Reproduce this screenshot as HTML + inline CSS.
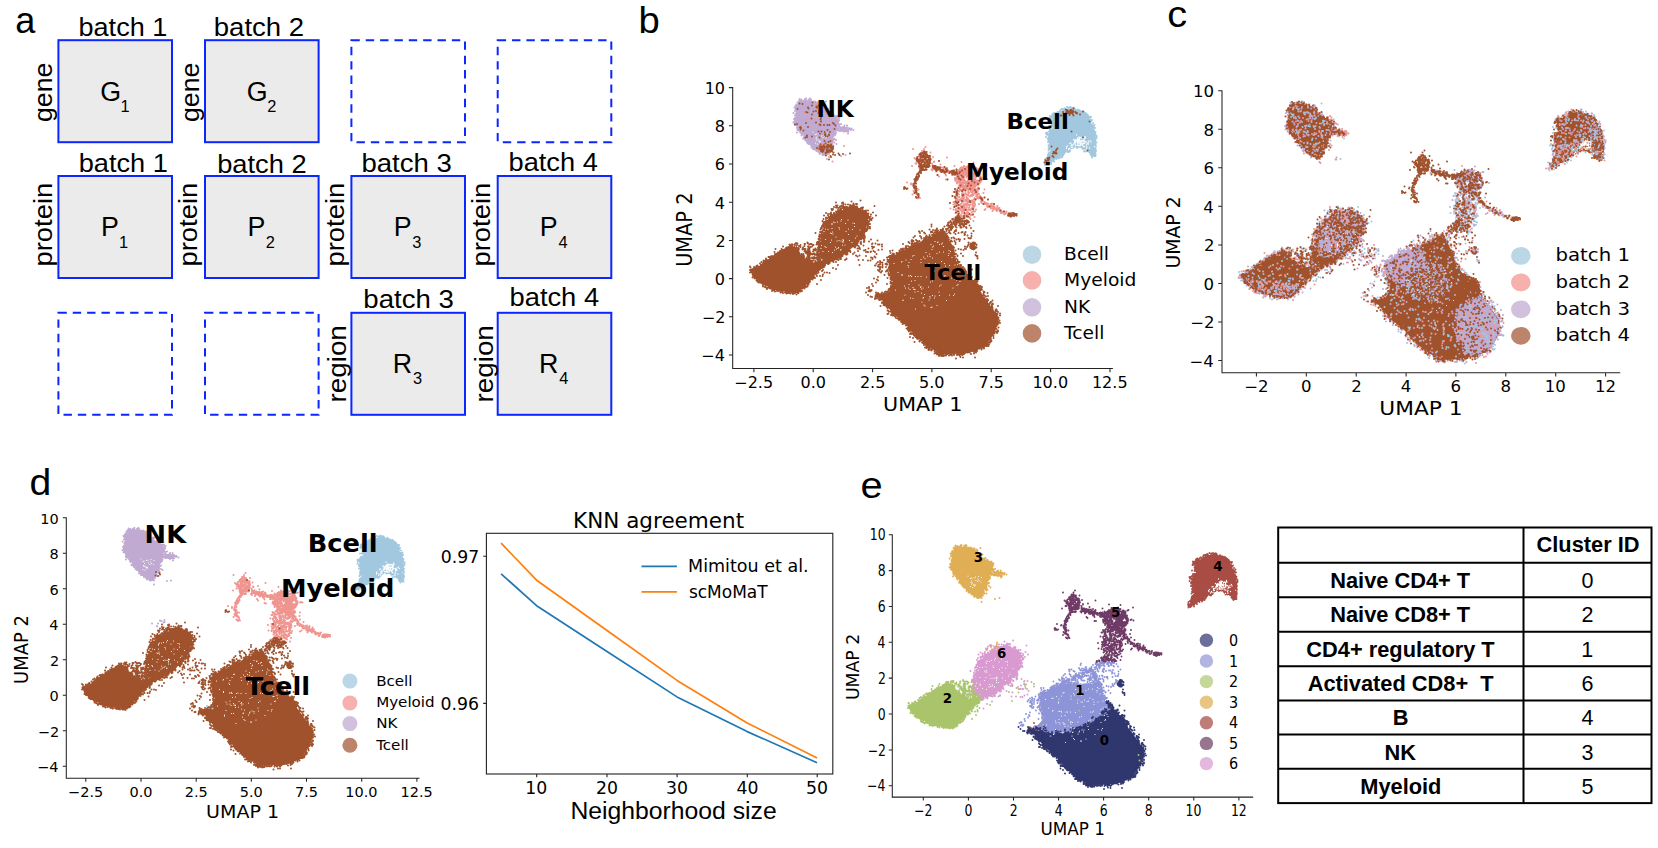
<!DOCTYPE html>
<html lang="en"><head><meta charset="utf-8"><title>scMoMaT figure</title>
<style>html,body{margin:0;padding:0;background:#fff}svg{display:block}text{white-space:pre}</style></head>
<body><svg width="1658" height="848" viewBox="0 0 1658 848">
<rect width="1658" height="848" fill="#fff"/>
<text transform="translate(15.27,33.00) scale(0.9631,1)" font-family='"Liberation Sans", Arial, sans-serif' font-weight="normal" font-size="37.50" fill="#000">a</text>
<text transform="translate(638.51,32.90) scale(1.0195,1)" font-family='"Liberation Sans", Arial, sans-serif' font-weight="normal" font-size="37.50" fill="#000">b</text>
<text transform="translate(1167.31,26.80) scale(1.0605,1)" font-family='"Liberation Sans", Arial, sans-serif' font-weight="normal" font-size="37.50" fill="#000">c</text>
<text transform="translate(29.54,494.70) scale(1.0431,1)" font-family='"Liberation Sans", Arial, sans-serif' font-weight="normal" font-size="37.50" fill="#000">d</text>
<text transform="translate(860.61,498.00) scale(1.0610,1)" font-family='"Liberation Sans", Arial, sans-serif' font-weight="normal" font-size="37.50" fill="#000">e</text>
<rect x="58.4" y="40.2" width="113.6" height="102.0" fill="#ebebeb" stroke="#0c26ff" stroke-width="2"/>
<text transform="translate(100.24,100.60)" font-family='"Liberation Sans", Arial, sans-serif' font-weight="normal" font-size="26.80" fill="#000">G</text>
<text transform="translate(120.50,111.80)" font-family='"Liberation Sans", Arial, sans-serif' font-weight="normal" font-size="16.40" fill="#000">1</text>
<rect x="205.0" y="40.2" width="113.6" height="102.0" fill="#ebebeb" stroke="#0c26ff" stroke-width="2"/>
<text transform="translate(246.63,100.60)" font-family='"Liberation Sans", Arial, sans-serif' font-weight="normal" font-size="26.80" fill="#000">G</text>
<text transform="translate(267.31,111.80)" font-family='"Liberation Sans", Arial, sans-serif' font-weight="normal" font-size="16.40" fill="#000">2</text>
<rect x="351.4" y="40.2" width="113.6" height="102.0" fill="none" stroke="#0c26ff" stroke-width="2" stroke-dasharray="8.4 5.95"/>
<rect x="497.7" y="40.2" width="113.6" height="102.0" fill="none" stroke="#0c26ff" stroke-width="2" stroke-dasharray="8.4 5.95"/>
<rect x="58.4" y="176.0" width="113.6" height="102.0" fill="#ebebeb" stroke="#0c26ff" stroke-width="2"/>
<text transform="translate(101.04,236.40)" font-family='"Liberation Sans", Arial, sans-serif' font-weight="normal" font-size="26.80" fill="#000">P</text>
<text transform="translate(118.89,247.60)" font-family='"Liberation Sans", Arial, sans-serif' font-weight="normal" font-size="16.40" fill="#000">1</text>
<rect x="205.0" y="176.0" width="113.6" height="102.0" fill="#ebebeb" stroke="#0c26ff" stroke-width="2"/>
<text transform="translate(247.44,236.40)" font-family='"Liberation Sans", Arial, sans-serif' font-weight="normal" font-size="26.80" fill="#000">P</text>
<text transform="translate(265.70,247.60)" font-family='"Liberation Sans", Arial, sans-serif' font-weight="normal" font-size="16.40" fill="#000">2</text>
<rect x="351.4" y="176.0" width="113.6" height="102.0" fill="#ebebeb" stroke="#0c26ff" stroke-width="2"/>
<text transform="translate(393.69,236.40)" font-family='"Liberation Sans", Arial, sans-serif' font-weight="normal" font-size="26.80" fill="#000">P</text>
<text transform="translate(412.16,247.60)" font-family='"Liberation Sans", Arial, sans-serif' font-weight="normal" font-size="16.40" fill="#000">3</text>
<rect x="497.7" y="176.0" width="113.6" height="102.0" fill="#ebebeb" stroke="#0c26ff" stroke-width="2"/>
<text transform="translate(539.75,236.40)" font-family='"Liberation Sans", Arial, sans-serif' font-weight="normal" font-size="26.80" fill="#000">P</text>
<text transform="translate(558.46,247.60)" font-family='"Liberation Sans", Arial, sans-serif' font-weight="normal" font-size="16.40" fill="#000">4</text>
<rect x="58.4" y="312.8" width="113.6" height="102.0" fill="none" stroke="#0c26ff" stroke-width="2" stroke-dasharray="8.4 5.95"/>
<rect x="205.0" y="312.8" width="113.6" height="102.0" fill="none" stroke="#0c26ff" stroke-width="2" stroke-dasharray="8.4 5.95"/>
<rect x="351.4" y="312.8" width="113.6" height="102.0" fill="#ebebeb" stroke="#0c26ff" stroke-width="2"/>
<text transform="translate(392.85,373.20)" font-family='"Liberation Sans", Arial, sans-serif' font-weight="normal" font-size="26.80" fill="#000">R</text>
<text transform="translate(413.00,384.40)" font-family='"Liberation Sans", Arial, sans-serif' font-weight="normal" font-size="16.40" fill="#000">3</text>
<rect x="497.7" y="312.8" width="113.6" height="102.0" fill="#ebebeb" stroke="#0c26ff" stroke-width="2"/>
<text transform="translate(538.91,373.20)" font-family='"Liberation Sans", Arial, sans-serif' font-weight="normal" font-size="26.80" fill="#000">R</text>
<text transform="translate(559.30,384.40)" font-family='"Liberation Sans", Arial, sans-serif' font-weight="normal" font-size="16.40" fill="#000">4</text>
<text transform="translate(78.51,35.50) scale(1.0175,1)" font-family='"Liberation Sans", Arial, sans-serif' font-weight="normal" font-size="26.60" fill="#000">batch 1</text>
<text transform="translate(213.78,35.50) scale(1.0365,1)" font-family='"Liberation Sans", Arial, sans-serif' font-weight="normal" font-size="26.60" fill="#000">batch 2</text>
<text transform="translate(78.70,171.80) scale(1.0223,1)" font-family='"Liberation Sans", Arial, sans-serif' font-weight="normal" font-size="26.60" fill="#000">batch 1</text>
<text transform="translate(217.19,172.50) scale(1.0258,1)" font-family='"Liberation Sans", Arial, sans-serif' font-weight="normal" font-size="26.60" fill="#000">batch 2</text>
<text transform="translate(361.38,172.40) scale(1.0361,1)" font-family='"Liberation Sans", Arial, sans-serif' font-weight="normal" font-size="26.60" fill="#000">batch 3</text>
<text transform="translate(508.50,171.40) scale(1.0241,1)" font-family='"Liberation Sans", Arial, sans-serif' font-weight="normal" font-size="26.60" fill="#000">batch 4</text>
<text transform="translate(363.37,307.80) scale(1.0384,1)" font-family='"Liberation Sans", Arial, sans-serif' font-weight="normal" font-size="26.60" fill="#000">batch 3</text>
<text transform="translate(509.49,305.80) scale(1.0276,1)" font-family='"Liberation Sans", Arial, sans-serif' font-weight="normal" font-size="26.60" fill="#000">batch 4</text>
<text transform="translate(51.80,122.07) rotate(-90) scale(1.0048,1)" font-family='"Liberation Sans", Arial, sans-serif' font-weight="normal" font-size="26.60" fill="#000">gene</text>
<text transform="translate(198.70,122.07) rotate(-90) scale(1.0048,1)" font-family='"Liberation Sans", Arial, sans-serif' font-weight="normal" font-size="26.60" fill="#000">gene</text>
<text transform="translate(52.40,266.51) rotate(-90) scale(1.0294,1)" font-family='"Liberation Sans", Arial, sans-serif' font-weight="normal" font-size="26.60" fill="#000">protein</text>
<text transform="translate(197.00,266.51) rotate(-90) scale(1.0294,1)" font-family='"Liberation Sans", Arial, sans-serif' font-weight="normal" font-size="26.60" fill="#000">protein</text>
<text transform="translate(344.40,266.51) rotate(-90) scale(1.0294,1)" font-family='"Liberation Sans", Arial, sans-serif' font-weight="normal" font-size="26.60" fill="#000">protein</text>
<text transform="translate(489.80,266.51) rotate(-90) scale(1.0294,1)" font-family='"Liberation Sans", Arial, sans-serif' font-weight="normal" font-size="26.60" fill="#000">protein</text>
<text transform="translate(346.30,402.41) rotate(-90) scale(1.0441,1)" font-family='"Liberation Sans", Arial, sans-serif' font-weight="normal" font-size="26.60" fill="#000">region</text>
<text transform="translate(493.40,402.41) rotate(-90) scale(1.0441,1)" font-family='"Liberation Sans", Arial, sans-serif' font-weight="normal" font-size="26.60" fill="#000">region</text>
<path d="M798.8 101.9L805.5 100.0L812.8 101.7L818.9 103.4L826.8 112.8L836.2 116.7L838.2 119.8L836.3 125.9L834.3 133.9L831.6 140.6L830.2 146.0L827.7 152.4L825.8 155.5L818.9 151.9L813.8 146.7L807.1 140.1L800.5 132.1L795.4 124.0L797.5 115.6L796.1 108.3Z" fill="#c0aad2"/>
<path transform="scale(.5)" d="M1598 202zm1 1zm0-5zm1 5zm0-2zm1 2zm0-1zm1 0zm1-3zm0 4zm0-3zm3 3zm1-1zm2 1zm1-4zm0-1zm1 5zm0-3zm1-3zm1 5zm3 1zm1-4zm2 3zm1-5zm2 6zm0-4zm1 4zm4 0zm4 0zm21 0zm-5 12zm0-1zm-1-1zm-1 2zm0-6zm-1 1zm0 4zm-1-7zm-1 8zm-1-2zm0-1zm0-2zm-1-1zm-1-1zm0-3zm-3 4zm0-5zm-1 2zm-1 2zm-1 0zm0-1zm-1-1zm-1-2zm-1 1zm-1 0zm-1 1zm-2-1zm0 2zm-1 1zm-2-4zm0 3zm-1-2zm-4 0zm-2-1zm-9 0zm-2 0zm-2 0zm-1 1zm-1 6zm-1-6zm-1 1zm0 6zm-2-1zm0-5zm0-1zm0 4zm0 4zm-1 0zm-1-1zm0 3zm0-10zm-1 7zm-1-2zm0 4zm0-5zm-1 2zm-1 1zm-2 3zm-2 11zm3-4zm1-4zm0-2zm1 0zm1 6zm0 4zm1-1zm0-6zm0 2zm2 1zm0-6zm3 9zm43-8zm1-1zm2 2zm0-2zm1 4zm1-3zm1 2zm0 2zm1-2zm1 4zm1 4zm1-6zm0 3zm0-5zm0-1zm0 9zm2-3zm1 2zm0 1zm1-9zm3 8zm1 1zm2-2zm17 11zm-3 3zm0-5zm-2 5zm0-5zm0-2zm-1 5zm-1 1zm-1-5zm-2-1zm-1 2zm-1-5zm0 3zm0-2zm-1 0zm0-1zm0 3zm-1 5zm0-6zm-1 1zm0-1zm-2-1zm-2-1zm-2 2zm0-3zm-1 0zm-58 5zm-2 6zm0-7zm0 4zm-1-3zm0-5zm0 4zm0 3zm0-5zm-1 5zm0-5zm0 9zm0-2zm-1 2zm0-10zm0 3zm-1 5zm0-2zm0 4zm0-5zm-1 5zm0-10zm0-1zm-1 1zm-1 7zm0-5zm-1 8zm0-2zm-1 1zm-1 7zm1-1zm1 4zm1-7zm0 9zm0-1zm0-5zm1 6zm1 0zm0-1zm0-1zm0-6zm1 1zm0 4zm1-3zm0 7zm0-1zm0-5zm0 4zm3-9zm0 9zm68-2zm5 4zm0-6zm1-3zm1 8zm0-1zm1-2zm0 3zm0-6zm1 6zm0-6zm0 4zm0-1zm0-5zm1 5zm0-7zm1 8zm0-5zm0 3zm0-5zm1 2zm0-1zm1 9zm0-10zm0-1zm0 9zm1 0zm3-1zm7 3zm5 0zm13 9zm-4-3zm0 1zm-1 2zm-2-2zm-2 0zm0-2zm-1 7zm-1-1zm0-2zm-1 1zm-1-4zm0-2zm-1 8zm0-1zm-2-6zm0 3zm0-2zm-1 4zm0-5zm0 4zm-1 1zm0-6zm0 8zm0-5zm-2-4zm0 9zm0-6zm0-2zm-1 7zm0-1zm0-5zm0-2zm-1 4zm0 3zm-1-4zm0 4zm0-2zm-1 2zm0-6zm0 3zm-1-1zm0 3zm-1 2zm0-5zm-1-3zm0 2zm-1 6zm-1-10zm0 6zm0-5zm-2 7zm-1-3zm0 4zm0-6zm-2-3zm0 3zm0 4zm0-5zm0 4zm-1-6zm-1 6zm0 3zm-1-4zm0 4zm-1-6zm0-2zm0 4zm-1 5zm0-5zm-1 5zm0-2zm-64 0zm-1-4zm-2-2zm0 4zm-1 5zm-1-7zm0 4zm-1 0zm0-1zm0-5zm-1 6zm0-6zm-1 6zm0-6zm0 4zm0-6zm0 4zm-1 0zm0-1zm0 10zm6-1zm1 1zm2 3zm0 3zm0-5zm1 4zm0-3zm1 2zm1-5zm0 3zm1 0zm1 7zm1-8zm0 9zm1-6zm1 3zm0 3zm0-1zm3 1zm46-8zm2 8zm1 0zm0-1zm2 1zm1-3zm0-5zm0 3zm1-4zm0 7zm1-8zm0-1zm0 4zm1-2zm1 4zm0-5zm0 3zm1 0zm1-3zm24 2zm-27 11zm0 7zm-1-6zm-2 1zm0-1zm-1 7zm0-5zm0 2zm0-6zm-1-1zm0 8zm-1-2zm0-1zm0 4zm0-1zm0-5zm-1 7zm0-1zm0-2zm-1-1zm0-2zm0-1zm-1 1zm-1-2zm-1 7zm-1 1zm-27-1zm-7 2zm-2 0zm0-1zm-1 1zm0-1zm0-1zm-1-2zm-1 1zm0-1zm-2-5zm-1 4zm0-5zm0 9zm0-5zm-1-4zm0 7zm-2-4zm-1 1zm0-2zm-2-1zm0-1zm-1-1zm-2 1zm11 11zm4 1zm1 2zm0-2zm1 6zm0-5zm1-1zm1 2zm0 3zm1-5zm0 9zm0-4zm1-3zm0 2zm0-5zm0 8zm1-5zm0 4zm0-1zm1 1zm0-5zm0 9zm0-1zm0-7zm1 8zm0-2zm0-6zm1 6zm0-5zm1 6zm0-5zm1 6zm0-1zm1 0zm1-1zm1 1zm22-1zm0-5zm0-1zm0 8zm1-11zm0 8zm1-5zm0 7zm1-8zm1-1zm0-1zm1 5zm2 1zm0-5zm2 3zm6-4zm18 22zm-27-10zm-4 0zm-3 5zm0-4zm-1 2zm-1-1zm-1-2zm0 6zm0 4zm-1-3zm0-2zm-2-2zm-1-2zm0 9zm-1-3zm-2 3zm-1-2zm0-1zm-1 3zm0-1zm-1-4zm0-1zm0-2zm-3 4zm0-5zm-1 3zm-1 4zm-1-4zm-1-2zm0 2zm-3-3zm-1-1zm0 2zm21 16zm28-6z" stroke="#c0aad2" stroke-width="4.0" stroke-linecap="round" fill="none"/>
<path transform="scale(.5)" d="M1626 264zm5 5zm2 5zm0-6zm5-1zm3-1zm2 6zm3 3zm1-11zm0 6zm2 3zm4 2zm1-8zm-13 16zm-2 1zm-1-2zm0-1zm-2-3zm-3 2zm-1-3zm-1 9zm4 2z" stroke="#fff" stroke-width="2.4" stroke-linecap="round" fill="none"/>
<path d="M1051.0 117.1L1058.2 113.8L1066.3 109.3L1073.9 108.7L1082.4 111.8L1088.4 116.7L1092.2 125.6L1094.7 136.0L1094.1 146.5L1094.8 154.0L1093.6 155.7L1090.0 154.0L1086.9 150.2L1081.5 146.4L1075.0 146.4L1069.1 149.3L1063.8 153.4L1056.0 158.6L1048.4 162.4L1044.9 163.8L1045.2 162.7L1049.7 154.9L1051.1 145.1L1048.5 134.7L1053.7 126.7Z" fill="#a2c8e0"/>
<path transform="scale(.5)" d="M2148 215zm-7-1zm-3 1zm-4-1zm-27 13zm2-1zm4 0zm2-2zm2 0zm1 3zm1-1zm1 1zm0-5zm1-1zm2 3zm0-6zm1 7zm1-1zm0-5zm0 6zm1-6zm1 3zm0-1zm1-1zm0-1zm0-1zm1-1zm0 4zm0-1zm1 7zm0-10zm0 3zm0-1zm1 0zm1 6zm1-5zm4-4zm0 3zm1 0zm3 1zm1-1zm0-1zm0-1zm1 0zm2 1zm0-2zm1 5zm0-5zm0 4zm1-4zm1 5zm0-1zm0-2zm1 4zm0-5zm0 8zm0-6zm1 0zm3 4zm2 1zm0-5zm1 1zm2 0zm0 3zm0-1zm1 1zm1-1zm1 0zm2 3zm1-2zm0 4zm1-2zm1 1zm0-1zm1-2zm2 2zm1 2zm0-1zm2 1zm10 7zm-1 1zm0-1zm-1 5zm-2 0zm0-5zm-1-1zm-1 4zm0-6zm-1-1zm0 9zm0-5zm0-3zm-1 5zm0-6zm0-1zm-1 4zm-2-3zm-3 1zm0-1zm0-1zm0-1zm-48 0zm-1 1zm-1 1zm-1-1zm-5 1zm0-2zm-1 1zm-1 1zm-1-2zm-1 3zm0 7zm0-5zm-1 1zm0-1zm0 3zm0-5zm-1 6zm0-7zm0 8zm-1-5zm0-5zm0 10zm-1-4zm0 3zm0-6zm-1 4zm0-2zm-1 3zm0-2zm-1 4zm-1-6zm0 4zm-2 3zm1 1zm4 5zm1 4zm0-2zm0-5zm0 4zm0-1zm1 3zm1 3zm0-5zm0 4zm1-7zm0 4zm0 4zm0-5zm70-4zm1-1zm1 2zm1 5zm0-2zm0-2zm1 4zm0-6zm0 8zm1-7zm1 7zm1-10zm1 11zm1 0zm0-5zm3 4zm1 6zm-2 6zm0-1zm0-1zm0-5zm-1-1zm0 8zm0-10zm0 9zm-1-8zm0 8zm0-5zm-1 4zm0-6zm0 3zm-1-3zm0 9zm-1-10zm0 7zm-1-5zm0 2zm0 4zm-1-4zm-1-3zm-70 2zm-1 1zm0-1zm-1 2zm-1-5zm-1 6zm-1-6zm-1 6zm-1 0zm-1-7zm0 8zm-2 0zm0-1zm-1 4zm-1 0zm0-11zm-6 22zm0-8zm1 3zm1-4zm1 2zm1 3zm1 1zm0 4zm2-8zm0 4zm0-7zm1 6zm0-3zm1 5zm0-7zm0-1zm2 0zm81 9zm2-2zm0-5zm0-1zm1-1zm0 4zm0 4zm0-6zm2 4zm0 3zm0-1zm1-7zm0 1zm1 3zm0-5zm2 10zm0-2zm0 4zm0 9zm-1-9zm0 9zm-1-5zm0 4zm0-5zm-1 0zm0 3zm0-5zm0 4zm-1-3zm0 4zm-1 2zm0-1zm0-2zm-1-5zm-1 3zm0-2zm-3 10zm-79-9zm-1 2zm0 3zm0-2zm0-5zm-1 4zm0 7zm-1-2zm0-1zm0-5zm0 8zm-1-10zm0-1zm0 9zm0-5zm-1 2zm0-1zm0 4zm0-6zm-1 0zm0 3zm0-6zm-2 1zm0 7zm0-5zm1 17zm0-5zm1 8zm1-9zm0 4zm0-5zm1 8zm0-1zm0-1zm0-5zm1 7zm0-5zm1 4zm0-1zm0-1zm0-1zm0-5zm0 9zm1-3zm0-2zm0-1zm1 8zm4-8zm26 6zm2 2zm1 0zm2-1zm1 0zm0-1zm0-1zm1-2zm0 2zm1 2zm1-2zm0-1zm0 2zm2-2zm1 0zm0-1zm1-3zm0 4zm2-4zm2 2zm1-2zm1-2zm1 7zm0-5zm1 3zm3-1zm0 1zm1-5zm2 5zm0-1zm1-3zm0 4zm0-1zm0-1zm1 2zm1-4zm1 3zm0 4zm2 2zm0-6zm1 2zm0 4zm2-1zm0-1zm2-3zm2 4zm0 1zm12-9zm1 7zm0-7zm1-1zm0 9zm0-1zm0 2zm1-9zm0-2zm0 9zm1-8zm1 10zm0-10zm0 7zm1-4zm0 9zm0 1zm-1 2zm0 4zm0 2zm-1-8zm0 2zm-1 1zm0 4zm0-7zm-1 3zm0-5zm-1 8zm-1 2zm0-2zm-1-7zm0 4zm-1 3zm-1 3zm-1-2zm-1 0zm0-1zm-2-4zm-2-1zm-1-1zm0-1zm-1-1zm-3 3zm-3-1zm-1 1zm-28-1zm-2-1zm0-1zm0 4zm-1-1zm-1-1zm-1 2zm-2-3zm0-1zm-1 1zm-2 3zm-1 2zm-1 1zm-1-2zm0 4zm0-5zm0-1zm-1 7zm0-5zm0 6zm-1-4zm-1-1zm-2 5zm0-5zm-2 3zm-1 2zm-4-1zm-12 1zm-1-6zm0-1zm0 2zm-1 1zm0-2zm0-1zm-1 7zm-1-1zm-1-2zm0-1zm0-1zm-1-5zm0 6zm-1 3zm-6 11zm0-2zm3-3zm1 0zm1 7zm0-5zm1-5zm0-1zm0 7zm1-5zm1 2zm0-2zm1 6zm0-5zm0-2zm0-1zm1 2zm1 7zm2 0zm1-3zm1 2zm0 1zm1 0zm2-2zm0 4zm0-10zm1 3zm1 1zm0-1zm1 1zm1 0zm0-2zm1 3zm1-2zm1-3zm1 2zm1 0zm1-2zm0 4zm0-5zm1 1zm1 2zm4 0zm0-2zm60 2zm0-2zm4-1zm1 0zm2 0zm-88 12zm-1 4zm-1-3zm-4 0zm0-1zm-1 3zm-2 2zm0-3zm-1-1zm0 3zm-1-3zm-1-1zm0 4zm0-1zm-1-1zm0 4zm0-2zm-1-4z" stroke="#a2c8e0" stroke-width="4.0" stroke-linecap="round" fill="none"/>
<path transform="scale(.5)" d="M2153 270zm5 4zm3 1zm1 0zm8-1zm0-1zm12 11zm-2-3zm-3 2zm-1 3zm-3-2zm-2 0zm0-8zm-2 11zm0-5zm0-6zm-1 6zm0-5zm0 2zm0 6zm0-5zm-1 1zm0 6zm0-5zm-2-6zm-1 1zm0 9zm0-5zm0 2zm-2 1zm0-3zm-1 2zm0 4zm-1-11zm-1 8zm0-7zm0 2zm0 2zm-1-1zm0 2zm0 4zm0-10zm0 9zm-1-6zm0 2zm-1-1zm0-1zm0 4zm0 2zm-1-1zm0-7zm0 4zm0-5zm0 2zm0 9zm-2-5zm-1-2zm0-1zm0 4zm-1 3zm0-5zm-1 4zm0-5zm0 2zm0 2zm-1 0zm0-3zm0 1zm-1 5zm0-1zm-1-7zm-5 7zm-2 1zm-7 7zm0 3zm2-5zm2 7zm1-2zm1 0zm3 2zm0-7zm1 3zm0-5zm1 0zm1 4zm1-4zm2-2zm3 3zm0-1zm3 1zm1 0zm1-2zm1 2zm1 0zm2-3zm0 4zm1-2zm1-1zm2-1zm1 3zm1-3zm1 5zm2 0zm4 3zm0-6zm1-2zm0 6zm3-6zm2 8zm-6 4zm-5 0z" stroke="#fff" stroke-width="2.6" stroke-linecap="round" fill="none"/>
<path transform="scale(.5)" d="M1826 298zm22 0zm3-4zm10 11zm-2 6zm-5-2zm0 2zm-1-7zm0 7zm-1-6zm0 4zm0-1zm-1-1zm-2-3zm0-1zm0 3zm-1 4zm0-7zm-1 0zm0 6zm-2-3zm-1-4zm-1 5zm0 4zm-1-3zm0-1zm-1 0zm0 1zm0 3zm0-1zm-1-1zm-1 0zm-10 7zm2 2zm2 4zm1-1zm0-5zm0 2zm0 2zm1-6zm0 9zm0-1zm1 0zm0 1zm1-4zm1 4zm0-11zm2 3zm0 6zm0-1zm0 3zm1-7zm0 5zm0-8zm0 9zm0-10zm1 6zm0 3zm0-9zm1 9zm0-8zm0-1zm1 8zm0 2zm0-10zm1 9zm0-1zm0-8zm0 1zm0 2zm0 3zm2 5zm0-1zm0-8zm0 6zm1-8zm1 2zm0-1zm0 5zm0 2zm0-8zm1 5zm1-2zm0 1zm0 2zm1-4zm0 2zm0 4zm1 2zm0 1zm1-9zm1-2zm0 11zm1-3zm0-8zm1 3zm0 4zm0 4zm0-7zm1 2zm0-6zm1 3zm0 2zm0 3zm0-8zm0 2zm1 8zm0-10zm0 3zm1 3zm0 1zm5-5zm2 9zm10-1zm16-7zm79 16zm-26 2zm0-8zm-3 9zm-2-3zm-1 3zm0 1zm-1-3zm-2 2zm-1 1zm-1-3zm-1 1zm0 2zm-2-1zm-4-1zm-1-1zm-1 1zm0 2zm-4 0zm0-11zm-1 11zm-13-3zm-20 2zm-4 1zm-3 0zm-1-6zm-1 6zm-2 0zm-1 0zm-2-1zm-2 1zm-2-3zm0 3zm-1-2zm0 1zm-1-2zm-1-8zm0 11zm-1-1zm-1 0zm0-2zm-1 2zm0-1zm0-3zm-1-3zm-4-1zm-1 6zm0-8zm-1 4zm0 1zm0 3zm0-1zm-1-4zm0 2zm0 3zm0 2zm-1-1zm0-9zm-1 1zm0 4zm0 5zm-1-4zm0 4zm-1-9zm0 2zm0 5zm-1 0zm-1 1zm0 2zm0-10zm0 4zm0 1zm-1-4zm0 2zm-1 6zm0-9zm0 3zm0 3zm0 1zm-1-2zm-1 0zm0-1zm-1 5zm0-4zm-1 2zm0-8zm-1 7zm0 2zm0 2zm0-10zm-1 6zm0 4zm0-11zm-1 8zm0-6zm0 2zm0 1zm-1 2zm0 3zm-2-7zm0 2zm0 2zm-1 2zm0-7zm-5 1zm-2 0zm-7 5zm12 15zm2-2zm1-8zm1 5zm0-1zm0 2zm1 1zm0-7zm0-1zm1 10zm0-9zm0 2zm1 1zm0 1zm1-2zm0 1zm1-3zm0 3zm1-2zm0 2zm3 0zm2-1zm1 1zm1-1zm10 0zm2-2zm0 4zm2-4zm1 0zm1 0zm1-1zm1 3zm1-3zm0 7zm1-1zm0-1zm0-5zm0 3zm1-3zm0 4zm2 0zm1-2zm1-2zm0 3zm1 2zm1-2zm0-1zm0 3zm0 1zm1 1zm0-4zm1 1zm0 1zm0 2zm1-3zm0 2zm0 2zm0-1zm1 0zm0-1zm2-2zm0 3zm1-5zm0 3zm1-3zm0 3zm0 3zm1 1zm0 2zm0-8zm0 4zm1 1zm0 1zm1-5zm0 4zm1-5zm0 5zm0-6zm1 2zm0-3zm1 6zm0-6zm0-1zm0 2zm1 4zm0-1zm0 2zm0-3zm2 5zm1-3zm0 1zm1 0zm0 3zm1-2zm3 1zm0-3zm1 4zm0-1zm0 2zm1-2zm0-4zm0 2zm0-1zm1 3zm1-3zm0 2zm0 2zm0-1zm1-3zm0-1zm0 3zm0 1zm2 1zm0 1zm1-1zm0-1zm0 2zm1-3zm0 1zm0 2zm1-8zm0 4zm1-1zm0 4zm0-1zm0-4zm1 2zm1-2zm0 2zm2 4zm0-7zm0 6zm1 0zm0-1zm0-2zm0-1zm0 2zm1-4zm0 1zm0 3zm0-7zm1 6zm0 2zm1-8zm1 3zm0 4zm0-1zm1-5zm0 3zm0 2zm1 0zm0 3zm0-6zm1 1zm0-1zm0 6zm0-1zm0 2zm0-10zm1 6zm0-2zm1 4zm0-6zm0 2zm1-1zm1 4zm0-6zm1-1zm0 4zm1 4zm0 2zm0-6zm0 3zm1-7zm0 2zm0 3zm0 2zm1 2zm0-1zm0-6zm1 7zm0-1zm0-1zm1 2zm0-5zm1 3zm0 2zm0 1zm1-11zm0 2zm1 3zm0 3zm1-6zm0 3zm0 2zm1 4zm0-9zm0 5zm0-1zm0 2zm1-8zm0 3zm1-2zm0 4zm0 1zm1 2zm1-6zm1 7zm1-6zm1 8zm0-8zm1 7zm0 1zm0-7zm0 4zm1 0zm0 2zm0-7zm0-1zm0 4zm1 5zm0-4zm0-1zm0 4zm1-9zm1-1zm0 5zm0 1zm0 4zm0 1zm1-8zm0-1zm0 2zm0 3zm1 2zm1-5zm0 3zm1-2zm0 5zm1-3zm0-5zm2 9zm2-10zm2-1zm10 22zm-4-2zm-2 1zm-5-1zm0-1zm0 3zm0 1zm-1-2zm0 1zm-1-5zm0 4zm0-8zm-1 1zm0 9zm-1-9zm0 5zm0-1zm0-6zm-1 1zm-1-1zm-1 4zm-1-3zm-1 1zm-1 3zm-1-4zm0 6zm-1-6zm0 3zm-1 2zm0 4zm0-10zm0 9zm0-4zm-2-3zm0 9zm0-8zm-1-1zm0 3zm-1 3zm0-1zm0-7zm-1 5zm0 1zm0 4zm0-7zm-1 4zm0-1zm-1-3zm0 1zm0 6zm0-10zm-2 11zm0-4zm0-1zm-1 5zm0-7zm0 3zm-1-3zm0 2zm0 4zm-1 1zm0-10zm0 2zm0-1zm0 6zm-1 1zm-1-9zm0 2zm0 2zm-1-1zm-1-1zm-1 2zm0 3zm0-1zm-1-6zm0 3zm-2-3zm-1 0zm0 11zm-1-7zm0 2zm0 4zm0 1zm0-10zm-1 6zm0 3zm0-9zm0 1zm-1 1zm0 3zm0 4zm-1-6zm0 6zm0-9zm-1 4zm-1-4zm0 2zm0-1zm0 6zm-1 2zm0-8zm-1 9zm0-8zm-1-3zm0 2zm0 6zm-1 0zm0-8zm0 11zm0-10zm0 2zm0 3zm-1 3zm0-6zm0 3zm-2 4zm0-5zm-1 2zm0-7zm0 2zm-1 8zm0-5zm-1 6zm0-10zm0 7zm-1-6zm0 6zm-1-8zm0 2zm-1 9zm0-3zm-1-7zm-2-1zm-1 1zm-1 1zm-1 0zm-9 9zm-3 0zm0-8zm-1-3zm-13 5zm-3-3zm-37 1zm0 2zm-1-5zm-1 6zm0 2zm-1 3zm0-4zm-1-6zm-1 4zm0 3zm0-1zm-1-1zm0 1zm0 2zm-1 1zm0 1zm-1 0zm0-1zm-1 1zm-15 6zm8 2zm0 2zm5-1zm0 2zm2-5zm0 2zm1-4zm0-1zm1 4zm0-4zm1 5zm1-6zm78 1zm3 3zm0 2zm1-4zm0 1zm0 2zm2-5zm0 3zm2 5zm0-4zm1-2zm0 5zm0 2zm0-1zm1 0zm0 2zm0-6zm0-5zm1 6zm0 4zm0-10zm0 11zm0-4zm1-4zm0 3zm1 5zm0-4zm0-1zm0 4zm1-4zm0-6zm1 6zm0 3zm0-1zm1-6zm1 2zm1 1zm0-1zm0 2zm0-6zm0 11zm1-9zm0 1zm1 2zm0 1zm1 3zm0-3zm1 0zm0 4zm1-3zm0-1zm0-3zm1 8zm0-7zm1 4zm0-6zm0-1zm1 8zm0-8zm0 2zm0 4zm0 1zm0-8zm1 1zm0 5zm1 5zm0-7zm0 2zm0-6zm1 8zm1 3zm0-8zm0 2zm0 2zm1-5zm0 6zm0 2zm0-10zm0 11zm1-8zm0 2zm0 2zm1 3zm0-8zm0-1zm1 5zm0-4zm1 6zm0-8zm0 3zm0-1zm0 3zm1 0zm0 1zm0 5zm0-7zm1 5zm0 1zm0-8zm0-1zm0 3zm1 1zm0-1zm1 3zm0 4zm1-10zm0 2zm1 5zm0-6zm0 9zm0-10zm1 4zm0-1zm0 2zm1-4zm0 3zm0 1zm0 4zm1 0zm0-9zm1 1zm0 6zm0 2zm1-8zm0 5zm0-1zm0 3zm1-7zm1 5zm0-6zm1 0zm0 3zm1 0zm1-2zm0-1zm7 18zm-11-2zm-1 2zm0-1zm-1-3zm-1 7zm0-3zm0-1zm-1 5zm0-5zm-1 3zm0 2zm-2-1zm0-9zm-1 5zm0 3zm0-1zm0 3zm-1-11zm0 3zm0 2zm-1 4zm0 1zm-1-5zm-1 3zm0-5zm-1 2zm0 4zm-1-8zm-1 3zm0 4zm-1-2zm0 2zm0 3zm-1-3zm0-8zm0 5zm0 1zm-1-3zm0 3zm-1-4zm0 4zm0-6zm-1 6zm-1-6zm0 9zm0-3zm-1-4zm0-1zm-1 5zm0-6zm0 3zm0 2zm0-1zm-1-4zm0 2zm0 1zm-2 2zm-1-2zm0 4zm0 2zm0-8zm-1 4zm-1-5zm0 2zm-1 3zm0 4zm0-8zm-1 3zm0 3zm0-1zm0-6zm0 9zm-1-1zm-1-6zm0 8zm0-9zm-1 9zm0-8zm0-1zm0 6zm-1-6zm0 7zm-1-8zm0 2zm-1 6zm-1-3zm0 3zm0-8zm-1 11zm0-6zm-1-5zm-1 4zm-1 7zm-1-2zm-1-2zm-3 1zm-1-2zm-73 1zm-4-2zm0 4zm-1 0zm0-8zm-1 5zm0 4zm0 1zm-1-6zm0-4zm0-1zm0 3zm-1 3zm-1-5zm0-1zm0 3zm-1 7zm-1-10zm-1 17zm4-3zm2-2zm1 1zm0 2zm0 7zm0-10zm1 11zm0-10zm1 3zm1 1zm1 1zm1-2zm0 3zm0 3zm68-2zm2-8zm2 0zm1 10zm1-2zm2-4zm0-4zm1 7zm1-4zm2 7zm1 1zm0-6zm1 5zm5 1zm0-8zm0 3zm1-4zm0 5zm1-1zm1-3zm0 4zm0 4zm1-5zm0 3zm0 1zm1-4zm2-4zm1 2zm1 6zm0 1zm1-5zm0 5zm1-5zm1-6zm1 3zm0 4zm2-6zm1 8zm2-3zm2-5zm0 6zm0-1zm0 2zm1-4zm0 1zm0 2zm0-1zm0-6zm1 6zm0-3zm1 3zm2-3zm1-2zm2 7zm0-8zm0 2zm1 2zm0 2zm0 2zm1 0zm0-2zm1 2zm0-8zm0 11zm0-10zm1 3zm0 1zm2-1zm0 6zm2-2zm1 3zm1-1zm5-8zm2 9zm15 12zm-8 0zm0-8zm-2 8zm-2 0zm0-1zm-1 1zm-1-2zm-1 0zm0-1zm0 2zm-4-3zm0-3zm0-1zm-1-2zm-1 2zm0 1zm0 6zm0-8zm-1 5zm-1-7zm-1 0zm-3 1zm-3-1zm-1 1zm-2 2zm-2 4zm0 2zm0 2zm0-11zm-1 3zm0 8zm-1-3zm0 3zm-2-6zm0 4zm-1 0zm0-1zm-1-3zm-3 1zm0 2zm-2-4zm-1 4zm-1 1zm0-8zm-1 6zm0-4zm-1 7zm-1-8zm-1 3zm0 6zm-1-7zm0 2zm-3-5zm0 6zm-1-4zm0 4zm-2-6zm0 3zm-1 2zm0 4zm0-8zm0-1zm-1 4zm-1-2zm-1-1zm0 1zm0 2zm-3-1zm-1 4zm-1-4zm0 5zm-1-4zm0 2zm0 2zm0 1zm-1-9zm0 3zm-1 5zm-1-6zm-1 4zm0-7zm-1 10zm-3-2zm-7 2zm-60-10zm-4 1zm-3-1zm68 21zm6 2zm0-10zm1 5zm1 0zm1-3zm1-1zm0 1zm1 7zm0 1zm1-8zm0 1zm0-3zm1-1zm1 0zm1 9zm1-2zm0 1zm0-6zm1 9zm1-2zm0-7zm2 2zm0 5zm0-9zm0 2zm2 5zm1-1zm0 2zm0-4zm1 6zm0-5zm0 4zm0-1zm1-5zm0 3zm1-4zm0 1zm0 5zm1 2zm0-10zm0 1zm0 3zm0 2zm1-5zm0 4zm1-3zm0 4zm0 4zm1 0zm0-9zm1-1zm1 9zm0-7zm1 4zm2-5zm0 1zm2 5zm0 3zm1-4zm0-3zm1-2zm1 0zm1 9zm1 1zm1-3zm1-7zm0 3zm1 1zm0 5zm1-6zm0 4zm1-2zm2-3zm0-3zm2 11zm6-11zm9 0zm4 10zm0-10zm2 0zm1 5zm1-2zm1-1zm0 4zm3-1zm2-5zm0 2zm0 4zm1-1zm0 4zm1-7zm0 3zm1-1zm1 4zm0 1zm1-2zm0 2zm1 0zm0 2zm0-7zm1 5zm0-9zm1 5zm0 3zm1 0zm1 2zm1 0zm2-4zm0 3zm1-5zm1 7zm0-1zm2-2zm1 0zm34 12zm0 3zm-2-3zm-2 1zm0 2zm-1-4zm-1 4zm0-1zm-1-4zm0 2zm-1 1zm0 2zm-1-2zm0 2zm-1-5zm0 5zm-1-1zm-1-3zm-1 0zm0 3zm-1-2zm0 2zm-2-3zm0 4zm-1 0zm-3-8zm-1 1zm0 2zm-1 2zm-2 1zm-1-5zm0-1zm0 5zm-1-5zm-2 1zm-1 2zm-1-3zm-1 3zm0-5zm-1 0zm-1 2zm-1-2zm0-1zm-5 2zm-2-2zm-7 2zm-16-2zm-19 3zm-3-2zm0 1zm0 1zm-1 6zm-2 1zm0-6zm-1 1zm0 5zm-2 1zm0-11zm-2 8zm-1-8zm-1 6zm-1 3zm-1-6zm0 3zm-1-1zm0-5zm-1 8zm-2-8zm-1 0zm0 8zm-1 0zm0-8zm0 2zm0 4zm-1 5zm0-7zm-2-4zm-2 3zm0 3zm-1 5zm0-9zm-1 8zm-1-10zm-1 11zm-1-5zm-1-2zm-1 5zm0-1zm0 3zm-1-8zm0 5zm-1-6zm-1 9zm-1-9zm-1 3zm-1-5zm0 6zm-6 12zm2-1zm0 2zm3 1zm2 1zm0 2zm0-7zm0-1zm0 3zm1-5zm0 4zm2-3zm0 2zm0-1zm1 4zm0 2zm0 2zm0-11zm1 4zm0-1zm0 5zm1 1zm0-7zm1 0zm1 4zm1-2zm1 7zm1-10zm1 7zm3-8zm0 6zm0-1zm1 5zm0-10zm0 3zm0 3zm1-6zm0 4zm1 6zm3-2zm0 3zm0-11zm1 2zm2-1zm2 2zm0-1zm2 2zm1 2zm6 4zm2-8zm68-2zm1 0zm3 1zm1 0zm6-1zm-104 12zm-12 1z" stroke="#f09490" stroke-width="4.0" stroke-linecap="round" fill="none"/>
<path d="M889.1 257.5L899.2 252.7L915.3 244.6L931.5 236.5L941.0 231.4L947.6 237.3L952.8 251.8L957.0 262.8L966.6 273.8L977.2 284.4L982.5 295.1L990.7 306.0L997.2 314.9L996.3 326.4L993.2 335.2L985.1 346.3L973.7 350.8L954.4 354.0L941.0 354.6L929.0 347.1L915.8 336.5L905.0 323.0L894.3 315.0L882.1 300.2L875.3 296.1L888.7 292.8L893.4 283.7L888.8 270.0ZM751.6 271.1L759.4 265.8L771.5 257.8L783.5 249.8L791.5 245.9L794.7 250.8L804.4 259.2L816.9 264.7L822.7 265.4L818.8 270.2L810.8 278.9L804.1 286.8L795.5 293.1L786.9 291.8L773.8 289.2L763.4 284.0L755.7 277.5ZM820.8 247.2L823.0 229.5L829.5 216.5L842.7 209.9L852.2 205.2L861.5 209.4L868.9 216.1L867.1 224.6L863.4 235.6L854.6 244.3L845.8 251.0L837.1 256.4L828.9 258.0L822.9 253.9Z" fill="#a0522d"/>
<path transform="scale(.5)" d="M1815 377zm-2 1zm-2-2zm-2-2zm0 2zm-1-1zm0 3zm-87 23zm-14 6zm-4-4zm-40 15zm3 0zm14 1zm1-2zm1 1zm2-5zm3 1zm1 2zm0 2zm1-4zm0 1zm1 4zm1-2zm0-1zm1-2zm1 3zm0-1zm0 3zm0-1zm1 1zm0-1zm0-4zm0 2zm1-1zm1-6zm2 6zm2-2zm0 2zm0-5zm1 1zm1 5zm0-5zm3 7zm1-7zm0-1zm2 0zm0 1zm1 2zm0 3zm0 1zm1 1zm0-5zm1 4zm1-9zm1 11zm0-6zm0 2zm1-1zm0-1zm0-5zm1 10zm0-2zm3 2zm0 1zm3-1zm1-2zm2-1zm1 2zm0 1zm1-3zm23-3zm3 19zm-6-6zm-4 4zm-5-2zm-1-6zm0 9zm-2 1zm0-3zm-1-2zm0 3zm0 2zm-1-10zm0 3zm0 2zm0 3zm-1-3zm-1 1zm0 3zm0-8zm0 4zm-1 2zm-1-6zm0 2zm-1 1zm-2-4zm0 1zm-1 6zm0 1zm0-7zm-1 0zm-1 3zm0-3zm-3-2zm-1 0zm-1 3zm0 2zm-2-3zm-23-1zm-2 4zm0-4zm-1 7zm-1-8zm-2 3zm-3-1zm0-1zm-1 1zm0 2zm0 4zm-1-8zm0 8zm-1-7zm0 3zm-1-1zm0 3zm0 1zm-1 0zm0 2zm-1-3zm-1-4zm-1 2zm0 2zm-1 0zm-1-1zm-1-2zm-3 4zm0 2zm0 2zm0-1zm-1-4zm0 2zm0 1zm-1 2zm0-1zm-2 1zm-1 0zm0-11zm-1 10zm-1 0zm0-5zm-1 4zm-1-1zm-4 0zm0 3zm-4-5zm-4 5zm-3 11zm2-4zm5 4zm0-7zm0 3zm2 4zm1-6zm0 5zm3-7zm3 6zm0-1zm0-6zm0-1zm0 4zm0-1zm1-3zm0 4zm1 5zm0-9zm0 3zm0 2zm1-5zm4 4zm8-2zm9-2zm31 0zm8 1zm1 9zm1-1zm6-1zm0 2zm1-8zm0 3zm0-4zm1 0zm0 1zm0 8zm1 1zm0-9zm0 6zm1-8zm2 2zm0 2zm0 7zm1-8zm0 7zm1-3zm1-6zm1 5zm1 2zm2-4zm156 6zm4-3zm2 4zm3-4zm0 4zm1-7zm0-1zm1 6zm1-6zm0 6zm1-7zm1 4zm1 2zm1 1zm1-5zm0 2zm1-4zm0 3zm1 3zm0 2zm2-5zm1 6zm1-5zm1 4zm2-6zm0-1zm1 8zm1-7zm2 6zm2 1zm1-2zm2 1zm3 9zm-1-7zm-1 1zm-2 0zm-1 0zm-1 3zm-1 0zm0 6zm-1-6zm-2-3zm0-1zm0 2zm-1 5zm0 2zm0-4zm-1 4zm-1-3zm-1-3zm-1 1zm0-1zm-1 8zm-2-6zm0 3zm0 3zm-1-8zm0 2zm0-3zm-1 5zm-1 0zm-1-6zm-2 0zm-2 0zm0 3zm0 1zm0 6zm-1-7zm0 2zm-1 3zm0-1zm-1-2zm-1-3zm0 2zm-1-5zm0 4zm-1-1zm0-1zm-1 8zm-2-4zm0 3zm-1-8zm0 2zm-1-2zm-1 5zm0 4zm-3-2zm0-7zm0 9zm-1-9zm0 2zm-1 4zm0-5zm0 3zm-2 2zm-5 2zm-26-4zm0 4zm-123 1zm0-6zm-1 6zm-2-8zm0 3zm-1 3zm-1 1zm0-7zm0 2zm0 2zm-3-4zm0 3zm-1-5zm0 2zm-1 8zm0 1zm-2 0zm-67-3zm-3-5zm0 2zm0-4zm-1 6zm0-5zm0 1zm-2 3zm0-5zm-1 3zm0 2zm-1-1zm0-5zm-1 9zm0-8zm0 2zm0 3zm-1 5zm0-1zm0-7zm-1 2zm-1-5zm-1 11zm0-9zm0 5zm-1 0zm0 2zm0-8zm0 1zm-1 6zm0 2zm0-5zm-1 3zm0 3zm0-1zm-1-2zm0 2zm-13 12zm9-2zm1-5zm1-3zm0 8zm1-7zm0 9zm1-3zm0-7zm2 7zm0-2zm1-1zm0 1zm0 4zm0-8zm0 1zm1 7zm0-8zm0 4zm0 3zm3-4zm64 2zm6 2zm0-6zm2 6zm1-3zm0 4zm1-3zm0 1zm1-1zm1 2zm0 2zm0-7zm1 7zm0-9zm1 8zm0-3zm1-5zm1-1zm0 3zm0-1zm1 0zm0 4zm1 0zm0-1zm1-1zm1-4zm0 2zm1-1zm4 0zm98 6zm1 0zm1 3zm4-4zm4 3zm2 2zm9-8zm3 4zm0 2zm3-1zm1-4zm3 5zm1-4zm2 4zm1-6zm0 4zm0 4zm1-10zm0 8zm0 2zm0-1zm1-4zm1-1zm0 4zm2 2zm1-2zm0-1zm0 2zm1 1zm1-1zm0-6zm1 1zm1 5zm0-6zm0 3zm1-3zm0 2zm0-1zm1 5zm0-1zm1-8zm0 2zm1 4zm0 4zm0-1zm1-3zm1 1zm1 2zm2-8zm1 4zm1 5zm0-8zm2-2zm2 8zm0-4zm1 3zm2-8zm0 2zm0 9zm1-7zm1-4zm1 1zm4 8zm2-3zm2-2zm0 2zm5 4zm6-1zm2-1zm4 3zm2-3zm2-8zm9 0zm1 11zm4-5zm-4 10zm-1 4zm-2 1zm-3-1zm-2-5zm-5-2zm-1 9zm0-8zm-9 9zm-3-1zm-4 1zm-2-11zm-2 9zm-2-2zm-4 1zm-5 3zm-1-4zm-2 0zm0 1zm0-4zm0 2zm-1 5zm-1-7zm0 1zm-1 5zm0-8zm-1-1zm-1 3zm0 1zm-2-1zm-1-3zm-5-1zm-2 1zm-2-1zm-2 7zm0-6zm0-1zm-1 0zm-2 0zm-1 1zm0-1zm-2 2zm0 1zm-2-2zm0 3zm-1-4zm0 3zm0 4zm-3-5zm-2 6zm-2-2zm0-1zm0 2zm-1 2zm0-1zm0-6zm-1 5zm-1-1zm-2 1zm-2-4zm0 3zm0 3zm-1-4zm-1 3zm-1 2zm-2-2zm0 3zm-5-2zm-1-3zm-2-2zm-10 0zm-3 3zm-85 4zm-12-5zm-1 3zm0-6zm-1 8zm0-11zm0 4zm-1-2zm0-1zm-1 6zm0 1zm-2-3zm0 2zm-1 3zm0-9zm0 3zm-1 7zm0-10zm0 2zm0-1zm0 5zm0 3zm-1-2zm0 1zm0-6zm-1 6zm0 1zm-1-7zm0 7zm0-1zm-1 1zm-1-5zm-1 3zm0 1zm0-7zm-1 7zm0-4zm-3 1zm-9 1zm-51 1zm0-7zm-1 10zm-2-4zm-1 0zm0-4zm0 2zm-1 0zm0 1zm0 2zm0 1zm-1 0zm-1-5zm0 1zm0 2zm-1-6zm0 9zm-1-7zm0 3zm0 1zm0 4zm0-9zm0 2zm-1-2zm0 4zm-1 0zm-1-1zm-1-4zm0 4zm0 4zm-1-4zm0 6zm-1-1zm-58 11zm1 2zm3-2zm0 2zm0-1zm1-1zm1 0zm4 1zm1-2zm2-2zm1 5zm1-1zm1-3zm6 3zm8-2zm1 0zm5-3zm0 1zm1 1zm3 2zm2-1zm2 0zm3 2zm1 0zm6-1zm1-4zm0 1zm1-2zm1 0zm0 4zm0 1zm1-5zm1 7zm0-8zm1 1zm0 2zm0-1zm0 3zm0-1zm0 2zm1-2zm0 3zm1-4zm0 3zm0-9zm1 7zm0 3zm1-6zm0 1zm0 3zm0 2zm0-10zm1 8zm0 1zm0-9zm1 4zm0 3zm1-6zm1 8zm0-9zm1 2zm1 0zm1-2zm45 8zm1 2zm1-2zm1-5zm1 8zm5-1zm0-2zm1-2zm1 4zm0 1zm0-6zm2-2zm0 2zm0 4zm1 1zm1-3zm0-7zm0 11zm1-3zm0 3zm1-5zm0-1zm1 0zm0 5zm0-10zm1 10zm0-1zm1-2zm0-6zm0 1zm1 2zm1-1zm1-3zm3 6zm1-2zm0 3zm0 1zm5 3zm1-8zm0-1zm0 2zm1-2zm9 1zm6 5zm1-1zm6 0zm4-6zm1 8zm3 0zm5 0zm42-1zm11-4zm2 2zm4 2zm0-6zm1 2zm0 7zm0-11zm1 1zm0 6zm2-5zm0 5zm0 1zm0 2zm3-3zm0-1zm1 3zm1-2zm0-7zm2 8zm0-4zm1 4zm0-6zm0 7zm1 2zm0-1zm0-6zm2-1zm1-1zm0 1zm5 2zm1 1zm0-3zm1-1zm1-1zm0 2zm1-2zm0 1zm2-1zm0 2zm2-2zm1 8zm5-8zm35 5zm1-1zm1-2zm0-2zm1 3zm0-1zm0-1zm1 5zm0 2zm1 1zm2 0zm0-6zm0-1zm0 3zm0 2zm2 1zm0-8zm0 1zm2 1zm5-1zm2 3zm0 3zm8-6zm17 9zm1-6zm0 4zm4-1zm0-1zm2 4zm1-4zm0 3zm0-1zm2-4zm1 2zm1 0zm0 3zm0-5zm1 4zm1-2zm0-1zm3 4zm0-1zm0 6zm-2 0zm0-1zm0 2zm-2-2zm0 4zm-1-2zm0 2zm0-6zm0 1zm-1 6zm0-1zm-1-5zm0 2zm0-1zm-1 3zm0-1zm0 2zm-1 0zm0-4zm0 3zm-1-2zm-2-2zm0-1zm0 4zm-1-3zm-6 1zm-2 4zm-2-5zm0 4zm-3 3zm-5-1zm-5-1zm-6 3zm-3-6zm-1 3zm0 4zm-1-8zm0 8zm0 1zm-1-11zm-1 6zm0-1zm0 2zm-1-2zm0 5zm0-10zm0 3zm-1 4zm-1-4zm0-1zm0 3zm-1 6zm0-11zm-1 4zm-2-3zm0 3zm-1-4zm-61 4zm-5-4zm-1 1zm-2 0zm-2 1zm0 1zm-1-2zm-1 1zm-1-1zm-1 1zm-2 2zm-1 4zm0-6zm-2 4zm0-6zm0 7zm-2 0zm0 3zm-1-6zm-1 4zm0-8zm0 2zm-1 9zm-1-6zm-1 6zm-2-3zm-1 3zm0-6zm-1 4zm0-1zm0 3zm0-5zm-1 4zm-2 1zm0-5zm-2 4zm-1-1zm-14 0zm-5 1zm-16-3zm0-6zm-7 7zm-9-6zm-1 8zm-2-5zm0-3zm-1-1zm-2 10zm-5-6zm-6 3zm-3 1zm-8-3zm-1-3zm-1 2zm-1-5zm-1 10zm-1-5zm-4-4zm-1 2zm-2-3zm-1 1zm-1-1zm-1 0zm0 1zm-1-1zm-1 2zm-1 1zm-1 1zm-1 5zm0 2zm-1-3zm0-8zm0 1zm-1 3zm0 3zm0 3zm0-7zm-1 4zm-1 2zm-1-2zm0-4zm-2 6zm0 2zm-1-1zm0-10zm0 1zm0 8zm-1-3zm0 2zm0-1zm0 3zm-1 0zm0-10zm0 7zm-2 2zm0 2zm0-9zm0 6zm0 2zm-1 1zm-1-7zm-1 4zm-4 3zm-1 0zm-1-1zm-2-1zm-1 0zm-22-4zm-4 2zm-2 3zm0 1zm-1-5zm0 4zm-1 0zm-1 1zm0-10zm0 2zm0 2zm0 1zm0 4zm-1-10zm0 4zm0 2zm0 3zm0-8zm-1 7zm0 1zm0-9zm0 3zm-1 8zm0-9zm0 2zm0 2zm0 1zm-1-4zm0-1zm0 3zm0 4zm0 2zm-1-1zm0-10zm0 3zm0 5zm-1 1zm0-8zm0-1zm0 4zm-1-3zm0 3zm0 2zm0 4zm0-1zm-1-4zm-1 6zm0-8zm0 3zm-1 1zm-3 1zm-1-3zm0 4zm-2-2zm-1 2zm-1-2zm-1 4zm-2-10zm-3 1zm-2 9zm0-7zm0 1zm0 3zm-1 0zm0-1zm-1-6zm0 1zm-1 4zm0 2zm0-7zm0 9zm-4 0zm-1-4zm-1 4zm-1 1zm0-11zm0 6zm0 1zm-3-4zm0 3zm0-1zm-1 1zm0 1zm-4-5zm-3-2zm0 6zm-1-2zm0 6zm-1 1zm-1-4zm-1-3zm0 1zm0 5zm-1-7zm0 5zm0 1zm-1-1zm-1 3zm-1-2zm0 2zm0-7zm0 1zm-1-3zm0 3zm-1 0zm0 5zm0-1zm-1-5zm0 3zm-1-3zm-1-3zm0 9zm-1-5zm0-2zm0 3zm-1-1zm0-5zm-1 7zm0-7zm-1 1zm-1 0zm-1 1zm-2 0zm0 3zm-1-2zm0 1zm-2 2zm-1-2zm0-1zm0 3zm0 1zm-1-3zm0 1zm-1 2zm-2 0zm-2 2zm-1-1zm0-7zm-2 8zm0 1zm-1-4zm-1 5zm-2 0zm0-1zm-9-4zm-14 16zm1 0zm2 0zm1-1zm0 2zm2-1zm1-2zm1 1zm3-1zm1-8zm1 4zm0 2zm0 1zm1-2zm2-1zm1 4zm0-4zm0 1zm1 1zm0 1zm0-4zm0-1zm0 2zm1-3zm0 1zm0 2zm1-3zm0 5zm2-3zm0 3zm2-2zm0-3zm1-1zm1 2zm1 0zm1-2zm3 0zm9 1zm10 1zm0 3zm2-5zm2 0zm1 1zm0 1zm0 4zm1-1zm1-1zm0 5zm0-8zm1 5zm0-1zm1 1zm0-1zm1-2zm0 1zm1 2zm0-1zm0-4zm1 3zm0 2zm0 2zm0 2zm2 0zm1-3zm0 3zm0 1zm1-7zm0 4zm1 2zm1-1zm0 1zm1-5zm0 3zm1-4zm1 4zm0 1zm4-8zm0-1zm0 2zm1-1zm1 0zm0 2zm1 2zm0 4zm2-3zm0-4zm1 2zm0 4zm0 1zm0 2zm1 0zm0-9zm0 2zm0 4zm1-8zm1 5zm1-2zm2 8zm1-7zm0 1zm2-1zm1-1zm0 7zm1-7zm1 3zm2 5zm1-7zm1 3zm0-7zm1 4zm0 2zm0 1zm0 4zm1-9zm1 3zm1 3zm1-5zm0 1zm0 2zm1 3zm1-8zm0-1zm0 2zm0 7zm1 2zm0-8zm0-1zm0 2zm1-4zm0 6zm0 1zm1-6zm0-1zm0 3zm0-1zm0 2zm0 2zm0 2zm0 1zm1 0zm0 2zm0-9zm0 4zm0 2zm1-4zm0 1zm0 2zm0-7zm0 2zm1-1zm0 4zm0-1zm0 3zm0 1zm1-2zm0 3zm0-9zm0 3zm0-1zm0 3zm1 0zm0-1zm1 6zm0-2zm1-1zm0 3zm0-8zm0 3zm1 0zm0-1zm0 2zm0-3zm1 4zm0 3zm0-1zm0 2zm0-6zm1 2zm0 4zm0-11zm0 2zm0 3zm0-1zm1-1zm0 2zm0-1zm0 4zm1 0zm1-7zm0 2zm0 3zm0 1zm0 2zm0 2zm1-1zm0-1zm1-1zm0 1zm0 2zm0-8zm0 2zm0-1zm0 3zm0-1zm1 5zm0-7zm0 4zm0 2zm0-1zm1-1zm2 3zm0-7zm0 2zm0 2zm1-4zm0 2zm0 5zm1-5zm0 2zm0-1zm0 3zm0 1zm0-8zm1 5zm1-1zm0-1zm0-3zm0 2zm1 0zm0 2zm0 4zm1-1zm0 1zm0-6zm0-1zm0 4zm1-1zm0 3zm0-4zm1 0zm0 1zm0-2zm1 5zm0-7zm0 2zm0-1zm0 3zm1 1zm0 2zm0-1zm0-2zm1-6zm0 2zm0 5zm0 2zm1 1zm0-9zm0 3zm0-1zm1-1zm0 5zm0 1zm1 2zm0-7zm0 3zm0-1zm0 2zm0 2zm0-1zm1 0zm0-7zm0 3zm0-1zm0 2zm1-1zm0 4zm0 2zm0-10zm1 0zm0 2zm0 2zm0-1zm0 3zm0-1zm0 2zm1-2zm1-4zm0 3zm0 2zm0-1zm0 2zm0 2zm0-9zm0 2zm1 5zm0 1zm0-3zm0-1zm1-1zm0-4zm0 3zm1 1zm0 4zm0-8zm0 1zm0 2zm1-3zm0 2zm0 3zm0-1zm1-1zm0-1zm1-2zm0 1zm0 2zm0-1zm2-1zm1 2zm0 1zm1 1zm1-1zm0-4zm1 5zm1-1zm0-4zm6 0zm5 4zm3-3zm3 6zm3 2zm4-2zm13 1zm0-8zm3 0zm1 0zm5 0zm1 11zm7-2zm1-9zm1 11zm2-7zm21 7zm3-1zm2-1zm0-1zm2 0zm0 3zm0-9zm1 6zm1 2zm1-4zm1 0zm0 3zm1-6zm1 4zm0-1zm1 2zm0-4zm0 3zm5-5zm1 0zm0 1zm3 2zm0 3zm0-4zm1-3zm1 2zm0 2zm1-4zm2 1zm0-1zm1-1zm1 3zm3-3zm0 5zm4 5zm87-5zm5 1zm1-1zm1-2zm0 2zm1-2zm1 6zm0-9zm0 3zm0-1zm0 3zm0 1zm1-5zm0 9zm1-7zm1 6zm0-5zm2 0zm3 4zm0-1zm7-4zm4 5zm25-2zm1-5zm1 7zm2 0zm0 4zm0 1zm-36 7zm-3-1zm0 2zm-1-5zm0 2zm0 2zm-2-7zm-1 8zm-2-6zm-1-3zm-1 7zm-2-4zm-3-3zm-120 9zm0-6zm-1 0zm-2 8zm0-9zm0 4zm-2-2zm0 3zm0 2zm-1-2zm-2-4zm0 4zm-2 4zm-5-7zm-3 5zm-3 0zm-2 1zm0-4zm-4 2zm-3 3zm-8-11zm0 2zm-4 3zm-5 0zm-10-1zm-9 0zm-24-2zm0-1zm-3 3zm-8-2zm-1 0zm-1-2zm0 1zm-3 3zm-2-4zm0 1zm0 2zm-1-1zm-1-2zm0 2zm-1 6zm0-5zm-1-3zm0 2zm-1-2zm0 2zm-2 1zm0 1zm-1 1zm0-1zm0 4zm0-6zm0-1zm0 2zm-1 2zm0 2zm0-7zm0 1zm-1-1zm-1 5zm0-4zm-1 1zm0-1zm0 2zm0 1zm-1-2zm0 4zm0-5zm0 2zm-1-3zm0 6zm-1 2zm0-8zm-1 10zm0-10zm0 2zm0 1zm-1-2zm0-1zm0 6zm-1-6zm0 3zm0-1zm0 2zm0 5zm-1-3zm0 2zm0-5zm0 2zm0-1zm0 3zm-1 3zm0-10zm0 11zm0-10zm0 2zm0 4zm-1 1zm0 1zm0-8zm0 1zm-1 8zm0-9zm0-1zm0 2zm0 2zm-1 2zm0 2zm0-7zm-1 1zm0 3zm0 2zm0-1zm0 3zm-1-1zm0 3zm-1-9zm-1 0zm0 4zm0-3zm-1-2zm0 3zm0 4zm0 2zm0-10zm-1 5zm0 5zm0-1zm0-8zm-1 8zm0-2zm-1 3zm0-10zm-1 7zm-1 4zm-1-8zm0 4zm-1 1zm0 2zm0-7zm-1 6zm0-6zm0 3zm-1 5zm0-11zm0 6zm-1-2zm-1 1zm0 4zm-1-1zm0 3zm0-8zm-1 8zm0-9zm-1 9zm-1-2zm-1-3zm0 2zm-1-7zm0 9zm-2 1zm0-10zm-1-1zm0 5zm-2 1zm0 4zm-1-9zm-1 6zm0 3zm0-4zm-1 1zm0 3zm0-1zm0-3zm-1 4zm-1-1zm0 2zm0-11zm0 4zm0 2zm-1 1zm0-4zm0 3zm-2 3zm0-8zm0 2zm-1 5zm0-1zm-1 0zm0-5zm-1 3zm-1-5zm-1 2zm-1 3zm-1-1zm0 1zm-1 2zm-1-7zm0 3zm-1-2zm0 1zm-2-2zm0 2zm-3 1zm-15-1zm-37-2zm-4 0zm-2 1zm-2 0zm0 2zm0 2zm-1-4zm0 2zm-1-2zm0 5zm-1-2zm0 1zm0 2zm-2-1zm-1-2zm0 6zm-2-5zm-1 1zm0 3zm-1-6zm0 4zm0 1zm0-7zm-1 10zm0-5zm0-1zm0 2zm-1 0zm0 2zm-1-1zm-1 2zm-1-5zm0 4zm-4-1zm-3 3zm-20 6zm1 2zm2 4zm3-1zm1 0zm1-4zm1 3zm1-2zm1 4zm1-3zm0 3zm1-7zm0 1zm2-1zm0-1zm2 3zm0 3zm5-7zm1 3zm2-5zm1 1zm0 1zm1-2zm1 4zm1-4zm1 0zm3 3zm82-1zm1-2zm6 0zm1 7zm2-7zm2 3zm1-3zm0 1zm1-1zm0 1zm2 1zm0 1zm2 1zm1-2zm0 3zm0-5zm2 10zm0 1zm1-1zm0-9zm1 9zm0-5zm0-1zm0 3zm1 4zm0-8zm1 4zm0-1zm0 2zm0 2zm0 1zm1-11zm0 2zm0 5zm1-1zm0-6zm0 1zm1 4zm0 1zm0 2zm1-7zm0 5zm0 2zm1-6zm0 3zm0-1zm1 1zm0 2zm1-7zm0 2zm0 3zm1 1zm0-6zm1 1zm1 0zm0 2zm6-3zm1 0zm9 8zm6 2zm4-8zm43 0zm31 1zm1 0zm5 2zm1-3zm2 4zm1 5zm0-10zm0 8zm1-3zm4-5zm0 3zm0 3zm6-7zm1 6zm1-5zm2 0zm2 8zm1-3zm0 3zm0-1zm2-4zm0 6zm134-9zm0 2zm1-1zm0 1zm2-1zm0 2zm0 2zm0-5zm0 2zm1 3zm1 0zm1-1zm0 1zm1-4zm1 5zm0 2zm0-7zm0 9zm0-8zm1 6zm1 1zm0-3zm1 4zm1-1zm0-4zm2 4zm1-1zm15 2zm11 11zm-14-3zm0 2zm-3 1zm-2 0zm-2-1zm-2-4zm0-1zm0-1zm-1-1zm0 3zm0 2zm-1 2zm0-9zm-1 0zm0 2zm0 3zm-4-4zm0-1zm-2 11zm-2-11zm0 3zm-11 7zm-122 0zm-1-8zm-4 6zm0 2zm-1-9zm0 7zm-1-5zm0 5zm-1 1zm-2 0zm0 2zm-1-4zm0-1zm0 2zm-1-6zm-1-2zm-1 1zm-1 1zm-1 1zm-3 7zm-5-8zm-2 3zm-3-2zm-2-2zm-1-1zm-97 6zm-5-1zm-5 0zm-3-5zm0 9zm-2-7zm-6-2zm-1 5zm-1-2zm-2 4zm-1 4zm0-8zm-1 2zm0 1zm-1-2zm0 2zm0 1zm-1-5zm0 2zm0 2zm0 2zm-1-8zm0 4zm-1 5zm-2 0zm-100 1zm-10-10zm-4 10zm0-3zm-1 3zm-1 0zm-1-2zm0-8zm0 2zm0 2zm-1 4zm0 3zm0-4zm0 2zm-1-1zm0-1zm-1 4zm0-1zm0-7zm-1-1zm0 2zm0 4zm-1-3zm0-5zm0 2zm0 2zm-1-4zm0 2zm-1 2zm0-1zm-1-3zm-1 0zm0 5zm5 10zm3-2zm1 3zm1 0zm0 1zm0-4zm1-1zm1 1zm0 3zm1 5zm0-5zm0 1zm1-3zm0 2zm0 1zm0 3zm1-5zm0 3zm0 1zm0 4zm1-3zm2-4zm0 2zm1 1zm0 2zm1 1zm1-1zm2-1zm0-1zm1 3zm0 1zm1-6zm0 3zm84-1zm5 1zm2 1zm0-1zm1-2zm1 3zm1-2zm0 3zm1-6zm0 7zm1-10zm0 6zm1-5zm2 3zm1 1zm0 1zm0-6zm0 2zm2 1zm1-3zm2 3zm4-4zm6 0zm2 8zm3-8zm103 5zm6 2zm2 2zm0-7zm19 2zm6-1zm0 3zm1-6zm0 6zm1-2zm0-1zm0 6zm1-5zm0 2zm3 2zm1-4zm0 2zm0 5zm10-4zm138-2zm0 4zm2-9zm1 5zm1-1zm0-3zm1 6zm0-1zm0 3zm0 2zm1 0zm1-7zm1-2zm0 7zm3 1zm3-3zm0 2zm0 1zm1-3zm1 2zm0-1zm3 0zm0 3zm9 11zm-3-2zm-2 3zm-1-3zm-1-1zm-2-2zm0 1zm0 4zm-1-3zm0 3zm0 1zm-1-9zm0-1zm0 4zm-1 2zm-1-2zm0-3zm-1-2zm-1 3zm0-1zm-1-1zm-1-1zm0 2zm-156 3zm-2-5zm0 3zm-1 1zm0 4zm0 1zm0-8zm0 2zm-1 0zm0 6zm-1-2zm0-6zm-1 7zm0 1zm-1 0zm0-7zm0 2zm-1 6zm-1-1zm0-1zm0 2zm-1-10zm0 3zm-7 1zm-22-3zm-6 7zm-2-4zm-6 6zm-104-6zm-15-3zm-1 0zm-1 4zm-1-4zm-1 8zm0-7zm0 4zm-1-6zm-1 2zm-1 1zm0 7zm-1-2zm0-6zm0 3zm0-1zm-1 4zm0-1zm-1-2zm0 2zm0 2zm-1-1zm-1-1zm0 2zm0 1zm-1-1zm-1 2zm-1-7zm-6 7zm-51 0zm-2-2zm0 2zm-1-1zm0 1zm-3 0zm-1 0zm0-10zm-2 7zm0 2zm-1-2zm0-1zm-1 4zm0-4zm-4 4zm0-9zm0 3zm0 2zm-1-1zm-1 4zm0-1zm-1-5zm-1 0zm-1 0zm-1 1zm0 2zm0 2zm0-6zm-1 0zm-1-1zm-1-2zm0 2zm-3-1zm-2-1zm-1 1zm17 12zm0 1zm5-2zm1 1zm3-1zm0 1zm1 5zm0-5zm0 1zm2 1zm1 0zm1-1zm0 3zm0-1zm1-4zm0 4zm1-4zm0 2zm0 1zm0 4zm3-5zm0 1zm1 3zm1-5zm1 2zm0 2zm2 1zm0-3zm0 1zm1 1zm1-1zm1 5zm1-4zm1 0zm0 2zm1 0zm1 2zm0-4zm0 1zm1 4zm0-5zm2 0zm2 4zm1-1zm1-4zm0 3zm0-1zm1 0zm0 5zm1-3zm0-1zm1 0zm0 3zm0-8zm3 5zm0 3zm1-1zm0-3zm1 4zm0-7zm0 4zm1 4zm2-5zm1 0zm0 2zm1 2zm0-3zm0 2zm2 1zm1 1zm0-2zm2 1zm1-4zm2 2zm1-2zm0-6zm1 6zm0 2zm0-6zm1 8zm0-7zm0 4zm1 2zm0-1zm0 2zm2-5zm0 1zm1-2zm1 0zm0 3zm0-1zm2-5zm1 0zm0 5zm1-6zm0 1zm4 0zm123 8zm2-9zm3 6zm1-6zm1 4zm1 3zm1-1zm0-1zm2 0zm0-1zm9 5zm4 1zm1 1zm7-2zm5 0zm0 2zm0-1zm1-2zm2-1zm1 1zm3-1zm0 2zm1 0zm0-5zm1-2zm1 9zm1-7zm1 5zm0-9zm0 8zm0-1zm2-5zm1 1zm172-2zm2 1zm1 4zm0-4zm0 3zm1-2zm0 1zm2-4zm0 4zm2-1zm3 8zm0-4zm2 1zm6 2zm1 6zm-1 7zm-1-1zm-2-5zm-1 0zm-2-2zm0 6zm-1-1zm-1 0zm0-8zm-1 3zm-5-2zm-166 2zm-19-3zm-4 1zm0-1zm-4 0zm-1 10zm0-10zm-3 1zm0 3zm-1 3zm0-7zm0 11zm-1-1zm0-10zm0 2zm-1 2zm-2-3zm-1 3zm0 6zm0 1zm0-11zm-2 0zm-1 2zm0 4zm0 1zm-1-4zm0 6zm-1-9zm0 4zm-1-2zm0 2zm-1 3zm0-3zm0 2zm-1 4zm0-1zm-6-3zm-3-1zm-5-3zm-143-1zm-7-1zm173 12zm1 0zm4 5zm0 1zm3-3zm0 3zm0 4zm1 0zm0-8zm1 5zm0 2zm1 2zm0-8zm1 0zm1 6zm1-1zm0-6zm1 8zm1-1zm1 2zm5 0zm1-8zm187-2zm2 2zm0 2zm0-5zm1 2zm1 2zm1-1zm0 2zm0-4zm0-1zm1 8zm0-8zm0 1zm1 9zm0-9zm0-1zm2 9zm0 1zm2-4zm1-2zm1 0zm1 5zm1 2zm1-10zm0 6zm1 1zm10 4zm-2 10zm-1-3zm-1 1zm0-1zm-1 1zm-6 3zm0-8zm0 1zm0 2zm-1-6zm-1 3zm0 2zm0 3zm-1 2zm0-7zm0 3zm-2 1zm-1-3zm-1-4zm0 3zm-2 3zm-1-1zm-190 0zm-1-4zm0 6zm-1 4zm0-3zm-1 3zm-1 0zm0-6zm-1-3zm-2 9zm0-8zm0-1zm-1 0zm-1 0zm0 7zm0-6zm-1-2zm0 3zm0 5zm-1-7zm-1-2zm-12 0zm14 16zm2-1zm5 3zm1-6zm1 0zm0 3zm1 2zm0 2zm1-4zm1 2zm1 0zm0 2zm2 2zm3-2zm4 0zm1 2zm12-2zm178 2zm0 2zm1-7zm0 3zm2-7zm1 3zm1 1zm0 6zm1-2zm0 2zm1-6zm0 5zm1-9zm4 7zm0-4zm0 19zm-1-5zm-2 3zm0-8zm-1 9zm0-6zm-1 0zm0 6zm-1-3zm-1-5zm0 2zm0 1zm0 2zm-1-3zm0 3zm0 4zm-1-2zm0 3zm-176-3zm-1 1zm-1 1zm-1-1zm0 1zm-1-6zm0 6zm0-1zm-1-7zm0 7zm0-9zm-1 11zm0-1zm-1 0zm0 1zm-1-5zm0 4zm-1-4zm0 3zm0-1zm0-4zm-1 4zm0-2zm-1-1zm0 1zm-1 2zm0-6zm0 2zm-1 3zm0-1zm-1-4zm-1-2zm-2 4zm0-3zm0 2zm-3-2zm-3-1zm13 12zm7 3zm0-3zm1 2zm0 7zm2-7zm1 5zm0 3zm1-1zm0-4zm1 4zm0-1zm1 2zm1 1zm0-1zm1-4zm164 3zm1 0zm1-9zm1 11zm1 0zm0-11zm0 7zm1-4zm0-1zm1 0zm0 4zm1-6zm0 5zm0 4zm1 1zm0-7zm0 1zm2-3zm1-1zm1 7zm-1 6zm0 2zm-2 3zm-1-3zm-2 0zm-2-2zm0 2zm0 4zm-1-6zm-1-1zm0 6zm-1-4zm0 2zm0 7zm-1-4zm0-7zm-3 10zm0-1zm-1 1zm-3-9zm-146 7zm-1 1zm0 1zm-1 1zm0-1zm-1-8zm-1 4zm0 5zm-1-7zm-1 4zm0-2zm-1 1zm-2 1zm-1-6zm0 4zm-2 2zm0-8zm-2 3zm-2-3zm4 14zm6 2zm5-2zm1-1zm2 2zm0 2zm1-5zm1 6zm0-2zm2 1zm1 6zm0-1zm1 0zm1-1zm0-4zm1 0zm2 2zm0 1zm5-3zm3 2zm123-2zm4 6zm0-5zm1 5zm0-8zm1 6zm1-3zm0 4zm0-10zm0 11zm1-1zm4-10zm0 4zm-7 9zm-2 0zm0 4zm-1 0zm0 3zm-2-7zm0 5zm-1 2zm0-5zm0 2zm-2 3zm-1-1zm0-4zm-1 4zm0-2zm-1 1zm0 2zm-1 2zm-1 0zm-1-1zm-1 1zm-3 1zm0-5zm-10 4zm-89 0zm-1 0zm-2-7zm-1 6zm0 2zm0-5zm-2 3zm0 2zm-1-1zm0-7zm0 3zm-2 2zm0 3zm0-1zm0-6zm-1 5zm-1-3zm-2 5zm-1-6zm0-3zm-1 1zm0-1zm0 2zm0 2zm-1-6zm-1 2zm-1-1zm-1 0zm-15-1zm24 12zm4 2zm0 2zm2-4zm1 3zm1 0zm2 2zm1-2zm0-1zm5 4zm0 5zm1-5zm0 4zm2-8zm0 8zm1-5zm1 5zm1-2zm1 2zm0 1zm0-7zm2-1zm1 4zm0 4zm0-8zm1 3zm1 1zm1 4zm1-2zm3-5zm2 6zm6 1zm1-1zm0-1zm6 0zm0 2zm5 0zm2 0zm0-1zm1-3zm7 4zm3-8zm1 5zm3-1zm0 2zm1-4zm1 3zm1 1zm1-1zm0 2zm2-1zm1 1zm1-3zm0-1zm2-1zm1 4zm1-4zm0 4zm1-6zm0 3zm1 2zm2 1zm2-2zm3-2zm0 1zm1-1zm1-2zm1 1zm0 2zm1 5zm0-7zm0 3zm0-1zm0 2zm2-6zm0 5zm1-3zm1 5zm1-3zm0-3zm0-1zm1 4zm0-3zm1-1zm1-1zm2 0zm1 0zm1-1zm3 3zm1-3zm4 1zm-18 18zm-8-7zm-14 0zm-2 7zm-1-5zm-1-2zm-2 1zm-1 5zm-1-6zm-1 3zm-1-3zm-2 1zm0-1zm-2 0zm0 2zm-2 7zm-3-9zm-1 2zm-4 1zm-2-3zm-2 2zm-2 1zm-3-3zm-3 1zm0 2zm-3 0zm-1 0zm-1 1zm-1-3zm0 1zm0 2zm-1-4zm0 2zm-1 0zm-1 2zm-1-1zm-1-3zm0 2zm-1-2zm-1 2zm-1 0zm0 2zm-2-4zm-2 1z" stroke="#a0522d" stroke-width="4.0" stroke-linecap="round" fill="none"/>
<path transform="scale(.5)" d="M1686 405zm-2 1zm-12-1zm-4 9zm4 1zm0-4zm1 2zm1 2zm1-4zm2 5zm3-3zm0 1zm3-3zm0 6zm2-1zm1-5zm1-3zm1 7zm1-1zm2-5zm-1 14zm0-2zm-10 2zm-3-1zm-1-2zm-7 7zm-4-7zm-2 8z" stroke="#a0522d" stroke-width="4.0" stroke-linecap="round" fill="none"/>
<path transform="scale(.5)" d="M1682 442zm1-3zm13 1zm13 13zm0-6zm-3-1zm-15 1zm-13 8zm-3-11zm-5 1zm-3-1zm-3 3zm0 2zm-18 7zm2 7zm3-5zm5 1zm5 7zm2 1zm1-10zm1 7zm14-6zm13 5zm5-5zm8 1zm15 1zm-6 12zm-3 4zm-14-7zm-11 10zm-14-5zm-6-6zm-15 11zm-8 12zm18-6zm2-5zm11 2zm4-1zm4 1zm3 8zm1-7zm0 2zm0-5zm1 1zm3 9zm9-9zm5 4zm158 4zm8-6zm5 2zm1-1zm3 5zm4-1zm2-2zm16 17zm-3-2zm-11-8zm-20-1zm-2 2zm-1 5zm-182 0zm-1 1zm-4-5zm-1 2zm-3 1zm-2-4zm-2 6zm-12 3zm-5-8zm-2-2zm-4 10zm-4-6zm23 8zm160 7zm3-1zm19 3zm5-9zm3 7zm4-4zm1 5zm14-6zm5-3zm8 0zm10 7zm1-4zm6 8zm-15 12zm-6-4zm-12 4zm-6-11zm-7 11zm-8-10zm-8 2zm0 6zm-20-6zm-4 6zm-6-5zm-8 3zm-1 1zm-15 3zm28 4zm1 3zm39-1zm8-2zm3 1zm9-1zm3-2zm12 8zm0-5zm8-1zm11-1zm5-1zm2 13zm-7 2zm-4 3zm-16 4zm-21-9zm-48 9zm-17-2zm0 2zm-8-6zm21 7zm1 0zm5 1zm0 9zm7-1zm1-8zm5 0zm6 0zm11 1zm12 8zm19-9zm4 0zm15 3zm7 3zm3 1zm6-2zm1 5zm-4 6zm-2 2zm-32-1zm-3 2zm-18-8zm-4 10zm-15-1zm-1 2zm-3-5zm-12 5zm-8-6zm-9 3zm-18 8zm20-4zm6 0zm3 3zm7-1zm2 1zm1 5zm0-5zm6 4zm7 3zm0-8zm3-2zm32 8zm28-8zm3 12zm-2 3zm-8-1zm-20 1zm-9 1zm-1 4zm-4-5zm-5 2zm0 3zm-11-7zm-2 6zm-1 1zm-20 1zm-5-1zm-11-6zm-4 11zm0-1zm38 4zm4 6zm10-10zm16 11zm19-10zm-29 13zm-2 1zm-12-3zm-19 6z" stroke="#fff" stroke-width="2.4" stroke-linecap="round" fill="none"/>
<path transform="scale(.5)" d="M1641 211zm-4 0zm-2 4zm-2 0zm0-2zm-8-8zm-1 6zm-8 4zm-11-7zm-6-1zm-4 11zm17 6zm3 1zm2-8zm10 6zm5-1zm5 4zm1-6zm0 4zm0-1zm3-5zm485 6zm1 3zm5-1zm0-1zm0-6zm1 3zm0-1zm0 3zm1-4zm1 6zm0-5zm0 3zm1-1zm0-1zm0 4zm1-1zm0-2zm2 1zm1-2zm0 2zm1 3zm0-7zm1 3zm0-2zm1-1zm0 4zm1-1zm0 3zm2-4zm1 2zm0-1zm0-6zm4 7zm1 2zm2 1zm0-1zm12-3zm-6 6zm-13 2zm-1-2zm-7-1zm0 2zm-16 1zm-2 0zm-479 5zm-1 3zm-17-10zm-1 8zm-33 12zm4-1zm18-2zm20-1zm7 4zm2 1zm1-7zm6 7zm7 0zm4 0zm7-4zm2 2zm3 3zm461-6zm47-2zm-36 20zm-474-5zm-14 2zm-12 3zm-6 0zm-21-9zm-9 7zm-5-5zm-1-1zm0 4zm0-5zm-1 1zm11 20zm3-1zm0-3zm10 2zm15 2zm1-8zm9-3zm0 5zm2-1zm0 4zm4 1zm3-4zm0 1zm2-6zm506 11zm-505 7zm-4 2zm-6 3zm-2-5zm-15 14zm4 2zm1-5zm1 4zm1-8zm1 8zm0-1zm0 3zm0-1zm1-5zm1 2zm1-4zm0 4zm1 4zm0-5zm0-2zm1-1zm0-1zm0 9zm1-9zm1 4zm0 3zm1-5zm0 2zm4-4zm0 3zm0-1zm0 4zm1 0zm2-1zm0-5zm1 3zm3-2zm0 3zm1-3zm0-2zm0 8zm2-4zm0 3zm0-2zm1 4zm1-5zm0 3zm0-1zm0 3zm437-5zm10 6zm2-2zm60 4zm-62 6zm-1-6zm0 4zm-2 0zm0 2zm-1-2zm-1-1zm-1 0zm-1 3zm-252 2zm0 2zm-1-7zm0 7zm-1-6zm0 4zm-1-2zm-2-1zm0-2zm0-1zm-1 7zm0-7zm-1 6zm-2-3zm-2 1zm0 4zm-1-3zm0-1zm-1 0zm0 4zm0-1zm-1-1zm-1 0zm-139-2zm-14 1zm-7 2zm-2-3zm-7 3zm-3-5zm-1 4zm-2-9zm0 3zm-3-1zm-1 2zm-1-4zm-1 1zm-1 0zm-1 4zm0-2zm-1-3zm0 2zm-1-1zm-1-1zm0 4zm-1 7zm0-5zm-1 0zm-4-4zm-2-2zm0 4zm-1-4zm-2 2zm0-1zm0-1zm16 19zm3-7zm1 2zm172 4zm0 3zm0-5zm0 4zm1-6zm0 9zm1-1zm0 1zm1-4zm1 4zm2-3zm0 3zm1-11zm0 9zm0-5zm0-3zm0 9zm1-10zm0 9zm1-8zm0-1zm0 9zm1 1zm0-10zm0 8zm1-8zm0 8zm0-5zm2 7zm0-2zm0-6zm0 9zm1-11zm1 2zm0 4zm0-6zm1 5zm1 1zm0-3zm1 1zm0 4zm0-6zm1 8zm0 1zm1-9zm1-2zm0 11zm1-11zm0 8zm1-5zm0 4zm0-3zm1-4zm0 6zm1-4zm0 6zm1-8zm0 10zm1-3zm0-1zm17 4zm213-2zm1 2zm1 0zm2-5zm1-1zm0 4zm1-2zm0 3zm1-3zm1-3zm6-3zm2 2zm-12 13zm-1-2zm-5 0zm-200 9zm-9 1zm-2 0zm-3-1zm-4 1zm0-3zm-1 1zm0 1zm-1-2zm-1 3zm-1-1zm-1 0zm0-2zm-6-6zm-1-2zm0 8zm-1-1zm0-2zm0 3zm-1 2zm0-5zm0-2zm-1 6zm-1-8zm0 9zm0-5zm-1 5zm0-4zm-1-5zm-1 7zm-1 1zm0 2zm0-10zm-1 1zm0 2zm-1-3zm0 3zm0 4zm0-1zm-1-1zm-1 0zm-1 4zm-1-2zm-1-1zm0 4zm0-10zm0 8zm-1-2zm0 4zm-1-3zm0-4zm-1 6zm0-3zm-2-2zm0-2zm-1 6zm0-7zm-2 21zm2-2zm2-2zm0-1zm0-1zm1 3zm0-7zm0-1zm1 1zm0 9zm1-5zm1-1zm0-1zm1 1zm1-2zm0 2zm3 0zm2-1zm2 0zm15-2zm2-1zm1 3zm2 3zm0-1zm0-5zm0 3zm1-3zm0 4zm3-2zm3 1zm0-1zm2 5zm0-2zm1-1zm0 4zm1-1zm2-3zm0 3zm3 2zm0-2zm1 1zm0 1zm1-1zm1-5zm0-1zm1 2zm0-3zm1 6zm1-2zm4 5zm1-2zm3-2zm1 5zm0-1zm1-4zm1 3zm1 0zm0-3zm1-1zm0 3zm2 3zm0-1zm1 0zm0-1zm1 0zm0-1zm1-5zm0 4zm1 3zm5 0zm1-2zm4-3zm6-3zm11 0zm8 2zm2 7zm12 12zm-1-1zm-1-1zm-3-8zm-32 5zm-3-3zm-2 8zm-3-2zm-2-4zm-1-5zm-4 0zm-2 1zm-3 0zm-11 10zm-20-9zm-37 3zm0-2zm-1-3zm-1 6zm0 2zm-1-1zm0 4zm-1-10zm-1 4zm0 3zm0-1zm-1 2zm0-2zm-1 4zm0-1zm-1 0zm-1 1zm-2 11zm0-2zm2-1zm1-4zm1-1zm0 4zm1 1zm1-6zm88 10zm16-4zm5 4zm2-9zm5 3zm7 3zm3-7zm-1 16zm-8 3zm-10-2zm-5-6zm-4 9zm-4-2zm-3 3zm-7-6zm-2 5zm-5-3zm-77-1zm0 4zm-1-8zm0 8zm-1 1zm-1-5zm0-2zm0-2zm-2-1zm0 3zm1 11zm3 8zm0-10zm1 11zm0-10zm2 4zm1 1zm1-2zm0 3zm0 3zm68-2zm4-8zm1 10zm3-6zm0-4zm1 7zm1-4zm10 4zm1-1zm26-6zm9 11zm8 0zm7 4zm-11 1zm-1-3zm-1 2zm-2-3zm-10 3zm-11 3zm0 2zm-16-2zm-7 2zm-2 2zm-2-1zm-2-2zm0-7zm-11 10zm9 8zm4-2zm4 4zm0-6zm7 4zm22 4zm21-10zm12 5zm9-5zm45 20zm0 3zm-2-3zm-2 3zm0-2zm-1-2zm-1 3zm-1-4zm-1 5zm-1-2zm0 2zm-1 0zm-1-1zm-1-3zm-1 0zm0 3zm-1-2zm0 2zm-2-3zm0 4zm-1 0zm-8-8zm-7-2zm-55 8zm-7-1zm-8-8zm-2 6zm-12 2zm0 3zm-1-8zm-4 2zm-7 13zm7 3zm0 2zm0-5zm3-2zm0-1zm1 4zm0 4zm0-11zm1 4zm0 4zm11-8zm2 10zm3 1zm0-11zm3 1zm85 0zm1 0zm6-1z" stroke="#a0522d" stroke-width="4.0" stroke-linecap="round" fill="none"/>
<path transform="scale(.5)" d="M1632 208zm-23 16zm20 15zm-17 0zm60 3zm0 38zm-7 2zm-20 7zm6 1zm37 2zm-30 16zm-22-8zm22 14zm7 9z" stroke="#f09490" stroke-width="4.0" stroke-linecap="round" fill="none"/>
<path transform="scale(.5)" d="M2604 203zm39 4zm-12 6zm-2-3zm-2 2zm-11 1zm-2 1zm-2-3zm-2 3zm-1 0zm-1-3zm-10-2zm-3-3zm-1 6zm-2-6zm-5 2zm-2-3zm-1 5zm-3-5zm-4 14zm3 6zm0-9zm1 7zm7-5zm17-2zm16 0zm3 0zm4 4zm1 0zm2 0zm0 2zm2-1zm10 4zm488 1zm14-3zm2-3zm12 7zm2-6zm1-2zm0 2zm5 6zm5-4zm2 4zm9 0zm6 5zm-1-2zm-9 5zm-39-3zm-1-3zm-3 4zm-1-3zm-6 1zm-5 2zm-2 4zm-4-2zm-4 1zm-1 3zm-2-1zm-456-2zm-8-4zm-11-2zm0 7zm-3-6zm-51 4zm-5 0zm-4 8zm3 1zm1 6zm2-5zm82 5zm1-2zm1-4zm4 5zm9 0zm433-4zm3-5zm3 10zm4-2zm67-2zm0 4zm4-8zm7 7zm11 12zm-4 1zm-5-3zm0 3zm-75-9zm-4 7zm-2 2zm-1-9zm-5 3zm-6-2zm-423 9zm-2 0zm-3-2zm-1 0zm-2 2zm-3-1zm-6-4zm-3 1zm0-6zm-3 6zm-5-2zm-66 2zm-8-7zm-4 7zm-2-1zm-4 1zm13 12zm0-6zm3 2zm5 7zm59-6zm4 4zm4 0zm2-5zm2-2zm1 1zm2-1zm1 1zm3 3zm2-4zm0 3zm1-2zm0-2zm2 3zm2 3zm1 3zm3-9zm3 0zm1 4zm1-1zm420-1zm6 5zm1 4zm82 0zm3-7zm1 3zm1 2zm0-4zm1 2zm1-4zm4 6zm5 11zm-2-2zm-6 4zm-3-8zm-84 3zm-11-5zm-417 1zm-27 4zm-6 0zm-5 4zm-56-4zm-7-5zm20 16zm0 2zm0 2zm2-6zm3 6zm0 2zm3-4zm1 5zm3 0zm27-4zm3-7zm4 8zm1-3zm446-2zm2-3zm2 10zm0 1zm0-9zm5-2zm1 10zm2 1zm1-4zm8 0zm51 4zm0-3zm3 1zm2 0zm2 1zm23-8zm2 4zm1 2zm4-8zm-1 20zm0-2zm-5 3zm-6-5zm-4 6zm-3-2zm-5 2zm-1-3zm-4-5zm-9 3zm-5-4zm-3 1zm-7 6zm-1-5zm-1 1zm-5-2zm-1 4zm-1 5zm-5 0zm-23-4zm-2-7zm-6 5zm0-1zm0 7zm-463-7zm-6 7zm-1-6zm-11 4zm-4 0zm-1-2zm-4-5zm-3 1zm-6-1zm10 10zm51 7zm8-1zm426 2zm1 3zm1-1zm5-3zm0-4zm11 0zm3 8zm2-1zm6-1zm6 0zm1-6zm0-1zm49 1zm9-2zm3 0zm4 3zm-74 9zm-15 2zm-7-3zm-10 3zm-6-2zm-246 7zm-9 0zm0 9zm2 5zm20-1zm5-3zm11 4zm13-1zm43 2zm5-4zm3 3zm4 0zm2 1zm8 0zm140-11zm2 5zm5-5zm4 3zm-146 19zm-4-1zm-2-4zm0-4zm-1 1zm-2 3zm-10-3zm-1 0zm-4 8zm-4-6zm-1-3zm0 7zm-2 0zm-3-6zm-1-1zm0 4zm0 1zm-6 3zm-2 2zm-3-3zm-3 0zm-1-1zm-4-3zm-25-1zm-1 1zm30 18zm2-4zm2 5zm3-9zm2 1zm0 8zm1-4zm3-6zm4 9zm3 0zm3-7zm7-3zm5 10zm0-10zm1 3zm1 7zm4-5zm10 4zm1-5zm2 0zm0 2zm-6 11zm-8 6zm0-4zm-3-5zm-5 5zm0-1zm-1 1zm-2 1zm0 2zm-2-7zm-3 8zm-1-9zm-1 0zm-1 7zm-4-2zm-3-4zm-3 4zm-2-3zm0 4zm-2 0zm-3-8zm-89 14zm83 6zm0-6zm1 2zm5 7zm5-7zm1 0zm3 2zm3-4zm0 2zm0-1zm1 8zm0-11zm4 5zm7 4zm2-7zm1 0zm1 5zm0-3zm1 0zm2 1zm1 6zm0-3zm3-7zm0 5zm1 5zm0-6zm1 4zm2-4zm0 3zm0-1zm1-5zm1 6zm1-2zm-2 8zm0 8zm-2-6zm-3 5zm0 2zm-2-8zm-1 0zm-1-3zm0 3zm-1-1zm0 2zm-3 5zm-3 2zm-1-3zm0-5zm-1 2zm-1-3zm-1-1zm-1 6zm-1-1zm-2 2zm-3 1zm0-7zm-3 1zm0-1zm0 8zm-4 1zm-2-5zm-1 1zm-2-1zm-2-3zm-1 0zm-1-3zm-2 4zm0 2zm-235 11zm25 5zm7 0zm8-4zm184 0zm8-2zm3 3zm0 4zm4-11zm1 5zm0-1zm1 6zm1-8zm0 2zm0 4zm0 2zm2 0zm1-1zm1-1zm0 1zm1-7zm2 5zm1-7zm0 6zm2 4zm0 1zm2-3zm0-4zm1 7zm1-1zm0-8zm1 7zm1-8zm0 3zm1-1zm1 1zm1 0zm0 6zm1-1zm0 2zm0-9zm1 2zm4 2zm0 4zm0-7zm4 3zm1 4zm0-8zm3 5zm1-3zm2-4zm6 8zm8-8zm3 8zm1-4zm8 6zm5 0zm23 13zm-1-2zm-1 0zm-2-5zm-1 0zm-9 0zm0-3zm-7 0zm-1 1zm-3-1zm-29 7zm-5 2zm-2-6zm0-4zm-2 7zm-4-5zm-1 4zm0 2zm-4-5zm-1 6zm0-4zm-1 0zm-1 2zm0 1zm0 1zm-1-2zm0 2zm-1-7zm0 6zm-1-7zm-1 0zm0 4zm-1-4zm0 2zm-1 3zm0-4zm-2 4zm-1-6zm0 11zm-1-7zm0 5zm-1-5zm0 2zm0 3zm-1-9zm-1 5zm-2-2zm0 2zm0-1zm-3 5zm-2-2zm0 2zm0-9zm-1 8zm0 1zm-1-9zm-1 2zm-2 5zm-7-1zm-173 4zm-9 0zm-1 1zm-3-6zm0 1zm-2 4zm0-8zm-1 4zm-10-5zm-3 2zm-8-1zm-4 2zm0 3zm-2 1zm-1-3zm-1 4zm-4-9zm-4 0zm0 6zm-3-2zm-1 4zm-3 1zm-12-7zm-2 7zm-15 14zm1-7zm11 2zm1-5zm1 9zm9-8zm0 4zm3-6zm3 0zm39 10zm7-7zm1 0zm1 3zm1-5zm2 1zm2 3zm3-5zm2 9zm3 2zm2-3zm2 2zm10 1zm172-3zm0-6zm1 6zm1-3zm0 3zm2 2zm0-9zm1 9zm0-10zm1 11zm4-9zm2 0zm1 6zm1 1zm1-1zm0-8zm1 6zm0-5zm2 3zm0 7zm1 0zm0-9zm2-1zm0 4zm0 5zm2-6zm2 6zm3-3zm2-5zm2 8zm0-10zm1 10zm2-10zm1 11zm1-8zm1-3zm3 0zm59 6zm-61 7zm-2 5zm-4 2zm0-3zm-1 0zm-4-3zm-5 8zm0-7zm-3 4zm-1 0zm-1-1zm-3-5zm-1-1zm0 11zm0-10zm0 2zm-1-1zm0 3zm-3 3zm0 2zm-2-3zm-1 2zm0-8zm0 4zm-1 1zm0 5zm0-8zm0 1zm-1-3zm-1 0zm0 2zm-2-2zm0 1zm0 2zm0 2zm-1 1zm-1-7zm-2 2zm0-2zm0 1zm-2-1zm0 3zm-3-1zm-1 9zm-170-9zm-3 2zm-6 0zm0-4zm-4 3zm-1 8zm-7-3zm-67-4zm-2-1zm-3-2zm-8 3zm-1 1zm-2 8zm2 3zm2-1zm0 1zm0 2zm2-2zm1 0zm1 7zm2-11zm0 7zm79 4zm1 0zm5-9zm2 6zm158-2zm8-2zm0-3zm5 6zm0 2zm3-3zm5-5zm7 5zm1 3zm2-8zm2 0zm5 2zm2 3zm2-5zm0 4zm1-3zm2-1zm1 5zm0-6zm1 7zm1-2zm2 3zm1-1zm-3 5zm-38 6zm-3 2zm-7 2zm-4-1zm-2-6zm-1 7zm-2-1zm-15-8zm0 4zm-6 6zm-137 0zm-4-1zm-7-6zm-71 3zm-1 3zm0-7zm-3-2zm-2 3zm-3-2zm0 3zm-1 6zm0-8zm-7 20zm1 0zm5-7zm1 6zm0-8zm0 4zm2-3zm4 2zm2 3zm3-3zm66 0zm3-3zm1-2zm1 1zm2 9zm1-1zm5 1zm5 0zm96-1zm7-8zm17 7zm0 2zm5-7zm6 4zm0-1zm3 1zm4-4zm1 0zm3 1zm20 4zm5-3zm0-1zm6 0zm23 6zm11-3zm12-2zm9 11zm-2 4zm-2-6zm-3 6zm-42-5zm-6 1zm-2-2zm-1 0zm-6 5zm-42-6zm-7-1zm-7 4zm-1-4zm-2 6zm0-2zm-5-4zm-1 8zm-15 1zm-9 1zm-42-4zm-20-2zm-1 7zm-7-5zm-21 3zm-5-7zm-1 1zm-1-3zm0 5zm0 3zm-2-2zm-2-3zm0 2zm-4-5zm-1 8zm-6 3zm-3 0zm-3-3zm-51 3zm-1-7zm0 3zm-1 2zm-5-3zm-13-1zm-5 1zm-2 4zm-24-3zm-14-2zm-4 6zm-2 0zm-9-1zm-16 10zm13 3zm5-10zm6 4zm6-4zm5 3zm4 4zm3 0zm1-4zm2-1zm19 1zm4 1zm3-1zm0 1zm0 6zm15-6zm3-4zm2 0zm1 6zm0-1zm2 1zm1 3zm1-2zm2 2zm1-10zm0 5zm1-3zm1 9zm0-1zm0-7zm1-3zm2 8zm3-1zm14 2zm11-3zm2 5zm10-3zm2-3zm2 2zm1-2zm1 3zm3-5zm0 3zm3-6zm1 6zm2 5zm3-6zm5-5zm3 2zm1 3zm6-4zm16 4zm3-3zm23-1zm5 3zm36 7zm1-4zm7 0zm6-5zm4-2zm1 8zm2-5zm6-2zm73 2zm5 3zm5 3zm3-8zm2 5zm6-3zm18-1zm16-2zm2 3zm3-2zm5 16zm0 5zm-4-7zm-32 4zm-8-7zm-3 7zm-1 1zm-9-1zm-124-1zm-1-2zm-2 1zm-33 1zm-4 4zm-46-9zm-5 0zm-7-1zm-5 5zm-1 3zm-1-6zm0 4zm-2-6zm-1 1zm0-1zm-1 1zm0 2zm-3-3zm-2 6zm0 3zm0-7zm-1 9zm0-10zm-2 2zm-2 2zm0-4zm-2 10zm-1-8zm0-3zm-1 6zm-1 2zm-1 0zm-2 2zm-3-9zm-1 10zm0-1zm-1-1zm-1-9zm-1 0zm-3 3zm0 7zm-4-9zm-1 3zm-3 1zm-5 0zm-1-4zm-7 0zm-3 10zm-2-4zm-4 1zm-5-3zm0 3zm-1-7zm-5 8zm-1 1zm-7-8zm-1 6zm-2 0zm0 2zm0-8zm-5 1zm-1-3zm-7 4zm-32-1zm-7 3zm-1-3zm-2-2zm-6 5zm0-3zm-26 19zm4-3zm3-4zm0 4zm1-3zm1 7zm3-11zm4 0zm0 9zm4-3zm4-1zm2-4zm68-1zm1 0zm10 8zm2 2zm2-1zm1-8zm1 7zm2 2zm6-1zm2-1zm5-2zm5-2zm1 2zm1 3zm5-4zm2 1zm4 3zm0-8zm3-1zm1 3zm31-3zm91 8zm12-7zm134 10zm2 0zm14 7zm0 4zm-3-1zm-1 1zm-1-9zm-5-1zm-2 0zm0 7zm-1-6zm-4 3zm-8-3zm-124 8zm-10-5zm-1-1zm-2 1zm-2 7zm-2-4zm-2 4zm-111-11zm-12 0zm-7 7zm-3-6zm0-1zm-1 6zm-6-2zm-1-1zm-4 1zm-3-2zm-122 0zm-2 5zm-3 0zm-3 3zm-9-6zm0 11zm4 6zm7 1zm2 1zm0-1zm1 1zm1-6zm4 1zm113 4zm1-5zm2-5zm3 4zm1-4zm1 11zm7-9zm2 8zm5 0zm1-4zm4-4zm4 1zm108 8zm3-10zm3 1zm15 3zm1 3zm2 1zm3-4zm148 6zm8-11zm4 1zm0 10zm2-11zm10 8zm7 6zm-13 2zm0 5zm-1-4zm-148 1zm-13 4zm-2-10zm-3 4zm-3-1zm-28 8zm-133-5zm-8 1zm-91-7zm-1 11zm-1-5zm-3 5zm-4-2zm0-2zm-7-3zm-1 3zm-2-3zm-1-1zm7 11zm12 7zm3-3zm3 1zm2 4zm2-11zm7 8zm2 0zm0 2zm31 1zm33-7zm0 6zm2 0zm1-1zm2-7zm3 1zm170 7zm3-1zm6-8zm167 8zm2-8zm6 4zm4 1zm10 11zm-2-4zm-5 1zm-1 3zm-191 2zm0-3zm-16 3zm-2 4zm-1 0zm-21-9zm-134-1zm-8 5zm-3-3zm-5 3zm-1-4zm-1-2zm0 7zm-3 4zm-1-5zm-3-3zm-3 5zm-6-2zm-6 3zm0-7zm-4 2zm-2-2zm-1 5zm-2 0zm-4 4zm-4-2zm0-6zm-7 0zm-1 0zm-3-2zm0-1zm-10 0zm225 12zm2 2zm3 2zm9 1zm4 2zm8 2zm211-8zm3 9zm3-6zm2 8zm-4 1zm-1 4zm-5 2zm-203-3zm-7 6zm-5-4zm2 14zm1-7zm2 8zm1-5zm208-2zm3 4zm5 0zm1 3zm0-7zm2 2zm5-2zm2 3zm8 12zm-5-5zm-2 10zm-199-1zm-16-7zm-10 5zm24 8zm7 0zm1 4zm0 4zm2-6zm6 5zm179-3zm7-7zm1 11zm3-2zm3-5zm2 19zm-11-4zm0 1zm0 3zm0-9zm-1-1zm-1 1zm-2 8zm-1-4zm-3 3zm-164 1zm-9-1zm-1 2zm-1-10zm-9-1zm-7 3zm24 9zm1 6zm167-4zm0-1zm4 3zm-3 14zm-4 3zm-3-7zm-6 8zm-115 0zm-19-2zm-5-5zm-1 4zm-3 4zm-1-7zm0 3zm-1-7zm-4 5zm-14-3zm31 13zm1 1zm1 0zm4 2zm1-6zm1 6zm8 4zm95 1zm6-4zm6-1zm5-5zm7 5zm5-4zm1 1zm3-1zm0 1zm-29 11zm-2 3zm-2 2zm-8-1zm-3-3zm-13 0zm-2 0zm-7 8zm-11-3zm-10 2zm-2-2zm-26-1zm-6-1zm-2-2zm-6-2zm-1-1zm-3 2zm16 11zm3 0zm8-2zm4 2zm3 2zm30-4zm1 1zm3 1zm6 5z" stroke="#a2c8e0" stroke-width="4.0" stroke-linecap="round" fill="none"/>
<path transform="scale(.5)" d="M2627 211zm-1 3zm0 1zm-2-2zm-5 0zm-1 2zm-3-1zm-2-2zm-11-2zm-6-2zm-3 3zm0-6zm-1 4zm-7 1zm-3-2zm-10 18zm2-4zm2-1zm3 2zm44-1zm2-5zm1 10zm0-6zm0 3zm2 3zm1-2zm1-2zm1 3zm2-4zm1-1zm2 6zm4 0zm493-3zm5 2zm1 0zm1-1zm1-2zm2-4zm6 4zm12 3zm5-2zm18 3zm3 11zm-3-1zm-4-5zm-11-4zm-5 0zm-4 0zm-4 0zm-6 1zm-16-1zm-8 4zm-8 3zm-1 2zm-1-5zm-1 6zm0-1zm-452-2zm-2 4zm-1-7zm-4 2zm0 4zm-3 1zm0-1zm-8-9zm-2 4zm-4-3zm0 9zm0-1zm-1-1zm-3-8zm-1 2zm0-1zm-1 0zm0 1zm-3-2zm-3 0zm-43 2zm0 2zm-2 1zm0-2zm-3 4zm-1-2zm-2 2zm0-6zm-3 19zm1-4zm2-4zm3 1zm1-2zm0 4zm1-1zm2 5zm6-3zm46-5zm2 4zm2-4zm0 5zm2 0zm12 0zm1-5zm2 2zm0 3zm1-5zm3 5zm0-5zm3 3zm1-2zm0 4zm2 1zm1 4zm0-5zm0 2zm1 4zm3-5zm2 2zm441 3zm4-9zm2 1zm4-2zm5 3zm4-4zm57 6zm10 12zm-2-1zm-3 6zm-1-8zm-77 4zm-1-2zm-424 5zm-2 0zm-3 1zm-2 0zm-1-5zm0 4zm-4 1zm-1-5zm-1 0zm-1 5zm-1-1zm-4-3zm-1 0zm-1 2zm-1 2zm0-2zm-1-6zm0 8zm-1-7zm0 4zm-1 0zm-1-2zm0 4zm0-5zm-2-2zm0 4zm-2 4zm0-11zm-1 3zm0-1zm0 9zm-1-3zm0 3zm-1-3zm0-6zm-3 9zm-3-3zm0 3zm-3-4zm0-2zm-1-3zm-67 8zm0-4zm-2 4zm-2-4zm-2 5zm-2-9zm-1 2zm7 12zm2-2zm4 7zm4-5zm2 2zm2 5zm55-11zm1 10zm7-2zm0-1zm1 2zm0-2zm2 2zm0-1zm1-4zm1-3zm0 4zm1 2zm1-3zm1 0zm1 2zm0-3zm0 4zm2-3zm0-2zm1 1zm2-2zm0-1zm2 4zm0-1zm0-2zm2 1zm0-1zm0 3zm1 1zm0-1zm0 4zm0-6zm1-2zm1 3zm1 3zm1-5zm0 4zm0-1zm0-1zm1-3zm2 6zm0-1zm3 5zm0-5zm1 0zm0-2zm1-2zm2 0zm0 7zm1-2zm2-3zm1 3zm0-6zm4 3zm412 5zm0-1zm2-4zm3 1zm6-2zm79-2zm1 5zm3-3zm0 2zm2-2zm1 5zm3 10zm-1-2zm-3 5zm-1 1zm-2 0zm-1 0zm-3 1zm-84-1zm-3-9zm-2 9zm-1-4zm-453 2zm-2-1zm-1 5zm-3-10zm0 8zm-5 0zm-45 2zm-1-6zm-1 4zm-1-6zm-3 6zm-2-1zm-1 0zm14 8zm3 7zm6-1zm2-1zm9-3zm23-2zm2 2zm1-1zm0 4zm4-6zm6-3zm3 3zm448-1zm0 3zm1 4zm0-5zm1 0zm3 4zm47 3zm37-5zm5-6zm0 15zm0 1zm-3 6zm-2-2zm0 3zm0-1zm-2-3zm-7-2zm-6-4zm-3 6zm-17-7zm-8 3zm-2 1zm-10 6zm-3-1zm-30-6zm-271 7zm-183-10zm-10 0zm-21 6zm-8-1zm-3-1zm-1-2zm-7 5zm0-7zm30 18zm2 0zm2-6zm29 7zm2-4zm174 7zm3-10zm8 8zm252 2zm1-10zm1 6zm1-4zm1 2zm7 7zm9-10zm1 9zm1-9zm0 2zm9-3zm12 1zm46 7zm2-3zm3 0zm1-5zm4 9zm-79 7zm-4-3zm-5-1zm-3 2zm-1 0zm-5 3zm-1-5zm-1 6zm-3-2zm-3 6zm-248-6zm-7-4zm-5 6zm-1-3zm-6 1zm-5 2zm-191-4zm-2-2zm210 16zm3-4zm3 6zm2-3zm13 5zm4 3zm14-1zm6-2zm49-2zm12 3zm137-8zm11 0zm1 2zm-140 17zm-1-1zm-5-3zm-1-4zm-4 7zm-7-4zm-4-2zm-2 8zm-1-2zm-1-7zm-1 6zm-6-3zm-2 6zm-1-9zm-1 11zm-3-1zm-3-2zm-1-3zm-5-4zm-3 6zm-1-3zm-1 3zm-1 2zm-15-8zm0 2zm-5 1zm-8-1zm-9-2zm0-1zm-45 18zm3-2zm2 0zm3-3zm82 8zm3-2zm6-1zm3-3zm14 0zm0-2zm1 7zm14 1zm7-4zm0 4zm-9 9zm-2 3zm-6-8zm-5 7zm-7 2zm-1-2zm-7-6zm-2 7zm-6-8zm0 3zm-4-4zm-1 3zm-86 6zm-1-7zm0 15zm0 3zm1 0zm89-8zm8 3zm2 2zm0-2zm5-2zm4 0zm0 1zm2 3zm2-3zm6-1zm6 8zm0-3zm2 4zm18 9zm-7 4zm-9-7zm0 4zm-1-4zm-19 6zm-2-8zm0 4zm-1 4zm-1-10zm-3 2zm-1 1zm-7 7zm-4-8zm-86-1zm-172 17zm23 5zm2-2zm12-2zm3 1zm4 1zm209 0zm4-7zm0-2zm5 11zm3-8zm4 4zm1 2zm4 1zm4-5zm2-5zm1 2zm1 8zm5-1zm1-7zm1 2zm3 4zm13-5zm10 3zm10 3zm8-1zm20 15zm-9-1zm-3-3zm-1-7zm-1 2zm0 9zm-4-4zm-5-1zm-1 4zm-1-10zm-8 2zm-2-1zm-3 5zm-25-1zm0-3zm-1 9zm0-1zm-17-4zm-4 3zm-1-5zm-10 7zm-9-8zm-192 1zm-9 2zm0-6zm-1 3zm-3 4zm-3-1zm-6 0zm-6-3zm-3 2zm-2-4zm-2 0zm-1 4zm0-2zm-3 1zm-1 1zm-5 0zm-1-1zm-1 7zm0-2zm-1 2zm-9-2zm-17 8zm6 4zm0 1zm1-5zm1 0zm3 2zm2 0zm2-1zm1 1zm4-3zm1-2zm2 0zm1-1zm0 4zm2-2zm1-3zm7 4zm35-4zm8 4zm1-3zm5 9zm0-8zm2 2zm0 2zm1 1zm185 4zm7-8zm0-2zm0 9zm5-8zm5 2zm4 2zm4-5zm0 4zm1-2zm0 8zm70-9zm1-1zm8 1zm5 1zm5 4zm2-2zm0 1zm1 2zm1-3zm-98 14zm-3 2zm-1-1zm-1-8zm-4 5zm-4-2zm-3 2zm-5 0zm-4 4zm-1 0zm-3-6zm-8 6zm-170-5zm-8 4zm-2-7zm-75 7zm-5 1zm-9 5zm6 0zm5-2zm9 0zm68 2zm8 7zm2-8zm1 8zm1-5zm166 0zm1 5zm6 1zm2-2zm10-5zm11 4zm2-7zm1 6zm8-2zm6-1zm-10 19zm-1-2zm-42 2zm-1-6zm-4 0zm-6 3zm0-5zm-2 2zm-1 1zm-1 3zm-8-1zm-5-3zm-9 6zm-128-9zm0 8zm-2-5zm-5-4zm0 7zm-2-5zm-9-2zm-61 11zm-4-8zm-5-1zm-3 7zm-2 2zm0-11zm-3 3zm-1 2zm-3 7zm1 5zm4 6zm0-10zm0 3zm4 4zm0 1zm2-7zm0 3zm1 5zm3-5zm1-1zm57-2zm2 1zm8-1zm2 0zm0 6zm5-4zm2-3zm0 3zm0 3zm1-3zm1 3zm1-5zm8-1zm2 1zm20 8zm76 1zm7 0zm3-3zm5-5zm6 5zm3-5zm1 2zm0 3zm7-1zm4-7zm1 6zm31 4zm3-9zm5-1zm3 10zm5 1zm43 10zm0-7zm-5 4zm0 5zm-2-1zm-1 0zm0-5zm0 4zm-1 1zm-3-8zm0 4zm-21 4zm-7-8zm-13 5zm-4-7zm-2 2zm-1 3zm-60-4zm-5 6zm-1 0zm-3 2zm-2-8zm-2 5zm-2 3zm-1-4zm-66-1zm-12 7zm-1-1zm0-5zm-21-5zm-2 4zm-3-4zm0 1zm-8 9zm-3-8zm-4 5zm-3 2zm-1-1zm-10-4zm-9 5zm-38-5zm-3 5zm0-8zm-1 5zm-2 1zm-2 0zm-3-7zm0 6zm-11 1zm-5 4zm-13-6zm-8 6zm-7-3zm-6 3zm-1-6zm-5 4zm-3-1zm0-5zm-4 7zm-31 4zm12 8zm1-3zm0 2zm1 1zm1-6zm1 1zm1 4zm2-7zm10 6zm1-5zm4 2zm4-5zm4 9zm6-3zm13 5zm4-3zm8-1zm4 2zm9-5zm7 0zm1 4zm1-1zm0-5zm1 8zm0-8zm2-2zm1 11zm3-6zm0-5zm0 3zm2 0zm0-1zm2 5zm0 4zm0-6zm2 6zm0-3zm3 1zm3 2zm15 0zm5 0zm10-3zm1 1zm2-1zm0 1zm1 2zm1-6zm1 4zm0-3zm0 4zm3-5zm1 1zm5 1zm1 0zm1-4zm1-3zm7 0zm2 10zm8-9zm4 1zm31 2zm51 6zm5-1zm4-4zm8-2zm3-1zm22-2zm58 3zm11 3zm4-6zm3 11zm37-8zm-18 11zm-15 2zm-7-3zm-1 4zm-3-4zm-98 6zm-14-7zm-2 2zm-2-2zm-5 0zm-1 5zm-17 0zm-23 4zm-13-8zm-27 3zm-7-3zm-2 8zm-10-7zm-1 0zm-2 0zm-3 0zm-3-1zm-3 3zm-1-2zm0 2zm0 4zm-1-5zm-2 4zm-1-5zm-1 1zm0 4zm-4-2zm0-3zm0 4zm0-5zm-2 0zm-1 8zm0-6zm0 3zm-1 2zm-1 2zm-3 0zm-1-8zm-2 8zm0-2zm-2-2zm-2 2zm0-8zm-1 6zm-1-1zm-2-3zm-1 6zm0-6zm-4 5zm-3 4zm0-5zm-1 5zm-1-7zm-2 5zm0-5zm-1 2zm-1-5zm-4 4zm-5 6zm-5-11zm-1 10zm0-10zm-2 1zm-8 4zm-8 3zm0-5zm-3 8zm-1-10zm-1 1zm-5-1zm0 4zm0-1zm-3-1zm-2-2zm-1 0zm0 1zm-4-2zm-38 4zm-5-1zm-4-3zm-8 5zm0 4zm-5 2zm-12 7zm11-2zm5 2zm2-5zm0 8zm2-6zm66-2zm3 2zm1 0zm2-3zm6 0zm2 3zm6 4zm0-2zm3-4zm11 7zm2-5zm12 3zm5-3zm0-2zm0 3zm2 3zm2-2zm7-3zm3 0zm3 3zm71-4zm6-1zm24 3zm0-2zm4 9zm9-7zm2 2zm4 2zm133-1zm0-1zm5 1zm2 2zm4 2zm6 7zm-12 0zm-142 5zm-6-6zm-1 0zm-1 4zm-18 2zm-1-8zm-6-2zm-91 6zm-22 5zm-2-1zm-1 1zm0-5zm-2-2zm-1-2zm-1 1zm-1 3zm-2-5zm-2 9zm-104-8zm-22 0zm0 4zm-2-3zm-3-1zm-8 9zm-1 5zm3-4zm2 4zm5-2zm0 6zm1-1zm1-3zm0 3zm16-2zm103 5zm4 1zm0-8zm1 0zm8-3zm0 4zm135-4zm10 0zm19 11zm2-2zm139-7zm2 0zm4 1zm5 8zm1-8zm2 7zm14 5zm-1 6zm-4 1zm0-2zm-7 3zm-162-1zm-5-7zm0 2zm-1-5zm-146 5zm-18-2zm-3 7zm-5-1zm-6-3zm-5-5zm-82 7zm-12 0zm0-3zm-3-5zm-5 1zm9 13zm7 4zm1-1zm0-2zm2 6zm0-5zm1-1zm1 0zm1 6zm2 1zm4 0zm1-5zm1-2zm8 8zm6 0zm1 0zm0-1zm40-6zm9 5zm1-1zm5 0zm3 0zm0-1zm2-1zm0-1zm2-4zm175 1zm4 7zm2-3zm6-3zm169 1zm3-4zm0 8zm1 1zm8 2zm2-3zm11 10zm-20-4zm-184-1zm-7 5zm-3 4zm0-2zm-19-4zm-12-1zm-1 2zm-4-1zm-139-4zm-4 4zm-2-1zm-9 0zm-2 4zm0-6zm-5 5zm-8 3zm-5 2zm-4-4zm-1-2zm-3 0zm-1-3zm-5 1zm-7-1zm-2 3zm-1-5zm-2 4zm58 8zm156 9zm1-8zm0-1zm2 4zm2 6zm1-4zm5 0zm3-3zm5 0zm217 4zm5-6zm8 19zm-2 2zm-6-7zm-4-3zm-2 2zm-5-1zm-206 10zm-4-2zm0-6zm-2-3zm-1 2zm-8-2zm16 12zm2 5zm4 4zm1-8zm1 7zm2-2zm4-4zm202 7zm5-3zm8-5zm11 21zm-11-1zm-2 2zm-192-4zm-3 2zm-4 2zm-7-3zm-5-8zm-3 0zm-3 0zm22 15zm7 6zm2-2zm0 4zm181 0zm4-10zm3 0zm4 6zm1 7zm-4 8zm-2-8zm-3 7zm-177-7zm-3 11zm7 7zm1 2zm0-7zm3 0zm4 6zm4-3zm1-1zm3 2zm156-4zm-144 14zm-7 6zm-6-6zm0-2zm-5 5zm12 8zm2-1zm6 7zm2-1zm0-5zm99 4zm13 2zm3-4zm11-5zm2 8zm2-9zm0 8zm-9 9zm-4 1zm-7-3zm-11 0zm-1 1zm-1 0zm-7 2zm-1-5zm-8 8zm-1 2zm-1-6zm-13 4zm0-2zm-4 4zm-2-3zm-5 3zm-2-5zm-2 3zm-14 2zm-6-7zm-1-1zm-2 8zm-4-3zm-1-1zm-4-1zm-1-1zm-1 0zm-9-1zm14 12zm10-3zm5 0zm1 4zm7-4zm56 5z" stroke="#f09490" stroke-width="4.0" stroke-linecap="round" fill="none"/>
<path transform="scale(.5)" d="M2604 203zm25 10zm-13 0zm0 2zm-1-4zm-1 1zm-2-3zm-3-1zm-1 1zm0 3zm0-1zm0-7zm-2 9zm0 1zm-1 1zm-2-10zm-1 8zm0-1zm-3-8zm0 7zm-1-6zm-5 2zm-1 7zm-2-5zm0 3zm0-1zm-1 2zm0-5zm-3 7zm-1-9zm0 1zm-1 5zm-1-2zm0 2zm-1 2zm0-3zm-1 1zm-1 1zm0 1zm0-4zm-1 1zm-5 14zm2-8zm1 2zm1 3zm0-1zm1-4zm0 4zm1-5zm1 8zm1 0zm2-4zm1-4zm2 3zm0 1zm0-3zm2 0zm1-1zm6 2zm2-2zm5 2zm1-2zm24 2zm3 0zm1 4zm3 2zm502-1zm2 3zm14-2zm5-1zm1 3zm3-2zm0-1zm1-4zm4 8zm23 9zm-3-1zm0 2zm-3-3zm-2 2zm-5-8zm-2 8zm-19-5zm-10-2zm-2 1zm-3 6zm0-2zm-2-2zm-2-3zm-7 1zm-1-1zm0 5zm-9 4zm-4 0zm-449 1zm-23-10zm-5-1zm0 3zm-1 5zm-1 1zm0-2zm-56-2zm-2-5zm-4 3zm-1 18zm3-8zm5-1zm2 1zm61 3zm5 0zm7-1zm3-2zm1 7zm2-3zm447-1zm9-4zm73 0zm2 2zm4 4zm1-3zm2 5zm-2 6zm-1 8zm0-4zm-2 2zm-1-2zm-1 4zm-3-10zm-72 1zm-1 1zm0 6zm-2-5zm-2-3zm-434 10zm-10-8zm-2 1zm0 4zm-1 3zm-2-5zm-1 0zm-2 3zm0-7zm-2 2zm-1 0zm-4 8zm-1-4zm-11-5zm-67 6zm-1-5zm-3-3zm-2 0zm18 12zm64 4zm3-1zm0 7zm2-1zm0-1zm6-2zm5-2zm5 0zm20-3zm1 1zm411 7zm5-5zm7-2zm2 0zm89 7zm3 12zm0-4zm-7 4zm-89-5zm-1 5zm-4-6zm-1 8zm0-7zm-461 4zm-3-6zm-43 9zm-1-5zm-6-2zm-5-3zm5 14zm3 0zm4 0zm1 5zm1-4zm2-3zm1 6zm1-4zm2 1zm3 6zm28-6zm6 6zm1-3zm2-2zm455 2zm5 4zm1 0zm2-4zm1-4zm39 8zm40-10zm5 3zm2 5zm8-6zm1 5zm0 13zm-5 2zm-2-4zm-1-7zm-13 10zm0-9zm-2 0zm-3 4zm-9-3zm-20 2zm-1-2zm0 4zm-6 1zm-4 0zm-29 0zm-2-2zm-1-5zm0 3zm-3-2zm-1 8zm-1-2zm0-5zm-1 8zm-458-6zm-12 3zm-1 1zm-12 3zm-3-6zm-2 2zm0-1zm-2 1zm-1-4zm-1 0zm-6 0zm-2-2zm17 14zm11-1zm2 0zm203 9zm6-7zm4-2zm1 2zm3 5zm5 2zm248-6zm5 2zm1-2zm1 0zm10 4zm2-4zm2 1zm7-6zm2 6zm2-4zm58 2zm5 4zm5-3zm-91 16zm-4 2zm-11-9zm0 5zm-149 2zm-26-1zm-57 0zm-16 3zm-15-1zm4 13zm7-9zm9-2zm0 3zm5 7zm4-4zm3 3zm4-2zm2-2zm2 5zm8-3zm9 1zm16-4zm5 6zm9-1zm1-2zm0 4zm1-1zm4-4zm2 4zm0-5zm1 4zm2-1zm1-3zm1 5zm1-5zm1-2zm1 2zm0 2zm1 3zm2-1zm0-5zm1 3zm1 0zm2-1zm0-1zm3 0zm12 5zm4-2zm2 0zm130-6zm3-2zm-139 21zm-3-9zm0 2zm-1 1zm0 7zm-2-3zm-1 0zm0 2zm0-6zm-1-2zm-1 3zm0-4zm-1 6zm0 1zm0 2zm0 2zm-3-4zm-3 1zm0 2zm0-9zm-2 3zm-2 7zm0-8zm-2 4zm0-3zm-1 2zm0 2zm-1-4zm0 7zm-1-2zm-1-7zm-2-1zm0 3zm0 1zm0 2zm-3-7zm-1 5zm-2-5zm0 3zm0 4zm-2 2zm-1 1zm0-1zm0 2zm-1-1zm-1 1zm-1-7zm0-3zm-1 8zm0-1zm0-6zm-1 9zm-4-1zm-2 0zm-1-2zm0 2zm-7-4zm-16-4zm22 14zm2 0zm0-1zm2-2zm0 5zm1-3zm1-2zm2 4zm0-4zm1 0zm4 3zm2 4zm1-2zm1 0zm2-6zm0 7zm1 3zm0-3zm4-5zm0-1zm0-1zm1 11zm2-11zm1 5zm0 4zm1 0zm1-7zm0 4zm1-4zm1 1zm1 7zm1-4zm0 5zm1-1zm0-7zm1-3zm0 6zm1-4zm0 6zm2 1zm0-2zm3-1zm0-1zm0 6zm0-9zm2 9zm0-1zm1-10zm4 10zm1 0zm1-8zm1 7zm0-1zm0-1zm1-6zm1 5zm1-3zm0 1zm0 2zm12 0zm-14 6zm-1 0zm-1 3zm-2-1zm-1 9zm-1-7zm-1 2zm0-5zm0 1zm-1-1zm-1 5zm-2 3zm-1 2zm0-10zm0-1zm0 3zm-1-3zm0 8zm0-7zm-1 6zm-1-6zm0-1zm-1 4zm0 7zm0-10zm-1 0zm-1 8zm0-8zm-1 2zm-1 4zm-1-6zm-1 10zm-1-11zm0 2zm-2 3zm-1 5zm0-1zm-1-2zm-1-4zm-1-1zm0 4zm0 2zm-2-7zm0 1zm0 3zm-1-4zm-1 6zm-1 2zm0-8zm0-1zm-3 2zm0 2zm-1 6zm0-1zm-1-3zm0 1zm-1-5zm0 7zm-1-4zm0 3zm0 2zm0-8zm-1 5zm0-6zm-1 4zm-3-5zm-11 20zm7-5zm2 4zm4 0zm4-3zm4-4zm4 3zm1 7zm3-10zm4 2zm1 7zm17 0zm12 2zm-6 9zm-6-4zm-2 0zm0-4zm-7 2zm-7 3zm-6 3zm-4 2zm-2-4zm-1-4zm-3 5zm-1 3zm-1-1zm-1 2zm-4-4zm-7 1zm-7-4zm-225 17zm6 2zm15-4zm214 1zm1-2zm0 5zm7-10zm1 1zm8-2zm0 2zm1-1zm0 4zm6 3zm3-4zm4 1zm4 2zm1-1zm15 0zm3-6zm4 7zm2 0zm1 0zm0 1zm11 3zm18 12zm-1-2zm-5-4zm-2 1zm-7-3zm0 2zm-1-1zm-3 2zm-3-5zm-4-1zm-7 8zm-20-8zm-3 0zm0 2zm-1 6zm-8-5zm-2 7zm-7-2zm-1 2zm0-7zm0-1zm-3 5zm-1-1zm-1-4zm-3 9zm-3-4zm-2-1zm-4-5zm-192 5zm-8 2zm-3-4zm-5 7zm-7-2zm-3-5zm-3-1zm-2 2zm-4 4zm-3-1zm-2 2zm-1-6zm-1 3zm-2-4zm-1 8zm-1-11zm-3 2zm-3 9zm-3-6zm-2-5zm-8 8zm-7-7zm-6 22zm2-3zm6-3zm1-4zm2 6zm1 3zm0-2zm2-5zm22-1zm2 5zm40-3zm1-2zm0 2zm2-1zm2 8zm4 0zm182-8zm0 5zm1-6zm2 6zm1 1zm5 1zm3-3zm5 2zm2-4zm3-1zm1 5zm8-1zm6-3zm58-3zm6-1zm-64 17zm-6-3zm-4 7zm-1-3zm-2 3zm-1-5zm-3 2zm-4-6zm-1 10zm-4-11zm-5 10zm-2 0zm-1-3zm-3 0zm-181-4zm-1 8zm-5-7zm-12 4zm-60-7zm-8 2zm-2 4zm-2 1zm-7 3zm-6 9zm4-1zm8-1zm81 2zm1 1zm0-3zm9-5zm130 5zm10 5zm58-9zm1 2zm12 4zm2-7zm-20 17zm-6 1zm-15-7zm-5 4zm0-3zm-10 6zm-1 3zm0-10zm-6 1zm0 7zm-4 0zm-5 3zm-3-7zm-1 2zm-6 5zm-2-5zm-15 0zm-4-3zm-6 1zm-114 7zm0-9zm-1 3zm-1 3zm-1 2zm-3-8zm0 7zm-1 0zm-2-9zm-74 0zm-3 11zm-1-10zm-3 10zm-1-2zm-6-8zm-2 22zm4-1zm7-6zm74 7zm1-6zm5-5zm9 2zm3 6zm1-8zm102 9zm12-3zm20-3zm2 1zm6-4zm1 0zm2 0zm16 0zm5 1zm8 10zm1-3zm0 3zm1-3zm16-1zm27-6zm11 18zm0-1zm-2 5zm-3-1zm-1-6zm-2 7zm0-1zm-1-6zm0 3zm-11 4zm-4-1zm-39-6zm-50-2zm-3 4zm-2-4zm-2 4zm-5 0zm-1 0zm-3 3zm-4-1zm-5 2zm-11 1zm-6-6zm-3 5zm-41 0zm-2-1zm-3-3zm-4 3zm-8-1zm-3-1zm0 4zm-12-9zm-1 8zm-4-10zm0 7zm-1 4zm-10-10zm-1-1zm-4 6zm0 1zm0 1zm-16-1zm-5-2zm-3 6zm-51-10zm-1 9zm-1-6zm-1 5zm0 1zm-1 0zm-2-3zm-4-4zm-6 4zm-11-3zm-1-1zm-15 4zm-13 0zm-5 2zm-1-2zm-4 3zm-5 1zm-3 0zm-20 8zm4 0zm0 2zm8-8zm10-1zm1 2zm1-1zm12-1zm0 2zm3 5zm0 1zm2-3zm1-1zm4 1zm0 3zm10-8zm3 4zm3 5zm0 2zm2 0zm5-8zm20 3zm0-5zm1 2zm1 7zm1-5zm1 1zm0 3zm1 2zm0-10zm1 4zm1 5zm4 0zm4-2zm28 3zm1-1zm6-1zm0 1zm1-5zm1 4zm0 2zm1 0zm2-6zm1-1zm2 4zm3-2zm3 3zm5-6zm2 3zm6-6zm10 0zm0 3zm8 3zm4-1zm0 4zm1-5zm3 5zm7 2zm0-3zm3 3zm8-4zm4 1zm17 0zm12 3zm6-4zm10-2zm1 6zm1-11zm16 9zm4-9zm2 3zm81 8zm0-10zm0 5zm3-4zm4-2zm1 8zm36-7zm3 2zm1-2zm2 3zm1-3zm6-1zm-1 18zm-46 4zm0-10zm0 4zm-4 3zm-1-2zm-1-4zm-2-1zm-102 1zm-11-1zm-3 0zm-1 2zm-11 4zm0-1zm-9 1zm-14-5zm-11 4zm-8-5zm-8 5zm-1 0zm-2-1zm-2-2zm-18-1zm-4 8zm-13-8zm-1 10zm-2-9zm-1 0zm-4-1zm-1 5zm-2 0zm-1-6zm-1 7zm-2-6zm0 1zm-2-1zm-2 10zm0-8zm-1 2zm-1 0zm0-3zm-1 3zm0 6zm-1-11zm-1 10zm-1 0zm-1-3zm-3-4zm0 4zm-2-5zm0 1zm0 5zm-1-3zm-1 6zm-1-2zm0-9zm-2 8zm-2 1zm0 2zm0-1zm-1-5zm-2 0zm0 6zm0-1zm-1-3zm-1-4zm-1 4zm-1-3zm-1 1zm-1 6zm0-8zm-3-1zm-1 1zm-1-2zm0 3zm0 1zm-1 2zm0-3zm-5 5zm-10-9zm-8 2zm-7 1zm-6 0zm-10 2zm-2 1zm-1-1zm-5 2zm0-7zm-18 1zm-17-1zm-5 5zm-3-3zm0 3zm-3-1zm-7 2zm-27 11zm14 6zm1-3zm3 0zm0 3zm2-10zm3 1zm75 7zm2-1zm2-4zm5 2zm0 1zm2-6zm4 3zm5 6zm3-7zm0 2zm1 0zm2 4zm0-1zm2 2zm0-10zm3 4zm0 7zm1-5zm0-6zm1 6zm1-2zm2 3zm1 0zm2-5zm0 5zm2-5zm2 8zm1-8zm0 6zm6-7zm1 2zm2 4zm3-7zm0 3zm4 0zm1-2zm1 2zm1-3zm3 6zm1 2zm1 3zm25-11zm28 9zm18-7zm20 6zm0 3zm0-8zm2 3zm15 3zm2-7zm146-1zm0 3zm7 7zm10 11zm-7-2zm-7-2zm-4-6zm-150 8zm-9-3zm-15-5zm-86 4zm-7-4zm-12 3zm-5-3zm-1 2zm-1 1zm-5 3zm-5 3zm-17-9zm-98 0zm-8 0zm-1 8zm-4 0zm0-3zm-6 3zm-1-1zm-1 2zm-2-6zm-3 6zm-3 6zm5 1zm3 5zm1-1zm1-4zm3 1zm3 2zm3 4zm112 0zm8-2zm5-2zm152-1zm2-3zm0 2zm2 4zm1-8zm1 9zm144-10zm12 10zm17-2zm9 14zm-1-10zm-2 10zm-3-9zm-1 7zm-5 3zm0-6zm-8 4zm-1-4zm-2-4zm-152 9zm-3-7zm-2 6zm-3 2zm-32-7zm-5-1zm-135 8zm-2-9zm-2 6zm-2 0zm-9 3zm-77 0zm-7-4zm-2-4zm-2 0zm-5 2zm-1 1zm-2-3zm-2 4zm17 11zm1-1zm7 3zm3 1zm4-4zm1 6zm3-3zm2 2zm35-2zm25 2zm4-5zm1-4zm1 4zm8 4zm5-9zm11 1zm105 9zm12-5zm28-3zm9 9zm1-3zm0 2zm4-7zm4 5zm0-6zm1 2zm1-4zm177 6zm2 9zm-3-1zm-188 3zm-3 5zm-12-3zm-10 2zm-16-6zm-10 4zm-134-3zm-7 3zm-3-6zm-2 7zm-5-5zm-1 3zm-5 3zm-4-9zm0 1zm-5 4zm-3 1zm0 1zm-7 2zm-7-3zm-1-5zm-9 4zm-4 2zm207 8zm14-3zm3 5zm1 3zm4-1zm1 1zm1-8zm3 8zm6-7zm6 9zm195-3zm4-5zm2 5zm2 2zm1-1zm0 2zm2-6zm6 1zm11 4zm7 11zm-12 1zm-8 0zm-1-6zm-1-1zm-4-1zm-202 9zm-2 1zm-1-5zm-3 2zm0 3zm-1-11zm-3 1zm0 2zm5 17zm1 1zm4-7zm6 9zm4 0zm200-11zm1 11zm6-5zm0 3zm5 0zm5 2zm5-5zm-1 12zm-6-6zm-2 5zm-8 5zm-191 0zm-1 0zm-1-2zm0 3zm-10-4zm-2-1zm-4-3zm0 4zm-8-6zm14 13zm11 9zm3-5zm0-1zm3 3zm1-5zm4-2zm1 5zm1 0zm3 2zm177 3zm1-6zm1 1zm14 17zm-3-2zm-5 1zm-179-1zm-1-4zm-6 0zm-9-5zm-1 5zm14 10zm3 4zm2-6zm4 4zm1-1zm160 1zm3-2zm1 5zm4-6zm2 5zm-11 5zm-2 8zm-138-3zm-13-2zm13 13zm1-3zm0 4zm6 0zm118-1zm5 8zm-21 9zm-8-2zm-3-2zm-8 1zm-5 0zm-3-4zm-2 3zm-6 4zm-14-1zm-20-2zm-2 0zm-3 5zm-3-5zm-7 3zm-12-8zm0 7zm15 6zm7-2zm0 2zm8-1zm3 2zm8-3zm11 4zm3-1zm1 1zm11-4zm1 3zm7 1z" stroke="#c0aad2" stroke-width="4.0" stroke-linecap="round" fill="none"/>
<path d="M1291.2 105.2L1298.2 103.2L1305.9 104.9L1312.3 106.7L1320.6 116.1L1330.4 120.1L1332.6 123.2L1330.5 129.4L1328.4 137.4L1325.6 144.2L1324.2 149.6L1321.5 156.1L1319.5 159.3L1312.3 155.6L1306.9 150.4L1299.9 143.6L1293.0 135.6L1287.6 127.5L1289.8 118.9L1288.3 111.6ZM1556.1 120.5L1563.7 117.2L1572.2 112.6L1580.2 112.0L1589.1 115.1L1595.4 120.0L1599.4 129.0L1602.1 139.5L1601.4 150.1L1602.1 157.7L1600.8 159.4L1597.1 157.7L1593.8 153.8L1588.2 150.0L1581.4 150.0L1575.2 152.9L1569.5 157.0L1561.4 162.3L1553.4 166.2L1549.7 167.6L1550.0 166.4L1554.8 158.6L1556.3 148.7L1553.5 138.3L1559.0 130.2ZM1241.6 275.9L1249.8 270.5L1262.5 262.4L1275.1 254.3L1283.5 250.4L1286.8 255.4L1297.0 263.8L1310.2 269.4L1316.3 270.1L1312.2 274.9L1303.7 283.7L1296.8 291.7L1287.7 298.1L1278.7 296.7L1264.9 294.0L1254.0 288.8L1245.9 282.3ZM1386.0 262.1L1396.6 257.2L1413.6 249.1L1430.5 241.0L1440.5 235.8L1447.5 241.8L1453.0 256.4L1457.3 267.5L1467.4 278.6L1478.6 289.3L1484.2 300.0L1492.7 311.0L1499.6 320.1L1498.7 331.7L1495.4 340.5L1486.9 351.7L1474.9 356.3L1454.7 359.4L1440.5 360.0L1428.0 352.5L1414.1 341.8L1402.8 328.2L1391.4 320.1L1378.7 305.1L1371.5 301.0L1385.7 297.8L1390.5 288.6L1385.7 274.8Z" fill="#a0522d"/>
<path d="M1482.5 298.8L1490.0 310.0L1498.0 320.0L1497.0 335.0L1490.0 346.2L1477.5 353.8L1466.2 352.5L1460.0 340.0L1456.2 322.5L1460.0 310.0L1470.0 301.2ZM1385.0 262.5L1400.0 253.8L1416.2 248.0L1425.5 260.0L1423.8 276.2L1411.2 285.0L1395.0 281.2L1384.5 272.5ZM1314.3 251.7L1316.6 233.9L1323.4 220.7L1337.3 214.1L1347.2 209.3L1357.0 213.6L1364.8 220.4L1362.9 228.9L1359.0 240.0L1349.8 248.8L1340.5 255.5L1331.4 261.0L1322.8 262.6L1316.5 258.5Z" fill="#c0aad2"/>
<path d="M1350.4 216.6L1363.1 219.3L1364.5 224.7L1360.3 232.9L1350.4 228.8Z" fill="#c0aad2"/>
<path d="M1591.6 130.0L1601.3 130.0L1603.4 148.8L1595.8 152.8L1591.6 144.8Z" fill="#a2c8e0"/>
<path transform="scale(.5)" d="M2699 434zm1 0zm1 0zm0 6zm1-4zm0-1zm3-2zm0 9zm3-8zm0 8zm1-6zm8 6zm2-2zm2 1zm2 1zm1-3zm1 2zm0-5zm1 6zm7 3zm-1 3zm-3 5zm-1-6zm0-1zm0 9zm0-1zm0-1zm0-5zm-1 7zm-1-6zm-1 4zm-19-9zm-3 10zm0-10zm-2 0zm-1 11zm-2-2zm-1-1zm-1 0zm1 7zm1 2zm1-5zm1 2zm0-1zm5 1zm1 5zm4-3zm4 2zm0 2zm0 3zm5-5zm3-6zm1 10zm0-5zm1-2zm0-1zm0 8zm0-1zm3-3zm1-4zm102 33zm10 0zm4 1zm-3 9zm-3-3zm0-5zm-1 9zm0-1zm-1-4zm-1 4zm-1-4zm-5 0zm0 3zm-2 0zm-2 0zm0-2zm-4 5zm-3-3zm-2 0zm0-4zm-1-2zm-1 9zm-1-6zm-1 5zm-4-3zm-1 3zm-2 0zm-2-1zm-6-2zm-17 14zm2-2zm2 2zm5 1zm1-4zm0 2zm3 1zm1-3zm3-3zm4 4zm0-7zm1 3zm0 3zm1-1zm0 3zm0-5zm0-1zm9 0zm20 1zm0-2zm3-1zm1 5zm0-2zm4 2zm1 1zm0-3zm3 3zm2-3zm0 8zm2 0zm3-9zm10 14zm-8 5zm-1 1zm-1-4zm-1-1zm0 6zm-1-5zm0-5zm-1 10zm0-10zm-5 2zm0 4zm-1-6zm-55 2zm-2-2zm-1 5zm0-1zm-2 4zm-1-6zm-2 2zm-1 6zm-4-5zm-1 5zm0-5zm0 4zm-1-3zm-1 2zm-2-3zm-5 17zm4-2zm0-1zm1-3zm1-5zm0 11zm2-9zm1 0zm0 7zm1-8zm1 6zm1 1zm1-5zm0-2zm65 1zm3-1zm2 10zm0-6zm1-3zm0 8zm1-6zm0-3zm1 4zm0-5zm0 3zm1 0zm3 7zm0-6zm1 9zm-1 0zm0 6zm-2-2zm-2 6zm-2-6zm-2-5zm-1 8zm0-6zm0 9zm-1-8zm-3 3zm-2 4zm-62-5zm-5 1zm0-2zm-5 0zm-3-3zm-1 2zm11 9zm4 4zm1 0zm2 2zm4-5zm3 9zm1-9zm1 4zm0-2zm2 2zm1 2zm3-2zm2 6zm13 0zm16-6zm6 4zm3-5zm0-2zm1 7zm1-6zm2 2zm1 3zm1-1zm1-4zm2-1zm1 0zm1-2zm1 1zm1 1zm2 0zm7-1zm-25 11zm-3 1zm-1-1zm-2 9zm-1-1zm0-3zm-1-3zm-1 0zm-2-1zm0 2zm-1 2zm-2-5zm0 8zm-1 1zm-1-3zm0 4zm-3-7zm-2 3zm-3 1zm-1-7zm-1 6zm-3 0zm-1 3zm-2-8zm-3 0zm-1-1zm0 9zm-5-7zm174 30zm-1 0zm-5 1zm-3-3zm0 4zm-5-1zm-1 2zm-13 0zm-15 10zm7 1zm1-2zm0 1zm1-7zm2 1zm2 3zm3 3zm1-5zm0-1zm4-2zm3 1zm0-1zm1 3zm1-4zm0 3zm3 2zm2 1zm1-5zm2 5zm1-2zm4-4zm2 4zm2 2zm1-4zm2 1zm0-1zm1 3zm1-4zm0-1zm0 9zm4 0zm1 0zm1 1zm2-4zm0-3zm7 15zm-3 0zm-1-2zm0 6zm-2-7zm-1 7zm0-10zm-1 10zm0-5zm0 3zm0-6zm-1 0zm0-2zm-3 3zm-2 3zm-4-3zm0-2zm-37 0zm-1 1zm-3 7zm-2-3zm-1-1zm-1 2zm-3 2zm0-8zm0 4zm-3 6zm-1-1zm0-3zm-3 3zm-2 12zm2-5zm3 4zm1-6zm1-1zm0-1zm1 4zm3-4zm0 9zm8-10zm51 11zm1-10zm1-1zm1 7zm0-1zm1-4zm1 1zm1 2zm0-1zm2 6zm2-6zm0-1zm1 4zm2 1zm1 0zm0 2zm7 9zm-1-6zm-3 0zm-3 2zm-1 2zm-1 6zm0-5zm-2-1zm-1-5zm-1 8zm-1-4zm0 4zm-1 0zm-3-2zm-65 5zm-1-10zm0 10zm-1-2zm-3-8zm-4 4zm-5 6zm1 2zm3 10zm2-1zm4-1zm2-2zm2 4zm3-2zm1-4zm67 2zm3-3zm1-1zm0-2zm3 1zm0 4zm1-5zm1 4zm0-3zm1 5zm2 1zm3-2zm-3 16zm-2 0zm0-8zm-1 5zm0 3zm0-1zm0-5zm-2-2zm-1 0zm-1 5zm0-5zm-1 7zm0-4zm-1 6zm0-1zm0-1zm-3-3zm0-1zm-3 4zm-63 1zm0-2zm-3-2zm-2 3zm0-5zm-2-1zm0 8zm-1-7zm-3 7zm0-5zm-3-3zm4 20zm0-10zm0 4zm2-3zm0-1zm2 5zm0 4zm2-6zm1-1zm0 3zm1-2zm0 4zm11-5zm49 5zm2-1zm2 1zm2-2zm1-1zm0-1zm0 4zm1-4zm1 3zm-3 6zm-1-1zm0 4zm-1-3zm-3 6zm0 4zm0-5zm0 2zm-1-8zm0 8zm-1-2zm-1 3zm-4 2zm-1-3zm-5-2zm-1 5zm-35-5zm-1 0zm-7 5zm-1-6zm0 6zm-7-7zm-7 5zm15 8zm2 5zm2-1zm1-2zm5 1zm0-2zm1-4zm1 1zm0 4zm2-1zm0 3zm9 2zm1-1zm2-2zm4 3zm2-3zm2-5zm2 6zm1-9zm5 4zm6 5zm1-2zm1-3zm1 0zm1-3zm-13 13zm-8-2zm-9 0zm-3 2zm-3 1zm-1-3zm-11 0zm0 1z" stroke="#c0aad2" stroke-width="4.0" stroke-linecap="round" fill="none"/>
<path transform="scale(.5)" d="M2616 213zm0 2zm-30-3zm-9 12zm4 2zm6-10zm6 0zm3 3zm1 4zm11 2zm2 0zm7 1zm12 0zm559 13zm-8-4zm-3-4zm-5 0zm-12-3zm-2 9zm-8 1zm-12 0zm-6-4zm-495-2zm-6 5zm-2-6zm0 7zm-6-6zm-2-3zm-1 5zm-10-5zm-13 4zm-5 4zm-5-8zm-1 3zm-2-3zm-2 5zm3 9zm28 8zm10-7zm17 3zm6-6zm0 4zm2 5zm1-8zm0 6zm6-1zm5-7zm0 9zm466-1zm6-6zm2 4zm3-5zm5 5zm11 5zm9-1zm3 1zm2-10zm10 5zm17 2zm3 6zm-1 6zm-4-8zm-1 9zm0 2zm-11-5zm0 4zm-18-2zm-30-4zm-1 5zm-7-6zm-2 7zm-463-1zm-13 1zm-2 0zm-5-8zm-8-2zm-1 6zm-2-4zm-8-1zm-3-1zm-2 10zm-10-8zm-5 6zm-18 3zm-4-7zm16 9zm0-1zm2 11zm1-9zm16 0zm4 4zm10 0zm16 0zm2 2zm6-2zm471 3zm10-5zm27 2zm1 3zm7 0zm0-5zm3 7zm2-7zm7 4zm3 3zm0-11zm20 12zm-1 3zm-2 4zm-18 2zm-4 0zm-2-7zm-9 5zm0-3zm-3 1zm-8 2zm-4-2zm-3-1zm0 3zm-5 4zm-15-8zm-489 6zm-7 2zm-7-10zm-1 3zm-9 7zm0-2zm-15-9zm9 20zm3-3zm16-4zm5 10zm0-11zm489 4zm0 4zm3-1zm3 2zm7-7zm1 5zm0 3zm2-2zm4 1zm0 1zm6-8zm2 9zm1-1zm6-6zm3 4zm34 1zm3 1zm1 1zm1-8zm3 6zm-5 14zm-15-10zm-28 0zm-5 0zm-4-1zm-11 7zm-9-6zm0-1zm-483 6zm-7-6zm-6 10zm-1 1zm-3-6zm-5 1zm500 8zm7-2zm-432 109zm-13 4zm-5 5zm-6 0zm-14 11zm33-7zm7 9zm29 7zm-8 4zm-17-8zm-1 9zm0-10zm-10 1zm-14 2zm-28 2zm-1 5zm-9 9zm8-8zm20 3zm7 1zm10 3zm15-6zm5 9zm4-3zm0-2zm2 6zm3-3zm-24 14zm-16 1zm-8-11zm-15 11zm-8-11zm-3 3zm0 16zm5-7zm10 3zm32-2zm16 3zm170-2zm17 6zm-3 7zm-2 4zm-41 4zm-142-8zm-25 0zm-33-1zm-11 5zm-61 16zm64-9zm10 2zm27 1zm159-4zm19 0zm20 8zm8 2zm22-1zm4 10zm-21-8zm-25 11zm-16-9zm-4-2zm-7 10zm-26-8zm-223 1zm-8-2zm-9 5zm-56 16zm6-5zm7-3zm25 0zm13 7zm1 0zm25-7zm10 9zm226-7zm4 1zm62 3zm8-1zm1-4zm17 5zm5 13zm-15-7zm-26 4zm-16-6zm-7 10zm-13-9zm-3 10zm-1-11zm-42 10zm-15-9zm-160 0zm-18 9zm-27-2zm-29 0zm-2-5zm-17 5zm-8-6zm-22 10zm8 3zm12-3zm2 4zm12 1zm16 0zm14 4zm10-8zm6 9zm2 0zm2-5zm18 5zm1-10zm7 11zm4-4zm216-7zm18 2zm11 8zm47-8zm13 5zm23 3zm2 6zm-28-1zm-10 4zm-2 3zm-25-7zm-32 5zm-11 1zm-39-1zm-199 2zm-24-1zm-6-5zm-3 7zm-45-7zm-18-2zm-1 0zm19 13zm19 7zm31 1zm18-11zm4 7zm1-1zm196-3zm6 6zm1 0zm1-5zm35 2zm23 2zm26 0zm3-1zm5 3zm9-10zm66 17zm-1-3zm-14 6zm-10-4zm-44 6zm-15-3zm-10 1zm-10-5zm-27 3zm-25 0zm-2 2zm-14 0zm-2-6zm-4-1zm-237 2zm236 10zm11 5zm8-4zm6 6zm53-6zm61 8zm36-2zm-78 8zm-42-3zm-11 7zm-6 0zm-11 2zm-14-1zm-26-7zm14 14zm10 0zm21-1zm22 2zm21-1zm55 7zm0-7zm42-2zm15 5zm7-3zm1 9zm-10 6zm-1-1zm-37 0zm-61-1zm-30-2zm0-2zm-5 1zm-16 17zm2 3zm1-3zm15-1zm9 2zm3-5zm20 5zm2 2zm1-10zm2 3zm15 6zm0-2zm1 4zm11-9zm30-2zm4 8zm8 0zm22-8zm18 23zm-59-1zm-4-4zm-22 4zm-9-1zm-12-9zm-12 7zm-19 3zm-29-5zm10 14zm2-2zm12-3zm8 7zm14-6zm35-3zm2 0zm5 2zm70-2zm14 11zm-33 3zm-22 4zm-22 0zm-1 1zm-12 4zm-4-1zm-21 11zm13-9zm47 4zm0-1zm1 8zm8-1zm14-5zm8-1zm-51 13z" stroke="#a2c8e0" stroke-width="4.0" stroke-linecap="round" fill="none"/>
<path transform="scale(.5)" d="M2604 214zm-9-1zm-3-2zm-2 1zm-9 2zm-3 7zm1 6zm7-9zm15 5zm14 1zm14-1zm530 3zm20 7zm-1 1zm-11-6zm-11 6zm-21 1zm0-5zm-16 9zm-467 0zm-23-8zm-9 2zm-1-1zm-6 7zm-7-3zm-7 0zm-8-2zm-3 12zm4-3zm10-1zm15 0zm6-1zm20 6zm11-3zm9 1zm1 4zm458 0zm1-7zm21-1zm18 0zm4 3zm10 2zm9-4zm1 6zm6 1zm1-4zm0 7zm-8 7zm-6 1zm-11-3zm-4-3zm-14 4zm-11-1zm-7 4zm-492-5zm-13-4zm-20 11zm-5-4zm-7-7zm-2 7zm-5 4zm-2-4zm-9-3zm19 14zm1 3zm2-9zm8 5zm7 0zm14 1zm1-4zm1 2zm2 0zm1-1zm9-1zm1 3zm4 6zm468-1zm9-8zm4 0zm3 9zm8 0zm2-9zm2 3zm7 2zm9-2zm11-4zm17 5zm11 17zm-4-11zm-14 8zm-17-6zm-10 2zm-13 7zm-18-4zm0 1zm-477-8zm-42 8zm-2-2zm0 4zm-4-8zm-5 0zm18 16zm3 1zm13-2zm3 1zm7 5zm2-4zm9 0zm1-5zm467 3zm13 5zm2 0zm19-7zm0 7zm5-7zm3-3zm23 6zm2 3zm3-3zm10 5zm3-10zm-1 14zm0-2zm-52 7zm-4 0zm-4-7zm-1 1zm-7 6zm-8-2zm-2 1zm-2-5zm-5 8zm-465-10zm-14 11zm-3-2zm-12-5zm491 19zm10-11zm5 5zm3 1zm2-2zm-22 12zm-2 2zm-415 99zm-7-3zm-3 0zm-9 11zm9 6zm18-5zm4 3zm13-6zm3 4zm1 6zm-22 0zm-17-1zm-4 4zm-3-4zm-4 3zm-10 0zm6 17zm39 3zm0-8zm13 14zm-18-3zm-7 8zm-22-9zm-9 4zm-18-5zm-10 11zm43 2zm2 7zm30-4zm154-1zm14 2zm-1 11zm-28 7zm-158 0zm-21-9zm-28 7zm-86 9zm99-6zm153 9zm2 1zm4-2zm33-2zm15 2zm-10 15zm-8-9zm-18-1zm-25-1zm-152 3zm-131 20zm25-7zm12 4zm9-4zm5 1zm12 4zm14-9zm11 6zm194-4zm0 3zm6-5zm65 2zm8 7zm1-1zm22 9zm-73 0zm-1-3zm-1-1zm-17 4zm-6-2zm-18 2zm-163 2zm-51 3zm-8 0zm-3 1zm-55-9zm25 19zm8-9zm16 10zm47-8zm6 2zm173-3zm7 7zm8-1zm7-2zm17 5zm6-1zm4 1zm1-1zm13 1zm9-8zm1 0zm6 1zm8 7zm19 1zm50-1zm-53 11zm-1-9zm-10 11zm-15-3zm-22-3zm-18-2zm-231 3zm-17 2zm-17-8zm-28 2zm-19-1zm26 13zm6 5zm257 1zm5-7zm19-1zm14 4zm23-4zm18 10zm3 0zm18-8zm37 0zm11 6zm-66 14zm-18-1zm-19-7zm-40 4zm-4-3zm-3-3zm3 23zm10-2zm4-8zm69 4zm4-1zm89-2zm3 20zm-9 1zm-29-1zm-52 1zm-18-6zm-2 6zm-17 0zm-15-4zm-10-2zm-2 2zm-21 5zm4 2zm49-2zm24 1zm23 3zm50 0zm22-3zm2 20zm-21-8zm-14 5zm-10 0zm-8-2zm-44 3zm-5 2zm-7 1zm-18-3zm-39 8zm22 5zm11 0zm10-5zm10 0zm12 5zm15-6zm2 7zm101-4zm-1 18zm-117-3zm-36 2zm-18-8zm8 15zm21-3zm14 6zm28 2zm13-1zm1-1zm0-4zm18 2zm5-4zm29 3zm-69 9zm-1 5zm-31-3zm-24-4zm32 19zm3-6zm100-1zm-21 14zm-59 3zm-4 3z" stroke="#f09490" stroke-width="4.0" stroke-linecap="round" fill="none"/>
<path transform="scale(.5)" d="M2617 214zm-30 1zm-4-4zm3 8zm12-1zm4 4zm1-5zm5 10zm5-2zm7 2zm2-10zm6 8zm6 1zm521-1zm8 0zm13 14zm-3-3zm-1-3zm-1 0zm-6-3zm-8 0zm-24 9zm-3-1zm-498-3zm-7-2zm0 4zm-5 0zm-4 1zm-28-2zm0-1zm-6 3zm-1-1zm8 12zm6-8zm1 7zm1-6zm3 3zm4-1zm15 5zm14-3zm21 1zm6-7zm459 10zm0-2zm1-7zm6 8zm3 1zm2-3zm18-7zm3 1zm4 0zm15 9zm2-6zm3 0zm3 4zm13 8zm-2 1zm-7 6zm-3-6zm-4-1zm-5 0zm-8 6zm-2-9zm-6 10zm-7-2zm-8 0zm-4-5zm-2 0zm-8 2zm-7 3zm-461-6zm-2 5zm-3 0zm-15 2zm-27-5zm0-4zm-1-1zm-2 11zm-12-1zm-1-10zm-2 2zm-1 6zm-8 1zm0 4zm7 2zm16 6zm3-9zm0 8zm6-8zm1 7zm0-1zm7-2zm13 4zm2-8zm4 10zm10-8zm463-2zm1 8zm4 1zm17-7zm7-1zm7 9zm2-4zm5-5zm2 5zm16-6zm7 0zm4 7zm1 0zm3 4zm8 11zm-6-3zm-7-3zm-2 5zm-13-2zm-4 4zm-2-4zm-8 3zm0-1zm-5-2zm-2 2zm-20-4zm-5-3zm-9 7zm-6-4zm-457-4zm-7 5zm-11 5zm-4-10zm-24 9zm-13-9zm20 17zm6-6zm6 11zm4-8zm13 1zm1 1zm472-2zm8-1zm4-1zm0 3zm5 6zm3-4zm1-2zm7 4zm2-8zm7 11zm8-10zm15-1zm21 10zm-2 9zm-49-4zm-15 6zm-1-1zm-4-4zm-4-2zm-3 0zm-4 5zm-471-5zm-5 9zm-5-9zm-5 0zm-5 4zm-4 1zm-6-6zm15 12zm10 0zm474 6zm13-4zm4 2zm73-4zm-86 12zm-10 5zm-412 94zm-35 13zm2 5zm12-4zm1-4zm17 9zm1-11zm22 3zm1 5zm6-2zm1 11zm-8-2zm-3 5zm-20-4zm-12-2zm-13 5zm-30 8zm1 8zm12-7zm14 1zm4 3zm2 1zm7-4zm1 3zm2-4zm20 4zm18-6zm-23 14zm-11-1zm-7-1zm-12 6zm0-1zm-8-2zm-2 2zm-10-3zm-2 6zm-6 13zm27-8zm9 4zm29 3zm11-9zm141 4zm39 0zm-6 16zm-19-4zm-23-2zm-7-1zm-158 0zm-5-2zm-18 11zm-2-4zm-2-1zm-18-5zm-77 17zm9-5zm62-1zm2 4zm56-3zm117 7zm6 0zm34-5zm23-3zm32 22zm-3-1zm-1-7zm-22 1zm-3 5zm-34-5zm-3-2zm-8 9zm-11-10zm-6 1zm-144-1zm-90 2zm-20 9zm-16-9zm-18 12zm17 5zm18 4zm38 0zm182-3zm11-4zm32 7zm11-3zm14-7zm41 12zm-3 1zm-22 0zm-3 2zm-2 1zm-53-5zm-5 8zm-11-5zm-13-2zm-179 8zm-54 2zm-14-8zm-18 5zm-3-2zm-10-1zm-6 15zm1 1zm2-4zm32 2zm4 1zm50-3zm8 2zm0-2zm17-1zm215 6zm2-3zm35-1zm43 2zm19 1zm-14 6zm-8 5zm-21 3zm-95-7zm-199 5zm-4 0zm-8 2zm-2-8zm-8-1zm-6 9zm-19-8zm5 13zm19-2zm20 4zm1-1zm215-5zm1 1zm8 6zm10 4zm12-8zm32 4zm30 2zm53 1zm1-1zm5 2zm7-3zm1 2zm8 12zm-51-8zm-14 7zm-26 1zm-13 0zm-31 0zm-21-5zm-21 6zm-3-9zm-211-2zm211 20zm16 1zm16-5zm55-3zm17 6zm74-7zm14 19zm-10-1zm-1 0zm-49 1zm-9 4zm-19-3zm-60-2zm-36-2zm-7 19zm0-5zm35 5zm34-11zm33 2zm13 6zm8-5zm18 7zm48-7zm-13 15zm-3-1zm-16 5zm-16-1zm0-4zm-31 2zm-35-1zm-9-6zm-7 4zm-9 3zm4 8zm27 2zm24-5zm19 7zm8 0zm35 0zm5-7zm42 4zm-18 10zm-24-1zm-7 3zm-18-2zm-17 4zm-24 1zm-1-4zm-42 4zm-15 8zm10 7zm2-1zm9-3zm35 4zm29-2zm15 0zm0-5zm7 8zm27-9zm18 3zm-2 13zm-119-3zm-10 13zm14 5zm9-2zm18-5zm24 1zm3 9zm-45 5zm-3-4z" stroke="#c0aad2" stroke-width="4.0" stroke-linecap="round" fill="none"/>
<path transform="scale(.5)" d="M2934 610zm4 0zm2-4zm27 4zm5 12zm-3-8zm-19 2zm-9-3zm-1 5zm-18 12zm8 3zm2 0zm11-8zm2 2zm14 2zm30 5zm4 8zm-3 4zm-1-5zm-8 2zm-7-7zm-3 2zm-10-2zm-1 7zm-19-1zm-1-6zm-11 3zm-4-3zm-7 8zm14 13zm9-6zm3 2zm9-2zm1-1zm4 7zm6 1zm2-8zm7 7zm15 10zm-1 4zm-2-8zm-5-3zm-10 7zm-2 1zm-4-2zm-7-3zm-3 3zm-22-6zm-6 11zm-10-10zm10 14zm16 6zm0-6zm3-2zm2 10zm16-4zm1-1zm1-1zm1-4zm7 5zm1-3zm4 8zm1-2zm-4 4zm-2 6zm-20-5zm-7-2zm-2 10zm13 5z" stroke="#a2c8e0" stroke-width="4.0" stroke-linecap="round" fill="none"/>
<path transform="scale(.5)" d="M2939 605zm4-1zm3 5zm17 1zm-26 12zm-15 7zm7 2zm8 1zm8 3zm37-10zm3 17zm-24 3zm-5-9zm-17 9zm-22 10zm3 4zm3-11zm23 2zm22 9zm2-7zm1 1zm1 6zm3-10zm5 3zm8 6zm-5 7zm-4-3zm0 6zm-16-6zm-1 7zm-5-6zm-4-2zm-30 0zm-7 0zm6 12zm5 3zm2-1zm2 0zm12 5zm1-8zm18 2zm4 0zm17 1zm0 1zm-2 10zm-16 3zm-9 6zm-5-8zm-14-1zm10 21z" stroke="#f09490" stroke-width="4.0" stroke-linecap="round" fill="none"/>
<path transform="scale(.5)" d="M2822 535zm8 4zm3-7zm1 1zm4 2zm4 1zm8 2zm0-3zm3-1zm1 4zm1 1zm4 0zm5-2zm1-5zm2 2zm0-1zm1 0zm2 0zm0-3zm0 6zm7-6zm1 8zm0-3zm1-1zm2 4zm0-8zm2 7zm9 10zm-2-6zm-1 7zm0-7zm0 9zm-2-3zm-2-4zm0 3zm-3-3zm-3 7zm0-5zm-3 0zm-3 0zm-1-5zm-1 8zm0-5zm-1-3zm-1 10zm-1-8zm0 4zm-2-6zm0 8zm-2 0zm-3 2zm-1-2zm-2-6zm-3 6zm-1 3zm-1-2zm-2-9zm-1 0zm-1 6zm-1-6zm-9 0zm-2 4zm-3 2zm0-5zm-2 9zm-1-6zm0 2zm0-6zm-2 5zm-2-4zm-2-1zm-1 9zm-1-1zm-1 1zm-14 13zm1 1zm4-6zm0 4zm2 2zm1-5zm1 2zm2-3zm1 0zm2 4zm4 1zm8 0zm1-10zm3 9zm1-7zm2 0zm0 8zm2 1zm8 0zm0-5zm1 3zm0-7zm1-2zm0 9zm1 1zm2-9zm1 9zm1-6zm1 6zm3-5zm1 3zm2 1zm1-1zm0-1zm1-4zm1-3zm2 10zm6-3zm2-5zm1 1zm1 6zm3 1zm2-2zm1-2zm2 1zm0-5zm0 2zm0 2zm4 0zm1 0zm0 2zm0 3zm2 11zm-1-4zm0 1zm-2 4zm-5-11zm-4 0zm-2 11zm-8-3zm-1 3zm-1-8zm-1 3zm-2-3zm0-1zm-2 3zm-1 2zm-4-2zm-3 1zm0-1zm-4-1zm-3 0zm-1 5zm-2-2zm-1-3zm-1 6zm-1-7zm0 1zm-1 1zm0 1zm-3 5zm-3-9zm0 2zm-1 0zm0 4zm-4 0zm-2-7zm-3 7zm-2 1zm-2-4zm-1-4zm-1 5zm-3 4zm-2-1zm-2-6zm0 4zm-1 2zm-2-9zm0 2zm-2 4zm3 9zm1 0zm2 0zm0-1zm1 7zm6-1zm1-2zm3-4zm0 9zm7-9zm0 9zm1-5zm3-2zm2 5zm2-4zm4 4zm1 1zm0-5zm1-3zm9 0zm2 5zm0 3zm2-9zm0 9zm2-8zm1 5zm1 0zm3-7zm1 3zm2-1zm4 6zm0 3zm8-4zm0 2zm0-7zm0-1zm1 2zm5-2zm3 5zm2-3zm1 2zm1-1zm2 2zm-10 8zm-4-2zm-8 6zm0-5zm-2-1zm0 4zm-6-4zm-6 7zm0-7zm-5 6zm-1 4zm-3-5zm-5-5zm0 9zm0-6zm-1-2zm-7 3zm0 4zm-3-6zm-1 8zm-2-4zm-4 3zm-1-3zm-1-6zm-1 2zm-3-2zm0 4zm-1-4zm27 18zm8-4zm2 2zm0-1zm1 3zm1-4zm0 4zm1-2zm11-4zm1 5zm1-2z" stroke="#c0aad2" stroke-width="4.0" stroke-linecap="round" fill="none"/>
<path transform="scale(.5)" d="M2820 537zm11-1zm2 2zm14 0zm9 0zm1-3zm8 2zm1-9zm1 11zm0-4zm16-4zm7 19zm-11 0zm-3-5zm-6 4zm-3-3zm-2 4zm-1-2zm-6-4zm-9 3zm-7 1zm-2-1zm-7-2zm-5 1zm-9 17zm2-8zm3 4zm2-7zm2 2zm1 4zm5-3zm8 0zm11 6zm6-7zm3 1zm6 1zm7 5zm12 0zm5 2zm3 2zm-1-1zm-9 11zm-2-7zm-5 2zm-2 0zm-3-6zm-1 11zm-12-4zm-1 1zm0-7zm-7 5zm-1 4zm-30-10zm-4 0zm-3 8zm-1-3zm-3-4zm5 19zm0-6zm1-1zm1 2zm9-2zm5-1zm2 11zm9-1zm1-1zm2-9zm8 0zm4 3zm3 0zm4 4zm0 2zm3-2zm13-7zm10 8zm4-7zm-9 14zm-11 3zm-6 0zm-4-5zm-1-1zm-2 11zm-22-1zm-3-1zm-2 0zm-6-7zm10 10zm31 1zm3-1z" stroke="#a2c8e0" stroke-width="4.0" stroke-linecap="round" fill="none"/>
<path transform="scale(.5)" d="M2703 423zm-18 3zm-28 15zm8 0zm1 2zm6-7zm15-3zm1 8zm12-4zm0 6zm1-3zm0 2zm8-9zm0 4zm4 2zm2 2zm2-9zm1 7zm7-1zm1 11zm-2-3zm-3 7zm-29-8zm-8-1zm-9 9zm-15-9zm-12 1zm-2 2zm-6 11zm1 2zm13 2zm9-2zm3 0zm7-3zm7 6zm0-7zm0 2zm12-1zm2 0zm2 4zm12 4zm5-1zm4-5zm3-3zm-16 17zm-6 1zm-7 4zm-5-4zm-14 4zm-1-7zm0 6zm-5-1zm-2-8zm-3 4zm-8-2zm-3-2zm-6 11zm-6 7zm9 5zm4-7zm9 4zm21-6zm8 6zm0-7zm2 1zm0 8zm12-10zm-6 16zm-2-3zm-10 6zm0-3zm-1 2zm-1 3zm-8-9zm-4 5zm-23 2zm-10 0zm13 10zm1-3zm2 7zm6-8zm4 0zm16 1zm-16 10z" stroke="#a2c8e0" stroke-width="4.0" stroke-linecap="round" fill="none"/>
<path transform="scale(.5)" d="M2711 431zm-2-2zm-13-3zm-40 14zm4-3zm3 5zm4-9zm0-1zm6 7zm14 0zm2-4zm5-1zm25 18zm-3 1zm-3-1zm-12-6zm-2 8zm-4-7zm-1-3zm-2 3zm-8 3zm-6 4zm0-5zm-32-3zm-8 18zm5-1zm13 1zm26-6zm0 2zm3 4zm5 0zm6-6zm14 9zm10-2zm4-3zm0-3zm-6 19zm-8-7zm-25 0zm-16-1zm-3-2zm-3 9zm-11 2zm-1-5zm0-6zm-4 8zm-7 1zm-2-2zm-4 16zm30-5zm0-5zm4 9zm13-5zm1-3zm6 4zm3 0zm19-3zm2 2zm-23 11zm-13-2zm-2 2zm-1-4zm-12 2zm-7 5zm-10 2zm-5-2zm-3 3zm-1-10zm-2 16zm2 7zm4-9zm10 4zm4-4zm4 5zm11-1zm2-6zm2 4zm4 2zm2-3zm-3 9zm-6 0zm-8 0zm-8 8zm-12-3zm-6-3z" stroke="#f09490" stroke-width="4.0" stroke-linecap="round" fill="none"/>
<path transform="scale(.5)" d="M2492 560zm2 1zm12 2zm8 0zm7 0zm6-2zm13 2zm57 7zm-4-2zm-3 3zm-5 2zm-6-6zm-3 6zm-2-2zm-1-5zm-1 3zm-1-1zm-19-4zm-4 5zm-5 6zm-11-10zm-1 0zm-5 7zm-2-2zm-3 3zm-1-9zm-2 8zm0-7zm-21 1zm20 10zm2 4zm6-1zm3 6zm0-4zm5 5zm3-6zm4 5zm3-7zm6 4zm3 3zm0-4zm8-2zm8 7zm10-10zm3 2zm7-2zm1 4zm2 3zm2-7zm2 3zm4-1zm-14 10zm-5 2zm-13 3zm-9 0zm-2-4zm-2-1zm-6 1zm0-1z" stroke="#a2c8e0" stroke-width="4.0" stroke-linecap="round" fill="none"/>
<path transform="scale(.5)" d="M2496 563zm1-5zm5 5zm3-3zm8 2zm24 1zm4 0zm56 5zm-5 4zm-4 1zm-13 2zm-2-4zm-4 4zm-2-2zm-3-4zm-1 2zm-4-7zm-4 6zm0 4zm-2-2zm-1 3zm-2-5zm-4-3zm-13-1zm-3-2zm-4 7zm-1 3zm-1-7zm-2-1zm-1 9zm-2-9zm-16 4zm-4-3zm18 9zm5 3zm6 2zm4-5zm0 9zm3-1zm3-4zm2 3zm12-6zm1 7zm6 0zm3 2zm0-7zm3 5zm1 2zm7-8zm2 3zm1 6zm3-11zm13 7zm-27 8zm-6-1z" stroke="#f09490" stroke-width="4.0" stroke-linecap="round" fill="none"/>
<path transform="scale(.5)" d="M2492 560zm1 2zm2 1zm20 0zm81 6zm-4 2zm-4 4zm-3-3zm-7-4zm-6 3zm0 2zm-5-3zm-10 1zm-1-6zm-4 10zm-4-4zm-1-4zm-1 6zm-12-6zm-7 3zm-3 0zm-4 3zm-13 2zm-2-3zm0-8zm-4 4zm-8-4zm34 16zm4 7zm6-5zm5-6zm4 0zm7 1zm4 2zm3 8zm3-7zm5-2zm8 1zm5-2zm4 0zm1 0zm1 7zm1 2zm2-8zm-8 12zm0-2zm-5 0zm-3 6zm-3-2zm-2 2zm-7-4zm0-1zm-6 2zm-3-3zm-3 1z" stroke="#c0aad2" stroke-width="4.0" stroke-linecap="round" fill="none"/>
<path transform="scale(.5)" d="M2598 203zm28 8zm-6 3zm-1-2zm-1-3zm-5 0zm-1 3zm-3 1zm-1-7zm-1 4zm-2-2zm-2-3zm-4 4zm-2 1zm-2-5zm-1 4zm-6 2zm0-5zm-2 2zm-1 4zm-1-2zm0 2zm0-8zm-2 8zm-1 0zm-1-1zm-7 10zm3-3zm1-2zm0 5zm1-2zm1 6zm0-6zm3-1zm46 1zm3-3zm1 6zm1 4zm0-10zm0 4zm1-1zm5 7zm4-2zm495 3zm2-3zm1 0zm0 3zm1 0zm1-2zm2 2zm1-6zm3 2zm4 3zm0-6zm4 2zm2 4zm2-2zm0 3zm1-2zm27 12zm-1-2zm0 2zm-5-5zm0 2zm-1 0zm0 2zm0 2zm-3-6zm-3 0zm-1-4zm-3 2zm-1-1zm0 1zm-5 0zm-37 4zm-1 1zm0 1zm-2-5zm-4 6zm-5 1zm-1-1zm-1 0zm-460-1zm-1-1zm-2 3zm-4-3zm-1-2zm-1 1zm-1 3zm-2-4zm-3-2zm-1 2zm-57 5zm-3-2zm-1-4zm0 3zm-7-2zm3 18zm1-8zm1 2zm0 4zm1-9zm1 2zm0 4zm0 4zm5-10zm78 11zm1-5zm1-5zm1 7zm2 1zm1-1zm1-5zm441 3zm1-3zm2 2zm1-5zm2 9zm1-4zm1-5zm0 4zm0 1zm71-2zm1-2zm2-1zm1 8zm0-8zm0 6zm2 4zm1-2zm8 15zm0-1zm-1-2zm0 2zm-1-3zm-1-6zm-1 10zm-4-6zm-1-2zm-10 8zm-66-9zm0 4zm-1 2zm-1-7zm0 5zm-2-5zm-1-1zm-5 7zm-424 4zm-5-3zm-2 3zm-1-2zm-1 0zm-3-5zm-1-1zm-3 1zm-1-1zm0 3zm-1 1zm-4 2zm0-7zm-1 3zm-1-1zm-1 1zm-77 4zm0-6zm-2 8zm-1-6zm0-5zm-1 3zm0-2zm-4 4zm5 8zm1 2zm2-1zm1 1zm1 3zm1 1zm1 1zm2-5zm1 7zm2-3zm3 2zm54 1zm6 0zm1-5zm1-5zm0 9zm0 2zm0-4zm1-7zm1 11zm2-3zm0 3zm3-7zm1-4zm3 0zm2 4zm0-4zm2 0zm2 0zm4 1zm1 3zm1 2zm0-5zm2 0zm0 1zm4 0zm2 4zm0-4zm2 2zm413 5zm2-1zm1 2zm4-4zm1 1zm0-5zm4 0zm3 0zm3-2zm65 3zm0 2zm0-1zm1 7zm1-11zm2 7zm4-7zm4 7zm0-7zm1 3zm0 3zm2-3zm0 5zm2-4zm1 0zm1 5zm2 14zm-1-3zm0-8zm-1 1zm0 5zm-1-5zm-1 7zm0 2zm0-1zm-1-1zm-1-7zm-2 1zm0 2zm-1-4zm-3 2zm-1 8zm-1-7zm-1 7zm-1 1zm-2-5zm-4-6zm-70 9zm0 2zm-3-4zm0-4zm-1-1zm-8 3zm-446 5zm0-6zm-1-3zm-1 7zm0 3zm-4-5zm-2 5zm-46-1zm-5 0zm-1-4zm-1 2zm0-8zm-1 6zm-2 2zm-2-8zm-1 1zm11 14zm3 4zm4-1zm2 0zm3 4zm3 0zm30-5zm1 6zm1-1zm3-6zm0 3zm1-7zm2 6zm0-6zm0 2zm5 2zm3 3zm445-4zm5 0zm0 2zm0 6zm2-9zm47 8zm1 0zm4 0zm2 0zm5-1zm3 0zm9-9zm2 2zm1 3zm1 0zm0 4zm1-5zm0 2zm2-5zm1 8zm0-7zm3 9zm3-10zm1 8zm0-8zm0 4zm2 2zm0 2zm1-9zm0 4zm0 2zm1 2zm1-7zm0 6zm0-7zm1 9zm1-4zm0 3zm1-3zm0 6zm-1 4zm-1 7zm-2-6zm-1 3zm-3 1zm-2-4zm-3 7zm-2 0zm-2-3zm-1 0zm-6-3zm-2 1zm0-4zm-3 2zm0-4zm-2 2zm-2-2zm-3 1zm-3 0zm-5-1zm-3 3zm-2-2zm-3 4zm0 1zm-2-3zm-1 0zm-1 4zm-1 0zm-4-2zm0 6zm-1-3zm-1 1zm-32 2zm-3-10zm-2 2zm-258-2zm-2 10zm-1-1zm-1-5zm-1 5zm-22-5zm-174 0zm0 2zm-3-3zm0 2zm0 2zm-2 3zm-1-3zm-15 3zm-6-2zm0-4zm0 3zm-1-2zm-1 3zm0-3zm-1-6zm-2 5zm-3 0zm0-1zm-2-3zm13 11zm4 1zm3-1zm1 4zm2-1zm0 3zm6-4zm1-1zm3 0zm181 10zm6 0zm1-2zm3-1zm1-3zm1 6zm0-7zm1 2zm0 2zm0-6zm0 2zm0 3zm1 0zm1 2zm0-7zm0 2zm0 3zm1 0zm1-6zm0 6zm0 1zm0 2zm1-9zm1 8zm1-4zm1 0zm0 2zm0 3zm0-1zm1-7zm1 0zm0 9zm2-7zm0 3zm0 2zm0 2zm0-10zm1 5zm1-2zm1 4zm1 0zm1 3zm1-3zm1 1zm0 2zm0-4zm0 1zm1 3zm1-11zm5 9zm30 2zm212-2zm0-2zm2 3zm0-8zm0 9zm1-8zm0 2zm3-5zm0 1zm10 10zm2 0zm2-2zm5-5zm0 6zm4-2zm2-1zm1-7zm2 1zm55 3zm3 4zm1 2zm2-6zm2 4zm2-8zm1 4zm-83 8zm-3 0zm-2 7zm-3-4zm-2 4zm-4-3zm-2 5zm-1-6zm-1-2zm0 5zm-5-2zm-223 1zm-11 2zm-3 4zm-4-10zm0 2zm-1 7zm-1-2zm0-7zm0 5zm-1-5zm-1 6zm0 3zm0-10zm0 2zm0 9zm-1-7zm0 3zm-1 1zm0-1zm-2-1zm-1 0zm-1-2zm0-2zm-1 6zm0 1zm-1-1zm0-8zm-1 4zm0 4zm0 1zm0-8zm-1 5zm-1-2zm-2-3zm0 3zm0 3zm-1-1zm0-3zm-1 1zm0 3zm-1 3zm0-9zm0 3zm-1 1zm-1-2zm0 4zm-1 3zm-1-4zm-1 3zm-1-3zm0-4zm-1 4zm-1-4zm0 2zm-1 1zm-1 6zm-1-1zm0-9zm-8 15zm15 0zm1-1zm0 5zm0-8zm0 1zm2 5zm0 3zm0-1zm0-6zm1 6zm0-8zm0 11zm0-10zm0 3zm1-2zm0 4zm1 0zm0 4zm0-8zm1 2zm1 4zm0 3zm0-10zm1 4zm1-4zm1 0zm0-1zm0 2zm1 9zm0-8zm0 2zm0-1zm1-4zm1 11zm0-10zm0 2zm0 2zm0 1zm0-6zm1 11zm0-1zm1-5zm0-1zm1-3zm1 5zm1-2zm0-3zm1 2zm1-3zm0 1zm0 3zm7-2zm0 3zm0 1zm1-3zm0 2zm1 1zm1 0zm0 3zm1-5zm0 4zm1 0zm1-3zm0-1zm0 2zm1 5zm1-3zm1 3zm1-3zm3-1zm1 4zm0-4zm0 1zm2 2zm0-4zm1 5zm0-10zm1 6zm4 4zm1-2zm2-3zm0 5zm2 0zm2-2zm0 2zm1-2zm1 1zm28-1zm1-2zm4 2zm2-6zm0 2zm0 6zm4-2zm2-4zm2 2zm7 3zm0-8zm1 7zm6 2zm1-1zm1 0zm3-2zm1 1zm20-7zm127-1zm8-1zm-149 21zm-1-1zm-1-5zm-1-2zm0 5zm0 1zm-1-4zm-3-1zm-2 6zm0-6zm-1 5zm0-3zm-1 2zm-1 1zm0-7zm-1 10zm-1-5zm-2 6zm-1-10zm-1 10zm-2-8zm0 4zm-2-6zm-1 8zm0 2zm-1-5zm-2-1zm-1 1zm0 4zm0-6zm-1-1zm-2 8zm-2-4zm-1-7zm0 7zm0 2zm-1 0zm-2-9zm0 5zm0 4zm-2-9zm0 3zm-1 0zm-2-1zm0 3zm-1-5zm-1 6zm0-2zm-1 2zm0 1zm0-7zm-2 0zm0 2zm-2 3zm0-5zm0 2zm-1 1zm0 3zm-1-4zm0 2zm-1 3zm0-2zm-1 3zm0 2zm0-5zm0 2zm-1-1zm-1-4zm0-1zm0 4zm-1-1zm0 2zm-1-1zm0 2zm0-5zm-1 7zm0 1zm0-9zm0 4zm-1-2zm0 2zm0-4zm-1 3zm0 3zm0 3zm-1-8zm-3 2zm-1-1zm0 3zm-1-4zm-1 3zm-2-4zm0 2zm-1-3zm0 1zm-1-1zm-1 10zm0-6zm-1 4zm0-4zm-2 0zm0 1zm0 2zm-1-3zm-1-3zm-1 0zm-1 1zm-2 0zm-1 1zm0-3zm0 2zm-1-2zm0 3zm-1 0zm-1-2zm0 1zm-1-1zm-4 9zm-1-10zm-1 1zm-2 2zm-7-2zm-21-1zm-1 0zm0 1zm-2 5zm-1-2zm-1-2zm0-1zm0 2zm-2 8zm-1-7zm0 4zm-1-1zm-3 2zm-5 9zm1 5zm1-1zm0-3zm0-1zm1-5zm0 6zm1 2zm0-5zm0-1zm0 2zm1-5zm0 3zm0 6zm2-6zm0 3zm1-5zm44 0zm15 6zm3 0zm15-1zm3 1zm3-2zm1-4zm2 1zm1 1zm1 0zm1 5zm1-2zm0 2zm1 3zm2-11zm1 2zm0-1zm2 5zm1-4zm0 6zm8 2zm0-1zm1-1zm0 3zm1-8zm0 4zm1 0zm1-1zm1 5zm1-1zm0-4zm2 4zm0-1zm1-8zm1 10zm1-7zm1-3zm1 8zm1-8zm1 10zm0-11zm0 2zm1 7zm1-6zm1 7zm2-1zm1-9zm3 2zm3 3zm0 5zm1-4zm6-1zm2-1zm-12 11zm-3 0zm-1 2zm-1-4zm-1 1zm-1 2zm-4 2zm-1-1zm-3-3zm-1 3zm-2-1zm-1-1zm-1 1zm-1 4zm0-1zm-1-5zm-1 6zm0-4zm-1 0zm-1-4zm0 8zm0 3zm-4 0zm0-10zm-2 1zm0 6zm-2 1zm-1-1zm-1 1zm0-4zm-2-3zm-2 1zm0 3zm-2 0zm-6-4zm0-1zm-87 2zm-1 6zm0 2zm0-3zm-1-5zm-1 8zm0-10zm-1 3zm0 2zm0 3zm0-1zm0 3zm-1-3zm-4-5zm-1 2zm-9-4zm-5 9zm0 1zm0 3zm1-2zm1 0zm3 2zm2-1zm12 5zm2 4zm1-8zm0-1zm1 5zm1 1zm0 4zm0-5zm1 4zm1 0zm0-9zm0 4zm4-2zm80 5zm2-3zm4-4zm1 0zm4 10zm1-1zm1-3zm1-7zm1 5zm3-4zm6 7zm1 3zm0-9zm4 2zm1 3zm0-6zm0 1zm1-2zm1 9zm1-8zm2 3zm1-3zm0 4zm2-1zm1 3zm0-5zm3 5zm2-1zm0-3zm0-1zm2 1zm0-1zm1-1zm11 2zm8 20zm-13-2zm-1 1zm-1-3zm-1 1zm-1 1zm0-4zm-2 1zm0-6zm-1 9zm-1-8zm-1 6zm0-7zm-10 1zm-2 2zm-2-1zm-6 7zm-1 2zm-8-3zm0 3zm0-6zm-2-3zm0 1zm-1 6zm-6-3zm-5 3zm-2 2zm-76-3zm-3-5zm0 3zm-1-6zm0 2zm-1 7zm-2-2zm0-7zm-1 8zm-1-2zm-6-5zm-162 22zm13-5zm3 2zm10 1zm10 2zm3-1zm5-2zm204 1zm3-6zm1 7zm2-5zm2-4zm1 4zm2-5zm1 10zm4-9zm2 0zm2 10zm1-3zm0 3zm0-8zm1 6zm4-1zm0-1zm2 0zm5 4zm4-10zm1 5zm1-2zm2 4zm0-1zm17-7zm2 0zm1 0zm0 3zm4 2zm1 0zm1 3zm1-2zm1 2zm3-1zm6 3zm2-3zm31 16zm-18-5zm-4 3zm-3-4zm-1-1zm0 2zm-1-1zm-1 2zm0-7zm-1 6zm-5-4zm-37 5zm-3 0zm-2 2zm-10-1zm-1-6zm-2 4zm-3 0zm-1 5zm0-9zm0 3zm0-5zm-2 11zm0-7zm-2-3zm-6 9zm-2 1zm-2-5zm-171-6zm-25 9zm0 1zm-1-6zm0-1zm-5 3zm-1 2zm-1 0zm-1-2zm-3-4zm0 2zm0 3zm-1-5zm-1 7zm0-1zm-1-6zm-1 4zm-1-1zm-2 6zm-3-4zm-1 3zm-2-10zm-1 3zm-2 1zm-2 7zm0-7zm-1 7zm0-6zm-5 6zm0-5zm0 3zm-1-6zm0 7zm0 1zm-5-2zm0-5zm-1-3zm-1-1zm0 5zm-2 0zm-1 2zm0-6zm0 1zm-1 9zm-2-1zm-2-2zm-1-5zm0 8zm-1-10zm-2 3zm-5 2zm-20 13zm4-5zm10 6zm1-1zm0-6zm1 9zm1-3zm2 3zm2-3zm1 0zm3-5zm0 3zm2-2zm0 5zm3 3zm1-2zm0-5zm1 1zm1-2zm2 2zm2-5zm0 4zm0 3zm2 1zm4 1zm1-8zm0 4zm1 2zm5-2zm2-4zm3 9zm0-1zm7-5zm1 0zm2 2zm0 2zm0-7zm2 10zm1-5zm1 5zm2-7zm1 4zm1-6zm2 5zm1-2zm0 2zm2-3zm2 0zm0 5zm0-9zm1 5zm1 5zm1-7zm1-3zm2 10zm0-6zm0 2zm2-6zm1 10zm0-4zm1 4zm8-1zm1-3zm5-5zm174 9zm2 0zm0 1zm2-6zm1 2zm0 4zm0-6zm3 3zm2-2zm1 3zm6-6zm4 2zm2 6zm1-11zm0 2zm1 8zm0-5zm3-1zm4 2zm1 0zm64-6zm2 0zm2 4zm2 0zm2-4zm4 7zm1 1zm0-1zm1 1zm1-3zm0 2zm1-4zm1 0zm0 4zm0 2zm0 1zm1-4zm0 4zm1-7zm1 4zm1-1zm0 2zm1-1zm0-5zm0 1zm2 4zm0-1zm1 2zm0-5zm1 2zm0 3zm2-4zm1 0zm1 1zm0 2zm-98 5zm-2 9zm-1 0zm-2-3zm-1 3zm0 1zm-1-3zm0-2zm-2 1zm-2-5zm0 9zm-1-3zm0 1zm-4-5zm0 4zm-2 0zm0-5zm-5 4zm0-4zm-1 4zm-1 2zm0-4zm-1-2zm0-1zm-2 9zm-1-8zm0 4zm0 4zm-1-10zm-1 0zm0 7zm-1-2zm-1 6zm-1-7zm0 3zm-2-4zm-3 6zm0 2zm-1-4zm0 2zm-4 1zm-2 1zm-162-8zm-4 4zm0-7zm-2 7zm0-7zm-1 5zm0 3zm-1-1zm-1 0zm0 1zm0-6zm-1 5zm-1 1zm-1 3zm-1-2zm-2 2zm-1-9zm0 9zm-1-4zm0 1zm-2-7zm-1 9zm-1-10zm-1 11zm-1-9zm-4 7zm0-7zm-1 8zm0-9zm-1 0zm-1 10zm0-8zm-1 0zm0 7zm0-9zm-1 4zm-1-5zm0 2zm-1 7zm0 1zm-2-7zm0 4zm0 2zm0 2zm-3-3zm-1-1zm0 2zm-1-3zm-2 5zm-1-1zm-1-9zm-1 10zm0-10zm-2 6zm-1-2zm-2 1zm0 4zm0-7zm-1-1zm-1 3zm-1-4zm0 2zm-1 4zm-2-5zm0 6zm-1-8zm-2 11zm0-10zm0 6zm-1 4zm0-8zm-2-3zm-1 4zm-1-3zm-1 4zm0-1zm0 2zm-4-6zm0 11zm-1-2zm-1-6zm0 1zm0 2zm0 3zm-2 2zm-1-9zm-2 5zm-1-6zm-5 6zm0-1zm0-6zm0 1zm-1 5zm0 2zm0-6zm-1-1zm0 3zm0 5zm-3 1zm-1-7zm0 7zm-1 1zm-5-5zm0 3zm0-6zm-4 7zm-1-7zm-5 18zm2-4zm0 4zm1-2zm0 1zm1-3zm1 0zm0 5zm1 1zm1-4zm3 0zm0-7zm0 11zm1-3zm0-3zm1 5zm0-8zm1-1zm1 1zm2-2zm1 11zm3-6zm5-1zm3-1zm2 5zm7 0zm0-6zm2 8zm1-10zm3 5zm1-3zm2 4zm0-4zm1 0zm1 3zm1 5zm1-3zm3-7zm0 2zm2 3zm1 4zm1-8zm1 9zm1-3zm1-7zm1 1zm1 2zm2-3zm2 2zm3 2zm1-2zm2 4zm1 2zm0-8zm2 4zm3-4zm1 0zm2 1zm1 4zm1 6zm1-10zm2 1zm0 3zm0 2zm1-4zm1 0zm0 6zm0-7zm1 5zm2 2zm1-4zm1 2zm0 2zm0-9zm0 1zm1 0zm0 4zm0 2zm1 4zm3-9zm0 7zm1 1zm3-3zm1-6zm0 8zm125 2zm4-9zm12 8zm12 0zm7 1zm2 0zm3-11zm1 5zm0 2zm3 0zm1-4zm2 7zm1-7zm2-3zm0 6zm1-6zm1 2zm1 1zm2-2zm0 4zm0 1zm2 2zm0-8zm0 2zm5 2zm1-1zm1-3zm1 2zm0 2zm0 4zm3-8zm1 0zm1 3zm2 3zm3-5zm2 6zm0 2zm1-8zm9 8zm6 6zm-5 5zm-12-4zm-3 7zm-3-6zm-14-4zm0 2zm-1 6zm-1-6zm-2 3zm-8 2zm-8-5zm-2 8zm-2-4zm-1-2zm-1-1zm0 4zm-1-4zm-1-4zm-2 3zm0-1zm-1 5zm-3 3zm-1-5zm0 2zm-1 1zm0 1zm-2 1zm0-1zm0-3zm-1 3zm0-7zm-1 1zm-2 6zm-2-7zm0 9zm-3-1zm-19-2zm-10-1zm-1-4zm-110-2zm-4 2zm-5 0zm-2-1zm0 8zm-2-1zm0-9zm-1 5zm-1-3zm-2 4zm-2 5zm0-8zm0 3zm-2-2zm-1-4zm-1 10zm-4-7zm-1-3zm-1 1zm-3 1zm-1 7zm-3-6zm0 6zm-2-3zm0-5zm-1 2zm-4-3zm-2 1zm0-1zm-1 8zm-4 2zm-3-10zm-2 5zm-1 6zm-1-4zm-1-5zm-2 0zm-4 3zm0 3zm-1 3zm0-8zm-1 0zm-1 1zm-4-3zm-6 3zm-1 3zm-1 4zm-1-3zm-2-1zm-2-5zm-1 8zm-2-3zm-1-6zm-1 9zm-2-5zm-2-1zm-6-4zm-2 10zm-8-3zm7 12zm1-5zm5 6zm0-8zm2 0zm0 1zm1 4zm0 1zm0 4zm1-5zm1-5zm0 2zm0 9zm1-10zm0 3zm0-4zm2 8zm10 1zm5-3zm10-1zm4 5zm1-1zm5-9zm3 1zm3 5zm2 0zm0 4zm1-10zm5 1zm6 3zm1 5zm0-8zm3 9zm2-1zm0-5zm2 5zm2-6zm3 3zm1 0zm1-3zm0 6zm2-9zm1 0zm1 6zm2 1zm1-7zm2 4zm3 7zm2-8zm12 5zm85 3zm3-1zm1-6zm1 7zm12 0zm1-10zm7 10zm1 0zm1-6zm0 5zm3-5zm1-5zm5 3zm1 7zm2-7zm0 1zm17 0zm15-2zm3 6zm2-5zm0 2zm7 5zm0 1zm6-7zm1 7zm1-6zm3 3zm8 0zm15-8zm3 5zm5 0zm8 10zm0 8zm-1-5zm-1-2zm-1-2zm-6 8zm0-6zm-5 4zm-26-3zm-6 6zm-3-2zm-2 2zm-1-4zm-2 0zm-1 3zm0-6zm0 2zm-46 0zm-4-6zm-2 0zm-10 7zm0-7zm-3 8zm-1-3zm-3-1zm-1 2zm-1 3zm0-5zm-1 6zm-12-9zm-64 5zm-5-2zm-4 4zm0 3zm-21-3zm-6-3zm0-4zm-7 3zm-2 2zm0 1zm-1-7zm-2 4zm-2 5zm-1-3zm-2-4zm0 6zm-1 1zm-1-2zm-1 4zm0-10zm0 4zm-1-5zm-1 5zm-1-4zm0 4zm-2 3zm0-8zm-4 6zm-1-4zm-1 9zm0-8zm-1 4zm-1-2zm-4-3zm-6 3zm-2 6zm0-6zm-1-4zm0 8zm-1 0zm-2 2zm0-6zm-14-2zm-2-1zm-3 6zm0-2zm-6 3zm0-5zm-1 5zm-3-4zm-1 1zm-1-2zm0 6zm-2-4zm0 4zm-1-1zm-1-2zm-1 4zm0-8zm-1 1zm0 3zm-1-6zm0 3zm-2 4zm-1-3zm0-4zm-1 0zm-2 2zm0 3zm-9 4zm-4-5zm-4 6zm-2-9zm0 8zm-6-5zm-1 4zm-11 0zm-3-5zm-4-1zm-2 2zm-5 5zm-4-1zm-1-1zm0 2zm-1-4zm-26 17zm1 0zm1 0zm4-4zm2 2zm2 2zm0-4zm1 2zm0-3zm1-1zm2 4zm5-6zm0-1zm4-1zm8-1zm0 3zm3-2zm1 1zm0 2zm0 7zm2-10zm1 7zm2-2zm0 4zm1-5zm0-5zm0 2zm1-1zm1 7zm2-7zm0 3zm0 3zm8-3zm0-1zm1 0zm0-1zm3 1zm1 4zm2 0zm1 4zm2-1zm2-7zm1 8zm1-3zm1-3zm0-4zm8 7zm0-4zm2 2zm2-4zm1 4zm3 3zm2 2zm2-8zm0 4zm1 1zm0-7zm2 5zm0 2zm0-8zm0 2zm1 9zm0-7zm1 2zm0 3zm1-7zm0 9zm0-5zm1 2zm0-8zm0 4zm0 2zm1-6zm0 5zm2-4zm1 3zm0-1zm2 6zm0 2zm3 0zm0-1zm0-8zm2 7zm2 1zm1-7zm1-3zm0 7zm1-7zm0 1zm0 5zm2 1zm1-1zm1-6zm1 6zm1-3zm3 1zm2-2zm2 2zm0 7zm0-1zm1 0zm2 1zm2-5zm2-6zm0 7zm1 1zm0 2zm1-2zm1 2zm2-1zm0-4zm1 0zm1-4zm0-1zm1 11zm1-6zm0 2zm0 4zm0-1zm3-5zm0-1zm0-1zm1 4zm3-7zm0 2zm1 7zm2-8zm0 3zm2 1zm1 2zm1-6zm15 1zm1 5zm2-5zm12-2zm6 9zm6 0zm1 0zm3-7zm2 5zm3 2zm7-4zm50 0zm0 5zm3-1zm5-2zm1 0zm3-2zm2-1zm4 3zm10 4zm2-9zm2 2zm1 6zm1-1zm0 2zm3-10zm1 6zm60-6zm4 1zm3 1zm0 2zm0-3zm2 5zm1 0zm1-4zm15 1zm5 1zm6-2zm11-3zm1 2zm1 0zm1 1zm2 0zm1 0zm2-2zm1 9zm4 11zm-35-8zm-10 10zm-4-4zm-2-7zm-2 2zm-54 5zm-4 2zm-4-5zm0 6zm-3-4zm-3 3zm-2-2zm-4-4zm-5 6zm0-8zm-9 2zm-1 5zm-1 1zm-3-1zm-2-1zm-4 1zm0 3zm-12-4zm0-2zm-5-1zm0 3zm-1 4zm-2-3zm-1 2zm-4 0zm-35-9zm-12 7zm-24-4zm-5 3zm-22-6zm-1 10zm-1-11zm-5 0zm-1 0zm-2 1zm-1 2zm-1 5zm0-8zm-2 2zm0-1zm0 3zm0 1zm0 4zm0 2zm-1-3zm-1-5zm-1 5zm0-5zm0 3zm-1-1zm0 3zm0-4zm-1-2zm0 4zm-1 1zm0 4zm0-10zm-1 7zm0 2zm0-6zm0 2zm-1-1zm0 6zm0-11zm-1 2zm-1 5zm0-3zm0-1zm-1 1zm0-1zm0 3zm0 1zm0-6zm-1 4zm0 3zm0-6zm-1 2zm0 7zm-1-9zm0 9zm0-11zm-1 9zm0 1zm0-6zm0 3zm-1-7zm0 6zm-1 4zm-1 1zm0-10zm0 2zm-1 8zm0-4zm-1 0zm-1 2zm0-1zm0-7zm0 4zm0 1zm-1 5zm0-9zm0 2zm0-1zm0 3zm-1 0zm-1-2zm0-1zm-1 3zm0 3zm-1-3zm0-5zm-1 3zm0 6zm-1-9zm0 6zm0 1zm0 3zm0-9zm-1 2zm0 5zm0-1zm0-8zm-1 2zm0-1zm0 6zm0 4zm-1 0zm-1-9zm0 3zm-1-3zm-1 9zm0-11zm0 4zm-1-2zm0 4zm0 3zm-1 1zm-1-5zm0 1zm-1-6zm0 1zm0 5zm0 3zm-1-6zm-1 5zm0-7zm-1 5zm-1 1zm-1-7zm0 4zm-4 0zm0-1zm0 5zm-1-7zm0 3zm-1 7zm-1-3zm-3-5zm-3 6zm0-8zm-2 1zm-1 9zm-2-11zm-2 9zm-1-8zm-1 5zm-1-3zm0 5zm-1 2zm-1 1zm0-5zm-1-6zm-2 9zm-5 0zm0 2zm-3 0zm0-4zm-2-2zm0-4zm-1 7zm0-1zm-3 0zm0-1zm-3-3zm0-1zm-2 1zm-1-2zm-1 2zm-6-1zm-32 0zm-3-1zm-3 2zm-1-2zm-1 4zm-3 4zm-3-2zm-1 3zm-4-3zm-1 1zm-11 7zm1 4zm3-3zm1 0zm0-1zm0 2zm1 1zm0-3zm1 0zm2-2zm3 0zm3-1zm64 0zm14 11zm0-7zm1 1zm3-3zm0 2zm1-1zm2 1zm0 2zm1-3zm0 5zm2-1zm3 2zm0-1zm0 2zm2-2zm0 2zm1 1zm2-4zm2 2zm0-1zm1-6zm0 3zm0 1zm2-5zm0 9zm1-9zm2 6zm1 4zm0-11zm1 9zm0 1zm1-6zm3 3zm1 4zm0-6zm1 4zm0-9zm0 3zm1-3zm1 10zm1-6zm1 1zm1-1zm1 4zm0-7zm1 4zm0 2zm1-1zm0 1zm0 2zm0-9zm1 4zm0-1zm0-3zm1 0zm0 3zm1 4zm1-7zm0 5zm4-4zm0-1zm1 2zm2 3zm1-5zm0 1zm0 2zm0 2zm6-5zm3 0zm7 0zm8 2zm28 0zm2 9zm9-10zm10 2zm17 5zm4-2zm1 5zm8-1zm1-3zm10-3zm3 0zm2-2zm0 8zm12-2zm3 0zm2 1zm1-5zm0-3zm7 8zm2-8zm13 0zm8 9zm1-2zm1-7zm1 9zm6-7zm1 7zm2 0zm5-2zm1-1zm1 1zm1-4zm1-1zm1 8zm2 0zm1 0zm5-9zm1 9zm11-6zm1 5zm7-3zm2 3zm3 0zm1-1zm7 2zm21-11zm2 4zm3-4zm4 1zm2 5zm1 5zm0-1zm1-5zm28 15zm-16 2zm-3-2zm-2 3zm0-1zm-2-1zm-2 0zm-3-6zm-28 7zm-1-6zm-5 1zm-4 0zm-3 0zm-1 0zm-7 6zm-1-10zm-1 1zm-1 6zm-3-8zm-1 5zm-1 4zm-2-9zm-1 10zm-3-2zm-3-4zm0 6zm-4-2zm0-5zm-2-2zm-2 4zm0-4zm-2 4zm-2-2zm-1 0zm0 1zm-3 5zm-2-6zm0 1zm-2 2zm-2 2zm0 2zm0-7zm-3 6zm-1-2zm-2 2zm-1-7zm0 9zm-1-9zm-2 8zm0-1zm-4-2zm-2-3zm-2 1zm-2 5zm-4 0zm0-2zm-4 3zm0-11zm-3 1zm0 4zm-2-3zm0-1zm-1 10zm-3-3zm-7-7zm0 6zm-8 3zm-2-7zm-19-2zm-5 7zm0-5zm0 4zm-1-4zm-3 6zm-84-9zm-2 3zm-3 4zm-6-1zm-16-5zm-4-1zm0 3zm-1 6zm0-6zm-1-1zm-1 9zm0-8zm-1 1zm0-2zm-1 1zm-2 2zm0 2zm0 2zm-2-9zm-1 8zm-7-7zm-2 9zm-2-10zm-4 4zm-102-4zm-3 2zm-8-2zm0 1zm-3 0zm-1 8zm-3 0zm-3-1zm-2 1zm-1 1zm1 4zm1-2zm1 1zm1 4zm1 6zm2-5zm0 4zm1-2zm3 3zm118-5zm4-4zm0 2zm2-2zm1 0zm1 7zm1-4zm1-4zm24 2zm116 5zm9-3zm1 1zm9-5zm2 6zm0-7zm0 1zm6 4zm8 0zm2 5zm0-10zm1 3zm4 2zm8-1zm0 1zm3-2zm1 8zm2-9zm0 3zm0 4zm3-5zm0 1zm2 5zm0-10zm1 1zm2 7zm0-8zm1 8zm1-3zm1 2zm1 2zm0-5zm3 1zm0 6zm1-6zm3-4zm3 5zm0 3zm2-8zm0 1zm3-1zm0 6zm1 2zm5-4zm4-3zm2 0zm0 7zm0-1zm4-2zm2 5zm2-6zm2-5zm4 11zm0-7zm0 1zm1-2zm0 2zm3-2zm0 6zm3 0zm1-4zm1-2zm6 6zm5-8zm19 7zm16-1zm1 0zm2-2zm0 1zm1 3zm0-2zm0-4zm1 1zm0-4zm1 8zm0 3zm0-1zm0-6zm1 4zm0-4zm1-2zm1 5zm0 1zm1-6zm0 3zm0 2zm0 1zm2-5zm0-1zm1 0zm0 6zm0 1zm1-6zm1 7zm0-1zm1-6zm0 1zm0 4zm0 3zm1-4zm0 3zm1-5zm0 6zm1-6zm1 4zm0 1zm1-6zm0 4zm2-1zm0 3zm1-3zm0 2zm1 2zm1-5zm1 5zm1-1zm4 7zm0 3zm-1-7zm0 5zm0 4zm-1 1zm0-3zm0 1zm-1-9zm-1 10zm0 1zm0-6zm-1-4zm0 4zm0 2zm-1 1zm0 2zm0-8zm0 2zm0 2zm-2-6zm0 11zm-1-7zm0 3zm0 3zm0 1zm0-6zm-2 6zm0-10zm0 2zm-1 5zm0-1zm0-7zm-1 2zm0 3zm0-5zm-1 5zm0 2zm0 2zm-1-4zm0 4zm0-7zm-1 1zm0-1zm0 6zm0-1zm-1-3zm0 4zm-1-7zm0-1zm-1 4zm0 1zm0 2zm-1 0zm0 3zm0-7zm-1 8zm0-6zm-1 1zm0 1zm-1-2zm0 3zm0-5zm-1 7zm0-10zm-1 4zm0 3zm-1 4zm0-11zm0 2zm0 2zm0 1zm-1 4zm0-8zm-1 7zm0-6zm-1 7zm-1-5zm0 4zm-1 0zm0 1zm0 2zm-1-9zm0 2zm0 3zm0 2zm-1-7zm0 6zm0 1zm-1 0zm0-6zm-1 4zm-1-4zm-1 6zm0-9zm0 4zm0 2zm0-1zm-1 5zm0-6zm-28-4zm-2 11zm-7-1zm-5-6zm-4-1zm-3 6zm-1-5zm-2 7zm-2-11zm-3 9zm-1-7zm0 1zm-1 6zm-1-3zm-3-1zm-4 3zm-3-6zm-3 3zm-5 3zm-2-2zm-1-4zm-2 8zm-1 0zm-3 1zm-3-1zm-1-2zm-2-2zm0-4zm-1 1zm0 7zm-1-7zm-2-3zm-11 5zm-1-5zm0 1zm-1 9zm-28-1zm-5-8zm0 6zm-8-5zm-21 5zm-135-6zm-2-1zm0 3zm0 1zm-4 0zm-1 5zm0-7zm-4 4zm-1 5zm-1-5zm-4 5zm-91-2zm-1 0zm-3 2zm-3-7zm-1 2zm-2-5zm0 3zm-2-2zm-2 0zm-2 0zm16 10zm2 1zm4 6zm1-3zm1-2zm5 3zm1 1zm0-1zm5 5zm2 1zm1-2zm5 0zm0 2zm47 0zm9 0zm2 0zm1-4zm1-3zm2 1zm1 0zm2-3zm0 6zm132 0zm1 1zm6-7zm39-2zm1 6zm3 0zm1-1zm2 1zm0-5zm32 0zm7 9zm4 0zm5-10zm1 4zm2-4zm1 11zm1-3zm5-7zm1 7zm0-1zm0 4zm0-9zm2-2zm1 0zm1 1zm1 5zm7 5zm3-10zm1 3zm0 3zm5-5zm2 8zm6 1zm4-5zm2 3zm4-9zm1 9zm4-3zm4 3zm1-8zm0 1zm1 6zm1-4zm2 1zm27-4zm1 6zm1-1zm1 1zm1-6zm0 9zm1-1zm1-1zm0-1zm1-3zm0 6zm1 0zm1-6zm0 6zm1-10zm0 3zm0 1zm0-3zm1 8zm1-5zm0 3zm0 4zm1-1zm0-1zm0 2zm1-4zm1 1zm1 0zm0 2zm0-5zm1-5zm0 9zm0-6zm1-2zm0 3zm1-4zm0 2zm0 3zm2-5zm1 5zm0-3zm1 6zm0-5zm1 0zm0-3zm1 2zm0 6zm0 3zm0-11zm1 5zm1 3zm0-8zm0 2zm1 3zm0-1zm2 2zm1-6zm1 1zm0 2zm1 5zm0 3zm1-11zm0 6zm0-1zm0 3zm1-5zm0 4zm1-6zm0 2zm0 2zm0-1zm1 7zm0-10zm0 2zm0 1zm0 3zm1-4zm2 3zm6 2zm12 12zm-9 1zm0-4zm-8-5zm-12 1zm-3-1zm-1 0zm-1 0zm0 1zm-1 2zm0-2zm-3 0zm0 2zm-1-3zm0 3zm-1 1zm-1-1zm-4-3zm-2 1zm-1-1zm0 2zm-44 0zm-4 2zm-1 3zm-2-4zm-1-2zm-1 5zm-3-1zm-1 0zm-2-2zm-1 2zm-1 2zm-8-6zm-2 9zm0-5zm-3-4zm-6 6zm-1 1zm-1-1zm-1-4zm-2 3zm0 1zm-3 1zm-1-8zm-2 2zm-1 3zm-2-3zm-1 6zm-3-5zm-2 1zm-9-4zm-47 5zm0 2zm0-1zm-3-6zm-2 2zm-1 5zm-3-3zm-1 7zm-3-1zm0-3zm0 1zm-10 3zm-1-1zm-1-1zm-2-1zm-13-5zm0-1zm-7 9zm-142-9zm-1-1zm-2 3zm-2 2zm-1-1zm-1-1zm-5 4zm-5 0zm-1-4zm-4 1zm-2 2zm-1 1zm-3-3zm-2-1zm-1 1zm-1 1zm-5-2zm0 3zm-3-3zm-5-3zm-1 3zm0-3zm-1 0zm197 14zm7 1zm1-2zm2 0zm1-2zm4 2zm0 6zm5-4zm1-2zm32-1zm46 3zm17 0zm4 4zm5-2zm1-4zm5-1zm5 8zm5-2zm1-7zm5 1zm52 8zm7-3zm1-3zm7 4zm8-2zm4-4zm6 7zm7-6zm14 15zm-4-3zm-15-2zm-4 2zm-6 5zm-2 4zm0-6zm0-1zm-3-4zm-1 4zm-4-1zm0 4zm-3-1zm-11 2zm-5-1zm-5 3zm-4-2zm-152 1zm-3 1zm-1-3zm-5-6zm0 7zm-4-4zm0-1zm-3 7zm15 4zm1 6zm5-5zm1 7zm152-9zm0 5zm15-5zm3 3zm6 0zm4-1zm2 0zm6-1zm12 9zm3-7zm6 7zm13-6zm1 3zm6 5zm-25 6zm-6 2zm-4-9zm-2 11zm-3-2zm-6-6zm-3 7zm-3-10zm-1 0zm-3 6zm-8 2zm-1-8zm-8 10zm-2-3zm-4-1zm-2-4zm-2 2zm-3 4zm-2-1zm-5 4zm-107-1zm-10 0zm-8 0zm-7-7zm0 3zm-11-4zm23 12zm4-2zm1 5zm1-5zm3 6zm1 3zm1-1zm1 1zm1-9zm1 3zm0 4zm2 1zm1 0zm108-1zm0-1zm0 4zm4-1zm4 1zm7-8zm3 0zm1 8zm4-9zm3 7zm1 2zm3-10zm5 11zm5-8zm5-1zm5-1zm5 6zm3 4zm7-2zm19-2zm-5 12zm-1-3zm-5-3zm-8 10zm-24-11zm-3 4zm-4 7zm-2-5zm-7-5zm-2 3zm-3 6zm-4-1zm0-8zm-10 9zm-6-2zm-100-4zm-3 3zm0-1zm-2 3zm-1 2zm5 8zm6-2zm2 0zm3 3zm0 2zm94 0zm9-4zm9-4zm5 0zm0 2zm2 2zm0-5zm1 10zm0-10zm0 3zm3 3zm4-1zm3-5zm8 8zm17-1zm-1 7zm-10 1zm-4 3zm-4-6zm-9 5zm-4 0zm-2-6zm-2 9zm-2-2zm-1-7zm-2 10zm-5-7zm-8 4zm-1-5zm-1 7zm-3-9zm-77 3zm-9 5zm-1 1zm-1-6zm-13 0zm22 10zm1 1zm1-1zm4 3zm1 6zm0-8zm0 5zm1 3zm0-1zm4-4zm1 6zm0-1zm3-1zm70-5zm11 0zm2 1zm5 0zm0 2zm2 1zm2-3zm1 0zm9-5zm3 6zm3-4zm2 6zm4-3zm5 0zm2 1zm-26 8zm0 3zm0-4zm-2-1zm-2 5zm-1 1zm0 4zm-1-7zm-3 1zm-1 7zm-4-3zm-3-6zm-1 2zm-2 4zm-1-5zm-1 2zm-1 4zm-3 0zm-4-5zm0 7zm-1-3zm0-2zm-4-4zm-1 9zm-4 0zm-14-1zm-6-1zm0 2zm-9-8zm-6 8zm-2-1zm-3-7zm0 6zm0 2zm-4-2zm0-8zm-3 9zm0-5zm-13-4zm22 14zm8-2zm1-1zm0 3zm1 0zm2-1zm12-1zm4 1zm22-1z" stroke="#a0522d" stroke-width="4.0" stroke-linecap="round" fill="none"/>
<path transform="scale(.5)" d="M2680 455zm-10-4zm-15 2zm-17 14zm14-11zm1 2zm13 5zm21 4zm13-5zm11 7zm-16-1zm-41 9zm-3-1zm-16-4zm3 16zm25 3zm12-2zm0-1zm1 2zm25-5zm4-4zm177 16zm-8-3zm-6-2zm-5 11zm-3-5zm-185-6zm0 2zm0 5zm-16 4zm-10-9zm-11 8zm-8-2zm14 12zm27-4zm179 6zm22 2zm-9 10zm-16 0zm-23-6zm-2 2zm-39 14zm57-2zm51 12zm-1-5zm-22 10zm-54 10zm3 0zm2 1zm64 0zm23-5zm-3 8zm-44 8zm-33-3zm-19 16zm6-7zm9 6zm13-5zm3 5zm2-2zm38-1zm-38 6zm-7 4zm-6 2zm-1-5zm-41 1zm20 10zm59 1zm29 10zm6-11zm8 1zm-34 20zm-13 4zm2-1z" stroke="#fff" stroke-width="2.2" stroke-linecap="round" fill="none"/>
<path transform="scale(.5)" d="M3185 283zm-1-1zm-1 1zm0-3zm-1 7zm0-3zm-1 0zm-2-1zm-2 1zm-2-2zm0 1zm-1-1zm-1 1zm-1 1zm0 2zm-1 1zm0-3zm0-3zm0 2zm-1 3zm-1 1zm0-1zm-1-2zm0 2zm0-3zm-2-6zm-1 10zm0-1zm-5 0zm-13 13zm5-5zm2-1zm1 4zm0 2zm1-2zm3 0zm1-3zm0-1zm0 2zm1 0zm1-6zm0 2zm0-3zm0 4zm1-2zm0-1zm0 9zm0-7zm1 7zm0-5zm1-2zm1-2zm1 10zm1-1zm0-7zm0 4zm0-7zm1 2zm0 2zm0 4zm1-8zm0 11zm1-7zm0 2zm0 4zm0-8zm1 1zm1 4zm0-7zm1 7zm0 2zm0 2zm1-3zm0-5zm0-3zm0 2zm2 4zm0-3zm0-3zm1 7zm0 3zm1-3zm1-6zm1 5zm0-5zm0-1zm1 4zm0 2zm0-5zm3 2zm2 6zm0-6zm1 4zm2-1zm1-3zm1 4zm2-7zm2 3zm-3 12zm-5-1zm-1 5zm-1-3zm-3-4zm-1 7zm-1-6zm-23 0zm-3 1zm-1 4zm-3-1zm0-1zm-2 3zm-4-3zm-1-2z" stroke="#fff" stroke-width="3.0" stroke-linecap="round" fill="none"/>
<path transform="scale(.5)" d="M3183 238zm-1 10zm7-4zm12 19zm-12-2zm-1-5zm-5-3zm-1 6zm0-7zm4 19zm1 0zm2-1zm3-6zm5 2zm0 1zm2-2zm1 1zm1 18zm-5-3zm-4 1zm-8 2zm0 11zm4 1zm2-6zm2 1zm1-3zm2 3zm1 3zm2-2zm4 0zm-3 11zm-4 4zm-1 2zm-2 1zm-2-4zm-2-4zm-5-2zm13 14zm2 1zm3 0zm1-1zm1 3z" stroke="#a2c8e0" stroke-width="4.0" stroke-linecap="round" fill="none"/>
<path transform="scale(.5)" d="M3185 239zm-2 2zm14 19zm-3-4zm0 6zm-4-7zm-8 5zm0 3zm-1-4zm1 6zm0-1zm1 11zm1-7zm0-2zm1 4zm6 3zm1-7zm0 5zm3 4zm5-1zm2 11zm-1 2zm0-8zm-1 1zm0 7zm-1-6zm-5-1zm-8 5zm-2 8zm1-4zm9 4zm5-3zm2-2zm3 23zm-2-8zm-1-3zm0 9zm-9-3zm0-4zm-10 1zm14 13zm2 1z" stroke="#c0aad2" stroke-width="4.0" stroke-linecap="round" fill="none"/>
<path transform="scale(.5)" d="M3184 237zm0-1zm0 12zm1-6zm3 4zm1 5zm2-1zm7 10zm-1-2zm0-1zm-8-2zm-4-1zm-1 13zm9 3zm1 1zm8 11zm-4 0zm-4-3zm0 2zm-2-5zm-10 5zm0-3zm2 11zm0 3zm0-4zm0 2zm4 9zm0-7zm2 2zm0 2zm1-2zm1-1zm1 1zm8 0zm-1 16zm-3-8zm-2 3zm-1-1zm-3 4zm-2-6zm10 13zm1 0z" stroke="#c0aad2" stroke-width="4.0" stroke-linecap="round" fill="none"/>
<path transform="scale(.5)" d="M3160 285zm-21 1zm-22-1zm-3 13zm2-6zm0 2zm3-2zm2 3zm10-6zm1 7zm4 0zm1-4zm1 6zm1 1zm3-10zm8 8zm3-5zm1-2zm8 8zm2-1zm4 2zm3-6zm-14 7zm-11 7zm-2-4zm-2 2zm-7 1zm-7 0zm-1 0zm-1-4zm-1 1zm-1 0zm-5 2zm-1-1zm-2 6zm-2-3zm-2 6zm1 10zm3-4zm8-7zm2 8zm-9 4zm-2 2zm-7-2zm-7 7z" stroke="#f09490" stroke-width="4.0" stroke-linecap="round" fill="none"/>
<path transform="scale(.5)" d="M3131 285zm-20 2zm10 4zm2 6zm10-4zm0-2zm5 0zm6 4zm0 3zm1-5zm12 4zm6-2zm-10 6zm-16-1zm-23 7zm-2 13zm3-6zm2-1zm9-1zm10 4zm0-4zm-27 17zm-5-2z" stroke="#a2c8e0" stroke-width="4.0" stroke-linecap="round" fill="none"/>
<path transform="scale(.5)" d="M3184 237zm-1 1zm-1 10zm19 15zm-4-5zm-7-3zm-1 0zm-4-1zm-1 12zm2 5zm8 0zm3-5zm4 19zm-2-4zm0 4zm-1 0zm0-3zm-1 2zm-3 2zm-1-2zm-1-2zm-1-1zm-3 5zm-2-1zm-1-6zm-25 6zm-21 1zm-22-1zm19 11zm3 3zm14-7zm15 7zm3-6zm13 0zm2-3zm0 2zm1 0zm2 5zm1-2zm1-4zm1 3zm0-3zm0-3zm1 7zm0-1zm0-1zm1-2zm0 2zm1-5zm6 6zm1-3zm0 1zm1-3zm-2 11zm0 9zm-3 1zm0-10zm-6 0zm-3 11zm-1-9zm-31-2zm-30 6zm-2-3zm-11 4zm2 12zm8-7zm60 4zm4 0zm0-3zm2 3zm1-1zm1-2zm2 5zm0-5zm3 0zm0 2zm3 0zm1-1zm-93 10z" stroke="#a0522d" stroke-width="4.0" stroke-linecap="round" fill="none"/>
<path d="M127.7 531.1L133.8 529.3L140.6 530.9L146.3 532.5L153.7 541.2L162.3 544.9L164.3 547.7L162.4 553.4L160.6 560.8L158.1 567.1L156.8 572.1L154.5 578.1L152.7 580.9L146.3 577.5L141.5 572.7L135.4 566.6L129.2 559.2L124.5 551.7L126.4 543.8L125.1 537.0Z" fill="#c0aad2"/>
<path transform="scale(.5)" d="M251 1067zm2-4zm1 1zm1 3zm0-6zm0 3zm1-2zm1-5zm0 4zm0-1zm0 4zm0-1zm1-2zm1-1zm0 3zm0-1zm1 0zm0-1zm0-2zm1 0zm0-1zm1 4zm1-1zm1 2zm0-3zm2-2zm0 4zm0-1zm1-4zm1 4zm0-3zm1-2zm1 5zm2 0zm1 1zm1-4zm0 5zm1-3zm1-4zm1 6zm1 2zm0-6zm0-1zm1 5zm0 3zm1 1zm2-5zm0 4zm0-1zm1 0zm1-1zm1 1zm1-2zm1-1zm0 3zm1 2zm1 0zm1-2zm1-1zm0 4zm3-4zm0 3zm1 1zm3-2zm1 2zm1 0zm5-5zm4 13zm-3 0zm0 3zm-1-2zm-2 1zm-1 1zm0-2zm-1-4zm0-1zm0 4zm0-2zm-1 4zm0-6zm-1 2zm0 2zm0-1zm-1-2zm-1 1zm0-1zm-1-1zm0 3zm-1-4zm0-2zm-36 1zm-3 0zm-1 1zm0-1zm-1 10zm-1-6zm0-2zm-1 5zm0-6zm0 8zm-1 1zm0-11zm0 4zm-1 1zm0-3zm0-1zm-1 6zm0-2zm-1 6zm-1-7zm-2 11zm4 3zm0 2zm1-2zm0-2zm1-1zm0 8zm0-1zm1-4zm0-1zm0 4zm0-7zm1 4zm0 3zm1-5zm0 4zm0 3zm1-3zm1-6zm0 8zm48-10zm1 3zm1 0zm0-2zm2 0zm0 3zm1-1zm1 2zm0-1zm1 0zm0 3zm1-4zm1 0zm0 2zm2-3zm0 4zm2 2zm1-1zm0-2zm0 3zm1 0zm1 0zm0-2zm1 4zm0-1zm2 0zm3 0zm1 1zm1 0zm6 13zm-3-11zm-1 5zm0-1zm-1-1zm0 8zm0-5zm-1 1zm0-2zm0 4zm-1 1zm0-6zm0 3zm-1-4zm0 8zm0-5zm0 4zm-1-9zm0 7zm-1-3zm0-3zm-2 6zm-4-7zm0 9zm-63-7zm0-3zm-1 4zm-1-4zm0 1zm-1 7zm0-5zm0 6zm-1-3zm0-5zm0 9zm0-7zm-1 0zm0 8zm0-5zm-2 5zm0-6zm0-5zm0 8zm-1-5zm0 4zm0-6zm-1 1zm-1 6zm2 4zm1 1zm1 0zm1 0zm0-1zm2 1zm0 9zm0-5zm0-5zm0 8zm0-5zm0-1zm0 4zm1 0zm0-1zm0 2zm1 3zm0-5zm1 6zm0-1zm0-5zm0-5zm1 6zm2-1zm0 3zm1-2zm1 5zm60-1zm0-2zm1-1zm1-4zm0 8zm0-5zm1 2zm0-1zm0-5zm0 9zm1-8zm0-2zm0-1zm1 9zm0-1zm0-5zm0-2zm0 4zm1-4zm0 4zm1 6zm0-5zm0 2zm1 2zm2-7zm0-3zm0 9zm0-5zm1-4zm1 7zm0-2zm1 3zm1 1zm0 2zm1 0zm0-5zm0 3zm1 0zm0-1zm0 3zm1-6zm0 6zm0-5zm1 2zm0 3zm0-5zm1-1zm1 0zm0-3zm0 9zm1 0zm0-2zm1 1zm0-2zm0-1zm0-1zm3 2zm0-6zm0 4zm1 5zm1 0zm1-3zm0-2zm2 2zm2 2zm1-1zm0-1zm4 3zm-9 2zm-1-1zm-1 5zm-2-4zm0-1zm-3 0zm-1 2zm-1-1zm-2-1zm-4 0zm-1 0zm-1 0zm-6 3zm-1 0zm0 3zm-1-3zm-1 2zm0-1zm0 4zm-1-8zm0 4zm0-1zm0-1zm-1 4zm0 4zm0-10zm0 4zm-1 6zm0-5zm0 3zm-3 3zm-3-6zm-45 6zm-1-2zm0-2zm-1-3zm-1 7zm-1-6zm-1-3zm0 3zm-1 1zm0 1zm-1 1zm0-3zm-1 1zm0-2zm-1-1zm-1-1zm-1-1zm-5 2zm11 11zm2 0zm1-2zm0 3zm0-1zm1-2zm1 6zm0-1zm0-1zm2-2zm0-2zm1 8zm0-6zm0 8zm1-5zm0-1zm0 3zm2 1zm1 0zm1 2zm1 1zm9-1zm25 0zm1 0zm0-7zm1 2zm1 0zm0-1zm1-4zm0 8zm0 3zm0-5zm0 4zm1-4zm0 4zm0-10zm0 9zm0-5zm1 4zm0-7zm1-1zm0 8zm0-6zm0 9zm0-5zm1-1zm0-1zm1 0zm2-1zm0 7zm3 2zm-6 4zm-1-2zm0 4zm-2-1zm-1-4zm0-1zm-1 2zm-1 1zm0-3zm0 9zm-1-2zm0-3zm-1 5zm0-5zm0 6zm-20 0zm-1-1zm-1 1zm-1 1zm0-1zm-1-5zm-1 4zm0-5zm-1 6zm0-1zm0-6zm-1 7zm0-7zm0 4zm0-5zm0 4zm-1-2zm0 4zm-1 2zm0-5zm0-5zm-1 3zm0 3zm0-5zm-1 1zm-1-2zm0 3zm-1 0zm0 4zm0-6zm-1 0zm-1-1zm-2 0zm14 12zm0 2zm0-1zm1 0zm3 1zm0 2zm2-1zm0 4zm1-6zm1 4zm2-1zm0-1zm1 5zm0-1zm0-5zm1 4zm0 3zm1-2zm0 2zm2-3zm1 2zm0-7zm1 2zm1 3zm1-1zm0-1zm1-4zm0 9zm1-6zm0-2zm1 3zm1-4zm2 0zm4 0zm17 10zm8-1zm-34 8z" stroke="#c0aad2" stroke-width="4.0" stroke-linecap="round" fill="none"/>
<path transform="scale(.5)" d="M308 1121zm-5 6zm-1-8zm-1 5zm-4 2zm-1-6zm-3 1zm-4 6zm-1-5zm-2 1zm-4-5zm4 21zm1-8zm1 2zm2-1zm2 3zm1-1zm1 3zm1-2zm5-6zm7 0zm-17 11z" stroke="#fff" stroke-width="2.4" stroke-linecap="round" fill="none"/>
<path d="M362.1 545.3L368.7 542.2L376.3 538.0L383.4 537.4L391.2 540.3L396.9 544.8L400.3 553.1L402.7 562.7L402.1 572.6L402.8 579.5L401.6 581.1L398.3 579.5L395.4 575.9L390.4 572.5L384.4 572.4L378.9 575.1L373.9 578.9L366.7 583.8L359.7 587.3L356.4 588.6L356.7 587.6L360.9 580.4L362.2 571.2L359.7 561.6L364.6 554.2Z" fill="#a2c8e0"/>
<path transform="scale(.5)" d="M779 1079zm-1 0zm-2-2zm0 2zm-1-2zm-1 1zm0-1zm0-1zm-5 0zm-1 0zm0 3zm0-5zm-1 1zm0 3zm0-5zm0 4zm-1-4zm-1 4zm0 1zm0-5zm-1 2zm0-2zm-2 2zm0-1zm-1 3zm0-1zm0-5zm-1 6zm-2-4zm0 3zm-1 0zm0-2zm-3-2zm-1 6zm-2-1zm0-1zm-1-2zm0 3zm-1 0zm0-2zm0 3zm-1 0zm0-1zm-1 2zm0-1zm-1-1zm0-1zm-3 0zm-1 2zm-1 1zm-19 10zm3 2zm0-1zm1-3zm0 3zm1-5zm0 4zm1-2zm1 2zm0-5zm0 4zm0 2zm1-3zm0 2zm0-6zm1 2zm0 2zm2 0zm0-1zm0-1zm2-2zm2-2zm1 5zm0-5zm0 4zm1-1zm0 3zm1-4zm0 3zm1-1zm0-1zm3-3zm1 1zm1 0zm0-1zm4 3zm2-2zm16 0zm4-2zm1 1zm3-1zm1 0zm4 2zm1 0zm0-2zm0 4zm1-2zm1 0zm0 1zm1 1zm0-4zm1 8zm0-6zm0 4zm1-2zm0-2zm1 5zm1-3zm1 5zm1-2zm0-2zm1 6zm0-5zm0 2zm1 0zm1 2zm1 0zm3 1zm0-1zm4 11zm-2-5zm-2 3zm0-2zm-1 2zm0 4zm0-11zm0 9zm0-6zm-1 4zm-1-4zm0 2zm-1 1zm0-3zm-1-2zm-1 2zm-1-3zm-61 2zm-1 8zm0-1zm-1-8zm0 9zm0-10zm0 9zm0-2zm0-5zm-1 0zm0 9zm-1-5zm0-5zm0 9zm0-2zm-1-8zm0 9zm-1-7zm-2-2zm0 4zm-2-1zm0 12zm2 8zm0-1zm2-7zm0 8zm1-1zm0-1zm1 0zm0-9zm1 4zm1-2zm0-1zm0 9zm0-1zm1 0zm0-5zm0-2zm1 5zm1 0zm1 0zm65-2zm0-5zm1 6zm0-5zm0 7zm1 0zm0 3zm0-7zm1-2zm0 8zm1 1zm0-6zm0 3zm0-6zm1 2zm0-2zm0 9zm0-5zm0-1zm1-2zm0 8zm1 0zm0-5zm0 4zm0-6zm1-3zm1 5zm3 15zm-2-2zm0-5zm-1 1zm0 1zm-1 6zm0-2zm-1-7zm-1 1zm0 4zm0-6zm0 9zm0-5zm-1 0zm0 4zm0-5zm-2-2zm0 9zm-75-8zm-2 0zm0 7zm0-6zm-1 6zm0-2zm0-5zm0 3zm-1 0zm0-3zm-1 6zm0-7zm-1 6zm-1-2zm-1-2zm-1 4zm-1 4zm0-7zm3 17zm0-5zm0-2zm2-1zm0-1zm1 4zm0 3zm0-1zm0 4zm1-8zm0 3zm0 4zm1-5zm0-3zm0 9zm0-1zm1 2zm0-6zm1 1zm0-1zm0 3zm0-6zm1 1zm74 8zm2-7zm0-2zm2-1zm0 8zm0-1zm0-2zm1-3zm0 4zm1-1zm0 3zm0-5zm0 3zm0-5zm1 8zm0-5zm0-1zm1-2zm0 8zm1-9zm0-1zm-1 16zm-1 4zm0-6zm0 9zm0-7zm-1-2zm-1-1zm0 8zm0-7zm-1 0zm0 9zm0-10zm0 9zm0-2zm-1 1zm0-7zm-12 7zm0 1zm-2-4zm-2 4zm0-1zm-2-2zm0 4zm0-1zm-1-5zm-2-3zm0 3zm0 4zm-1-3zm-1-1zm0-1zm0-2zm0 4zm-1 0zm0-1zm-2-3zm-1 4zm0-1zm-2 1zm-1-3zm0 4zm-1-4zm-1 0zm0-2zm-1 4zm0-2zm-3 0zm-1 0zm0 4zm-1-1zm0 1zm-1 0zm-2 3zm0-1zm0-1zm0-1zm-1-1zm-1 2zm0 2zm-1 0zm0-1zm0-1zm-2 2zm-1 1zm-2-2zm-24-6zm-4 8zm-1-7zm0-1zm0 3zm-1 0zm0-1zm0-5zm0 9zm0-1zm0-1zm-1-3zm0 4zm0-6zm-1 7zm0-2zm0-5zm0 4zm-1-4zm-1 2zm0 4zm0 3zm-1 12zm0-11zm0 9zm1-3zm0 1zm1 4zm0-5zm0 4zm0-5zm0 4zm1 1zm1-4zm0 3zm0-5zm1 0zm0-1zm0 3zm0-1zm1 5zm0-5zm11 4zm3 2zm1-1zm1-2zm1 2zm1-5zm1 0zm1 6zm1-5zm0 4zm0-1zm1-4zm0-1zm0 4zm1-4zm0-1zm0 3zm1-1zm1-2zm2-2zm1 0zm0-1zm1 3zm2-2zm1 2zm0 1zm1-3zm0-1zm2 1zm25 1zm1-1zm3 1zm3-1zm0-1zm1 0zm1 3zm2 0zm2 5zm0-1zm1 3zm1-3zm0 4zm1-11zm0 4zm1 3zm1 0zm0 2zm1 1zm0-10zm0 4zm1 4zm0-6zm0 9zm0-7zm1 0zm0 4zm0-6zm1 1zm0 4zm0 4zm0-10zm1 1zm0-2zm-7 13zm-56 0zm-4 0zm-1-1zm-1 0zm0 4zm-1-3zm-1 0zm-1-1zm-1 2zm-1 3zm-1-2zm0-1zm-1 1zm0-1zm-1 1zm-1 2zm0-5zm-1 9zm-1-2zm-1-1zm0 1zm-1-2zm-1 2zm0 2zm-2-2zm0 4zm-1-9zm0-2zm-1 6zm0-5zm0 1zm-1 0zm0 9zm0-10zm0 9zm-1-4zm0-1zm0-5zm-1 4zm-1-2zm0 7zm-1 1zm0-7zm-1 8zm-1-2zm-1 2zm0-6zm0 2zm-1 3zm1 5zm0-1zm0-1zm1 0zm0-1zm0 2zm2 0zm0-2zm1 3zm2-2zm5 1z" stroke="#a2c8e0" stroke-width="4.0" stroke-linecap="round" fill="none"/>
<path transform="scale(.5)" d="M787 1126zm-15-2zm-13 15zm2-1zm5-6zm1 7zm0-1zm1-4zm0 4zm0-5zm0 2zm0 2zm1-2zm0-1zm0 2zm1 3zm1-6zm0-1zm0 4zm1-1zm1 2zm0-7zm0 4zm0-3zm1-2zm0 9zm0-6zm1 0zm0 2zm0 2zm0-3zm1 0zm0 2zm0-7zm0 9zm0-7zm0 9zm1-2zm0-7zm0 2zm0 2zm1-5zm0 1zm1 6zm0-7zm1 7zm0-7zm0 5zm1 5zm0-9zm1 0zm0 4zm0 2zm1-7zm1 6zm1-3zm0 2zm0 1zm0-5zm0 9zm1-9zm0 9zm0-6zm0 2zm0 2zm1-7zm1-2zm0 9zm0-8zm3 8zm2 2zm1-3zm3-2zm2 3zm-3 11zm-2-7zm-3-1zm0 2zm0 4zm-1 2zm0 3zm-4-6zm-1 0zm-1-4zm-1 2zm-1-3zm-2 1zm-1-1zm0 2zm-1-2zm0 4zm-2-1zm-1 1zm-1-3zm0 2zm-1-3zm-1 4zm-2-1zm-1 0zm-2-3zm-2 2zm-1 4zm-1-4zm-1 1zm0 4zm0-3zm-1 6zm-3-2zm0 1zm-1 2zm-3-7zm-1 2zm0 2zm33 4z" stroke="#fff" stroke-width="2.6" stroke-linecap="round" fill="none"/>
<path transform="scale(.5)" d="M491 1146zm-3 4zm-21 0zm12 10zm0 3zm2-3zm0 3zm0-1zm0-3zm0 2zm1 1zm0-4zm1 1zm0-1zm0 5zm1-9zm0 8zm1-5zm0 6zm2-3zm0-6zm1 6zm0 3zm0-9zm1 1zm0 3zm0 5zm1-5zm1 0zm0 1zm1 3zm0-6zm0 3zm1 3zm1 1zm0-3zm2 3zm2 0zm0-1zm1 1zm1-7zm80 19zm-23-1zm-26-8zm-15 6zm-9 2zm-1-1zm-1-8zm-5 3zm0 2zm-1-4zm0 6zm0 2zm-1-9zm0 1zm0 2zm0 3zm-1-5zm0 2zm0 1zm0 4zm-1 1zm0-7zm-1 6zm0-2zm-1 4zm0-10zm-1 7zm-1-2zm0 3zm0 2zm0-9zm0-1zm-1 2zm0 2zm0 6zm0-9zm-1 9zm0-8zm-1-2zm0 3zm0 2zm0 5zm0-11zm-1 9zm-1-2zm0 1zm0-8zm-1 6zm-1 1zm0 3zm0-10zm0 1zm0 3zm-1-4zm0 6zm0 1zm0 1zm0 3zm-1-7zm0 3zm0 3zm-1-3zm0-5zm-1 0zm0 4zm0 2zm0-1zm-1 2zm-1 0zm-2-4zm0 3zm0 1zm-1 0zm0-1zm0-8zm-1 2zm0 3zm0 2zm0-1zm-1 2zm-2-4zm-2-2zm-4 15zm7-4zm1 0zm4-1zm1 3zm0 3zm1 4zm0-10zm0 2zm0 2zm1 3zm0 2zm0 1zm0-6zm1 2zm1 4zm0-10zm0 2zm0 1zm0 5zm1 0zm0-4zm0 2zm1-1zm1 6zm0-1zm0-7zm1 0zm0 4zm1-4zm0-1zm1 2zm0 2zm0-1zm0 2zm1-5zm1 1zm0 3zm0 2zm0-1zm0-5zm1 3zm1 2zm0-6zm0 5zm1-4zm0 1zm0 4zm2-2zm0-5zm0 3zm0 3zm1-5zm0 2zm0 2zm0 2zm1-5zm0 3zm1-5zm4 1zm1 3zm0 2zm0-1zm0 3zm0 2zm1-3zm1 0zm0 3zm1-2zm0 2zm1-5zm0 2zm0 3zm0-1zm1-1zm0-2zm0-1zm1 4zm1 0zm1-1zm0 1zm1-2zm2 2zm0 2zm1-3zm0 1zm1 2zm1-3zm1-5zm1 6zm3-1zm1 3zm1 0zm1-4zm3 4zm1-1zm0-1zm1 2zm0-1zm13-4zm5 5zm6-1zm1 0zm1-1zm1-1zm1 3zm1-1zm2-2zm0-1zm0-2zm2 6zm0-4zm1 3zm2-3zm0 3zm1 1zm1-4zm0 1zm1-3zm1 3zm0-1zm1 2zm0 2zm1-6zm0 6zm1-3zm0 3zm1-4zm0 2zm0 2zm0-7zm1 6zm1-3zm1 4zm2-5zm2 5zm1 0zm2-1zm0-1zm2 1zm3 1zm4-1zm2-1zm9-5zm-12 17zm-1-2zm0 3zm-1-2zm0 2zm0-1zm-1-5zm-1 2zm0 2zm0-5zm0-1zm-1-1zm0 2zm0 6zm-1-4zm0-1zm0 6zm0-10zm-1 2zm0-1zm0 5zm-1-4zm0 5zm-1-4zm0 1zm0 2zm0 2zm0-1zm0 3zm0-1zm-1-7zm0 2zm0 3zm0 1zm-1-7zm0 4zm0 2zm-1 0zm0 3zm0 1zm0-11zm-1 10zm0-10zm-1 6zm0 2zm-1 3zm-1 0zm0-9zm0 2zm-1 4zm0 3zm0-9zm-1 2zm-1-1zm0 2zm0 3zm-1-6zm0 2zm-1 7zm-1-6zm0 1zm0 2zm0-1zm0 3zm0 1zm-1-4zm0 3zm0-1zm0-8zm-1 10zm0-6zm0 1zm-1-1zm0 2zm0 3zm-1-10zm0 2zm0 2zm-1 7zm0-9zm0 3zm0-1zm0 2zm0 2zm0-1zm-1-5zm-1 2zm0 4zm-1 1zm0-8zm0 7zm-1-2zm0 4zm0-10zm0 9zm-1-2zm0-4zm0-1zm-1 2zm0 2zm0 1zm0 2zm0 2zm0-10zm0 1zm0 3zm-1-1zm-1 6zm0-1zm0 2zm0-10zm0-1zm0 4zm-1 6zm-1-7zm0 2zm0 6zm-1-9zm0 2zm0 4zm0 2zm0-9zm-1 2zm0 3zm0-1zm0 3zm0-1zm0 2zm0 2zm-1 0zm0-10zm0 6zm-1-6zm0 2zm-2 7zm0-7zm0 5zm-1-7zm0 1zm0 4zm0 1zm-1 2zm0-6zm0 2zm0-1zm-1 6zm0-4zm0 2zm0-1zm-1-1zm0 2zm0-1zm0 3zm0-5zm-1 2zm0 2zm-1-6zm0-1zm0 3zm0-1zm-1 2zm0-1zm0 3zm0-5zm-1 3zm0-1zm0 5zm-1-8zm0 2zm0 2zm0 4zm-1-5zm0 1zm0 1zm0 3zm-1-7zm-3 0zm0 1zm0 2zm-1-3zm-1 0zm0 3zm-2-4zm0 2zm-1-3zm0 2zm0-1zm-1-1zm-1 10zm0-11zm0 5zm-1 0zm0 3zm0-8zm-1 5zm0 1zm-1-1zm0 2zm0-7zm0 3zm-1-1zm0 2zm-1-2zm-1-2zm0 3zm-2 1zm0-3zm0 2zm-1 1zm0 1zm0-3zm-1-1zm0-1zm0 3zm0 1zm-1-2zm0 1zm-1-1zm-1-2zm-2 10zm0-10zm-2 1zm-1-1zm0 2zm-1-2zm0 4zm-6-2zm-2-2zm-10 0zm-1 0zm-2 0zm-3 0zm-1 1zm-1 0zm0-1zm0 2zm-1-1zm-1 5zm0-6zm-1 5zm0-3zm-1 2zm0-1zm-1 8zm-1-3zm0-3zm-1 3zm-2 1zm-5 9zm1-1zm0 5zm1 0zm0-4zm0 1zm0 2zm1-6zm0 2zm0-4zm1-1zm0 3zm0 1zm0 4zm2-5zm0 3zm1-2zm0-3zm2 0zm37 0zm13 5zm3 1zm13-1zm1-3zm1 6zm1-5zm0 2zm0-3zm1 3zm1 4zm0 1zm0-10zm0 5zm1-3zm0 2zm0 6zm0-10zm1 10zm0-3zm1-7zm0 1zm0 3zm1-4zm0 2zm0 3zm1-3zm0 4zm0 3zm1-4zm1 1zm0-1zm0 4zm1-6zm1-3zm1 1zm0 3zm0 1zm0 1zm0-7zm1 6zm0-5zm1 4zm0 5zm0-7zm0-1zm1 5zm0 4zm0-11zm0 6zm1 1zm0 3zm0-1zm3-9zm0 1zm0 2zm0-1zm1 8zm1 1zm1-11zm0 8zm0 1zm1-6zm0 1zm0 4zm0 2zm1-5zm0 2zm0-1zm0 2zm1-6zm0 5zm0-1zm0 5zm1-10zm0 9zm0-10zm0 2zm1 4zm0 3zm0-6zm1 2zm0 2zm0 3zm0-1zm1-1zm0 1zm0-6zm1 3zm0-6zm0 9zm0-8zm0 1zm1 5zm0 3zm0-7zm1 6zm0 2zm0-10zm0 3zm1 4zm0-1zm0 2zm0 2zm1 0zm1-1zm0-9zm0 1zm0 3zm0 1zm1-6zm0 8zm0 2zm1 1zm0-8zm0 6zm1-8zm0 8zm1-1zm1-8zm0 9zm2 0zm1-7zm1 4zm0 2zm0 1zm0 2zm0-9zm1 3zm0-1zm0 7zm0-10zm1 3zm0 2zm0 3zm0-4zm1 0zm0-1zm0 2zm0-3zm5 2zm2-1zm3 1zm-14 9zm-1 9zm-1-9zm0 2zm0-3zm-1 8zm0-7zm0 2zm-1-3zm0 4zm0-5zm-1 0zm0 4zm-1-3zm0 1zm0 3zm-1 3zm-1-2zm0-4zm-1-2zm0 9zm0 2zm0-4zm-1-2zm0-1zm-1-4zm0 11zm0-10zm0 4zm-1-2zm0 6zm0-9zm-1 0zm0 11zm0-10zm-1 3zm0 3zm0-7zm-1 2zm0 4zm0 5zm-1-6zm0-1zm0 2zm0-6zm0 11zm0-8zm-1-1zm0 1zm0 2zm0 4zm-1-2zm0-1zm-1-5zm0 5zm0 2zm-1-7zm0 2zm0-1zm0 2zm-1-1zm0 4zm0-1zm0 3zm-1 0zm0 1zm0 1zm0-6zm0 1zm-1 3zm0-8zm0 1zm0 4zm0 2zm0-1zm-1-6zm0 4zm-1 6zm0-10zm0 3zm-1-4zm0 9zm0 2zm0-10zm0 6zm-1-1zm0 1zm-1 1zm0-7zm0-1zm-1 6zm0 2zm0 3zm-1-4zm0 3zm0-9zm-1 2zm0 5zm0 1zm0-8zm-1 1zm0 4zm0 2zm0-7zm-1 0zm0 4zm-1-3zm0-1zm0 4zm0 2zm0 1zm-1-3zm0 2zm0-7zm0 3zm-1 8zm0-8zm0 1zm0 2zm-1 5zm0-8zm0 4zm0-7zm-2 10zm-2-10zm0 1zm-1 1zm-76 0zm0 6zm-1-7zm0 7zm0-1zm-1 2zm0 2zm-1-2zm0-9zm0 2zm-1 7zm0-6zm0 1zm0 2zm0-1zm0 3zm-1-1zm-4-5zm0 2zm-8-4zm11 22zm2-6zm1 3zm1-7zm1 0zm0 3zm0 3zm1-3zm0 1zm0 2zm0 2zm0-1zm1-7zm0 3zm0 4zm1 2zm1 1zm1 1zm0-2zm1-8zm65 5zm2 0zm0-6zm1 2zm2 7zm1-8zm0 4zm1 4zm0-6zm1 2zm2 6zm1-6zm1-3zm1 0zm1 0zm1 2zm0 4zm1 3zm0-10zm1 10zm0-7zm0 4zm1-8zm0 2zm0-1zm0 2zm1 0zm0 5zm0 3zm1 0zm2-10zm0 2zm1 6zm0-2zm2 4zm1-11zm0 11zm1-5zm1-6zm0 9zm0-6zm1-3zm1 6zm0-6zm1 0zm0 2zm1 3zm0-5zm0 11zm0-10zm1 1zm1 5zm1-4zm0 6zm1-3zm0 2zm0 2zm0-8zm1 9zm1-7zm0-1zm1 6zm1-5zm0 3zm0-7zm0 2zm0 1zm0 2zm2-2zm0 2zm0-1zm0 3zm1 4zm0-1zm0-10zm0 5zm1-4zm0 4zm0-1zm1 6zm0-10zm0 7zm0 2zm1 1zm0-10zm1 1zm1 8zm8-1zm1-7zm7 19zm-7-5zm-3 6zm0-1zm-1-2zm0 2zm-1-1zm0 1zm-1-5zm0 8zm-1-6zm0-1zm-1-3zm0 4zm-2-2zm-1 2zm-2-4zm0 3zm-1 2zm0-5zm-1 0zm-1 0zm0 7zm-2-3zm-1 2zm-2 3zm0-10zm-1 10zm0-10zm-1 0zm0 1zm-1 8zm-2 2zm0-9zm-2 7zm-1-9zm-1 5zm-1 3zm-1-4zm-1 0zm0 2zm0 3zm0-6zm-2 5zm0 2zm-2-7zm-1 8zm0-7zm0 2zm0 2zm0-8zm0 2zm-2 7zm0-3zm0-6zm-1 11zm0-7zm0 3zm0-7zm-1 6zm0 3zm-1-1zm-1-2zm0 1zm0 3zm-2-7zm-1 5zm0-4zm-1-1zm-1 6zm-1 1zm0-10zm-1 6zm0 2zm0-8zm-1 8zm-1-3zm-1-4zm0 2zm-5-2zm-61 4zm-2-5zm0 3zm-2 3zm-2-2zm-1-1zm63 11zm7 3zm0-5zm1 10zm1-1zm1-7zm0 5zm0-7zm1 6zm1-1zm0 2zm0 1zm1-4zm0-3zm1 3zm0-2zm1-2zm0 1zm1 4zm0 1zm0 5zm0-1zm0-10zm2 6zm2-2zm0 2zm0 2zm1 3zm1-9zm1 7zm0-1zm1 3zm0-2zm1-3zm1-2zm0 3zm0 3zm0-10zm1 5zm0-1zm0 4zm0 1zm1 0zm1-3zm1-1zm0-1zm0-1zm1 3zm1 4zm0-8zm1 4zm0-6zm1 1zm0 4zm1-5zm1 7zm0 2zm0 1zm1-5zm1-5zm0 5zm3-4zm1 1zm0 3zm0 3zm0 3zm0-11zm2 7zm0 2zm0-9zm0 3zm1 0zm0 6zm1-2zm0-7zm0 2zm0 1zm1 1zm7 0zm5-2zm2-2zm2 4zm1-4zm1 2zm0-1zm1 0zm0 2zm1-1zm0 2zm1 0zm0-1zm1 5zm0-5zm1 4zm1 2zm0-6zm0 2zm3 4zm0-1zm1-4zm0 5zm1-3zm1 0zm0 3zm1-6zm0 4zm2 4zm1-4zm2 1zm0 3zm0-7zm1 7zm4-1zm1-3zm2 4zm1 0zm32 12zm0-1zm-2 0zm-1 1zm-1-2zm-2 2zm-1-2zm-2 0zm0 2zm-2-2zm0 1zm-1-1zm-1 2zm-2-1zm-3-5zm-2 2zm0 2zm-1 1zm-2 1zm0-5zm-1 0zm0 1zm-2 0zm-1 1zm-1-2zm-1-2zm0 5zm-1-5zm-1-1zm0 3zm0-2zm-3-2zm0-1zm-2 4zm0-5zm-2 1zm0 2zm-1-1zm-2-2zm-1 1zm-1 1zm0-2zm-1 1zm0-1zm-1 5zm0-5zm-2 1zm-10 0zm-3 2zm-16-1zm-1 4zm-3-1zm0-1zm0 2zm0-6zm-1 11zm0-9zm-1 5zm-1 1zm-1-6zm-1 1zm-2 7zm-1-9zm0 2zm-1 6zm-1 2zm-1-5zm0 2zm-1 0zm0-5zm-1 8zm0-11zm-1 3zm0 1zm-1-2zm0-1zm0 2zm-1 0zm0 8zm-1-8zm0 2zm0 2zm0 2zm0 1zm0-9zm-1-1zm-1 3zm-1-2zm-1-1zm0 1zm0 4zm0 3zm-1-3zm-2-4zm0 2zm-2 6zm0-9zm-1 7zm0-5zm-1 4zm0 5zm-1 0zm0-10zm-1 4zm-1 0zm-1-3zm0 6zm-1-4zm0 5zm0-8zm-4 1zm-6-1zm4 19zm2-1zm0 2zm3 1zm2 1zm0-8zm0 3zm0-1zm0 2zm0 1zm1-6zm1 3zm0 1zm1 3zm0-7zm1 4zm0-1zm0 6zm0-1zm0-9zm1 3zm0 7zm1-7zm1 4zm0-7zm1 5zm1-6zm1 1zm0 2zm1 7zm2-8zm0 5zm1 1zm0-6zm0 1zm0 2zm1 1zm0-4zm0-1zm4 1zm0 8zm1-6zm2-1zm1 2zm1-1zm1 2zm1 1zm0-5zm0-1zm2-1zm1 0zm3 11zm2-7zm56-4zm6 1zm1 0zm0 1zm1 0zm1-1zm1 0zm1 2zm1-3zm0 3zm0-2zm1 0zm0-1zm1 1zm1 0zm0-1zm2 1zm0-1zm0 2zm1-1zm4 0zm-93 11zm-3 0zm-1 0zm-5 1zm-1-1zm-6 1zm-3 2zm-1-3z" stroke="#f09490" stroke-width="4.0" stroke-linecap="round" fill="none"/>
<path d="M211.5 675.7L220.9 671.2L235.9 663.7L250.9 656.2L259.8 651.4L266.0 657.0L270.8 670.4L274.7 680.6L283.6 690.9L293.5 700.7L298.4 710.6L306.0 720.7L312.0 729.1L311.3 739.8L308.4 747.9L300.8 758.2L290.2 762.4L272.3 765.3L259.8 765.9L248.7 758.9L236.4 749.1L226.4 736.6L216.3 729.1L205.1 715.3L198.7 711.5L211.2 708.5L215.5 700.1L211.3 687.3ZM83.8 688.4L91.0 683.4L102.2 676.0L113.4 668.5L120.8 664.9L123.8 669.5L132.8 677.2L144.4 682.4L149.8 683.0L146.2 687.5L138.7 695.5L132.6 702.9L124.6 708.8L116.6 707.5L104.4 705.1L94.7 700.3L87.5 694.3ZM148.1 666.1L150.1 649.7L156.2 637.6L168.4 631.5L177.2 627.0L185.9 631.0L192.8 637.2L191.1 645.1L187.7 655.3L179.5 663.5L171.3 669.6L163.2 674.7L155.6 676.1L150.0 672.3Z" fill="#a0522d"/>
<path transform="scale(.5)" d="M458 1223zm-5-1zm-1 0zm0-2zm-1 1zm0 3zm5 0zm-86 21zm-17 2zm-17 10zm2 0zm2 1zm0 1zm3-1zm1 1zm1-1zm1 0zm1-5zm1 5zm2-1zm0 1zm1-4zm0 1zm1 0zm0 4zm4-4zm0-1zm1-3zm1 3zm0 1zm1 1zm1 1zm1-5zm1 5zm0 1zm1-6zm0 5zm0 2zm2 0zm6 0zm2-1zm0 1zm1 0zm22-4zm-2 12zm-9 3zm-1-6zm-2 7zm-1-7zm0 5zm-1 2zm0-4zm0 2zm-1-1zm0 1zm-1-4zm0 5zm-1-5zm-1 2zm-2-5zm0 3zm-1-1zm0 6zm0 1zm0-11zm-1 5zm-1 3zm0-3zm-1-4zm-2 2zm-1 0zm0-2zm0 1zm-1 3zm0 3zm-1-3zm-1-4zm-1 1zm-2-2zm-1 2zm-1-2zm-4 1zm-10 1zm0-1zm0-1zm-1 0zm0 2zm-1-1zm0 3zm-1-3zm0-1zm-1 2zm0 2zm0 3zm-1 3zm0-9zm-1-1zm0 2zm0 1zm-2 3zm-3-1zm0-4zm0 3zm-1 3zm0 4zm0-1zm0-10zm-1 2zm0 2zm0-1zm0 4zm-1-1zm0 3zm0-1zm0 2zm-1-1zm0 2zm-1-6zm0 3zm-1 1zm-1 0zm0-2zm-1 2zm-1-1zm-1-2zm-3 3zm0 2zm-1-1zm-1-9zm-2 2zm-1-2zm-1 7zm-1 3zm-1 0zm-4-1zm-4-2zm-4 12zm1-7zm3 7zm0 3zm1-6zm3 6zm0-5zm1-5zm1 3zm3-2zm0 1zm0 3zm0-1zm0 4zm0 1zm1-8zm0 4zm0-5zm1 10zm0-10zm0-1zm0 2zm0 4zm0-1zm1-3zm0-1zm1 0zm1-1zm1 1zm1 5zm1-5zm6 3zm8-2zm29 1zm8 0zm1 8zm4-11zm3 1zm0-1zm0 3zm0 1zm0 3zm0 3zm1-9zm0 2zm0 1zm1 0zm0 6zm0-10zm1 2zm2 2zm0 2zm0-1zm2 3zm1 0zm0-8zm0 3zm1 7zm2-4zm7-5zm142 8zm5-3zm0 3zm1-4zm1 6zm0-1zm0-5zm2-1zm1 5zm0-1zm1 3zm1-5zm0 2zm1-1zm0-3zm1 5zm0 2zm2-4zm2 1zm2-2zm1-1zm1 1zm2 5zm3 0zm1 0zm3 9zm0-7zm-1 1zm-1-2zm-1 3zm-1-1zm-1-2zm0 5zm-1 0zm0 6zm-1-6zm-1-3zm0 1zm-1-2zm0 2zm0 5zm-1 2zm0-4zm-1 4zm-1-10zm0 5zm0 2zm-1-3zm-1 7zm0-11zm0 5zm-2 3zm0-2zm-1-3zm0 3zm0-2zm-1 3zm-1 1zm-1-6zm-2 0zm-1 3zm0 1zm0-4zm-1 5zm-1-2zm0 4zm0 1zm-1-10zm-1 6zm0 1zm-1-5zm0-1zm0 3zm0 1zm0 1zm-1-6zm0 4zm-1 6zm-2-3zm0 3zm-1-8zm0 2zm-1 3zm0-7zm0 2zm-1 9zm-2-2zm0-6zm-1-1zm0 9zm-1-7zm0-1zm0 3zm0 2zm-2 0zm-5 2zm-24-4zm0 4zm-115-10zm0 5zm0 6zm-1 0zm0-11zm-1 6zm0-3zm-1 6zm-1-4zm0 2zm0-6zm0 9zm0-7zm-1-3zm-1 0zm-1 3zm0 3zm-1 5zm0-10zm0 3zm-5-4zm-60 9zm-2-6zm-1 5zm0-4zm0 2zm-1-2zm0-1zm-1 4zm0-5zm-1 3zm-1 2zm0-7zm0 2zm0 4zm-1-2zm0 3zm0 3zm0-8zm-1 9zm0-6zm-1 1zm-1-5zm-1 10zm0-8zm0-1zm0 6zm-1-4zm0 5zm0-1zm0 2zm-1-4zm0 3zm0-1zm0 3zm-1 0zm0-1zm0-10zm-1 9zm-12 13zm9-2zm0-4zm2 4zm0-7zm0-1zm1 1zm0 8zm1-9zm0 7zm1 0zm1-5zm0-1zm0 3zm0 2zm0-1zm0 4zm1-8zm0 5zm0-1zm0 3zm1 1zm2-4zm0-5zm59 6zm6-4zm0 6zm1 0zm2-2zm0 3zm1-3zm0 1zm1 1zm0 2zm1-1zm0 1zm0-7zm1-3zm0 9zm0 2zm0-9zm1-1zm0-1zm0 6zm1-5zm0 2zm1-3zm0 3zm0 3zm1-4zm0 3zm0 1zm1-2zm1-4zm0 2zm1 0zm4-1zm91 6zm1 0zm0 3zm4-4zm4 3zm2 2zm8-8zm3 4zm0 2zm3-1zm1-3zm3 4zm1-4zm2 6zm0-8zm0 4zm0 2zm1 0zm0 1zm0-9zm1 10zm0-5zm1-1zm0 4zm2-1zm0 3zm1-2zm0 1zm1 1zm1-7zm0 5zm1-4zm0 5zm0 1zm0-7zm1 3zm1-2zm0 4zm1 1zm0-8zm0 2zm1 3zm1 3zm0 1zm0-4zm1 1zm1 2zm2-7zm1 3zm1 5zm0-8zm1-2zm2 4zm1 4zm0-1zm2 3zm0-9zm0-1zm2-1zm0 4zm1-2zm4 7zm2-2zm2-3zm0 2zm1-6zm3 10zm4-10zm2 9zm2-1zm3 3zm2-3zm2-7zm8-1zm1 11zm4-5zm-4 10zm-1 4zm-1 0zm-4-1zm-2-4zm-4-2zm0 8zm-1-7zm-8 8zm-3-1zm-4 1zm-1-10zm-2 8zm-2-1zm-4 0zm-5 3zm0-4zm-2-2zm0 2zm0-1zm0 2zm-1 0zm-1 3zm0-6zm-1 5zm-1-7zm0-1zm-1 3zm0-1zm-2-2zm0 2zm-7-3zm-2 0zm-2 0zm0 1zm0 5zm-3-6zm-2 2zm-1-1zm-1 2zm-1 3zm0-6zm-1 3zm-2-2zm-2 6zm-2-6zm0 3zm0 1zm0 1zm0 2zm-2-3zm0 1zm-3 0zm-1 2zm-1-6zm0 3zm-1 2zm-1 2zm-2-2zm0 3zm-5-2zm-1-3zm-2-2zm-7 7zm-2-6zm-3 3zm-3 4zm-75-1zm-11-5zm-1-3zm-1 2zm0 4zm0-5zm-1 7zm0-9zm-2 5zm0 1zm-1-2zm0 1zm-1 3zm0-9zm0 3zm-1 3zm0 4zm0-1zm0-8zm0 2zm0-1zm-1 1zm0 5zm0-1zm-1 1zm0 1zm-1 0zm0-6zm0 5zm-1 3zm0-2zm-1-4zm-1 2zm0-6zm0 3zm0 4zm-2 3zm-1-6zm-2 6zm-7-5zm-47-6zm0 7zm-1 2zm-1 2zm-1-5zm-1-3zm0 2zm0 1zm-1-2zm0 3zm0 2zm0 2zm-1-3zm-1-5zm0 1zm0 2zm-1 3zm0 2zm0-10zm0-1zm0 3zm0 3zm-1-5zm0 9zm0-8zm0 1zm0 3zm-1 5zm0-5zm0-1zm-1 0zm-1 3zm-1-7zm0 9zm0-6zm-1 5zm-67 14zm11 0zm2 0zm0-4zm1 2zm0 2zm1-1zm1 0zm1-3zm0 2zm0-1zm0 2zm1-3zm1 4zm4-3zm0-1zm2-2zm1 4zm1-1zm1-3zm2 5zm4-2zm6 2zm0-4zm2 0zm4-2zm1 7zm1 0zm0-5zm2 1zm2-1zm2 0zm1 5zm2-3zm6 0zm1-4zm1-1zm1 3zm0 1zm0-5zm1 0zm1 3zm0 4zm0 2zm0-9zm1 2zm0 1zm0 2zm0 3zm0 1zm0-8zm1 8zm0-5zm0 2zm1 0zm0-1zm0-3zm1 1zm0 3zm0 2zm0-8zm0 2zm1 3zm1 0zm0 3zm0 1zm0-8zm1-3zm0 6zm0 5zm1-4zm1-6zm1-1zm38 10zm2 1zm0-1zm3-3zm1 1zm1-1zm0-6zm1 9zm0-1zm0 2zm5-5zm0 2zm0 2zm1-6zm0 6zm0 1zm1-2zm0-5zm0 4zm0 2zm1 0zm0-7zm1 5zm0 2zm0-9zm1 7zm1-3zm0 1zm0 3zm1-5zm0 7zm1-7zm1 4zm1-2zm1-6zm0 2zm2 0zm0 8zm3-6zm1 2zm0-1zm0-2zm5 6zm0-9zm0 3zm1-1zm0-1zm9 0zm5 6zm0 4zm1-6zm6 1zm3-6zm2 7zm3 0zm4 1zm0 3zm39-4zm6 3zm3 0zm1-7zm2 1zm3 7zm1-1zm0-10zm0 2zm0 4zm1 5zm1-11zm0 5zm1 3zm0 3zm1-10zm0 4zm0 1zm1 5zm1-6zm0 5zm1-3zm1-2zm0 1zm2 0zm0-3zm1 4zm0-1zm0-5zm1 8zm0-1zm0-6zm2 0zm0-1zm1 0zm4 2zm1 2zm0-3zm2-2zm0 1zm1 0zm0-1zm2 0zm0 1zm1-1zm2 8zm5-8zm32 5zm1-3zm0 1zm1 7zm0-10zm0 1zm1 10zm0-9zm0 3zm1 3zm0-1zm2 3zm0-8zm0 1zm0 5zm1-2zm0-1zm0 6zm1-11zm1 8zm0 2zm1-9zm1 9zm4-9zm1 2zm1 3zm7-6zm10 11zm6-2zm1-5zm0 3zm3-2zm0 5zm0 1zm1-4zm0 4zm1-2zm1-2zm1 1zm0-2zm1 5zm0-8zm0 1zm1 1zm1 4zm0 2zm0-1zm0-7zm0 2zm1 1zm0-1zm0 2zm4 1zm0-1zm0 6zm-2 0zm0 9zm0-10zm-1 2zm-1-2zm0 4zm-1-2zm0 2zm-1 0zm0-1zm-1-2zm0-1zm-1 3zm0-1zm0 2zm-1-4zm0 2zm0 2zm-1-3zm-1 1zm-7-2zm-1 3zm-3 0zm-2 2zm-6-1zm-3-1zm-7 3zm-3-2zm0 3zm0 2zm0 1zm0-10zm-1 7zm0 1zm0 3zm0-11zm-2 2zm0 3zm0-4zm0 2zm-1 4zm0-4zm-1 1zm0-1zm-1-2zm-1 1zm0 6zm-2-7zm-58 1zm-9-1zm-1-1zm-1 0zm-2 0zm-2 2zm-1 4zm0-6zm-2 4zm-1 0zm-1 3zm-1-6zm0 5zm-1 2zm0-8zm-1 2zm-1 6zm-2-3zm0 4zm-1-7zm0 6zm-1-2zm0 2zm0-4zm0 1zm-1 3zm-1 1zm0 1zm0-6zm-1 4zm0 3zm-1-3zm-1 2zm-1-4zm0 4zm-4 1zm-1 0zm-8-4zm-3 4zm-2-4zm-14-2zm-7 0zm-6 4zm-2-9zm-1 7zm-2-4zm0-3zm-3 9zm-1 0zm-3-6zm-1 6zm-1 0zm-3 0zm0-4zm-4 2zm-7-3zm-1-3zm-1 1zm-2 1zm0 4zm-5-6zm-1 9zm-6-10zm-1 0zm0 2zm-1 5zm0 2zm-1-4zm0 3zm0-1zm-1 0zm-1-7zm0 1zm0 4zm0-1zm-1 2zm-1 3zm0-8zm-1 3zm-1 2zm0 2zm0 1zm-1-3zm0 1zm-1-4zm0 2zm0-1zm0 3zm-1-2zm0 2zm0 3zm-2 1zm0-6zm0 2zm0 1zm0 2zm0-10zm-1 8zm0 1zm0 2zm-1-2zm0 2zm0-10zm0 5zm-1 3zm0 1zm-2 1zm-1-1zm-1-2zm0 2zm0-1zm-1-1zm0 2zm-1 1zm-1-5zm-1 1zm-1 4zm-1-1zm-16 0zm-3 0zm0 1zm0-8zm-3 8zm0-7zm-2 4zm0-1zm0 2zm0 2zm-1-1zm0-7zm0 5zm0-1zm-1 4zm0-10zm0 1zm0 1zm0 6zm-1-1zm0-1zm0 2zm0 2zm0-11zm0 4zm-1 3zm0 3zm0-1zm0 2zm0-11zm0 2zm0 2zm0 2zm-1 0zm0 3zm0-7zm0 2zm-1 4zm0 1zm0 2zm0-10zm0 9zm0-10zm0 2zm-1 5zm0 2zm0 2zm0-5zm0-1zm-1 1zm0 2zm0-7zm0-1zm-1 4zm0 2zm0 1zm0-4zm-1 0zm0-1zm0 4zm0 1zm-1-3zm0 4zm0 3zm0-10zm-1 8zm0-4zm-3 1zm0-1zm-1-2zm-2 2zm0 2zm-2 1zm0-4zm-5-4zm-1 2zm0 7zm-1-6zm0 2zm0 3zm0 3zm-1-5zm0-1zm0-5zm-1 11zm0-8zm0 4zm-1-2zm-1 5zm-1 0zm-1 0zm-1-2zm0 1zm0 2zm0-7zm-1 3zm-1 2zm0-5zm-3-4zm0 4zm0-1zm-1 1zm-4-4zm-2 10zm-1-6zm0 3zm0-5zm-1 6zm-1-4zm-1 4zm0 2zm0-8zm-1 0zm0-1zm0 5zm0-1zm-1 6zm0-1zm0-5zm-1 3zm0 1zm-1-2zm0-5zm0 1zm0 5zm-1 1zm0-9zm0 3zm-1 4zm0 4zm0-7zm0-1zm0 3zm-1-4zm-1-1zm0 1zm-1 5zm0-7zm0 4zm-1-1zm-1 2zm-5-3zm0 9zm-1-10zm0 1zm-2 3zm0-4zm0 3zm-1-2zm0 2zm0-1zm-1-1zm0 3zm-3 0zm0 4zm-1-3zm-1 0zm-1 3zm-1-3zm0 2zm0 3zm-1 0zm0-8zm-1 7zm0-1zm0-1zm-1 0zm-1-1zm-3 3zm0 1zm-1 0zm-1 0zm-3-8zm-2 6zm-16 14zm1-2zm4-2zm1-1zm2 2zm0-1zm0 2zm0 1zm1 1zm0-5zm0 3zm1 2zm1-6zm0 1zm0 3zm1-3zm0-1zm1 3zm3-4zm1-1zm0 5zm0-7zm1 1zm1-1zm1 3zm0 1zm0-4zm1 1zm0-1zm1-1zm0 2zm0 1zm1-2zm1 2zm2-3zm0 3zm2-2zm23 0zm1 9zm4-7zm1-1zm1 3zm0-4zm1 1zm1-1zm0-1zm0 3zm0-1zm1 1zm0-3zm1 3zm0-1zm1-1zm0 5zm0-1zm1 1zm1-2zm0 2zm0 1zm0 4zm1-7zm0 3zm0-6zm2 4zm0 2zm0 2zm0 1zm0-4zm1-4zm0 2zm1-4zm0 10zm0-1zm0 2zm1-3zm0 3zm0-7zm0 2zm3 4zm1-2zm2 2zm0-10zm0 2zm1 3zm0 5zm1-1zm0 2zm1-9zm0 2zm0 1zm0 3zm0-7zm1 4zm0 2zm0 4zm1-10zm0 7zm1-6zm1-2zm1 7zm0 3zm1-8zm1-1zm2 7zm0 1zm0-8zm0-1zm1 0zm0 6zm1 4zm0-7zm2 4zm1-6zm1 2zm0 7zm1-3zm0 4zm0-10zm0 2zm2-1zm1 3zm0 3zm0 3zm0-8zm1-3zm0 6zm0 5zm0-10zm2 4zm0 2zm0 4zm0-11zm1 1zm1 7zm0-7zm0-1zm0 3zm0-1zm0 3zm0-1zm1 2zm0 1zm0 2zm0-6zm0 2zm1 4zm0-8zm0 2zm0 1zm1 6zm0-9zm0 1zm0 2zm0 1zm0 3zm1 2zm0-10zm0 11zm0-10zm0 2zm0 2zm1 5zm0-9zm1 1zm0 3zm0-1zm0 2zm1 4zm0-7zm0-1zm0 4zm0-5zm1 9zm0-10zm0 9zm0-8zm0 1zm0 6zm1-6zm0 2zm0 2zm0 1zm0 3zm0-9zm0 2zm1-1zm0 3zm0-1zm0 3zm0 3zm0-1zm1 2zm0-10zm0-1zm0 5zm1-2zm0-1zm0 3zm0 1zm0 2zm0 3zm0-11zm1 3zm0 3zm0 2zm0 2zm0 1zm1-6zm0 2zm0 3zm0-1zm0-8zm0-1zm0 3zm0-1zm0 2zm1 2zm0-1zm0 3zm0 2zm0 1zm0-10zm1 7zm0-1zm0 2zm0-4zm1 5zm0-1zm0 2zm1-4zm0 3zm0-1zm0 2zm0-10zm0 2zm0 2zm1 2zm0 2zm0-8zm0-1zm0 2zm1 5zm0 2zm0-7zm0 2zm0 1zm1 4zm0-9zm0 8zm0 2zm1 0zm0 1zm0-11zm0 3zm0-1zm0 2zm1 4zm0-1zm0 4zm0-9zm0 3zm1-4zm0 2zm0-1zm0 2zm0 2zm0-1zm0 3zm0-1zm0 2zm1 1zm0-7zm0-1zm0 5zm0-1zm0 2zm1-8zm0 3zm0-1zm0 2zm0 6zm0 1zm0-10zm1 4zm0-1zm0 3zm0 3zm1-5zm0 2zm0 3zm0-1zm0-9zm0 4zm1-2zm0 5zm0-1zm0 2zm0 2zm0 1zm0-10zm1 4zm0 1zm0-6zm1 4zm0 2zm0 1zm0-6zm0 2zm0 2zm1 1zm0-5zm0 2zm0-1zm1 4zm0 1zm0-5zm1 2zm0 4zm0 2zm0-10zm0 1zm0 2zm0-1zm1-2zm0 3zm1 4zm0 4zm0-11zm0 3zm0-1zm0 3zm1-3zm0 1zm0 2zm1-5zm1 1zm0 4zm1-5zm0 2zm1-2zm3 0zm1 1zm0 1zm1-1zm0 9zm0-8zm1-1zm11 0zm6 2zm2 3zm4-2zm12 1zm10 3zm2 1zm0 1zm4-4zm2 2zm2-7zm19 7zm1 3zm2-4zm1-3zm0 2zm2 4zm1-6zm0 3zm1 4zm1-4zm0 4zm0-8zm1 3zm0-3zm1-3zm1 4zm0-1zm1-2zm0 3zm1 1zm4-5zm3 1zm1 1zm0 2zm1-4zm0 2zm1-2zm4 0zm3 2zm4 5zm80-5zm5 1zm0 5zm1-7zm1-1zm0 2zm1 9zm0-11zm1 3zm0 3zm0-6zm0 2zm1 4zm1 0zm0 2zm0-7zm0-1zm1 11zm2-2zm0-8zm2 2zm0 1zm7-4zm4 5zm23-2zm1 2zm2 3zm0 1zm1-4zm-31 17zm-1-1zm-2-6zm-1 7zm-1-2zm0 1zm0 2zm-1-7zm0-1zm-1 7zm0-1zm0-9zm0 2zm-1 6zm-2-3zm-4-2zm-115 2zm-3-3zm0 9zm-1-5zm-1-3zm0 2zm0-5zm-1 3zm-1 5zm-1-6zm-1 6zm-1-2zm-1 2zm-4-8zm-2 5zm-1 3zm0 3zm-2-7zm-2 5zm0-7zm0 4zm-2 3zm-1-5zm-4 3zm-1 3zm-1 0zm-9-9zm-4 0zm-9-1zm-7 9zm-2-9zm-25 0zm-12 0zm-1 10zm-4-6zm-3-4zm-1 0zm0 4zm-1-4zm0 1zm-1 2zm-1-2zm-1-1zm-1 2zm-2 2zm-1 1zm-1-4zm0 1zm0 3zm0 2zm-1-4zm0-1zm0-2zm-1 1zm0 4zm0-1zm0 3zm-1-5zm0 3zm0-1zm-1-4zm0 5zm0 1zm-1-4zm0 2zm-1-3zm0 2zm0-1zm0 2zm-1 4zm0-1zm0 3zm0-6zm-1 4zm-1-1zm0-7zm0 2zm-1 5zm0 3zm0-1zm0-5zm0 2zm-1 4zm0-9zm0 3zm0 2zm0-1zm-1 6zm0-8zm-1 3zm0 2zm-1 0zm0-1zm0-4zm-1 5zm0 1zm-1-3zm0-4zm0 2zm-1-2zm0 3zm-1-3zm0 5zm0 3zm0 1zm-1-11zm0 8zm-1-7zm0 3zm-1 0zm0 3zm-1 0zm0 2zm-1-3zm0-1zm0 6zm-1-1zm-1-1zm0 2zm0-8zm0-1zm0 2zm-1 2zm0 2zm0-3zm-1 2zm-1 1zm0-1zm0 3zm-1-9zm-1 4zm0 3zm0-6zm-2 4zm0-3zm0-1zm-1 0zm0 3zm0 1zm0 1zm-1-4zm0 3zm-1-6zm0 2zm0 4zm0-1zm-1-2zm0-1zm-2 3zm-1-1zm0-1zm0 5zm-1 1zm0-8zm0 2zm-3-2zm-1 0zm0-1zm-1 3zm-62-2zm-2 1zm-1 1zm-1-2zm0-1zm-1 2zm-1 3zm0-5zm-2 11zm0-10zm-1 1zm0 2zm-1-2zm0 2zm0-3zm-1 2zm0 5zm0-1zm-1-3zm0 3zm-1-4zm0 8zm-1-6zm-1 3zm0-7zm0 9zm-1-3zm0 2zm-2-6zm-1 6zm-2-2zm-4 3zm-1 1zm-1 0zm-13 1zm0 11zm1-4zm1-1zm0 3zm0 1zm0-8zm1 4zm0 2zm1 0zm0-1zm0 4zm0-1zm1-3zm0 2zm1 1zm0-5zm1 0zm1-4zm1 8zm0 1zm0-6zm0 2zm1-4zm1 1zm0 3zm2-6zm3 1zm0 3zm0 2zm6-6zm93 2zm5 5zm0 4zm1-1zm0-1zm0 2zm1-1zm2 1zm0-2zm1-9zm2 5zm0 1zm0 4zm1 1zm0-11zm0 5zm1-3zm0 2zm0 2zm0 1zm1-6zm0 4zm1 1zm0-3zm0-1zm1 0zm1-1zm1-1zm0 1zm0 2zm1 5zm0-8zm1 1zm0 1zm0 4zm1-6zm2 11zm0-10zm5 10zm10-8zm6 1zm79 2zm0-6zm1 7zm1 3zm1-9zm0 3zm1-3zm0 5zm1 5zm2-2zm1-7zm6 7zm0-8zm2 7zm1-1zm1 1zm1-7zm0 2zm1-2zm0 3zm0-1zm2 1zm0 1zm1 4zm0-1zm6 1zm121-8zm1 0zm1 0zm0-1zm1 6zm0 4zm1-8zm0 2zm0 2zm1-4zm1 4zm0-1zm0 2zm1 1zm1-3zm0-4zm2 8zm0 2zm0-7zm1 3zm1 2zm0 2zm1-1zm0 1zm11-6zm10 11zm-10 4zm-1 2zm-1-7zm0 8zm-1-1zm0-9zm-1 9zm0-3zm-1-3zm0 2zm-2-2zm-1 6zm-1-7zm-3-2zm-1 2zm-6 1zm-13 0zm-112 6zm-1-6zm0 7zm-3 0zm0-1zm-1-6zm0 6zm0-8zm-1 7zm0 2zm0-5zm-1-4zm-1 7zm0-6zm-1 0zm-1 0zm0 2zm-1-5zm0 2zm0-1zm-2 9zm-6-6zm-11 3zm-8 4zm-83-11zm-12 3zm-1 3zm-4 0zm-6 0zm0-5zm-1 4zm-1-4zm-1-1zm0 9zm0-8zm-1-1zm0 2zm-1 5zm0-4zm-2 6zm-1-1zm0-1zm0 4zm0-8zm-1 7zm0 1zm-2-3zm-1-1zm-1 3zm-87-6zm-1 6zm-7-1zm-2 0zm-1 2zm0-2zm-1 1zm0-3zm0 2zm-1 0zm0-8zm0 9zm0-3zm-1-3zm0-1zm0 3zm-1 1zm0 2zm0 1zm0-6zm0 2zm-1-4zm-1-1zm0 9zm0-8zm0 1zm0 2zm0 2zm-1-6zm0 1zm-1 2zm0 1zm-1 3zm0-6zm-1-2zm9 14zm1-1zm0-1zm0 4zm2-2zm1-2zm0 6zm1-1zm0-5zm1 3zm0-1zm0 4zm1-4zm2-2zm0 5zm0 2zm0-6zm1 6zm0-3zm0-1zm1 5zm0 1zm0-8zm1 8zm0 2zm2-2zm2 2zm1-2zm0 2zm0-4zm5 4zm3-5zm59 3zm3 2zm1 0zm1-1zm0-10zm1 11zm1-5zm0 3zm1-1zm1-1zm1-2zm0 2zm0-6zm1 6zm0 3zm0-4zm1 4zm0-10zm0 1zm0 2zm1-1zm0 3zm1-4zm0 2zm0 3zm1-2zm1-4zm4 0zm8 8zm8-7zm94 8zm8-3zm1-6zm2 2zm18 6zm6-8zm0 5zm0 3zm2-6zm0 5zm0 2zm1-1zm2-2zm0 1zm0-6zm1 3zm0 1zm0 3zm0 1zm1-4zm0 3zm2 1zm6-8zm129 1zm5-1zm0 2zm0 1zm2-2zm3 3zm0 1zm0-3zm1 3zm1-1zm0 2zm1-2zm0 2zm0 2zm0-7zm0-1zm0 2zm1 4zm0-6zm0 1zm1 4zm0-4zm1 5zm0-1zm0 4zm1 0zm0 1zm0-7zm1-2zm1 9zm9 11zm-2-8zm0 5zm-2-3zm0 4zm-1-8zm-1 7zm0 1zm-1-2zm0 2zm0 2zm0-10zm0 3zm-3-1zm0 3zm-2-1zm0-2zm-1-2zm-153 1zm0-1zm-1 1zm-1-1zm0 2zm-1-1zm0-1zm-1 2zm0 4zm-1-6zm0 2zm-1 0zm0 2zm-1 7zm-1-3zm-1-2zm-1 2zm-1 3zm-3 0zm0-1zm-2 1zm-23-11zm-3 9zm0-1zm-1 1zm-1 2zm-1-3zm-1-4zm-1-2zm-1 7zm-2-5zm-111-3zm-2 1zm-1-1zm-1 0zm0-1zm-1 2zm0-2zm-1 5zm0-5zm-1 1zm0 2zm-1-2zm0 1zm0 2zm-1-1zm0 2zm-1 4zm0-4zm-1 0zm-1 3zm0 2zm-1-2zm0 3zm-1-4zm0 2zm0-1zm-1 2zm0-7zm-2 3zm0 5zm-1-5zm0 4zm0 1zm-1-1zm-1-6zm-2 6zm-5 0zm-1 0zm-2 0zm-2-3zm0 4zm-1-1zm-1 1zm-2-5zm-1 4zm-1 0zm-1-2zm0 2zm0-1zm-1 2zm-3-3zm-1 1zm-1-1zm-1 2zm0-1zm-1 0zm0 2zm-1-3zm0 2zm-1-1zm-1-1zm-2 0zm0 1zm-1-2zm0 2zm-2-4zm0 3zm0-1zm-1 3zm-1-3zm-1-1zm-2 1zm0 4zm0-6zm0-1zm0 2zm-1-2zm0 3zm-1 1zm0 1zm0-3zm-1 1zm0-3zm-2 2zm0 3zm0-6zm0-1zm-1 3zm-1-1zm0 1zm-1-2zm-1 0zm0 2zm-1-1zm-1-2zm-1-2zm0 1zm-1 2zm0 1zm0-4zm-2 6zm0-1zm-2-2zm-1-2zm-1 1zm-3-1zm32 11zm4 1zm1 0zm4-1zm3 0zm0 2zm1-1zm3 1zm0-1zm1 0zm1 1zm1 1zm3-3zm0 1zm2 1zm0 1zm1-3zm1 3zm1-1zm3 2zm0-4zm2 0zm1 0zm0 1zm126 0zm4 4zm5 3zm2 0zm6 3zm1-3zm0-1zm0 2zm1-9zm0 5zm0 2zm1-4zm0 4zm1-1zm0-1zm0 4zm0 2zm1-8zm0 6zm0-7zm1 1zm1 4zm1-3zm0-1zm2 4zm1-2zm0-1zm1 0zm0 5zm1-2zm0-7zm0 4zm3-1zm1-1zm0-1zm0 2zm1-1zm2 2zm4-3zm0 2zm1-3zm2 2zm1-2zm1 0zm12 6zm155-2zm5 2zm1-3zm0 8zm0-9zm1 4zm1-6zm1 7zm2 1zm2-7zm1 6zm9 8zm0 6zm-1-1zm-2-2zm0 5zm-1-5zm-1 2zm-2 3zm-2-8zm0-1zm-1 8zm0-9zm0 2zm-1 0zm0 2zm0 2zm0-1zm0-6zm0 2zm-2 3zm0 1zm0-2zm0-1zm-1 4zm-2-7zm0 3zm-173 2zm-7 6zm-1-6zm-1 5zm-1-5zm0 6zm-1-6zm-2-1zm0 5zm0 1zm-1-9zm0 5zm-1-6zm0 8zm-2 0zm0-1zm-1-6zm-1-1zm-2 3zm0-1zm-1-1zm-1 0zm0-1zm-7 1zm10 13zm6-2zm1 0zm2 1zm2 0zm1-1zm1 3zm0 2zm0 4zm1-5zm0 1zm0-4zm0 9zm0-7zm1 1zm0-1zm1 0zm1 0zm2-3zm0 6zm2 3zm0-7zm0 6zm1 0zm1-1zm176-1zm1 1zm0-7zm2 0zm0 1zm0 3zm1 2zm0 2zm1 0zm1-1zm0 4zm0-7zm1 0zm0 2zm1 3zm1-7zm0-1zm0 4zm1-1zm0 3zm0 4zm5-2zm1 0zm0-1zm1 0zm1 3zm2-9zm3 18zm0-5zm-3-2zm-1 8zm-1-4zm0 5zm-1-5zm0 3zm0 2zm-1-6zm-1-3zm-1 4zm-1 2zm-1 2zm0 2zm-165-3zm-12-1zm0 2zm-4-2zm-3 2zm-2-1zm0-3zm-1 0zm-1-1zm0 2zm0 1zm-1-6zm-1 0zm0 3zm-1-4zm-1 0zm0 6zm-3-6zm-1 4zm-2 0zm16 8zm2 0zm3 3zm0-2zm1 2zm1-3zm1 1zm1 5zm0-5zm1 6zm0-6zm0 2zm1 2zm0-1zm1 2zm0 5zm0-6zm0 2zm1-2zm0-1zm0 4zm0-1zm1 2zm0-3zm1 4zm0-1zm1 1zm0-10zm1 10zm0-9zm0 3zm0 4zm2 0zm0 1zm0 2zm1-2zm0-1zm2-1zm160 4zm1 0zm2-1zm0-2zm0-1zm1-2zm0 4zm0 2zm0-9zm1 2zm0 1zm0-4zm0 2zm1 5zm1-5zm1 5zm0-1zm0 4zm0-11zm2 5zm2 4zm-4 9zm0-1zm-1 6zm-1-11zm-1 3zm0 6zm0-8zm-1 2zm0 4zm-1-6zm0 3zm-1-2zm0-1zm-1 8zm0 2zm0-5zm-1 5zm-1-4zm0 3zm-2 0zm0-2zm-6 3zm-146-7zm-1 4zm0 2zm-1-2zm-1-1zm0-1zm-1 1zm0-4zm-1 2zm0 3zm0 2zm-1-9zm-1 0zm0 6zm-2-6zm6 12zm2 5zm0 5zm1-7zm1-4zm1 5zm2 0zm1-3zm0 3zm0-1zm1 0zm1 4zm0-8zm1 7zm1 4zm0-4zm0 2zm0-1zm1 3zm0-6zm0 5zm3-1zm136-1zm0-1zm1 0zm0 2zm3-4zm0 4zm0-9zm0 2zm1 8zm0-8zm0 2zm2-3zm0 3zm2-3zm2 0zm1 3zm2-3zm-9 12zm-3 5zm-1 2zm-1-5zm0 2zm0 2zm-1 0zm0 2zm0-9zm-1 8zm-1-5zm0 7zm-3-8zm0 7zm-1 2zm-2 0zm-104 0zm-3 0zm-4-7zm-3 6zm0-8zm-1 9zm-1 0zm0-2zm-2 1zm0-5zm0-1zm-1 5zm-2-3zm0-4zm-1 4zm0-4zm-1 5zm-1-5zm-2-1zm0 2zm-2-3zm0 2zm-4 6zm-4-7zm21 11zm0 2zm1-1zm1 6zm2-5zm1 2zm0-1zm0 4zm0-7zm1 6zm0 1zm1-5zm0 4zm1 0zm0-1zm0 6zm1-1zm1-8zm0 2zm1 3zm0 1zm0 2zm1 0zm1-4zm1 0zm1 4zm7 0zm6 0zm1 1zm37 0zm16 0zm9-1zm1 1zm1 0zm2-2zm1 2zm1-2zm0 2zm0-5zm0-1zm1 6zm2-2zm0-1zm2 0zm1 1zm1-2zm2-5zm0 4zm1 2zm0 3zm1-5zm2-1zm0 1zm1 3zm0-4zm2-2zm0-1zm0 2zm1-3zm0 2zm1 1zm2-3zm0 3zm1-2zm2 1zm0-2zm1 0zm-22 12zm-2 1zm-1 2zm-1-2zm-2 0zm0 4zm0-3zm-1-2zm-2-1zm-1 2zm0-1zm-1 6zm-2-4zm-1 1zm-2-1zm-1-2zm-1 3zm0-4zm-1 4zm-1-4zm-1 2zm-1 3zm0-4zm-2 3zm-1-1zm0 2zm0 2zm-1-3zm-1 5zm-1-9zm0 3zm0 4zm-1-5zm0 2zm-2 3zm-1-4zm0 3zm-1 3zm-1-2zm-2 0zm0-1zm-2 0zm0 3zm-4-7zm-1 4zm0-1zm-1-1zm0 4zm-1-3zm-2 4zm-2-2zm0-3zm-1 0zm0 2zm0 2zm-3 1zm-2-4zm0 2zm0-3zm-2 2zm-1 4zm0-2zm-2 2zm-2-5zm0 6zm0-1zm-1 0zm0-10zm0 8zm-1 1zm-1-2zm-1 2zm0 1zm0-6zm-1 5zm-1-3zm0 1zm0 2zm0-7zm-1 0zm0 5zm-1-1zm0 2zm-1 3zm0-9zm-1 6zm-1-2zm0-1zm0 2zm0-7zm-1 3zm-1 2zm0 3zm0-7zm-2 4zm-1 0zm-1-4zm0 5zm-6-5zm45 14zm9-2zm4 0zm22 0z" stroke="#a0522d" stroke-width="4.0" stroke-linecap="round" fill="none"/>
<path transform="scale(.5)" d="M320 1257zm4-8zm0 5zm0 5zm1-3zm1 2zm1-3zm5 2zm3-2zm1-5zm0 9zm1-4zm1-3zm0-3zm1 9zm1 0zm2-5zm-1 11zm0 2zm-6-6zm-3 6zm-3-6zm0 5zm-1-2zm-7 6zm-3-5zm-2 7z" stroke="#a0522d" stroke-width="4.0" stroke-linecap="round" fill="none"/>
<path transform="scale(.5)" d="M335 1281zm12 1zm12 6zm0 6zm-3-7zm-14 1zm-9-4zm-3 11zm-3-10zm-4 1zm-4 0zm-2 2zm0 2zm-17 7zm2 6zm3-5zm4 1zm5 7zm2 1zm1-9zm1 6zm13-6zm12 5zm5-5zm7 1zm14 2zm-5 11zm-3 3zm-13-7zm-9 11zm-2 0zm0-1zm-13-5zm-5-5zm-3 11zm-11-1zm-8 11zm7 2zm10-7zm13-3zm3-1zm4 1zm3 1zm0 2zm0 4zm4 0zm8-8zm6 4zm146 3zm4 3zm3-9zm5 2zm1-1zm3 5zm4-1zm2-1zm1 6zm14 10zm-3-3zm-10 3zm-8 1zm-13-10zm-1 5zm-11 5zm-158-6zm-1 1zm-3-4zm-2 2zm-3 1zm-2-4zm-1 6zm-4 4zm-8-2zm-5-7zm-5 8zm-4-6zm168 20zm3-6zm2-1zm13 7zm5-5zm3 3zm5-4zm4-4zm0 5zm5 3zm8-9zm21 4zm1-4zm6 7zm10 13zm-4 1zm-11 2zm-7 0zm-2-5zm-5-3zm-4 6zm-3 1zm-4-4zm-4 5zm-3-1zm-6-3zm-14-2zm-23 0zm-2 5zm-4-10zm-7 3zm-1 1zm-13 2zm6 17zm20-10zm36-1zm13 8zm20-4zm17 6zm7-2zm2 15zm-12-10zm-3 8zm-12-4zm-2 2zm-4-1zm-29 1zm-10 0zm-6-1zm-3 1zm-9 0zm-1-2zm-3 1zm-1 0zm-12-3zm0 2zm13 17zm5-7zm6-1zm7 9zm22-6zm4-2zm16 7zm26-9zm2 0zm1 10zm2-1zm4-6zm-13 12zm-25-3zm-20 1zm-11 2zm-3 2zm0-5zm-1 2zm-5 7zm-6-3zm0 4zm-1-5zm-2 0zm-1-3zm-5 4zm-2-3zm-6 0zm-2-4zm-17 8zm17 9zm11 6zm4 0zm16-9zm3 9zm1-1zm2-6zm10 6zm1-2zm4-2zm4 4zm0-3zm8-7zm1 6zm19-1zm7 1zm1-3zm-14 12zm-33-1zm-9 9zm-3-5zm-36-4zm0 2zm23 15zm18-6zm11 3zm2 0zm9-4z" stroke="#fff" stroke-width="2.4" stroke-linecap="round" fill="none"/>
<path transform="scale(.5)" d="M320 1149zm-1-3zm-7-2zm-1 7zm5 1zm178 8zm4 21zm48 67zm13 9z" stroke="#a0522d" stroke-width="4.0" stroke-linecap="round" fill="none"/>
<path transform="scale(.5)" d="M329 1244zm0-4zm-2 5zm-4-3zm-3-1zm-4 6zm-12 0zm10 6zm0-1z" stroke="#c0aad2" stroke-width="4.0" stroke-linecap="round" fill="none"/>
<path transform="scale(.5)" d="M423 1352zm-9 60zm11 5z" stroke="#a2c8e0" stroke-width="4.0" stroke-linecap="round" fill="none"/>
<path d="M954.8 548.2L961.1 546.4L968.0 547.9L973.8 549.6L981.3 558.3L990.2 562.1L992.2 564.9L990.3 570.7L988.4 578.2L985.8 584.5L984.6 589.5L982.1 595.6L980.3 598.5L973.8 595.0L969.0 590.2L962.6 583.9L956.4 576.5L951.5 568.9L953.4 560.9L952.2 554.1Z" fill="#e0ae55"/>
<path transform="scale(.5)" d="M1911 1091zm10 0zm2-1zm8 0zm2 1zm28 5zm-6 5zm-1 1zm-1-3zm-3 3zm0-1zm-1-4zm0 4zm-3 0zm0-4zm-1 1zm-1 2zm-1 0zm-1-2zm0-3zm-1 1zm-1 2zm-1-1zm-1 1zm-1 0zm0-3zm-1 4zm-1 2zm-1-5zm0 3zm-1-7zm0 4zm-1 2zm0-2zm-2-2zm-1 4zm-1-6zm-1 4zm-3-1zm-1 1zm-1-4zm-1 0zm-1 4zm0-1zm-2 2zm0-3zm-1 2zm0-1zm-2-2zm0-1zm0 3zm-1-1zm0 3zm-1-1zm0 7zm-1-5zm0-1zm0-2zm-1 1zm0-1zm0-1zm0 4zm-2 5zm0-5zm0 3zm0-6zm-2 2zm-2 5zm-1 1zm-3 4zm1 6zm1-3zm0-3zm1 0zm0-3zm1 9zm0-7zm1 4zm0-6zm0 9zm1-6zm0-2zm0-1zm1 9zm0-6zm1-3zm1 0zm41 0zm0 4zm0-3zm1 1zm1 1zm0-1zm1 4zm0-2zm0-1zm2 4zm0-5zm0-1zm0 4zm1 1zm0-3zm1 4zm0 2zm1 2zm2-3zm0-1zm0 4zm0-5zm2 5zm2-6zm22 18zm-3-2zm-2-2zm0 2zm-3-1zm-2 0zm0-1zm-2-2zm0-1zm0 3zm-1-3zm0 2zm0-1zm-1 2zm0 4zm0-5zm-2-1zm0-5zm-2 4zm-1-2zm0-1zm-1 2zm-1 2zm0-2zm-2-1zm0-1zm-3 1zm-50-2zm-1 8zm-1 2zm0-4zm-1 2zm0-5zm0 4zm0 3zm0-5zm-1 6zm0-1zm0-6zm-1-1zm0 4zm0-7zm-1 11zm0-10zm0 8zm0-1zm-1-4zm0-1zm-1 3zm0 4zm0-6zm-4-3zm0 18zm1-6zm1 5zm0-5zm0-1zm1 11zm0-5zm0 4zm1-6zm1 0zm0 7zm0-10zm1 7zm0-7zm0 9zm0-5zm1 1zm0-5zm0 9zm0-3zm1-6zm2 1zm0-1zm0 9zm64-2zm5-1zm1-3zm1 7zm0-11zm1 8zm0-2zm0-6zm1 10zm0-1zm0-5zm0-2zm0 4zm1-4zm0 7zm1-8zm0 9zm0-5zm0 3zm0-5zm1 2zm0-1zm1-2zm0 8zm0-7zm1 8zm3-1zm23 11zm-4-2zm0-1zm-1 3zm-2-2zm-2 0zm0-2zm-1 6zm0-2zm-1 1zm-1-4zm0-5zm0 3zm-1 7zm-2-4zm0-1zm0-1zm0 3zm-1 1zm0-2zm0 3zm-1-6zm0-3zm0 9zm-1 1zm0-8zm-1 1zm0 2zm-1 5zm0-1zm0-5zm0-2zm-1 7zm0-2zm0-1zm-1 3zm0-2zm-1-1zm0 3zm0-5zm0 4zm-1-3zm-1-1zm0-2zm0 8zm0-1zm-1 0zm-1-8zm0-1zm-1 6zm0-6zm-1 8zm-1 1zm0-5zm0 2zm-1-7zm-1 1zm0-1zm0 4zm0 4zm0-1zm-1-7zm0 2zm-1 5zm0-1zm0 4zm-1 0zm0-10zm0 4zm0 3zm-1-5zm0 9zm0-5zm-1 0zm0 3zm-1 2zm-61-2zm-1-4zm-1-2zm0 4zm-2-2zm0 4zm-1-5zm0 4zm0 1zm-1 0zm0-5zm-1 1zm0 4zm0-5zm0 3zm0-5zm-1-1zm0 4zm0-5zm0 4zm-1-4zm-1 0zm2 13zm5-1zm1 1zm1 0zm1 4zm0-2zm1 0zm0 4zm1-2zm1-4zm1 3zm1 6zm1-7zm0 8zm1-6zm1 5zm0-2zm0 3zm3 0zm43-8zm3 7zm0 1zm1 0zm1 0zm1-2zm1-6zm0 3zm1-6zm0 9zm0-5zm0-1zm0 2zm1-2zm0-2zm1 2zm0 3zm0-5zm0 3zm2-2zm0 3zm16-5zm4 0zm2 3zm2-3zm-23 23zm-3-3zm0-6zm-2 0zm-1 2zm-1-3zm0 2zm-1 2zm0-5zm0 7zm0 3zm-2-7zm0 4zm0-2zm0 3zm-1 2zm0-5zm0-1zm0 7zm0-5zm-1-3zm0 1zm-1-2zm0 9zm-1-3zm-1 1zm-25 0zm-4 2zm-3-1zm-2 0zm0-1zm-1 1zm0-1zm-1 2zm0-5zm0 3zm-1-2zm-1 0zm0 4zm-1-9zm-1 3zm0 4zm0-5zm0-3zm-1 6zm0-6zm-2 3zm0 1zm-1-2zm-1-2zm-1 1zm-1-2zm-1 1zm13 11zm1 0zm1 2zm0 4zm1-4zm1-1zm1 4zm0-5zm0 2zm1 7zm0-5zm1 3zm0-5zm1 3zm0 4zm0-1zm0-6zm0 4zm0-5zm1 1zm0 7zm0-1zm1 0zm0-5zm1 1zm0-1zm1 8zm0-1zm0-1zm0-1zm1 1zm1-1zm1 1zm17 2zm3-2zm0-1zm0 3zm1-9zm0 4zm0-3zm1 5zm0-6zm1 9zm1-10zm1-1zm1 4zm1 7zm0-6zm0-5zm2 3zm24 17zm-9 2zm-24-7zm-1-1zm-1-2zm-1 4zm0 4zm-1-3zm0-2zm-2-1zm0-2zm-1 7zm-1-1zm-1 2zm-1 0zm0-2zm-1-1zm0 3zm-1-1zm0-6zm-1 2zm0-1zm-2-2zm0 4zm-2-2zm0 4zm-2-5zm0 2zm-3-3zm-1 0zm0 1zm20 15z" stroke="#e0ae55" stroke-width="3.8" stroke-linecap="round" fill="none"/>
<path transform="scale(.5)" d="M1936 1152zm5 5zm2-1zm0 6zm5-6zm3-2zm1 7zm3 2zm1-5zm1-5zm1 8zm5-6zm-1 9zm-11 6zm-2 2zm-1-3zm-1 1zm-2-4zm0 9zm-2-7zm-1-3zm-1 8z" stroke="#fff" stroke-width="2.4" stroke-linecap="round" fill="none"/>
<path d="M1194.2 562.4L1201.0 559.3L1208.7 555.1L1216.0 554.5L1224.0 557.4L1229.7 562.0L1233.3 570.4L1235.7 580.1L1235.1 590.0L1235.8 597.1L1234.6 598.6L1231.2 597.0L1228.2 593.4L1223.1 589.9L1217.0 589.9L1211.4 592.6L1206.3 596.4L1198.9 601.3L1191.7 604.9L1188.4 606.3L1188.7 605.2L1193.0 597.9L1194.3 588.7L1191.8 579.0L1196.8 571.4Z" fill="#a84c44"/>
<path transform="scale(.5)" d="M2401 1115zm1 0zm4-2zm1-1zm1 3zm0-5zm2 5zm1-4zm0-1zm1 3zm0-1zm1-1zm0-2zm0 3zm1 0zm0-3zm1-1zm0 3zm0-1zm1 1zm0-1zm2 2zm1-6zm3 2zm0 3zm1-4zm0 4zm2 0zm1-5zm0 4zm0 1zm1-2zm1-1zm1 1zm0-1zm1 4zm0-5zm0 4zm1-4zm1 2zm0 3zm0-5zm1 1zm0 2zm0 4zm1-4zm3 4zm1 1zm1-3zm0-1zm1 1zm0-1zm1 0zm0 4zm0-2zm2 1zm1-1zm1 0zm2 1zm3 1zm0-1zm14 10zm-1 2zm0-1zm-2-1zm-2 0zm-1-2zm0-1zm-1-1zm0 2zm0 4zm0-5zm0 4zm-2-2zm0-5zm-2 0zm0-1zm0 4zm-1-5zm-1 4zm0-1zm0 3zm-1-5zm0-1zm-2 2zm0-2zm-2 1zm-13-1zm-16 0zm-2 2zm-5-2zm-5 4zm0-1zm0-1zm0-1zm-1 1zm-1 3zm0-1zm0-1zm-4-2zm-1 4zm0-2zm-1 1zm-1 1zm-1-4zm0 2zm-1 4zm0-2zm-1 2zm0-5zm0 9zm0-5zm0 2zm-1-3zm0-2zm-1 5zm0-1zm0-1zm-1 2zm-1 2zm0-2zm-3-1zm0 3zm-1 4zm1 0zm2-2zm1 7zm1 2zm0-5zm0 4zm0-1zm0 4zm0-11zm1 10zm0-10zm0 4zm1-4zm0 8zm1 1zm0-2zm0 4zm0-5zm0-6zm1 0zm0 8zm64-7zm0-1zm2 1zm0 3zm0-1zm2 3zm0-1zm0 4zm0-7zm1 6zm0 2zm0-6zm1 1zm2-2zm2 5zm3 3zm1 6zm-2 6zm0-1zm0-1zm0-5zm-1 6zm0-7zm0-1zm0 9zm-1-8zm0-2zm0 9zm0-5zm-1 1zm0-5zm0 8zm-1-9zm0 4zm-1 3zm0-5zm0 8zm0-1zm-1-5zm-1-4zm0 4zm0 2zm-67-1zm-1 0zm0 1zm-1 1zm-1-7zm0 3zm-1 6zm0-1zm0-6zm0-1zm-2 7zm-1 1zm0-1zm0-6zm-3 6zm0 1zm-2-8zm-5 13zm0 8zm1-5zm1-3zm1 2zm1 2zm1 5zm0-11zm0 7zm1-7zm1 6zm0-6zm0 4zm0 3zm1-5zm0-1zm0 7zm0-5zm2-2zm77-1zm0 9zm2-2zm0-5zm1 1zm0-3zm0 4zm0 4zm2-2zm0 3zm1-6zm0-1zm1-1zm0 4zm2 3zm0 2zm0 2zm-1 0zm0 8zm-1-5zm0 6zm0-5zm-1 2zm0-5zm0 4zm0 3zm0-5zm-1-1zm0 4zm-1-1zm0-1zm0 4zm0-1zm-1-7zm-1 3zm0-2zm-3 9zm-75-6zm0-2zm-1 5zm0-2zm0-5zm-1 11zm0-1zm0-1zm0-5zm-1 4zm0-5zm0-2zm0-1zm-1 9zm0-5zm-1-2zm0 4zm0-1zm0 4zm0-6zm-1-3zm-2 1zm0 7zm0-5zm1 20zm1-1zm0-3zm0-5zm2-2zm0 4zm0-3zm1 5zm0-5zm0 7zm0-5zm0 4zm1 1zm0-1zm0-1zm0-1zm1-3zm0 2zm1 6zm0-5zm0-2zm4-1zm24 9zm1-3zm2 2zm1-1zm1 2zm1-2zm0-1zm0-1zm1 2zm0-2zm1-3zm1 5zm0-1zm0-1zm0-1zm3 0zm0-1zm1-3zm0 4zm2-4zm2 2zm0-2zm1-2zm0 2zm1 0zm1 0zm0 4zm1-1zm3 0zm0-1zm1-3zm1 4zm0-1zm1-3zm0 3zm1 1zm0-2zm1-2zm0 4zm1 3zm0-4zm2 6zm0-6zm1 2zm0 3zm2-1zm0 1zm1-4zm2 3zm1 1zm1 2zm1 0zm8 0zm1-10zm1 0zm0 7zm1-1zm0-6zm0 9zm0-10zm0 9zm1-9zm0 8zm0-7zm1 0zm1-1zm0 9zm0-6zm0 4zm0 3zm1-7zm0 8zm-1 3zm0 4zm0-5zm0 9zm0-10zm-1 1zm0 7zm0-5zm-1 0zm0 4zm0-6zm0 9zm-1 0zm0-7zm-1 3zm-1 2zm0-2zm-1-3zm-1 3zm0 4zm-1-1zm-1-2zm0-1zm-1 1zm-1-5zm-2 0zm-2-2zm-3 1zm-3-1zm-1 1zm-26-1zm-2 0zm-1 3zm0-1zm-1-2zm-2 2zm-2-2zm-2 2zm-1 2zm-1 1zm-1-1zm0-1zm0 4zm0-5zm-1 6zm0 1zm-1-4zm-1-1zm0 7zm-1-7zm-1 5zm-1-2zm-1 2zm-1 2zm-1-1zm-2-2zm0 3zm-7 0zm-5-2zm0-5zm-1 1zm0-1zm0-1zm0-1zm-1 6zm0-5zm0 2zm-1 4zm0-1zm-1 2zm0-5zm0-1zm-1 2zm0-1zm-1 6zm0-1zm0-2zm-7 13zm1 2zm0-5zm0-2zm1 5zm1 1zm1-8zm0 9zm0-1zm1-9zm1 7zm0-5zm1 2zm1-4zm0 9zm0-10zm0 9zm1-3zm0-5zm0-1zm1 1zm0-1zm1 6zm0 4zm2-1zm0-3zm2-1zm0-1zm1 2zm2 2zm0-4zm1-2zm1 0zm1 0zm1 0zm0-1zm1 0zm0 3zm3-4zm1 0zm1 3zm2-3zm3 0zm58 0zm-79 13zm-5-1zm-2 2zm-1-1zm-2 0zm0-1zm-1 0zm0 3zm0-2z" stroke="#a84c44" stroke-width="3.8" stroke-linecap="round" fill="none"/>
<path transform="scale(.5)" d="M2437 1158zm5 4zm2 1zm1 0zm8-2zm0 2zm11 9zm-1-3zm-3 2zm0 4zm-2-1zm-1 1zm-1-3zm-2-1zm0-7zm-2 10zm0-10zm0 6zm-1-2zm0 2zm0 2zm0-7zm0 2zm-1 3zm0 4zm0-5zm-1-5zm0 11zm-1 0zm-1-10zm0 9zm0-3zm0-3zm-2 1zm0 2zm-1 4zm-1-3zm0-7zm0 2zm0 2zm0-5zm0 11zm-1-7zm0-3zm0-1zm-1 5zm0-5zm0 2zm0 4zm0 2zm0 2zm-1-6zm0-1zm0 4zm0 2zm-1-8zm0 4zm0 2zm0-7zm0 2zm-1 9zm-1-6zm-1 2zm0-3zm0-1zm-1 2zm0 4zm-1-2zm0 2zm0-5zm0 2zm-1 0zm0-1zm0 2zm-1 2zm0 2zm0-1zm-1-7zm-5 6zm-2 1zm-7 7zm1 2zm1-4zm2 7zm2-2zm0-1zm3 2zm1-8zm0 2zm0 2zm1-4zm1 4zm1-4zm4 1zm1 0zm3 0zm1-2zm0 2zm1 0zm1 0zm3-1zm0 2zm1-3zm3 2zm2 2zm1 7zm1-7zm3 3zm1-6zm0 9zm0-5zm5 2z" stroke="#fff" stroke-width="2.6" stroke-linecap="round" fill="none"/>
<path transform="scale(.5)" d="M2230 1319zm-2 0zm-16 0zm-4 0zm-17 9zm2-4zm0 2zm0 2zm1-6zm0 9zm0-6zm1-2zm0 6zm2 2zm1-3zm0-8zm0 2zm0 9zm1-9zm0 2zm1 7zm1-4zm2-2zm0 6zm0-7zm1 2zm0-1zm0-5zm0 2zm1 5zm0-5zm0 2zm0 2zm1-5zm0 6zm1 4zm0-1zm1-3zm0-1zm1 1zm0-4zm0 2zm2-2zm1 0zm2 5zm1-2zm1-1zm0 2zm0-7zm0 9zm0-5zm2-3zm1 4zm1 0zm0-5zm1 8zm1 2zm1 0zm0-3zm0 2zm1-7zm0-1zm0 2zm2 2zm0-5zm1 6zm1 0zm0-5zm1 2zm1-3zm2 2zm1 0zm0 6zm8 11zm-4 4zm-1-10zm-8 0zm-1-1zm-1 8zm-5 1zm-3-9zm0 9zm-1-9zm-5 10zm-3-10zm-1 5zm0 2zm-2 0zm-1 3zm-5-8zm-1 3zm0-4zm-1 0zm0 2zm-1 8zm-2-2zm0-1zm-1-3zm-2-3zm-1 1zm-1 4zm-1-4zm-2 8zm-1-3zm-2 0zm-1-6zm0 2zm-2 2zm0 1zm23 12zm1 1zm2-8zm2 10zm4 0zm2 0zm9-7zm0-3zm1 10zm0-9zm4 2zm2 5zm4 0zm1 0zm1-4zm-1 15zm-1-1zm-3-2zm0 4zm-1 1zm-16-8zm-8 6zm0-3zm-2-3zm-7 0zm5 20zm14-4zm5 1zm3-3zm0-3zm2 4zm2-4zm-12 13zm-6 3z" stroke="#8e94d8" stroke-width="3.8" stroke-linecap="round" fill="none"/>
<path transform="scale(.5)" d="M2126 1185zm21 0zm3-4zm9 10zm-1 7zm-1-1zm0 1zm-2 0zm-1 0zm-1-1zm0-2zm-1-4zm0 6zm-1-6zm0 4zm-1-2zm-2 0zm0 6zm0-1zm0-8zm-1 5zm0 1zm0-7zm-1 6zm0-6zm-1 3zm-1 0zm0 7zm0-1zm-1-9zm0 8zm0 2zm-1-1zm0-4zm0-1zm-1 0zm0 4zm-1 0zm0 2zm0-5zm0 2zm0-1zm-2 0zm0 3zm-3 1zm-6 2zm2 2zm2 4zm1-1zm0-5zm0 3zm0 1zm1 3zm1-4zm0 3zm1 4zm1-3zm1 3zm0-3zm1-1zm0-6zm0 5zm0-1zm1-4zm0 5zm1 5zm0-8zm0 3zm0 3zm1-3zm0-1zm0 5zm1-10zm0 3zm0 3zm0 1zm0 2zm1-4zm1 1zm0 2zm0-8zm1 8zm1-5zm0 2zm0 5zm0-10zm1 11zm0-9zm1 8zm0-8zm0-1zm0 3zm1-4zm0 1zm0 4zm1 3zm0 2zm1-10zm1 9zm0 1zm1-4zm0 3zm1-8zm0 1zm0 2zm0 4zm1-8zm0 1zm0 2zm0 3zm1-5zm0 2zm0 4zm0 2zm1 2zm0-10zm0 2zm1 2zm4-5zm2 8zm0 1zm10-2zm15-6zm27 8zm23 1zm25 5zm-9 5zm-2 1zm-4 2zm-3-1zm0 1zm-1-2zm-1 0zm-2 2zm-2 0zm-1 0zm0-5zm-2 1zm0 3zm-1-1zm0-3zm-1 2zm-1-1zm0 4zm0-8zm-1 5zm0 2zm-1 0zm0-5zm-1 3zm0 3zm-1-5zm0 2zm-1-4zm-1 2zm0 2zm-1 3zm-1-5zm-1 3zm-1 0zm-1 1zm-1-4zm-1 5zm0-7zm0 2zm-1 1zm-1 3zm-1 0zm-2-2zm-1 2zm-1 0zm-7 1zm-4-6zm-14 4zm0-1zm0 2zm-1-1zm-1 1zm-3 1zm0-5zm-1 5zm-1-1zm-2-3zm-2 1zm-1-6zm0 9zm-1-4zm-1 4zm-1-4zm0 2zm0 2zm-1-1zm-1-2zm-1-2zm-1 3zm-1-1zm0 3zm0-4zm-1 2zm-1-2zm0-2zm-1 1zm0 1zm0 2zm-1-4zm0 5zm-1-3zm0 3zm0-1zm-1-3zm0 1zm-1-3zm0 2zm0 4zm-1-7zm0 2zm0 2zm0-7zm-2 11zm-3-7zm-1-3zm0 1zm0 2zm0 1zm-1-5zm0 6zm-1-4zm0 2zm0 1zm-1 1zm-1-4zm0 1zm-1 8zm0-11zm0 6zm0-1zm-1 0zm0-1zm-1 3zm0 4zm0-10zm0 2zm0 3zm-1-2zm0 1zm0-4zm-1 2zm0 3zm0-5zm-1 1zm-1 4zm0-4zm-1 1zm0 6zm0 1zm-1 1zm0-6zm-1-2zm0 3zm0 1zm-1 2zm0 2zm0-10zm0 1zm0 5zm-1-1zm0-1zm-1 3zm0 2zm0-6zm-1 5zm0-8zm0 3zm-1-2zm0 3zm-5-5zm-2 0zm-7 5zm10 16zm2-2zm1-2zm0 3zm1 3zm1-8zm0-1zm1-1zm0 3zm1 2zm1-6zm1 1zm0-1zm1 0zm1 0zm3 0zm3 0zm12 1zm6-1zm1 3zm1-2zm0 1zm1-2zm1 10zm0-10zm4 1zm1 1zm0 1zm0-2zm1-1zm0 3zm0-2zm1 2zm0-1zm0 2zm1-2zm0-2zm0 3zm2-3zm0 3zm1-2zm1 3zm0-3zm1 4zm0 2zm0-4zm1 1zm0 1zm1-5zm0 4zm0 3zm1 3zm0-10zm0 4zm1-4zm1 1zm0 2zm1 0zm0-1zm2 0zm0 3zm1-3zm1 1zm0 1zm0 2zm3-4zm1 3zm0 2zm0 2zm0-5zm1 2zm0-1zm0-4zm0 2zm1 7zm0-1zm0-7zm0 3zm1 2zm0-5zm0 3zm0-1zm1 0zm0 2zm0-4zm0 3zm1 4zm0-8zm1 6zm0-1zm1-1zm0 3zm0-1zm0 3zm1-3zm0 2zm0-6zm0 2zm0-1zm1-1zm0 3zm0 2zm1 1zm0-8zm0 2zm0-1zm0 3zm1 3zm1-5zm0-2zm1 9zm1-8zm0 3zm0-1zm0 2zm0 2zm0-1zm0 3zm0-10zm0 3zm1 1zm0 4zm0-8zm0 9zm0-8zm1 2zm1 2zm0 5zm0-1zm1-1zm0 2zm0-1zm0-9zm0 3zm1 6zm0 2zm0-10zm0 2zm1 8zm1-1zm0-1zm0-8zm0-1zm0 3zm0 3zm0-1zm0 2zm1-6zm0 1zm1 7zm0-8zm0 4zm1 2zm0 4zm0-10zm1 7zm0-1zm0-3zm1 3zm0-6zm1 10zm0-10zm0 4zm0-1zm1-4zm0 2zm0 2zm0 7zm1-7zm0 2zm0 4zm0-1zm1 2zm0-6zm0-1zm0 2zm1 0zm0 2zm0 1zm0 2zm0-10zm1 3zm0 3zm0-1zm0 4zm0-1zm1 2zm1-7zm0-3zm1 6zm0 4zm0-8zm0-1zm1 2zm0-1zm1 5zm0 2zm0-9zm1 10zm0-9zm0 2zm1 7zm1-4zm1-2zm1 2zm0 3zm0-1zm1-9zm0 4zm0 2zm0 1zm1-5zm0 2zm0 2zm1-3zm0-1zm0 3zm0 2zm0 2zm0 2zm1-9zm0 6zm1-3zm0 2zm0-6zm0 1zm1 1zm0-3zm0 9zm1-6zm0 1zm0 5zm0-9zm1 11zm0-8zm1 4zm0-1zm0-5zm0 2zm1 5zm0 2zm1-1zm1-2zm0 1zm13 9zm-4-2zm-2 1zm-5 1zm0 1zm0-4zm0 2zm0-1zm-1 5zm0 2zm0-10zm0 9zm0-4zm0-1zm-1 4zm-1-1zm0-1zm0 2zm0-6zm0 9zm-1-2zm0-7zm-1 7zm-2-1zm-1 3zm-1-2zm0-9zm-1 9zm0-7zm0 6zm0 2zm-1-2zm0 2zm-1-10zm0 1zm0 4zm0-1zm-1 7zm-1 0zm0-5zm0 2zm-1 0zm0-8zm0 11zm0-8zm-1 7zm0 1zm0-10zm0 1zm0 5zm-1-7zm0 9zm0-8zm0 4zm-1 3zm0 1zm0-7zm-1 3zm0 2zm0 3zm0-1zm-1-3zm0 3zm0-7zm-1 7zm0-8zm0 1zm-1 4zm0 1zm0 4zm0-10zm-1 5zm0 2zm0-3zm-1-2zm0 1zm0 3zm0 1zm0 2zm-1-2zm0 1zm-1 2zm-1-1zm-1-9zm0 1zm-3 6zm0 1zm0-3zm-1 5zm0-4zm-1 4zm0-9zm0 3zm0 1zm-1 3zm0-7zm0 3zm-1-4zm0 4zm-1 0zm0 2zm0-7zm-1 3zm-1 2zm0 4zm-1-3zm0 1zm-1 0zm-1-6zm0 2zm0 3zm0 4zm-1-7zm0-1zm0 2zm0-3zm-1 10zm-1-10zm0-1zm0 8zm-1 2zm0 1zm0-9zm0 3zm-1-5zm0 11zm0-6zm-1 1zm-1-3zm-1 6zm-1-3zm0-3zm-14 3zm-3 0zm-14-6zm-37 0zm-2 1zm-1 2zm0-1zm0 4zm-2 2zm0-8zm0 2zm0 1zm-1 0zm0 1zm0-3zm-1 5zm0-1zm0 4zm-1 1zm0-4zm0-1zm0 4zm-1-3zm-20 15zm1-1zm1 2zm1 0zm2-10zm2 11zm6-8zm1-1zm4 2zm0 2zm1 1zm0 2zm0-6zm0 1zm0 2zm1-6zm0 2zm0 7zm1 2zm0-5zm0 3zm1-9zm0 7zm1-6zm0 1zm0 5zm1 4zm77-9zm1-2zm1 10zm2-4zm1 5zm0-8zm0 1zm0 2zm0-6zm1 5zm0-1zm0 7zm0-8zm1 0zm0 2zm0-1zm0 3zm0-7zm1 2zm0 5zm0 1zm1-3zm0 1zm0-6zm0 1zm1 6zm0 1zm0-7zm1 6zm0-6zm0 2zm0-1zm1 4zm0 4zm0-10zm1 10zm0-3zm1-1zm0 2zm0-8zm0 5zm1 6zm1-2zm0-8zm0-1zm0 7zm1 4zm0-10zm0 3zm1-3zm0 3zm0 2zm1 3zm0-7zm0 4zm0 2zm0 2zm0-10zm1 9zm0 2zm0-6zm0 1zm1-4zm0 5zm0-1zm0 2zm1-8zm0 2zm0 1zm1 2zm0 3zm0-8zm0 1zm1 5zm1-1zm0 4zm0-8zm0 2zm1 2zm0-1zm0 2zm0-6zm0 11zm1-8zm0 3zm0 4zm0-8zm1-2zm0 4zm0 3zm1-7zm0 11zm1-11zm0 9zm0-7zm1-2zm0 11zm1-8zm0 2zm1-5zm0 9zm0 2zm0-7zm0 2zm1 0zm0-5zm1 6zm0 1zm1-6zm0 3zm1-4zm0-1zm1 1zm0 4zm0-1zm0-4zm1 2zm0 2zm0 5zm1-7zm1 1zm0-3zm0 11zm1-10zm1 0zm9 11zm-2 8zm-8 1zm-1-8zm-1 9zm-1 0zm0-10zm0 4zm0 2zm0 3zm-1-9zm0 5zm0 6zm-1-9zm0 3zm0 4zm0 2zm-1-6zm0-1zm0 3zm-1-3zm-1 2zm0-6zm0 1zm0 2zm0 2zm-1 3zm0-5zm-1 0zm-1 8zm0-10zm-1 7zm0 2zm0-5zm-1 4zm0 2zm0-8zm-1 3zm0 5zm-1-6zm0-3zm-1 3zm0-5zm0 11zm0-10zm-1-1zm0 2zm-1 4zm0-6zm-1 0zm-1 2zm-1-2zm0 5zm0 3zm-1-8zm0 11zm-1 0zm-2-2zm-1-2zm0-6zm0 1zm-2 9zm-1 0zm0-8zm-1 5zm0-8zm0 1zm0 1zm-1 9zm0-10zm0 3zm-1-3zm0 6zm0 4zm-1-7zm0 4zm-1-7zm-1 1zm-2 0zm0 2zm-2 7zm-2-3zm0-5zm0 2zm-1-5zm-1 9zm0-4zm-2-3zm-1-2zm-1 5zm-2 0zm-66-4zm-1 8zm0 2zm-1-1zm-1-1zm-1-2zm0-5zm-1 0zm0 4zm0 2zm0-1zm-1-7zm0 3zm0 1zm0 1zm-1-5zm-1 7zm-2-3zm-1 6zm-12-10zm-4 0zm22 15zm1 1zm2 1zm2-5zm0 3zm2 1zm62-3zm5 1zm1 9zm0-10zm0 4zm1 3zm2-2zm0 2zm0-8zm1 10zm1-1zm0-6zm2 0zm0 1zm0 4zm1-5zm1 3zm1 1zm0 2zm1-1zm1 3zm0-5zm0 3zm1-5zm0 3zm0-1zm0 3zm0-9zm1 0zm1 8zm1-8zm0 2zm0 9zm0-8zm0 2zm0-1zm3 4zm0 2zm1-4zm0 3zm1-6zm0 1zm1 0zm1 3zm1-2zm1-5zm1 8zm2-6zm0 9zm2-2zm1-9zm0 1zm1 9zm1 0zm0-10zm1 0zm1 7zm1-2zm2 3zm1-7zm1 0zm0 5zm1-5zm0 3zm1-3zm0 3zm1 1zm1-2zm2 2zm1 0zm0-4zm1 3zm0 7zm0-8zm1 4zm0 1zm1-1zm1-1zm0 2zm1 0zm0 3zm0-2zm3-6zm7 5zm21 15zm-1 0zm-2-4zm-1 3zm-5-1zm0 2zm-1-7zm-1 3zm-1 4zm-2-4zm0-4zm-1 3zm0 3zm-1-3zm0 3zm-1-3zm0 3zm0-5zm-1 5zm-1-1zm-2-3zm0 4zm-1-6zm0 4zm-1 1zm-1-5zm-1-1zm0 2zm0-1zm-1 0zm0 1zm-1-3zm-1-1zm0 2zm0-1zm-1 3zm-5-2zm-5 2zm-7 3zm0-3zm-1-4zm0 1zm0 2zm-1 6zm0-6zm-1 0zm0 4zm0 2zm0-9zm-2 5zm0 3zm0-8zm0 2zm0 9zm-1-10zm-3 4zm0-5zm-1 5zm-1 2zm0 2zm0 1zm-1-10zm-1 1zm0 4zm-1 1zm-1 4zm0-10zm0 2zm-1 4zm-1-2zm0-1zm-1 2zm-1 1zm0 3zm-1-4zm0 4zm-1-4zm0-1zm0 4zm0 2zm-1-3zm0-1zm-1 3zm0 2zm-1-2zm0-1zm-1-6zm0 7zm-1 2zm-1-8zm0 5zm-1-2zm-1 0zm-2-6zm0 11zm0-6zm-1 6zm0-10zm0 5zm-1-6zm0 2zm0-1zm-1 3zm-1 4zm0-7zm0 4zm-1 2zm-1 0zm0-1zm-1-4zm0 5zm-1 2zm-1 1zm0-10zm0 5zm-8-3zm1 11zm6 1zm4 2zm0 5zm1-1zm0-6zm0-1zm1 4zm2 0zm1 1zm0 5zm0-10zm1 10zm1-2zm0-7zm0 5zm1-7zm1 1zm0 2zm2 2zm0 1zm1 3zm1-9zm0 1zm0 5zm1-3zm0-2zm1-1zm1 7zm0-6zm1 2zm0 2zm0 4zm0 1zm1-7zm0 8zm0-9zm1 2zm0-3zm0 2zm2-3zm0 11zm1-3zm0-4zm1 2zm0 2zm1 3zm1-2zm1-8zm0 2zm1 8zm2-8zm1-1zm1 6zm1-1zm1-5zm1 2zm0 1zm0 1zm0 5zm0-11zm3 6zm2-3zm16 0zm2-2zm11 0zm2 4zm0-4zm0-1zm1 1zm1-1zm0 2zm1-1zm1-1zm1 0zm1 2zm1-1zm0 2zm2-3zm0 5zm2-4zm0 1zm3 2zm0-1zm0 3zm1-2zm1 5zm0-5zm1 2zm1 3zm1-2zm2-1zm1 0zm0 1zm0 4zm3 0zm1-4zm0 2zm1-3zm3 4zm3-1zm0 2zm1-2zm0 1zm2-1zm1 2zm2 0zm0-2zm2 1zm3 1zm1-1zm1 1zm0 2zm-4-1zm0 2zm-1 0zm0-1zm-1-1zm-1 1zm-1-1zm0 2zm-1-1zm0-1zm0 2zm-1-1zm0 3zm-1-4zm-1 1zm0 2zm-2-2zm0 1zm-1 0zm0-1zm-1 0zm-7-1zm-57 5zm-5-4zm-3 1zm0-1zm0 7zm-1-2zm-1-2zm-1 1zm-1-1zm-2 0zm-1 7zm0-1zm0-8zm-4 5zm0-5zm-1 1zm0 3zm0 2zm-1-6zm0 5zm0-1zm0 2zm-3 2zm-1-10zm0 1zm0 2zm-2-1zm0 5zm0 1zm-1-4zm-1 2zm0 2zm0 3zm0-7zm-1 1zm0 5zm0-9zm-1 6zm0 2zm0 1zm0-8zm0 9zm-1-4zm-1-3zm0 2zm0-1zm0-3zm-1 2zm0 3zm0-1zm-1-1zm0 1zm0 2zm0 3zm-1-5zm-1 4zm0-1zm-3-2zm0 2zm-1-1zm-9 8zm1-2zm4 0zm1 0zm5-2zm2 1zm2 0zm0 2zm3 0zm1-2zm4-1zm2 1zm1 0zm1-1zm3 0zm1 2zm0 1zm1-3zm1 0zm2 0zm1 3zm1-3zm2 2zm9-2z" stroke="#6f3a66" stroke-width="3.8" stroke-linecap="round" fill="none"/>
<path d="M909.9 707.0L917.3 702.0L928.8 694.5L940.2 687.0L947.8 683.3L950.8 687.9L960.0 695.7L971.9 701.0L977.4 701.6L973.7 706.1L966.1 714.2L959.8 721.7L951.6 727.6L943.5 726.4L931.0 723.9L921.1 719.0L913.8 713.0Z" fill="#a9c46a"/>
<path d="M975.6 684.5L977.7 667.9L983.9 655.7L996.4 649.6L1005.4 645.1L1014.2 649.1L1021.3 655.3L1019.6 663.3L1016.1 673.6L1007.7 681.8L999.3 688.1L991.1 693.2L983.3 694.6L977.6 690.8Z" fill="#d89ad0"/>
<path transform="scale(.5)" d="M2063 1364zm-29-7zm-7 5zm-7 2zm-3 2zm-64 1zm-2-2zm-1-3zm0 3zm-1 2zm0-5zm-1 4zm-2-2zm0-5zm-1 0zm-1 2zm-1 3zm-6 1zm-1 0zm-2-2zm-2 0zm-3 1zm-1 3zm-1-5zm-1-1zm0-1zm-5 3zm-1 0zm0 4zm-7-2zm-3 2zm-3-5zm-1 3zm-1 0zm-1-3zm-2 3zm0-2zm-5 1zm-1 0zm0 3zm0-1zm0-1zm-1-1zm0 3zm-1-1zm-1 0zm-1-2zm-29 14zm2-6zm5 7zm1 0zm3-2zm0-1zm1 3zm0-2zm1 1zm1-6zm0 4zm1-1zm1-7zm0 10zm1-3zm1 0zm0 3zm1-4zm2 0zm1-2zm0-1zm1-1zm0 3zm0-1zm1-2zm0 3zm2-3zm0 1zm1-3zm0 3zm0 8zm2-11zm1 0zm2 6zm0-2zm1 0zm1-3zm0 3zm0 4zm1-6zm0-2zm1 2zm1 6zm0-1zm0-2zm0-1zm1-4zm0 4zm0 6zm1-1zm0-5zm0 3zm0-5zm1 8zm0-1zm0-5zm1 7zm0-5zm1 1zm0-5zm0 4zm1-3zm0 8zm0-3zm1-3zm1 4zm1-4zm0 3zm0-5zm1 8zm3-10zm3 4zm1-1zm0-3zm0 4zm1-2zm2 2zm0 4zm1-1zm1-3zm1 5zm0-2zm0 3zm1 0zm1 0zm2-5zm0-6zm0 4zm0 4zm1-8zm1 5zm0 4zm0-5zm0 3zm1-1zm0-3zm1-3zm0 10zm4-10zm2 5zm0 4zm2-2zm0-2zm2-1zm1 3zm0-1zm2 4zm1-5zm1-3zm0 7zm1-6zm0-1zm1 3zm0-5zm0 4zm0 4zm0-1zm1 2zm1-1zm0-1zm0-6zm0 9zm1-9zm0-1zm0 9zm0-6zm0 4zm0-5zm0 9zm1-5zm0-6zm0 9zm0-6zm1 7zm0-5zm0 2zm0-1zm1-5zm0 4zm0 4zm1-5zm0-1zm0-2zm1 3zm0 7zm1-3zm6 2zm25-1zm5-2zm1 3zm6-1zm17-9zm8 4zm8 4zm13 2zm4-6zm2-3zm2 9zm14-5zm-31 12zm-19-1zm-18 7zm-6-11zm-5 1zm-1 10zm0-2zm-3-2zm-2-7zm0 3zm-3-1zm-1 2zm-1-2zm0 3zm-1-2zm0-1zm-3 8zm-3 1zm-1-1zm-1-4zm0 3zm0-1zm-1-4zm0-2zm0-1zm-1 10zm-1-8zm-1 3zm-1-4zm-1 8zm0-5zm-1 4zm0 2zm0-10zm0 9zm-1-8zm0 9zm0-8zm-1 1zm0 3zm0 4zm-1-9zm0 3zm-1-3zm0 9zm0-8zm-1-3zm0 11zm0-5zm0-5zm0 4zm-1 6zm0-5zm0 3zm0-6zm-1 7zm0-5zm0-1zm0-2zm-1-2zm0 7zm0-1zm0 4zm-1-4zm0-5zm0 4zm0 4zm0-5zm-2 2zm0-6zm0 8zm-1-8zm-1 4zm0 3zm0-5zm0-1zm-1 5zm0 3zm-2-9zm-1 2zm0 2zm0 4zm-1-4zm0 7zm-1-9zm-1 6zm-2 3zm0-7zm-1-3zm0-1zm-1 10zm0-3zm0-6zm-1 1zm0 7zm-1-7zm-1 1zm-1 8zm0-3zm-1-7zm-1 2zm-2 6zm0-1zm0-6zm0 4zm-1-4zm0 4zm0-1zm0-5zm-1 10zm0-10zm0 9zm0-6zm-2 8zm0-5zm0-3zm-1-2zm-1 8zm-1 2zm0-11zm-3 9zm0-2zm-1-2zm0 4zm0 2zm0-1zm-1-9zm0 2zm-1 3zm0-1zm-1 3zm0-1zm0 4zm0-1zm-1-5zm-1 3zm0-1zm0-6zm-1 7zm0-3zm-1 2zm-1 0zm0-5zm0 4zm-1-2zm0-1zm-1-2zm0 3zm-1 0zm0-1zm0-1zm-1 1zm-1-1zm0 4zm-1-2zm0-1zm-1-3zm-4 0zm0 11zm-1-9zm-22-2zm-1 0zm-1 2zm-2 2zm0-3zm-2 3zm-1-4zm0 2zm-1 1zm0-1zm0-1zm0-1zm0 4zm-1 1zm0-2zm0-1zm0 4zm-1-4zm-2 1zm-1-1zm0 7zm0-5zm-1 1zm-3 1zm0 3zm-1-2zm0-1zm-1 1zm0 3zm-1 0zm-1-3zm-1 4zm0-1zm0-1zm0-1zm-2-1zm-1 1zm-4 2zm-17 13zm5-3zm2 2zm1-6zm1 4zm1 2zm1-1zm0-7zm0 9zm1-4zm0-1zm1-1zm1 0zm0 3zm1 0zm0 1zm0-5zm1 1zm0-5zm0 3zm0-1zm1 4zm0-3zm1-1zm2 4zm0-5zm1 2zm2-1zm0-1zm0 3zm1-1zm1-3zm1 2zm0-2zm57 0zm4 0zm2 0zm0 4zm1-2zm0-1zm1 1zm3 0zm1 2zm0 6zm1-5zm0 4zm0-5zm1 2zm0-6zm2 7zm0-5zm0-1zm0 3zm0-1zm1 0zm0 3zm1-2zm0 3zm1-1zm0-2zm0 4zm0-5zm1 0zm0 4zm1-1zm1 3zm0-6zm1-1zm1 9zm0-2zm0-1zm1 1zm1-2zm0-1zm1 5zm0-1zm0-5zm0-1zm0-1zm2 5zm0-2zm1 4zm0-1zm0-1zm1-8zm0 8zm0-3zm1-3zm0 3zm1-4zm0 8zm1-1zm0-5zm0 8zm0-11zm1 6zm0-6zm0 3zm1 4zm0-2zm1-5zm0 9zm0-6zm0 7zm1-1zm0-5zm0 4zm1 2zm1-6zm0 3zm1 0zm0-5zm0 9zm0-5zm1 3zm0-2zm0 4zm0-5zm0 4zm1-9zm0 4zm0-5zm0 8zm0-5zm1 7zm1-1zm0-1zm1-2zm0-1zm0-1zm0-1zm0-1zm1 1zm0 2zm1 2zm1-1zm1 2zm1-6zm0-1zm0 3zm1-2zm2-2zm3 0zm0 3zm4-3zm0 1zm49 9zm-44 8zm-21-6zm-1 2zm-2 0zm-1 6zm0-5zm0-1zm0-1zm-1 0zm0-1zm0 9zm-1-7zm0-1zm0 3zm-1-1zm0-1zm-1 1zm-1 1zm0-1zm0 4zm-1-4zm0 3zm-1 0zm0-6zm0 8zm0-5zm0 4zm-1-1zm0-5zm-1 6zm0 4zm0-5zm-2-4zm-1 9zm0-11zm-2 0zm-1 11zm0-1zm-1-2zm-5-5zm-86-3zm-5 0zm-4 1zm-6 4zm0-3zm-1 5zm-1-7zm-2 1zm0-1zm-1 7zm0-3zm-1-1zm0 4zm-1 4zm0-6zm0 3zm-1 2zm-1-8zm0 4zm-2 4zm0 1zm0-5zm-1 2zm0 2zm-1-2zm0 3zm-1-2zm0-2zm-1 1zm0-5zm0 7zm-1-8zm0 6zm-1 4zm3 0zm1 0zm0 1zm1 9zm0-7zm1 3zm1-1zm1-3zm0 2zm0 4zm0-5zm1 8zm0-5zm1-2zm0 4zm0 3zm1 0zm0-6zm0 3zm1-1zm0-5zm0 3zm1 5zm0-2zm0 3zm1 0zm0-2zm1 1zm3 1zm8-6zm88 6zm1-3zm1 1zm3 1zm1 0zm0-6zm0 4zm1 2zm1-2zm1-8zm0 4zm1-1zm0-1zm0 9zm0-11zm1 2zm0-1zm0-1zm1 2zm1 4zm0-6zm1 7zm0-4zm3-3zm3 7zm5-3zm0 3zm4-7zm-7 14zm-8 8zm-8-9zm0-1zm-1 1zm0-1zm-1 0zm-2 1zm-1 4zm-1 2zm0-5zm0 2zm-1 0zm0 3zm-1 4zm-1-10zm0 3zm0-1zm-1 6zm0-1zm-1-5zm0 3zm-1 3zm-2-1zm0 3zm-2-9zm-5 9zm-60-3zm-8 1zm0 2zm-3-1zm-1 0zm-1 0zm-1 0zm0-10zm0 9zm0 2zm-1-8zm0 3zm0 2zm-1-6zm0 3zm-1 3zm0-2zm-1-2zm-1 3zm-1-3zm0-3zm-1 6zm-1 0zm0-6zm-1 2zm-1-1zm0-1zm0 4zm-1-5zm0 3zm-1 1zm13 11zm0-2zm3 3zm0-1zm1-3zm0 3zm1-2zm0 4zm2 2zm0-1zm2-5zm0 4zm1-3zm0-1zm1 3zm0-3zm1 5zm1 0zm0-1zm1-1zm1 2zm1 1zm0-1zm1-2zm0 4zm0-5zm0 8zm0-6zm2 3zm0-3zm1 5zm0-3zm1-1zm0 4zm0-1zm1 0zm0-2zm0-2zm3 4zm0-1zm1 3zm1-4zm1 2zm0 1zm2-2zm0 3zm0-1zm1 0zm1 0zm1 0zm2 0zm1 1zm0-1zm1 1zm0-1zm2 1zm1-1zm3 1zm0-2zm1 2zm2-3zm5 1zm4 2zm9-6zm1 2zm1 1zm2-3zm1 5zm1-1zm1 0zm2-2zm0 4zm1-7zm0 3zm1-2zm1-2zm0-1zm0-1zm1 3zm0-2zm1 4zm0-5zm0-1zm1 3zm0-1zm0-1zm1 1zm1 2zm3-2zm0-2zm-13 13zm0-1zm-3 0zm-1 3zm0-1zm0-1zm-1 0zm0 2zm-1-2zm0-1zm-1 0zm-1 5zm0-3zm-2-2zm-1 3zm-1 1zm-1-2zm-1 3zm0-2zm-1-3zm-1 3zm0-1zm-2-2zm-1 4zm-1-1zm0-3zm-1 0zm-1 2zm0-1zm-1 2zm-2-3zm0 3zm-1-3zm0 4zm0-3zm-2-1zm-1 2zm0-1zm-5 2zm0-1zm-1-2zm-1 0zm-2 2zm-10-2z" stroke="#a9c46a" stroke-width="3.8" stroke-linecap="round" fill="none"/>
<path transform="scale(.5)" d="M2009 1283zm17-2zm27 10zm-22 4zm-1-1zm-1 1zm-1 0zm-7 0zm-1-2zm0-5zm-1 5zm0 2zm-1-7zm-2 5zm-1-1zm0-2zm-1 1zm0-4zm-2 4zm0-1zm-3 5zm-1-4zm-1-1zm0 4zm0-1zm-3 1zm-1-5zm-1 5zm-1 0zm-1 0zm0 1zm-2-6zm-2 6zm0-1zm-1 0zm-1-1zm-2 2zm0-2zm-4 0zm-5-2zm-1 3zm-1-2zm-1-2zm-4 3zm-15 12zm4 2zm4 0zm1-3zm2-7zm0 2zm3-2zm1 8zm0 2zm1-1zm3-4zm1 2zm1 1zm1-2zm0 2zm1-6zm0 2zm1 0zm0 3zm1 3zm0-1zm0-1zm1 0zm0-2zm0-1zm0 4zm1-8zm0 3zm0-2zm1 4zm0 4zm0-10zm0-1zm1 5zm0-1zm1-4zm2 6zm2-6zm0 3zm0-1zm1-1zm0 10zm1-9zm0 4zm0-2zm0 4zm1-8zm0 1zm1 3zm1-2zm0-1zm0-1zm1 0zm0 2zm0-1zm11 0zm3-1zm1 2zm1-2zm2 2zm2 4zm0-5zm2 7zm0-2zm1-4zm0-1zm0 2zm2-2zm2 4zm0 3zm1 3zm0-6zm1 0zm0-5zm0 4zm1-2zm1 6zm1-1zm0-2zm1 5zm1 0zm0-5zm0 4zm1 0zm1 0zm0-5zm0 3zm0 4zm1-2zm1 2zm2-7zm1 6zm9-2zm5 5zm-6 5zm-3 4zm-1-10zm0 8zm0-5zm-1 6zm-2-4zm0-1zm0 2zm-2-4zm-1-2zm0 10zm0-5zm-1-3zm0 3zm0-1zm-1 1zm0-5zm0 4zm0 3zm0-6zm0 9zm-3-9zm-4 10zm-1-11zm-1 3zm-7 0zm-30-1zm-8 3zm-6-4zm-1 0zm0-1zm-1 6zm0-5zm-1-1zm-1 1zm-2 2zm0-1zm0-1zm-1 2zm0 4zm0 4zm0-5zm0-5zm-1 9zm0-10zm0 7zm0-5zm-1 4zm0-2zm-3 0zm-1-3zm-1 10zm0-5zm-3 2zm0-3zm-4-4zm-1 7zm-3 14zm1 1zm0-11zm1 9zm0-3zm1 4zm0-1zm0-5zm1 4zm0-5zm0 1zm1-2zm1 5zm1 4zm0-6zm1 5zm0-5zm0-5zm0 7zm0-5zm1 5zm0-5zm1 4zm0-6zm0 8zm1-5zm0 4zm2-2zm0-1zm0 4zm0-5zm0 3zm1-3zm2 6zm62-9zm4 11zm1-9zm0 2zm1-4zm0 4zm0 2zm2-6zm1 6zm0-5zm0 9zm0-6zm0-1zm0 4zm1 3zm1-6zm0 2zm1 5zm0-10zm1 10zm0-5zm0-6zm1 14zm-4 0zm-1 1zm0-2zm-1 4zm-1 2zm0-2zm-1 2zm0-6zm0 3zm0-1zm-1 0zm0-2zm-1 1zm0 4zm0-6zm-1 2zm0-2zm0 9zm-1-5zm0 7zm0-1zm-1 1zm0-2zm-1-3zm0 1zm-1 1zm0 2zm-1-4zm-1 3zm-1 0zm0-6zm-6 4zm-61-2zm0-5zm-2 2zm0 3zm0-5zm0 9zm-1-1zm0-5zm0-1zm0 4zm-1-2zm0 4zm0-6zm0 4zm0 3zm-1-2zm0-7zm-1 0zm0 7zm-1-5zm0-1zm0 9zm-1-9zm0 8zm-2 0zm0-5zm-9 6zm6 11zm1 2zm0-10zm0 4zm1 4zm1-4zm1 1zm1-4zm0 2zm1-3zm0 9zm0-6zm0 3zm0 4zm0-5zm1-1zm1 4zm0-5zm0 3zm1-2zm0 4zm0-1zm1-2zm0-1zm1-2zm0 4zm3 3zm0-2zm0-7zm48 6zm9-1zm1 5zm2-6zm0 4zm1-7zm0 7zm0-1zm1 3zm0-6zm1 5zm1-1zm0-1zm0-5zm1 6zm0-6zm1 7zm0-2zm0-5zm1 4zm0-5zm0-1zm0 9zm1-6zm0 3zm0-6zm0 9zm1-5zm1 2zm1-6zm1 1zm0 9zm0-7zm1-4zm0 9zm0-5zm1 2zm0-3zm20 15zm-6 0zm-1 1zm-5-5zm-9 0zm-1 1zm0-2zm-7 4zm-3 6zm0-8zm-1 0zm-1 3zm0-5zm0-1zm-1 9zm-1 0zm0-4zm-1 0zm0-1zm-1 3zm-1-1zm0 4zm0-10zm0 9zm-1-7zm0 9zm0-2zm-1-5zm0 4zm0 3zm-2-1zm0-1zm0-5zm-1 5zm0-2zm0 4zm0-6zm-1 6zm-5-9zm0 9zm0-1zm-1-3zm-1 2zm-1-2zm-3 4zm-2 0zm-38-11zm-1 1zm-1 7zm0-6zm-1-2zm-1 6zm0-5zm-1 7zm0-5zm0 4zm0 4zm-1-4zm0-7zm-1 9zm0-5zm0-1zm0 3zm-1 2zm0-3zm0-5zm0 9zm-2 1zm0-6zm0 4zm0-1zm-1-4zm0-1zm0 4zm-1-3zm-1 4zm-2-3zm2 12zm1 4zm0-1zm2 0zm0-5zm0-2zm1 6zm1 3zm1 1zm0-5zm0-1zm1 4zm0-5zm0 4zm0 4zm0-10zm1 9zm0-2zm1-8zm0 2zm0 8zm1-1zm0-1zm1 2zm1-1zm1-4zm4-2zm3 8zm16 0zm2-4zm1 0zm2 4zm0-2zm1 0zm0 2zm1 0zm3 0zm0-1zm1-8zm1 7zm0 2zm1 0zm0-5zm0-5zm0 9zm0-1zm0-1zm2 0zm0 3zm0-5zm1 0zm0-1zm0-1zm1-4zm0 8zm0-1zm1 0zm0 3zm2-8zm0 8zm0-5zm1 2zm1-5zm0-1zm0 4zm1 1zm1 0zm0-6zm0 9zm0-1zm1 2zm1-9zm0 1zm1-1zm2-1zm6 2zm4 2zm3-1zm1-1zm11 4zm1 4zm3 0zm1 0zm1-7zm3 7zm3-10zm1 0zm2 8zm17-8zm-11 14zm-2 7zm-6 2zm-24-6zm-12-3zm-11 0zm-1 1zm-1-1zm0 9zm-1-9zm0 1zm-1-3zm-3 1zm0-1zm-1 0zm0 3zm-1-3zm0 2zm0 4zm-1-6zm0 1zm-1 3zm0-1zm-1 5zm0-5zm0 3zm0-6zm-1 4zm-1-2zm0 9zm0-10zm0 4zm0-1zm0-1zm-1 5zm0-1zm0-5zm-1 0zm0-2zm0 4zm0-1zm-1 2zm0 2zm0-1zm-1-2zm0 4zm0-1zm0-5zm0 4zm0-5zm-1 1zm0 9zm0-2zm0-1zm-1-1zm0 4zm0-5zm0-5zm-1 7zm0 3zm0-5zm0 4zm0-5zm-1-4zm0 4zm0 3zm-1-4zm0-1zm0 8zm-1-4zm0 2zm0-1zm0-5zm-1 3zm0 2zm-1 1zm0-5zm0 7zm-1-10zm0 4zm0 4zm-1-4zm0 3zm0-2zm-1 2zm0-5zm0-2zm0 9zm-1-8zm0 8zm0-2zm-1-4zm0 7zm0-1zm-2-1zm0-2zm-1 2zm0-6zm0 8zm0-5zm0-1zm-1 2zm0-6zm0 9zm0-2zm-1-7zm0 8zm0-5zm0 7zm-1-4zm-1-5zm0 8zm-1-5zm0-5zm0 8zm0-5zm0-1zm0 9zm-1-7zm0 4zm0-5zm0 4zm-2-4zm0-3zm-1 6zm-1-4zm-1-2zm0 2zm0 4zm-1-4zm0 1zm-1-3zm0 2zm-1-2zm0 4zm0 4zm-1-6zm0 1zm-1-1zm-1-1zm-4 2zm-2 1zm17 9zm2 3zm0 3zm0-1zm0-6zm1 1zm0 4zm0-5zm0 8zm0-5zm1 0zm0 3zm0-6zm2 5zm3-5zm1 0zm2 2zm0 2zm1-2zm0-1zm0 4zm5-5zm3 0zm1 11zm1-10zm5-1zm7 1zm26 0zm9 0zm9 1zm4 0zm-71 14zm-7 9z" stroke="#d89ad0" stroke-width="3.8" stroke-linecap="round" fill="none"/>
<path transform="scale(.5)" d="M1996 1294zm-2-6zm0-3zm-1 6zm-10 0zm-2 1zm-7 8zm10-1zm7-3z" stroke="#e0ae55" stroke-width="3.8" stroke-linecap="round" fill="none"/>
<path transform="scale(.5)" d="M2003 1318zm-12-1zm-19 7zm1 3zm2-5zm4 1zm4-2zm6-1zm9 4zm14-1zm3 1zm0 6zm11 7zm-15-1zm-7-1zm-5 4zm-12-4zm-1-3zm-13 9zm-1-7zm-3 8zm-4-7zm-5 0zm-3 5zm-2-7zm5 22zm11-11zm1 11zm2-11zm6 6zm13 4zm0 1zm11-10zm13 7zm3-4zm-9 13zm-6-5zm-8 9zm-2-9zm-2 2zm0 7zm0-4zm-3-4zm-4-1zm-4 1zm-13 4zm-16 5zm-2 6zm4 5zm5-9zm1 2zm4 7zm8 2zm5-5zm1-5zm2 4zm3-1zm1-2zm4 4zm0-1z" stroke="#fff" stroke-width="2.4" stroke-linecap="round" fill="none"/>
<path d="M1114.0 709.5L1124.1 719.5L1129.2 729.5L1136.9 739.7L1143.1 748.1L1142.3 758.9L1139.3 767.2L1131.6 777.5L1120.8 781.8L1102.5 784.8L1089.7 785.3L1078.4 778.3L1065.8 768.4L1055.6 755.7L1045.4 748.1L1033.9 734.2L1027.4 730.4L1040.1 727.4L1035.8 726.9L1049.5 732.8L1069.8 731.0L1087.9 723.9L1101.4 714.9L1110.4 705.9Z" fill="#30366e"/>
<path d="M1044.5 718.8L1040.1 706.0L1040.4 694.2L1050.0 689.7L1062.5 683.5L1099.0 683.5L1101.0 688.9L1104.9 699.2L1110.4 705.9L1101.4 714.9L1087.9 723.9L1069.8 731.0L1049.5 732.8L1035.8 726.9Z" fill="#8e94d8"/>
<path transform="scale(.5)" d="M2145 1355zm10-2zm2 2zm2-1zm1-2zm3 1zm1-6zm0 1zm1 7zm1-1zm1-7zm2 5zm1-2zm3 2zm4-1zm3 4zm0-1zm1-2zm1-5zm0 2zm2 6zm1 0zm1-5zm0 2zm1-5zm0 3zm1 2zm2 3zm10 10zm-1 0zm-6-9zm-1 10zm0-9zm-2 9zm0-8zm-1-1zm0 2zm-1 3zm0-6zm-1 8zm-1 2zm0 1zm-2-6zm-1 2zm0 1zm-1-6zm-1 2zm-1 4zm-1-4zm-1-3zm-2 7zm0-5zm-1 5zm0-5zm-1 0zm-5 2zm-2 0zm-1 0zm-3-1zm-1-4zm0 2zm0-1zm-2-1zm-4 8zm0 1zm-1-5zm-1 7zm-3-8zm0 2zm-1-1zm-1 7zm0-1zm-2 0zm0-6zm-4 5zm-1 0zm0 1zm-2-1zm-1 0zm0-5zm-2 2zm0 5zm-2-4zm-3 2zm-8 4zm2 1zm2-2zm1 1zm10 0zm2 0zm1-1zm2 3zm1-1zm4-2zm2 1zm1 0zm11 0zm0 1zm9-1zm1 1zm3-2zm2 1zm3-1zm3 0zm0 2zm2-2zm0 2zm1 0zm2-1zm0-1zm3 0z" stroke="#8e94d8" stroke-width="3.8" stroke-linecap="round" fill="none"/>
<path transform="scale(.5)" d="M2161 1330zm1-3zm24 3zm-1 13zm0-3zm-2 2zm-1-5zm0 4zm-2 1zm0-5zm0 3zm-1-2zm0-1zm-1 6zm0-1zm-1 0zm0-1zm-1 2zm0-2zm-2 1zm-1-4zm-1 4zm0-3zm0-5zm-1 6zm0-5zm0 8zm-1-2zm-2-3zm-1 3zm-3-4zm0 4zm-3 0zm-1-2zm-2-3zm-9 7zm-2-1zm-4-3zm-4 0zm0 4zm-1-3zm-14 15zm3-4zm3-3zm2 7zm7-7zm2 2zm1 3zm5 2zm0-3zm2 2zm1-2zm1-3zm1 1zm0 3zm0-1zm0-5zm2 4zm2-1zm1 1zm1-1zm0-1zm0 3zm0-1zm0-5zm2 6zm2-6zm3 1zm0 4zm1-6zm1 3zm1-1zm0-1zm2-1zm1-1zm1 0zm1 0zm1 0zm0 7zm0-5zm1-2zm2 1zm3-1zm5 4zm0-3zm2 4zm0-1zm1-3zm1 2zm0 7zm1-5zm0-1zm0 7zm1-4zm0-7zm1 8zm0-1zm0-1zm0-2zm2 3zm0 3zm5-2zm3 15zm-1-9zm-2 6zm0 3zm-1-10zm-1 5zm0-2zm0-1zm0 4zm-1 1zm0 3zm-1-2zm-1-1zm0-2zm-1-3zm0-1zm-1-2zm0 11zm-1-7zm0-1zm-1 3zm-33-6zm-5 8zm-1-7zm-2 1zm0-1zm-1-1zm-1 2zm0-1zm-1 0zm-2 1zm0 3zm-1-1zm-4-2zm-1 0zm0 1zm-2 0zm0 7zm0-1zm-1-1zm0-1zm0-5zm-1 2zm0 3zm-2-1zm-1 2zm-1 3zm0-5zm0-1zm-1 6zm-1-9zm-1 4zm0 3zm0-2zm-1-6zm-1 5zm-1-5zm0 9zm0-7zm0 4zm-2 4zm-2-6zm-2-2zm-2 8zm-3 0zm-6-4zm-25 13zm5 0zm13 3zm1-4zm1 1zm0 3zm1-2zm1-4zm0 6zm1-1zm1-5zm0 4zm0-2zm0-1zm2-3zm0 7zm0-1zm1-3zm1 3zm1-6zm1 6zm1-2zm0-6zm1 1zm1 3zm0 3zm1-3zm1 0zm1 1zm1-5zm1 2zm2-2zm2 0zm1 0zm0-1zm1 1zm1-1zm2 0zm6 3zm0-1zm59 0zm0-2zm2 9zm0-6zm0-1zm1 0zm1 2zm0 1zm0-5zm1 4zm0 4zm1-5zm0 3zm0-5zm0 3zm2-3zm0 7zm1 2zm0-6zm0 4zm1 3zm0-10zm3 6zm6-3zm8 14zm-10-1zm-2 6zm-1-10zm-2 6zm0-5zm-1 7zm0-8zm-1 6zm-1-7zm0 4zm0-1zm0 4zm0-6zm-1 0zm-1 2zm0-1zm0-1zm-2 8zm0-5zm-5-1zm-82 5zm-4-5zm-3-2zm-2-1zm-2 1zm-1 2zm-1 2zm0-2zm0-1zm-3-2zm-1 1zm0-1zm-4 6zm-1-5zm0 4zm-1-1zm-1-3zm-1 6zm0-3zm-1 0zm0 4zm-2-3zm0 3zm-1-8zm0 11zm-2-6zm0 2zm-1 1zm-3 1zm-22 14zm2-3zm3-3zm1 5zm3-7zm0 4zm0 3zm1-5zm3 4zm1-3zm2-5zm3 8zm2 0zm0-2zm2-7zm0 9zm0-5zm2-3zm0 3zm1 2zm0-2zm1 4zm1-5zm1-2zm2 5zm0-6zm116 0zm2 4zm2-4zm2 6zm2 3zm0-6zm0-2zm0 9zm1 1zm0-6zm1-1zm0 1zm1 5zm0 1zm1-7zm6 17zm-2 2zm-4-2zm-1-2zm0-7zm-3 0zm-3 5zm-117 5zm-6 0zm0-1zm-1-9zm0 6zm-1 0zm-1-1zm0-1zm0-2zm-1 0zm0 3zm-1 5zm-1-2zm-1 1zm-1 1zm-1-8zm0 9zm-7-11zm0 4zm-1 6zm-3-5zm0 2zm0-5zm-1 0zm0 9zm-2-3zm-1-7zm0 7zm0 13zm6-9zm6 5zm6 6zm1-8zm1-2zm0 2zm1 3zm0-2zm1 0zm1 6zm0-6zm1-1zm0 1zm1 6zm0-3zm1 4zm0-6zm0-2zm1 8zm3-6zm1 6zm107-1zm2 1zm0-6zm3 6zm0-5zm1 2zm0 3zm2 0zm0-5zm0 4zm0-2zm4 0zm0 2zm2-1zm2-6zm1 3zm1-2zm2-2zm1 0zm-10 10zm-3 0zm-3 2zm-4 2zm0-1zm-1 6zm0-1zm-2-2zm0-5zm-2 1zm0 3zm-1-1zm-1-3zm-5 0zm-7 8zm-81-7zm-6 9zm-2-5zm0 3zm-1-8zm0 9zm0-5zm0 4zm0-2zm-1 2zm0-1zm0-5zm-2 7zm-1-6zm0 4zm0-7zm0 9zm-1-10zm-1 1zm0 8zm0-3zm-7 4zm-18-6zm-1-2zm-2 5zm-4-7zm-3 10zm-10 8zm2 5zm1-7zm1 1zm1 4zm2 2zm0-1zm1 0zm3-8zm29 8zm2-3zm0 1zm1 2zm2-4zm0-2zm1-1zm0 4zm0-5zm1 2zm0 4zm1-5zm0-1zm1-1zm0 2zm1-1zm1 0zm57 5zm1-1zm10 2zm2 3zm3 0zm3-7zm1 0zm0 6zm2-5zm3 0zm0 1zm1 4zm2-6zm0 3zm0-2zm0-5zm2 11zm1-8zm0-1zm0 4zm1-1zm2-5zm2 4zm1 2zm3-5zm-24 16zm-3-5zm-3 3zm-2 1zm-1-1zm-1-1zm-1 7zm-7-8zm0 4zm-2 1zm-2 5zm-5-7zm0 3zm-1 1zm-2-3zm-2 3zm-2 3zm-2-5zm-5 4zm-2 1zm-1-2zm-1 2zm-1 0zm-3-9zm-1 4zm-1 2zm-14-4zm-1 4zm0-1zm-1 3zm-1-1zm-1-2zm0 4zm-2-7zm0 3zm-4 1zm0-5zm0 6zm-4-1zm0-1zm0-5zm-1 0zm0-2zm0 4zm-2 0zm-2-4zm0 3zm0-1zm-1 0zm0-1zm-1 1zm0 6zm-1-7zm-1 0zm0-1zm-2 2zm0-1zm-3-1zm-2 2zm-23-2zm45 12zm1 1zm2 1zm8 6zm2-8zm2 0zm1 0zm1 1zm2 2zm15-2zm1 1zm1-1zm14-1z" stroke="#8e94d8" stroke-width="3.8" stroke-linecap="round" fill="none"/>
<path transform="scale(.5)" d="M2247 1365zm0-1zm-3-2zm0-1zm-1 3zm-1 3zm0-5zm0 3zm0-5zm-1 2zm-1-2zm0 1zm-1 1zm0 3zm-1-1zm-1 2zm-2 1zm0 1zm1 2zm0-2zm1 2zm1 1zm0-3zm0 4zm1 0zm0-1zm1-2zm0 4zm0-5zm0 2zm1 3zm1 0zm0-1zm0-1zm1-2zm0 4zm2-2zm0-1zm0-1zm1 10zm1-9zm2 19zm0-3zm0 4zm-3-4zm-1-2zm-32 19zm3 0zm1 0zm0-1zm22 9zm-12 4zm-1-1zm-1-2zm0 2zm-1-4zm0 4zm0-5zm0 3zm-3-6zm0 4zm-1 3zm0-1zm0-1zm0-1zm-1-3zm-1 4zm0 4zm0-6zm0-2zm-1 2zm0 2zm0 4zm-2-9zm-1 0zm-1 0zm-10 20zm1-2zm1 3zm1-5zm0 4zm1-1zm2-1zm1-6zm0 4zm1 0zm2-3zm1 4zm3 3zm2-4zm5-6zm1 4zm1-4zm0 2zm1-2zm2 5zm2 0zm2 6zm0-6zm0 3zm1 0zm1-5zm0 8zm1-7zm1 7zm1-2zm11-4zm0 10zm0 8zm0-6zm-2 3zm0 3zm-1-8zm0 5zm-1-6zm0 9zm0-2zm0-1zm-1-1zm0-5zm0 4zm0-2zm-1 5zm0-1zm-1-1zm-1-3zm0 4zm0-2zm-3-2zm-2 0zm0-2zm0-1zm0 4zm-5-1zm-1-4zm-20 3zm-2 1zm-1-4zm-2 5zm0-5zm-3 6zm-1-1zm-2 2zm-1 2zm0-2zm-2 4zm0-1zm0-1zm-2 2zm-2-2zm0 1zm-6-4zm-2 2zm-17 14zm2-1zm1 1zm1 0zm0-2zm1 1zm4-2zm0-2zm1 6zm0-6zm1 0zm3 3zm3-2zm0 2zm5-2zm1 0zm1-2zm0 4zm0-8zm1 2zm0 2zm3 1zm51-4zm1 4zm1-2zm0-2zm1-1zm0 3zm0 4zm1-6zm2 7zm0-6zm1 5zm0 3zm0-5zm1 3zm0-6zm0 8zm1-4zm0 3zm2-5zm1 4zm11 12zm-1-5zm-3 6zm-1 0zm-2-8zm0 6zm-2-2zm0-5zm0 4zm-1 4zm-5-2zm-1-6zm-75 0zm-3 0zm-12 3zm0 2zm-1 0zm0 3zm-1-7zm0 6zm-1-5zm0 4zm-1 1zm0-5zm-3 1zm-1 6zm-1 0zm0-5zm-1 3zm0 2zm0-6zm-1 4zm-1-1zm-1 2zm-4-4zm0 4zm-1 3zm-4-4zm-11 2zm0-2zm-9 4zm-5 0zm-4-2zm-19 0zm-2-5zm-1 5zm-2-8zm-1 5zm-2 4zm-2 0zm-2-6zm0 7zm-2-6zm-1 1zm-3 0zm0-1zm0-1zm-1 0zm0 3zm-2-5zm0 4zm0-2zm0-1zm-1 2zm-4 6zm0-6zm0 4zm-1-2zm0 4zm0-6zm-1 4zm-3-4zm0 3zm0-2zm-1-2zm-1 1zm-1-2zm0 4zm0 4zm-1-3zm-1-3zm0 4zm0-2zm-1-5zm0 7zm-1 2zm0-1zm0-1zm-6 1zm-3 0zm-5-4zm-4-4zm17 11zm1 2zm3-2zm3 2zm1-1zm0 1zm1 1zm2-2zm1 1zm1 7zm0-1zm0-6zm3 7zm0-7zm0-1zm1 5zm1 4zm0-5zm1 1zm1 0zm2-1zm8 1zm3-5zm3 0zm0 4zm0-1zm3-3zm1 5zm3-6zm4 3zm1 1zm2-5zm1 3zm1 2zm6-4zm0 4zm1-2zm2 5zm0-7zm7 3zm2 6zm1-3zm4-2zm2-4zm8 6zm1-4zm5-2zm24 0zm92 0zm0-1zm1 1zm0 4zm2 2zm0-2zm0 4zm1-3zm1-2zm0 4zm1 0zm0-1zm0-5zm0 3zm0-1zm1 0zm0-1zm0 8zm0-6zm1-1zm4 4zm0 2zm1-2zm3 2zm1 1zm0-6zm10 11zm-3 6zm-1 0zm0 1zm-1 0zm-5-2zm0-3zm-1 1zm-1-3zm0-1zm0 8zm-1-3zm0-2zm0-5zm-1 5zm0 3zm-1 1zm-1 0zm-1-4zm0-5zm0 7zm0-5zm-1-1zm-1 0zm0 7zm-1-1zm-168-8zm-12 8zm-1 2zm-1 1zm0-1zm0-6zm-2 4zm0-6zm-2 3zm-2 1zm0-1zm-1-2zm0 3zm-1 1zm0 4zm0-10zm0 4zm-1 0zm0-3zm-1-2zm0 3zm-1-2zm-1 2zm-2-1zm0-2zm-2 1zm-5 3zm13 14zm1-6zm1 6zm1-4zm3 0zm0 6zm1-6zm1 1zm0 3zm1-3zm1 5zm0-2zm0 4zm1-3zm1 3zm0-3zm2 4zm3-2zm4 0zm0 2zm12-1zm163-9zm4 0zm2 10zm1-2zm1-2zm1-4zm1 3zm1 1zm0 3zm1-9zm1 6zm0 4zm1-8zm3 7zm0-5zm1 18zm-2-4zm-1-5zm-1 8zm-1-5zm-1 2zm0 3zm0-10zm-1 6zm0-1zm0-5zm0 8zm0-5zm-1 1zm0 3zm-1 3zm-3-9zm-164 8zm-1 1zm-1 1zm-1 0zm0-1zm-1-4zm0 4zm-1-8zm0 9zm0-7zm-2 7zm-1-3zm-1 1zm0-2zm0 4zm0-5zm-1 2zm0 2zm-1-3zm0-1zm-1 2zm0-5zm0 7zm-1-6zm0 4zm-1-4zm-1-2zm-1 3zm0-2zm-1 3zm-3-3zm-2-1zm12 11zm2-1zm1 1zm1-1zm1 0zm1 0zm1 4zm0-3zm1 8zm0-6zm2 0zm1 8zm0-3zm1-2zm0 4zm1-1zm0 1zm1 1zm1-4zm0 4zm156-1zm2 0zm1-9zm1 10zm0-10zm0 7zm1-5zm0 1zm1-4zm0 3zm0 4zm0-6zm1 1zm0 4zm0-6zm0 9zm1 2zm0-6zm0-1zm1-2zm2 6zm0-1zm0-6zm0 12zm0 2zm-2 4zm-1-3zm-2-1zm-2 0zm0 4zm0-6zm-1 0zm-1 4zm0-5zm0 6zm-1 5zm0-7zm0-1zm-1-2zm0 6zm-2 4zm0-2zm-1 1zm-1 0zm-2-9zm-139 7zm-1 2zm0-1zm-1 2zm0-1zm-1-7zm0 7zm-1-4zm-1-1zm-1 3zm0-2zm-1 1zm-1 1zm-2-2zm0-3zm-1 5zm-1-7zm0-1zm-2 3zm-2-2zm5 12zm5 3zm4 7zm1-10zm1 0zm2 3zm0-2zm1-2zm1 5zm0-2zm2 1zm1 6zm1-5zm0 4zm1 0zm1-5zm2 4zm0-2zm2 5zm2-7zm3 3zm116-3zm4 1zm1-2zm0 7zm1 0zm1-4zm0 4zm0-1zm0-1zm1 1zm4-9zm0 4zm-7 8zm-1 0zm0 4zm-1 2zm-1-2zm-1-4zm0 4zm-1 2zm0-2zm-1-2zm-1 5zm-1-5zm0 3zm-1-1zm0 2zm0-1zm-1 2zm0-2zm-1 3zm0 3zm-1-3zm0-1zm-2 2zm-1 1zm-1-5zm-1 4zm-2 2zm0-1zm-1 1zm-3 0zm-3-3zm0 1zm-84 0zm-2 0zm-2 2zm0-10zm0 8zm-1-4zm0 2zm-1 2zm0-1zm-1-6zm-1 3zm0 4zm-1-1zm0-5zm0 3zm0 4zm-1 0zm0-3zm-1-3zm-1 6zm-1-9zm-1 0zm0 4zm0-1zm-1-1zm0-1zm0 2zm-1-3zm-2-1zm12 12zm0 2zm3-1zm1 0zm1 2zm1-3zm1 1zm4 3zm0 4zm1-1zm0-3zm2-4zm0 8zm1 0zm0-5zm1 8zm1-5zm1 2zm0-6zm0 7zm1 2zm0-10zm1 10zm0-6zm1 4zm0-8zm1 9zm0-5zm0-1zm1 7zm0-2zm0-1zm2-1zm0 4zm1-2zm1 2zm1-9zm1 6zm4 3zm2-2zm1-2zm0 3zm5-1zm0-2zm0 4zm1-4zm0 3zm4-2zm2 1zm0-2zm0 4zm1-6zm0 4zm5 0zm1 1zm0-1zm1 0zm2 1zm1-1zm0-8zm1 5zm1 4zm1-5zm1 5zm0-7zm0 4zm1-1zm2 0zm0-1zm1 2zm0 3zm1-3zm2-2zm0-1zm0 4zm2-5zm1 3zm1 1zm0-4zm1-1zm0 2zm1 2zm2 1zm1-2zm2 4zm1-5zm0-1zm1 0zm1-2zm1 1zm0 2zm1 4zm0-6zm0 4zm0-1zm1-1zm1 1zm0-5zm1 2zm1-2zm0 4zm0 3zm1-6zm1 3zm1-4zm8 1zm-13 15zm-23-4zm0 4zm-5-1zm-1-3zm-6 0zm-1 6zm-7-6zm-7 0zm-5 1zm-2 0zm-2-1zm-1 2zm0-1zm-3 0zm-1-1zm-4 2z" stroke="#30366e" stroke-width="3.8" stroke-linecap="round" fill="none"/>
<path transform="scale(.5)" d="M2184 1367zm-1-5zm-2 1zm-4 1zm-4-5zm0 1zm-5-2zm-3 9zm-4-3zm-10 15zm12-11zm0 6zm14 4zm8 0zm10-3zm3 2zm2 11zm-6-4zm0-3zm-22 0zm-9 9zm-5-8zm0 5zm-4-1zm-5 4zm-2-3zm-19-2zm-2 1zm-35 13zm13-2zm2-1zm7-3zm5 5zm5-6zm19 0zm0 6zm14 2zm13 0zm5 3zm3-1zm3-6zm6 3zm20 3zm5-1zm1 13zm-16-10zm-8 5zm0-5zm-20 9zm-3-9zm-3 0zm-7 2zm-38-2zm0 2zm-20 10zm8 6zm1-1zm12 2zm1 0zm3-1zm1 2zm9 0zm3 0zm6 0zm10 1zm30-1zm4 0zm2-2zm13 5zm2-8zm4-3zm10 17zm-2-4zm-3 10zm-2-8zm-3-1zm-43 3zm-4 1zm-29-3zm-7 1zm-5 7zm-25 11zm18-8zm1 4zm6-1zm2 3zm6-3zm1 3zm2 0zm1 0zm7-8zm4 5zm1 3zm0-5zm3 2zm11-1zm21-2zm3-2zm22 5zm8-4zm-5 16zm-2 3zm-7-1zm-19 0zm-1-6zm-8 7zm-4 0zm-5 2zm-11-5zm-6-2zm-6-3zm-6 1zm-19 6zm-4 10zm0-1zm15-3zm4 0zm18 7zm1-7zm1-1zm10 4zm2-4zm9 0zm23 5zm-18 9zm-9 4zm-2 0zm-12-3zm-2-2zm-16 8z" stroke="#fff" stroke-width="2.4" stroke-linecap="round" fill="none"/>
<path transform="scale(.5)" d="M2068 1446zm4 14zm-11-5z" stroke="#a84c44" stroke-width="3.8" stroke-linecap="round" fill="none"/>
<path transform="scale(.5)" d="M2212 1310zm-54 111zm-72 29zm191 60zm2 11z" stroke="#a9c46a" stroke-width="3.8" stroke-linecap="round" fill="none"/>
<text transform="translate(734.23,388.40) scale(1.0550,1)" font-family='"DejaVu Sans", sans-serif' font-weight="normal" font-size="15.20" fill="#000">−2.5</text>
<text transform="translate(800.45,388.40) scale(1.0550,1)" font-family='"DejaVu Sans", sans-serif' font-weight="normal" font-size="15.20" fill="#000">0.0</text>
<text transform="translate(859.90,388.40) scale(1.0550,1)" font-family='"DejaVu Sans", sans-serif' font-weight="normal" font-size="15.20" fill="#000">2.5</text>
<text transform="translate(919.07,388.40) scale(1.0550,1)" font-family='"DejaVu Sans", sans-serif' font-weight="normal" font-size="15.20" fill="#000">5.0</text>
<text transform="translate(978.54,388.40) scale(1.0550,1)" font-family='"DejaVu Sans", sans-serif' font-weight="normal" font-size="15.20" fill="#000">7.5</text>
<text transform="translate(1032.42,388.40) scale(1.0550,1)" font-family='"DejaVu Sans", sans-serif' font-weight="normal" font-size="15.20" fill="#000">10.0</text>
<text transform="translate(1091.93,388.40) scale(1.0550,1)" font-family='"DejaVu Sans", sans-serif' font-weight="normal" font-size="15.20" fill="#000">12.5</text>
<text transform="translate(701.23,361.35) scale(1.0550,1)" font-family='"DejaVu Sans", sans-serif' font-weight="normal" font-size="15.20" fill="#000">−4</text>
<text transform="translate(701.95,323.15) scale(1.0550,1)" font-family='"DejaVu Sans", sans-serif' font-weight="normal" font-size="15.20" fill="#000">−2</text>
<text transform="translate(714.86,284.95) scale(1.0550,1)" font-family='"DejaVu Sans", sans-serif' font-weight="normal" font-size="15.20" fill="#000">0</text>
<text transform="translate(715.38,246.75) scale(1.0550,1)" font-family='"DejaVu Sans", sans-serif' font-weight="normal" font-size="15.20" fill="#000">2</text>
<text transform="translate(714.66,208.55) scale(1.0550,1)" font-family='"DejaVu Sans", sans-serif' font-weight="normal" font-size="15.20" fill="#000">4</text>
<text transform="translate(714.78,170.35) scale(1.0550,1)" font-family='"DejaVu Sans", sans-serif' font-weight="normal" font-size="15.20" fill="#000">6</text>
<text transform="translate(714.86,132.15) scale(1.0550,1)" font-family='"DejaVu Sans", sans-serif' font-weight="normal" font-size="15.20" fill="#000">8</text>
<text transform="translate(704.64,93.95) scale(1.0550,1)" font-family='"DejaVu Sans", sans-serif' font-weight="normal" font-size="15.20" fill="#000">10</text>
<path d="M732.7 87.0V368.5H1112.9M753.9 368.5v3.8M813.2 368.5v3.8M872.6 368.5v3.8M931.9 368.5v3.8M991.2 368.5v3.8M1050.6 368.5v3.8M1110.0 368.5v3.8M732.7 355.0h-3.8M732.7 316.8h-3.8M732.7 278.6h-3.8M732.7 240.4h-3.8M732.7 202.2h-3.8M732.7 164.0h-3.8M732.7 125.8h-3.8M732.7 87.6h-3.8" stroke="#222" stroke-width="1.05" fill="none"/>
<text transform="translate(883.10,411.00) scale(1.0550,1)" font-family='"DejaVu Sans", sans-serif' font-weight="normal" font-size="19.60" fill="#000">UMAP 1</text>
<text transform="translate(691.90,266.81) rotate(-90) scale(0.9400,1)" font-family='"DejaVu Sans", sans-serif' font-weight="normal" font-size="20.60" fill="#000">UMAP 2</text>
<text transform="translate(1244.16,392.40) scale(1.0900,1)" font-family='"DejaVu Sans", sans-serif' font-weight="normal" font-size="15.20" fill="#000">−2</text>
<text transform="translate(1301.04,392.40) scale(1.0900,1)" font-family='"DejaVu Sans", sans-serif' font-weight="normal" font-size="15.20" fill="#000">0</text>
<text transform="translate(1351.13,392.40) scale(1.0900,1)" font-family='"DejaVu Sans", sans-serif' font-weight="normal" font-size="15.20" fill="#000">2</text>
<text transform="translate(1400.84,392.40) scale(1.0900,1)" font-family='"DejaVu Sans", sans-serif' font-weight="normal" font-size="15.20" fill="#000">4</text>
<text transform="translate(1450.62,392.40) scale(1.0900,1)" font-family='"DejaVu Sans", sans-serif' font-weight="normal" font-size="15.20" fill="#000">6</text>
<text transform="translate(1500.54,392.40) scale(1.0900,1)" font-family='"DejaVu Sans", sans-serif' font-weight="normal" font-size="15.20" fill="#000">8</text>
<text transform="translate(1544.81,392.40) scale(1.0900,1)" font-family='"DejaVu Sans", sans-serif' font-weight="normal" font-size="15.20" fill="#000">10</text>
<text transform="translate(1594.96,392.40) scale(1.0900,1)" font-family='"DejaVu Sans", sans-serif' font-weight="normal" font-size="15.20" fill="#000">12</text>
<text transform="translate(1189.47,366.93) scale(1.0900,1)" font-family='"DejaVu Sans", sans-serif' font-weight="normal" font-size="15.20" fill="#000">−4</text>
<text transform="translate(1190.22,328.39) scale(1.0900,1)" font-family='"DejaVu Sans", sans-serif' font-weight="normal" font-size="15.20" fill="#000">−2</text>
<text transform="translate(1203.56,289.85) scale(1.0900,1)" font-family='"DejaVu Sans", sans-serif' font-weight="normal" font-size="15.20" fill="#000">0</text>
<text transform="translate(1204.09,251.31) scale(1.0900,1)" font-family='"DejaVu Sans", sans-serif' font-weight="normal" font-size="15.20" fill="#000">2</text>
<text transform="translate(1203.35,212.77) scale(1.0900,1)" font-family='"DejaVu Sans", sans-serif' font-weight="normal" font-size="15.20" fill="#000">4</text>
<text transform="translate(1203.47,174.23) scale(1.0900,1)" font-family='"DejaVu Sans", sans-serif' font-weight="normal" font-size="15.20" fill="#000">6</text>
<text transform="translate(1203.56,135.69) scale(1.0900,1)" font-family='"DejaVu Sans", sans-serif' font-weight="normal" font-size="15.20" fill="#000">8</text>
<text transform="translate(1192.99,97.15) scale(1.0900,1)" font-family='"DejaVu Sans", sans-serif' font-weight="normal" font-size="15.20" fill="#000">10</text>
<path d="M1222.0 90.2V372.7H1620.2M1256.4 372.7v3.8M1306.3 372.7v3.8M1356.2 372.7v3.8M1406.1 372.7v3.8M1455.9 372.7v3.8M1505.8 372.7v3.8M1555.7 372.7v3.8M1605.6 372.7v3.8M1222.0 360.5h-3.8M1222.0 321.9h-3.8M1222.0 283.4h-3.8M1222.0 244.9h-3.8M1222.0 206.3h-3.8M1222.0 167.8h-3.8M1222.0 129.2h-3.8M1222.0 90.7h-3.8" stroke="#222" stroke-width="1.05" fill="none"/>
<text transform="translate(1379.31,414.70) scale(1.1080,1)" font-family='"DejaVu Sans", sans-serif' font-weight="normal" font-size="19.60" fill="#000">UMAP 1</text>
<text transform="translate(1180.00,268.54) rotate(-90) scale(0.9450,1)" font-family='"DejaVu Sans", sans-serif' font-weight="normal" font-size="19.90" fill="#000">UMAP 2</text>
<text transform="translate(68.09,797.00) scale(1.0500,1)" font-family='"DejaVu Sans", sans-serif' font-weight="normal" font-size="13.80" fill="#000">−2.5</text>
<text transform="translate(129.48,797.00) scale(1.0500,1)" font-family='"DejaVu Sans", sans-serif' font-weight="normal" font-size="13.80" fill="#000">0.0</text>
<text transform="translate(184.75,797.00) scale(1.0500,1)" font-family='"DejaVu Sans", sans-serif' font-weight="normal" font-size="13.80" fill="#000">2.5</text>
<text transform="translate(239.76,797.00) scale(1.0500,1)" font-family='"DejaVu Sans", sans-serif' font-weight="normal" font-size="13.80" fill="#000">5.0</text>
<text transform="translate(295.04,797.00) scale(1.0500,1)" font-family='"DejaVu Sans", sans-serif' font-weight="normal" font-size="13.80" fill="#000">7.5</text>
<text transform="translate(345.27,797.00) scale(1.0500,1)" font-family='"DejaVu Sans", sans-serif' font-weight="normal" font-size="13.80" fill="#000">10.0</text>
<text transform="translate(400.59,797.00) scale(1.0500,1)" font-family='"DejaVu Sans", sans-serif' font-weight="normal" font-size="13.80" fill="#000">12.5</text>
<text transform="translate(37.22,772.04) scale(1.0500,1)" font-family='"DejaVu Sans", sans-serif' font-weight="normal" font-size="13.80" fill="#000">−4</text>
<text transform="translate(37.88,736.54) scale(1.0500,1)" font-family='"DejaVu Sans", sans-serif' font-weight="normal" font-size="13.80" fill="#000">−2</text>
<text transform="translate(49.54,701.04) scale(1.0500,1)" font-family='"DejaVu Sans", sans-serif' font-weight="normal" font-size="13.80" fill="#000">0</text>
<text transform="translate(50.01,665.54) scale(1.0500,1)" font-family='"DejaVu Sans", sans-serif' font-weight="normal" font-size="13.80" fill="#000">2</text>
<text transform="translate(49.36,630.04) scale(1.0500,1)" font-family='"DejaVu Sans", sans-serif' font-weight="normal" font-size="13.80" fill="#000">4</text>
<text transform="translate(49.47,594.54) scale(1.0500,1)" font-family='"DejaVu Sans", sans-serif' font-weight="normal" font-size="13.80" fill="#000">6</text>
<text transform="translate(49.54,559.04) scale(1.0500,1)" font-family='"DejaVu Sans", sans-serif' font-weight="normal" font-size="13.80" fill="#000">8</text>
<text transform="translate(40.30,523.54) scale(1.0500,1)" font-family='"DejaVu Sans", sans-serif' font-weight="normal" font-size="13.80" fill="#000">10</text>
<path d="M66.3 517.2V778.3H419.5M85.8 778.3v3.5M141.0 778.3v3.5M196.2 778.3v3.5M251.3 778.3v3.5M306.5 778.3v3.5M361.7 778.3v3.5M416.9 778.3v3.5M66.3 766.3h-3.5M66.3 730.8h-3.5M66.3 695.3h-3.5M66.3 659.8h-3.5M66.3 624.3h-3.5M66.3 588.8h-3.5M66.3 553.3h-3.5M66.3 517.8h-3.5" stroke="#222" stroke-width="1.05" fill="none"/>
<text transform="translate(206.11,817.70) scale(1.0500,1)" font-family='"DejaVu Sans", sans-serif' font-weight="normal" font-size="18.10" fill="#000">UMAP 1</text>
<text transform="translate(28.20,683.92) rotate(-90) scale(0.9500,1)" font-family='"DejaVu Sans", sans-serif' font-weight="normal" font-size="18.90" fill="#000">UMAP 2</text>
<text transform="translate(914.11,815.60) scale(0.8300,1)" font-family='"DejaVu Sans", sans-serif' font-weight="normal" font-size="15.00" fill="#000">−2</text>
<text transform="translate(964.45,815.60) scale(0.8300,1)" font-family='"DejaVu Sans", sans-serif' font-weight="normal" font-size="15.00" fill="#000">0</text>
<text transform="translate(1009.68,815.60) scale(0.8300,1)" font-family='"DejaVu Sans", sans-serif' font-weight="normal" font-size="15.00" fill="#000">2</text>
<text transform="translate(1054.64,815.60) scale(0.8300,1)" font-family='"DejaVu Sans", sans-serif' font-weight="normal" font-size="15.00" fill="#000">4</text>
<text transform="translate(1099.64,815.60) scale(0.8300,1)" font-family='"DejaVu Sans", sans-serif' font-weight="normal" font-size="15.00" fill="#000">6</text>
<text transform="translate(1144.75,815.60) scale(0.8300,1)" font-family='"DejaVu Sans", sans-serif' font-weight="normal" font-size="15.00" fill="#000">8</text>
<text transform="translate(1185.61,815.60) scale(0.8300,1)" font-family='"DejaVu Sans", sans-serif' font-weight="normal" font-size="15.00" fill="#000">10</text>
<text transform="translate(1230.90,815.60) scale(0.8300,1)" font-family='"DejaVu Sans", sans-serif' font-weight="normal" font-size="15.00" fill="#000">12</text>
<text transform="translate(867.12,791.40) scale(0.8300,1)" font-family='"DejaVu Sans", sans-serif' font-weight="normal" font-size="15.00" fill="#000">−4</text>
<text transform="translate(867.68,755.54) scale(0.8300,1)" font-family='"DejaVu Sans", sans-serif' font-weight="normal" font-size="15.00" fill="#000">−2</text>
<text transform="translate(877.70,719.68) scale(0.8300,1)" font-family='"DejaVu Sans", sans-serif' font-weight="normal" font-size="15.00" fill="#000">0</text>
<text transform="translate(878.11,683.82) scale(0.8300,1)" font-family='"DejaVu Sans", sans-serif' font-weight="normal" font-size="15.00" fill="#000">2</text>
<text transform="translate(877.55,647.96) scale(0.8300,1)" font-family='"DejaVu Sans", sans-serif' font-weight="normal" font-size="15.00" fill="#000">4</text>
<text transform="translate(877.64,612.10) scale(0.8300,1)" font-family='"DejaVu Sans", sans-serif' font-weight="normal" font-size="15.00" fill="#000">6</text>
<text transform="translate(877.70,576.24) scale(0.8300,1)" font-family='"DejaVu Sans", sans-serif' font-weight="normal" font-size="15.00" fill="#000">8</text>
<text transform="translate(869.77,540.38) scale(0.8300,1)" font-family='"DejaVu Sans", sans-serif' font-weight="normal" font-size="15.00" fill="#000">10</text>
<path d="M892.3 534.2V797.1H1253.2M923.3 797.1v3.5M968.4 797.1v3.5M1013.5 797.1v3.5M1058.6 797.1v3.5M1103.6 797.1v3.5M1148.7 797.1v3.5M1193.8 797.1v3.5M1238.9 797.1v3.5M892.3 785.7h-3.5M892.3 749.9h-3.5M892.3 714.0h-3.5M892.3 678.1h-3.5M892.3 642.3h-3.5M892.3 606.4h-3.5M892.3 570.6h-3.5M892.3 534.7h-3.5" stroke="#222" stroke-width="1.05" fill="none"/>
<text transform="translate(1040.43,835.00)" font-family='"DejaVu Sans", sans-serif' font-weight="normal" font-size="16.80" fill="#000">UMAP 1</text>
<text transform="translate(858.80,700.06) rotate(-90)" font-family='"DejaVu Sans", sans-serif' font-weight="normal" font-size="17.30" fill="#000">UMAP 2</text>
<ellipse cx="1032" cy="254.7" rx="9.3" ry="9.3" fill="#bbd7e6"/>
<text transform="translate(1064.08,260.00) scale(1.0550,1)" font-family='"DejaVu Sans", sans-serif' font-weight="normal" font-size="17.70" fill="#000">Bcell</text>
<ellipse cx="1032" cy="280.4" rx="9.3" ry="9.3" fill="#f6b0ae"/>
<text transform="translate(1064.08,285.70) scale(1.0550,1)" font-family='"DejaVu Sans", sans-serif' font-weight="normal" font-size="17.70" fill="#000">Myeloid</text>
<ellipse cx="1032" cy="307.3" rx="9.3" ry="9.3" fill="#d1c1dd"/>
<text transform="translate(1064.08,312.60) scale(1.0550,1)" font-family='"DejaVu Sans", sans-serif' font-weight="normal" font-size="17.70" fill="#000">NK</text>
<ellipse cx="1032" cy="333.4" rx="9.3" ry="9.3" fill="#bc846a"/>
<text transform="translate(1064.08,338.70) scale(1.0550,1)" font-family='"DejaVu Sans", sans-serif' font-weight="normal" font-size="17.70" fill="#000">Tcell</text>
<ellipse cx="1520.8" cy="255.9" rx="9.8" ry="8.9" fill="#bbd7e6"/>
<text transform="translate(1555.52,261.30) scale(1.1080,1)" font-family='"DejaVu Sans", sans-serif' font-weight="normal" font-size="17.80" fill="#000">batch 1</text>
<ellipse cx="1520.8" cy="282.4" rx="9.8" ry="8.9" fill="#f6b0ae"/>
<text transform="translate(1555.52,287.80) scale(1.1080,1)" font-family='"DejaVu Sans", sans-serif' font-weight="normal" font-size="17.80" fill="#000">batch 2</text>
<ellipse cx="1520.8" cy="309.3" rx="9.8" ry="8.9" fill="#d1c1dd"/>
<text transform="translate(1555.52,314.70) scale(1.1080,1)" font-family='"DejaVu Sans", sans-serif' font-weight="normal" font-size="17.80" fill="#000">batch 3</text>
<ellipse cx="1520.8" cy="335.8" rx="9.8" ry="8.9" fill="#bc846a"/>
<text transform="translate(1555.52,341.20) scale(1.1080,1)" font-family='"DejaVu Sans", sans-serif' font-weight="normal" font-size="17.80" fill="#000">batch 4</text>
<ellipse cx="349.9" cy="681.1" rx="7.5" ry="7.5" fill="#bbd7e6"/>
<text transform="translate(376.13,685.60) scale(1.0500,1)" font-family='"DejaVu Sans", sans-serif' font-weight="normal" font-size="14.40" fill="#000">Bcell</text>
<ellipse cx="349.9" cy="702.9" rx="7.5" ry="7.5" fill="#f6b0ae"/>
<text transform="translate(376.13,707.40) scale(1.0500,1)" font-family='"DejaVu Sans", sans-serif' font-weight="normal" font-size="14.40" fill="#000">Myeloid</text>
<ellipse cx="349.9" cy="723.6" rx="7.5" ry="7.5" fill="#d1c1dd"/>
<text transform="translate(376.13,728.10) scale(1.0500,1)" font-family='"DejaVu Sans", sans-serif' font-weight="normal" font-size="14.40" fill="#000">NK</text>
<ellipse cx="349.9" cy="745.2" rx="7.5" ry="7.5" fill="#bc846a"/>
<text transform="translate(376.13,749.70) scale(1.0500,1)" font-family='"DejaVu Sans", sans-serif' font-weight="normal" font-size="14.40" fill="#000">Tcell</text>
<ellipse cx="1206.4" cy="640.3" rx="6.7" ry="6.7" fill="#6c6f9a"/>
<text transform="translate(1228.97,645.90) scale(0.9400,1)" font-family='"DejaVu Sans", sans-serif' font-weight="normal" font-size="15.30" fill="#000">0</text>
<ellipse cx="1206.4" cy="661.0" rx="6.7" ry="6.7" fill="#b2b4e2"/>
<text transform="translate(1228.97,666.60) scale(0.9400,1)" font-family='"DejaVu Sans", sans-serif' font-weight="normal" font-size="15.30" fill="#000">1</text>
<ellipse cx="1206.4" cy="681.6" rx="6.7" ry="6.7" fill="#c6d79c"/>
<text transform="translate(1228.97,687.20) scale(0.9400,1)" font-family='"DejaVu Sans", sans-serif' font-weight="normal" font-size="15.30" fill="#000">2</text>
<ellipse cx="1206.4" cy="702.2" rx="6.7" ry="6.7" fill="#e9c583"/>
<text transform="translate(1228.97,707.80) scale(0.9400,1)" font-family='"DejaVu Sans", sans-serif' font-weight="normal" font-size="15.30" fill="#000">3</text>
<ellipse cx="1206.4" cy="722.8" rx="6.7" ry="6.7" fill="#bf7d78"/>
<text transform="translate(1228.97,728.40) scale(0.9400,1)" font-family='"DejaVu Sans", sans-serif' font-weight="normal" font-size="15.30" fill="#000">4</text>
<ellipse cx="1206.4" cy="743.4" rx="6.7" ry="6.7" fill="#97758f"/>
<text transform="translate(1228.97,749.00) scale(0.9400,1)" font-family='"DejaVu Sans", sans-serif' font-weight="normal" font-size="15.30" fill="#000">5</text>
<ellipse cx="1206.4" cy="763.6" rx="6.7" ry="6.7" fill="#e4b8de"/>
<text transform="translate(1228.97,769.20) scale(0.9400,1)" font-family='"DejaVu Sans", sans-serif' font-weight="normal" font-size="15.30" fill="#000">6</text>
<text transform="translate(816.40,117.30) scale(1.0500,1)" font-family='"DejaVu Sans", sans-serif' font-weight="bold" font-size="22.10" fill="#000">NK</text>
<text transform="translate(1006.51,128.90) scale(1.0500,1)" font-family='"DejaVu Sans", sans-serif' font-weight="bold" font-size="21.80" fill="#000">Bcell</text>
<text transform="translate(965.92,180.00) scale(1.0500,1)" font-family='"DejaVu Sans", sans-serif' font-weight="bold" font-size="22.10" fill="#000">Myeloid</text>
<text transform="translate(924.50,279.80) scale(1.0500,1)" font-family='"DejaVu Sans", sans-serif' font-weight="bold" font-size="21.60" fill="#000">Tcell</text>
<text transform="translate(144.62,542.80) scale(1.0500,1)" font-family='"DejaVu Sans", sans-serif' font-weight="bold" font-size="24.50" fill="#000">NK</text>
<text transform="translate(307.75,551.90) scale(1.0500,1)" font-family='"DejaVu Sans", sans-serif' font-weight="bold" font-size="24.50" fill="#000">Bcell</text>
<text transform="translate(280.95,596.90) scale(1.0500,1)" font-family='"DejaVu Sans", sans-serif' font-weight="bold" font-size="24.50" fill="#000">Myeloid</text>
<text transform="translate(245.71,695.00) scale(1.0500,1)" font-family='"DejaVu Sans", sans-serif' font-weight="bold" font-size="24.50" fill="#000">Tcell</text>
<text transform="translate(973.65,561.80) scale(0.9200,1)" font-family='"DejaVu Sans", sans-serif' font-weight="bold" font-size="14.50" fill="#000">3</text>
<text transform="translate(1213.28,571.20) scale(0.9200,1)" font-family='"DejaVu Sans", sans-serif' font-weight="bold" font-size="14.50" fill="#000">4</text>
<text transform="translate(1111.11,616.90) scale(0.9200,1)" font-family='"DejaVu Sans", sans-serif' font-weight="bold" font-size="14.50" fill="#000">5</text>
<text transform="translate(997.01,658.40) scale(0.9200,1)" font-family='"DejaVu Sans", sans-serif' font-weight="bold" font-size="14.50" fill="#000">6</text>
<text transform="translate(942.71,702.50) scale(0.9200,1)" font-family='"DejaVu Sans", sans-serif' font-weight="bold" font-size="14.50" fill="#000">2</text>
<text transform="translate(1075.26,695.10) scale(0.9200,1)" font-family='"DejaVu Sans", sans-serif' font-weight="bold" font-size="14.50" fill="#000">1</text>
<text transform="translate(1099.75,744.50) scale(0.9200,1)" font-family='"DejaVu Sans", sans-serif' font-weight="bold" font-size="14.50" fill="#000">0</text>
<rect x="486.4" y="533.3" width="346.4" height="240.7" fill="none" stroke="#222" stroke-width="1.1"/>
<text transform="translate(525.33,794.00)" font-family='"DejaVu Sans", sans-serif' font-weight="normal" font-size="17.30" fill="#000">10</text>
<text transform="translate(595.93,794.00)" font-family='"DejaVu Sans", sans-serif' font-weight="normal" font-size="17.30" fill="#000">20</text>
<text transform="translate(666.01,794.00)" font-family='"DejaVu Sans", sans-serif' font-weight="normal" font-size="17.30" fill="#000">30</text>
<text transform="translate(736.44,794.00)" font-family='"DejaVu Sans", sans-serif' font-weight="normal" font-size="17.30" fill="#000">40</text>
<text transform="translate(806.11,794.00)" font-family='"DejaVu Sans", sans-serif' font-weight="normal" font-size="17.30" fill="#000">50</text>
<text transform="translate(440.83,562.60)" font-family='"DejaVu Sans", sans-serif' font-weight="normal" font-size="17.30" fill="#000">0.97</text>
<text transform="translate(440.45,709.70)" font-family='"DejaVu Sans", sans-serif' font-weight="normal" font-size="17.30" fill="#000">0.96</text>
<path d="M536.7 774.0v3.2M607.0 774.0v3.2M677.1 774.0v3.2M747.3 774.0v3.2M817.2 774.0v3.2M486.4 556.3h-3.2M486.4 703.4h-3.2" stroke="#222" stroke-width="1.1" fill="none"/>
<polyline points="501.1,573.8 536.6,605.7 607,651.5 677,696.9 747.2,731.6 817.1,762.7" fill="none" stroke="#1f77b4" stroke-width="1.7" stroke-linejoin="round"/>
<polyline points="501.1,543.2 536.6,580.2 607,630.5 677,680.4 747.2,723.0 817.1,757.9" fill="none" stroke="#ff7f0e" stroke-width="1.7" stroke-linejoin="round"/>
<text transform="translate(573.10,527.80)" font-family='"DejaVu Sans", sans-serif' font-weight="normal" font-size="21.50" fill="#000">KNN agreement</text>
<text transform="translate(570.42,819.20) scale(1.0147,1)" font-family='"Liberation Sans", Arial, sans-serif' font-weight="normal" font-size="24.40" fill="#000">Neighborhood size</text>
<path d="M641.5 566.3H676.9" stroke="#1f77b4" stroke-width="1.7"/><path d="M641.5 591.8H676.9" stroke="#ff7f0e" stroke-width="1.7"/>
<text transform="translate(688.09,572.40) scale(1.0307,1)" font-family='"DejaVu Sans", sans-serif' font-weight="normal" font-size="17.00" fill="#000">Mimitou et al.</text>
<text transform="translate(688.91,597.90)" font-family='"DejaVu Sans", sans-serif' font-weight="normal" font-size="17.00" fill="#000">scMoMaT</text>
<rect x="1278.2" y="527.5" width="373.3" height="275.6" fill="#fff" stroke="#000" stroke-width="2"/>
<path d="M1523.5 527.5V803.1M1278.2 562.8H1651.5M1278.2 597.2H1651.5M1278.2 631.8H1651.5M1278.2 666.2H1651.5M1278.2 700.4H1651.5M1278.2 734.6H1651.5M1278.2 768.8H1651.5" stroke="#000" stroke-width="2" fill="none"/>
<text transform="translate(1536.52,552.30)" font-family='"Liberation Sans", Arial, sans-serif' font-weight="bold" font-size="21.80" fill="#000">Cluster ID</text>
<text transform="translate(1330.25,587.80)" font-family='"Liberation Sans", Arial, sans-serif' font-weight="bold" font-size="21.80" fill="#000">Naive CD4+ T</text>
<text transform="translate(1581.53,587.80)" font-family='"Liberation Sans", Arial, sans-serif' font-weight="normal" font-size="21.50" fill="#000">0</text>
<text transform="translate(1330.25,622.30)" font-family='"Liberation Sans", Arial, sans-serif' font-weight="bold" font-size="21.80" fill="#000">Naive CD8+ T</text>
<text transform="translate(1581.51,622.30)" font-family='"Liberation Sans", Arial, sans-serif' font-weight="normal" font-size="21.50" fill="#000">2</text>
<text transform="translate(1306.32,656.80)" font-family='"Liberation Sans", Arial, sans-serif' font-weight="bold" font-size="21.80" fill="#000">CD4+ regulatory T</text>
<text transform="translate(1581.24,656.80)" font-family='"Liberation Sans", Arial, sans-serif' font-weight="normal" font-size="21.50" fill="#000">1</text>
<text transform="translate(1307.68,691.10)" font-family='"Liberation Sans", Arial, sans-serif' font-weight="bold" font-size="21.80" fill="#000">Activated CD8+  T</text>
<text transform="translate(1581.45,691.10)" font-family='"Liberation Sans", Arial, sans-serif' font-weight="normal" font-size="21.50" fill="#000">6</text>
<text transform="translate(1392.76,725.30)" font-family='"Liberation Sans", Arial, sans-serif' font-weight="bold" font-size="21.80" fill="#000">B</text>
<text transform="translate(1581.59,725.30)" font-family='"Liberation Sans", Arial, sans-serif' font-weight="normal" font-size="21.50" fill="#000">4</text>
<text transform="translate(1384.47,759.50)" font-family='"Liberation Sans", Arial, sans-serif' font-weight="bold" font-size="21.80" fill="#000">NK</text>
<text transform="translate(1581.59,759.50)" font-family='"Liberation Sans", Arial, sans-serif' font-weight="normal" font-size="21.50" fill="#000">3</text>
<text transform="translate(1360.27,793.75)" font-family='"Liberation Sans", Arial, sans-serif' font-weight="bold" font-size="21.80" fill="#000">Myeloid</text>
<text transform="translate(1581.53,793.75)" font-family='"Liberation Sans", Arial, sans-serif' font-weight="normal" font-size="21.50" fill="#000">5</text>
</svg></body></html>
